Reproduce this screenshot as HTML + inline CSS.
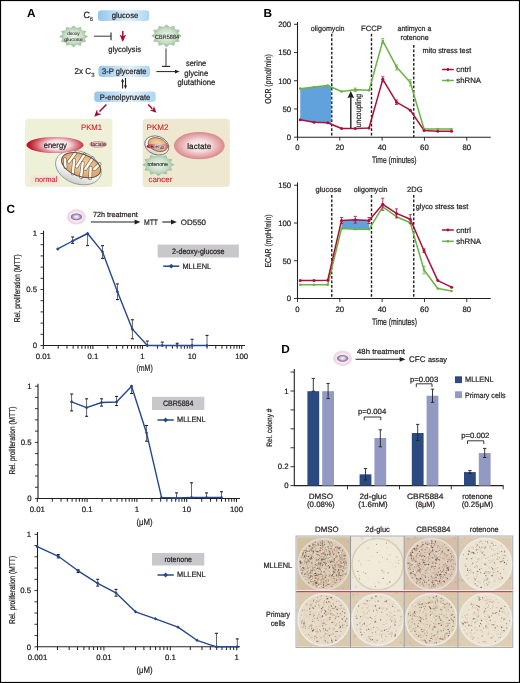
<!DOCTYPE html>
<html><head><meta charset="utf-8"><title>Figure</title>
<style>html,body{margin:0;padding:0;background:#fff;}svg{display:block;will-change:transform;text-rendering:geometricPrecision;font-family:"Liberation Sans", sans-serif;}</style>
</head><body>
<svg width="520" height="683" viewBox="0 0 520 683" font-family='"Liberation Sans", sans-serif' fill="#231f20" stroke-linecap="butt"><defs>
<linearGradient id="gbox" x1="0" y1="0" x2="1" y2="0">
<stop offset="0" stop-color="#92c6eb"/><stop offset="0.6" stop-color="#e2f1fb"/><stop offset="1" stop-color="#add6f1"/></linearGradient>
<radialGradient id="gstar" cx="0.5" cy="0.5" r="0.5">
<stop offset="0" stop-color="#eef5ec"/><stop offset="0.6" stop-color="#c9dec7"/><stop offset="1" stop-color="#92b994"/></radialGradient>
<radialGradient id="gred" cx="0.55" cy="0.5" r="0.5" gradientTransform="translate(0.55 0.5) scale(1 1.5) translate(-0.55 -0.5)">
<stop offset="0" stop-color="#ffffff"/><stop offset="0.4" stop-color="#f5dde0"/><stop offset="0.78" stop-color="#d35a68"/><stop offset="1" stop-color="#b8182a"/></radialGradient>
<radialGradient id="glac" cx="0.5" cy="0.5" r="0.5">
<stop offset="0" stop-color="#fdf8f6"/><stop offset="0.45" stop-color="#f4d9d9"/><stop offset="0.8" stop-color="#e4a5a8"/><stop offset="1" stop-color="#d8878c"/></radialGradient>
<radialGradient id="gcellout" cx="0.5" cy="0.5" r="0.5">
<stop offset="0" stop-color="#fcf3f8"/><stop offset="0.6" stop-color="#f9eaf3"/><stop offset="0.86" stop-color="#f0d2e5"/><stop offset="1" stop-color="#f7e3ef"/></radialGradient>
<radialGradient id="gcellin" cx="0.5" cy="0.5" r="0.5">
<stop offset="0" stop-color="#ffffff"/><stop offset="0.45" stop-color="#d2c8dc"/><stop offset="1" stop-color="#76598f"/></radialGradient>
<radialGradient id="gmito" cx="0.5" cy="0.45" r="0.55">
<stop offset="0" stop-color="#f7dcb6"/><stop offset="1" stop-color="#dca066"/></radialGradient>
<filter id="pblur" x="0" y="0" width="1" height="1"><feGaussianBlur stdDeviation="0.3"/></filter>
<linearGradient id="gmout" x1="0" y1="0" x2="0" y2="1">
<stop offset="0" stop-color="#ffffff"/><stop offset="0.65" stop-color="#f5f5f5"/><stop offset="1" stop-color="#cdcdcd"/></linearGradient>
</defs>
<rect x="0" y="0" width="520" height="683" fill="#fff"/>
<text x="27" y="16.8" font-size="11.8" fill="#000" font-weight="bold">A</text>
<text x="83.6" y="18.2" font-size="9" stroke="#231f20" stroke-width="0.22">C</text>
<text x="89.8" y="20.5" font-size="6" stroke="#231f20" stroke-width="0.1">6</text>
<rect x="98" y="10.2" width="51.2" height="10.8" rx="3.2" fill="url(#gbox)"/>
<text x="125" y="18.3" font-size="8" text-anchor="middle" textLength="26.6" lengthAdjust="spacingAndGlyphs" stroke="#231f20" stroke-width="0.22">glucose</text>
<polygon points="88,36.4 84.73,38.64 86.07,41.8 81.75,42.51 80.8,45.75 76.58,44.75 73.6,47.2 70.62,44.75 66.4,45.75 65.45,42.51 61.13,41.8 62.47,38.64 59.2,36.4 62.47,34.16 61.13,31 65.45,30.29 66.4,27.05 70.62,28.05 73.6,25.6 76.58,28.05 80.8,27.05 81.75,30.29 86.07,31 84.73,34.16" fill="url(#gstar)"/>
<text x="73.4" y="35" font-size="4.8" text-anchor="middle" textLength="12.5" lengthAdjust="spacingAndGlyphs" stroke="#231f20" stroke-width="0.05">deoxy</text>
<text x="73.4" y="41" font-size="4.8" text-anchor="middle" textLength="18.5" lengthAdjust="spacingAndGlyphs" stroke="#231f20" stroke-width="0.05">glucose</text>
<line x1="94" y1="36.2" x2="111" y2="36.2" stroke="#231f20" stroke-width="0.9"/>
<line x1="111" y1="32.4" x2="111" y2="40.2" stroke="#231f20" stroke-width="1.1"/>
<line x1="122.8" y1="30.9" x2="122.8" y2="37" stroke="#a8062f" stroke-width="1.5"/>
<polygon points="122.8,41.9 119.5,34.5 122.8,36.57 126.1,34.5" fill="#a8062f"/>
<text x="108.2" y="52.2" font-size="8" textLength="32.8" lengthAdjust="spacingAndGlyphs" stroke="#231f20" stroke-width="0.22">glycolysis</text>
<polygon points="181.7,35.8 178.25,38.16 179.66,41.5 175.1,42.25 174.1,45.67 169.65,44.61 166.5,47.2 163.35,44.61 158.9,45.67 157.9,42.25 153.34,41.5 154.75,38.16 151.3,35.8 154.75,33.44 153.34,30.1 157.9,29.35 158.9,25.93 163.35,26.99 166.5,24.4 169.65,26.99 174.1,25.93 175.1,29.35 179.66,30.1 178.25,33.44" fill="url(#gstar)"/>
<text x="167.1" y="38.5" font-size="6" text-anchor="middle" textLength="24" lengthAdjust="spacingAndGlyphs" stroke="#231f20" stroke-width="0.1">CBR5884</text>
<line x1="166" y1="48.5" x2="166" y2="66.4" stroke="#231f20" stroke-width="0.9"/>
<line x1="162" y1="66.4" x2="170.2" y2="66.4" stroke="#231f20" stroke-width="1.1"/>
<text x="74.6" y="73.8" font-size="8.6" textLength="16.4" lengthAdjust="spacingAndGlyphs" stroke="#231f20" stroke-width="0.22">2x C</text>
<text x="91.3" y="76.8" font-size="6" stroke="#231f20" stroke-width="0.1">3</text>
<rect x="98.5" y="65.8" width="51.5" height="11.2" rx="3.2" fill="url(#gbox)"/>
<text x="124.3" y="74.4" font-size="8" text-anchor="middle" textLength="44.5" lengthAdjust="spacingAndGlyphs" stroke="#231f20" stroke-width="0.22">3-P glycerate</text>
<line x1="156.4" y1="71.6" x2="176" y2="71.6" stroke="#231f20" stroke-width="1"/>
<polygon points="179.6,71.6 175,73.5 175,69.7" fill="#231f20"/>
<text x="196.1" y="66.4" font-size="8.2" text-anchor="middle" textLength="20.4" lengthAdjust="spacingAndGlyphs" stroke="#231f20" stroke-width="0.22">serine</text>
<text x="196.2" y="75.9" font-size="8.2" text-anchor="middle" textLength="24" lengthAdjust="spacingAndGlyphs" stroke="#231f20" stroke-width="0.22">glycine</text>
<text x="196.4" y="85.3" font-size="8.2" text-anchor="middle" textLength="37.8" lengthAdjust="spacingAndGlyphs" stroke="#231f20" stroke-width="0.22">glutathione</text>
<line x1="122.6" y1="88.6" x2="122.6" y2="80.5" stroke="#231f20" stroke-width="1.1"/>
<polygon points="122.6,78.4 124.15,81.8 121.05,81.8" fill="#231f20"/>
<line x1="125.5" y1="78" x2="125.5" y2="86.5" stroke="#231f20" stroke-width="1.1"/>
<polygon points="125.5,89 123.95,85.6 127.05,85.6" fill="#231f20"/>
<rect x="94.3" y="91.6" width="61.4" height="10.4" rx="3.2" fill="url(#gbox)"/>
<text x="125" y="99.6" font-size="8" text-anchor="middle" textLength="50.5" lengthAdjust="spacingAndGlyphs" stroke="#231f20" stroke-width="0.22">P-enolpyruvate</text>
<line x1="106.4" y1="104.5" x2="99.5" y2="111.6" stroke="#a8062f" stroke-width="1.5"/>
<polygon points="94.2,116.8 96.96,109.38 97.87,113.13 101.62,114.04" fill="#a8062f"/>
<line x1="148.2" y1="104.5" x2="152.3" y2="108.7" stroke="#a8062f" stroke-width="1.5"/>
<polygon points="156.4,112.8 149.54,110.33 153.04,109.44 153.93,105.94" fill="#a8062f"/>
<rect x="25" y="118.8" width="87.4" height="68.2" rx="3.5" fill="#eef0d8"/>
<rect x="142.7" y="118.8" width="87.1" height="68.2" rx="3.5" fill="#efe8d1"/>
<text x="81" y="129.6" font-size="8" textLength="21" lengthAdjust="spacingAndGlyphs" fill="#cc2233" stroke="#cc2233" stroke-width="0.1">PKM1</text>
<text x="146.6" y="129.6" font-size="8" textLength="22" lengthAdjust="spacingAndGlyphs" fill="#cc2233" stroke="#cc2233" stroke-width="0.1">PKM2</text>
<rect x="30" y="175.3" width="29.2" height="9.2" fill="#f3e6d8"/>
<text x="35" y="181.8" font-size="7.8" textLength="22" lengthAdjust="spacingAndGlyphs" fill="#cc2233" stroke="#cc2233" stroke-width="0.1">normal</text>
<text x="148.5" y="181.8" font-size="7.8" textLength="23.8" lengthAdjust="spacingAndGlyphs" fill="#cc2233" stroke="#cc2233" stroke-width="0.1">cancer</text>
<ellipse cx="78.4" cy="167.6" rx="23.6" ry="16.2" fill="url(#gmout)" stroke="#8e8e8e" stroke-width="0.8" transform="rotate(20 78.4 167.6)"/>
<g transform="rotate(20 81.1 165.2)">
<ellipse cx="81.1" cy="165.2" rx="20.4" ry="11.2" fill="url(#gmito)"/>
<path d="M67.1,172.42 L63.9,165.2" stroke="#6e5e48" stroke-width="3.7" stroke-linecap="round"/>
<path d="M67.1,172.42 L63.9,165.2" stroke="#fbf8ea" stroke-width="2.5" stroke-linecap="round"/>
<path d="M71.6,155.8 L68.4,166.14" stroke="#6e5e48" stroke-width="3.7" stroke-linecap="round"/>
<path d="M71.6,155.8 L68.4,166.14" stroke="#fbf8ea" stroke-width="2.5" stroke-linecap="round"/>
<path d="M76.1,175.8 L72.9,162.66" stroke="#6e5e48" stroke-width="3.7" stroke-linecap="round"/>
<path d="M76.1,175.8 L72.9,162.66" stroke="#fbf8ea" stroke-width="2.5" stroke-linecap="round"/>
<path d="M80.6,154.06 L77.4,167.87" stroke="#6e5e48" stroke-width="3.7" stroke-linecap="round"/>
<path d="M80.6,154.06 L77.4,167.87" stroke="#fbf8ea" stroke-width="2.5" stroke-linecap="round"/>
<path d="M85.1,176.32 L81.9,162.53" stroke="#6e5e48" stroke-width="3.7" stroke-linecap="round"/>
<path d="M85.1,176.32 L81.9,162.53" stroke="#fbf8ea" stroke-width="2.5" stroke-linecap="round"/>
<path d="M89.6,154.66 L86.4,167.31" stroke="#6e5e48" stroke-width="3.7" stroke-linecap="round"/>
<path d="M89.6,154.66 L86.4,167.31" stroke="#fbf8ea" stroke-width="2.5" stroke-linecap="round"/>
<path d="M94.1,174.49 L90.9,164.27" stroke="#6e5e48" stroke-width="3.7" stroke-linecap="round"/>
<path d="M94.1,174.49 L90.9,164.27" stroke="#fbf8ea" stroke-width="2.5" stroke-linecap="round"/>
<path d="M98.1,157.85 L94.9,164.47" stroke="#6e5e48" stroke-width="3.7" stroke-linecap="round"/>
<path d="M98.1,157.85 L94.9,164.47" stroke="#fbf8ea" stroke-width="2.5" stroke-linecap="round"/>
<ellipse cx="81.1" cy="165.2" rx="20.4" ry="11.2" fill="none" stroke="#5e5240" stroke-width="1"/>
</g>
<ellipse cx="55" cy="145" rx="28.6" ry="8" fill="url(#gred)"/>
<text x="55.3" y="148" font-size="8.2" text-anchor="middle" textLength="23.3" lengthAdjust="spacingAndGlyphs" stroke="#231f20" stroke-width="0.22">energy</text>
<ellipse cx="98.2" cy="144.3" rx="8.9" ry="3.3" fill="url(#glac)"/>
<text x="98.4" y="146.1" font-size="5.4" text-anchor="middle" textLength="14.6" lengthAdjust="spacingAndGlyphs" stroke="#231f20" stroke-width="0.05">lactate</text>
<ellipse cx="199.3" cy="145.6" rx="25.4" ry="13.6" fill="url(#glac)"/>
<text x="199.3" y="148.6" font-size="8" text-anchor="middle" textLength="24" lengthAdjust="spacingAndGlyphs" stroke="#231f20" stroke-width="0.22">lactate</text>
<g transform="rotate(20 156.8 145.5)">
<ellipse cx="156.8" cy="145.5" rx="12.4" ry="9.2" fill="url(#gmout)" stroke="#666" stroke-width="0.8"/>
<ellipse cx="157.5" cy="144.3" rx="10" ry="6.5" fill="url(#gmito)" stroke="#6e5a40" stroke-width="0.7"/>
</g>
<ellipse cx="157.6" cy="146.4" rx="11.2" ry="2.7" fill="url(#gred)"/>
<text x="157.4" y="147.8" font-size="4.6" text-anchor="middle" textLength="13.5" lengthAdjust="spacingAndGlyphs" stroke="#231f20" stroke-width="0.05">energy</text>
<polygon points="174.4,164.8 170.76,167.1 172.26,170.35 167.45,171.08 166.4,174.41 161.71,173.38 158.4,175.9 155.09,173.38 150.4,174.41 149.35,171.08 144.54,170.35 146.04,167.1 142.4,164.8 146.04,162.5 144.54,159.25 149.35,158.52 150.4,155.19 155.09,156.22 158.4,153.7 161.71,156.22 166.4,155.19 167.45,158.52 172.26,159.25 170.76,162.5" fill="url(#gstar)"/>
<text x="157.6" y="166.4" font-size="5.6" text-anchor="middle" textLength="20.4" lengthAdjust="spacingAndGlyphs" stroke="#231f20" stroke-width="0.1">rotenone</text>
<text x="263.6" y="16.9" font-size="11.8" fill="#000" font-weight="bold">B</text>
<line x1="297.5" y1="22" x2="297.5" y2="137.7" stroke="#231f20" stroke-width="1.1"/>
<line x1="297" y1="137.2" x2="490.8" y2="137.2" stroke="#231f20" stroke-width="1.1"/>
<line x1="294" y1="137.2" x2="297.5" y2="137.2" stroke="#231f20" stroke-width="0.9"/>
<text x="291.2" y="140" font-size="7.8" text-anchor="end" stroke="#231f20" stroke-width="0.22">0</text>
<line x1="294" y1="108.97" x2="297.5" y2="108.97" stroke="#231f20" stroke-width="0.9"/>
<text x="291.2" y="111.77" font-size="7.8" text-anchor="end" stroke="#231f20" stroke-width="0.22">50</text>
<line x1="294" y1="80.75" x2="297.5" y2="80.75" stroke="#231f20" stroke-width="0.9"/>
<text x="291.2" y="83.55" font-size="7.8" text-anchor="end" stroke="#231f20" stroke-width="0.22">100</text>
<line x1="294" y1="52.52" x2="297.5" y2="52.52" stroke="#231f20" stroke-width="0.9"/>
<text x="291.2" y="55.32" font-size="7.8" text-anchor="end" stroke="#231f20" stroke-width="0.22">150</text>
<line x1="294" y1="24.3" x2="297.5" y2="24.3" stroke="#231f20" stroke-width="0.9"/>
<text x="291.2" y="27.1" font-size="7.8" text-anchor="end" stroke="#231f20" stroke-width="0.22">200</text>
<line x1="297.5" y1="137.2" x2="297.5" y2="140.7" stroke="#231f20" stroke-width="0.9"/>
<text x="297.5" y="150.4" font-size="7.8" text-anchor="middle" stroke="#231f20" stroke-width="0.22">0</text>
<line x1="339.82" y1="137.2" x2="339.82" y2="140.7" stroke="#231f20" stroke-width="0.9"/>
<text x="339.82" y="150.4" font-size="7.8" text-anchor="middle" stroke="#231f20" stroke-width="0.22">20</text>
<line x1="382.14" y1="137.2" x2="382.14" y2="140.7" stroke="#231f20" stroke-width="0.9"/>
<text x="382.14" y="150.4" font-size="7.8" text-anchor="middle" stroke="#231f20" stroke-width="0.22">40</text>
<line x1="424.46" y1="137.2" x2="424.46" y2="140.7" stroke="#231f20" stroke-width="0.9"/>
<text x="424.46" y="150.4" font-size="7.8" text-anchor="middle" stroke="#231f20" stroke-width="0.22">60</text>
<line x1="466.78" y1="137.2" x2="466.78" y2="140.7" stroke="#231f20" stroke-width="0.9"/>
<text x="466.78" y="150.4" font-size="7.8" text-anchor="middle" stroke="#231f20" stroke-width="0.22">80</text>
<text x="394.3" y="163.3" font-size="9.3" text-anchor="middle" textLength="44.6" lengthAdjust="spacingAndGlyphs" stroke="#231f20" stroke-width="0.22">Time (minutes)</text>
<text x="271.2" y="79" font-size="8.6" text-anchor="middle" textLength="49.5" lengthAdjust="spacingAndGlyphs" stroke="#231f20" stroke-width="0.22" transform="rotate(-90 271.2 79)">OCR (pmol/min)</text>
<line x1="331.75" y1="33.8" x2="331.75" y2="137.2" stroke="#231f20" stroke-width="1.4" stroke-dasharray="2.8,1.7"/>
<line x1="371.5" y1="33.8" x2="371.5" y2="137.2" stroke="#231f20" stroke-width="1.4" stroke-dasharray="2.8,1.7"/>
<line x1="413.75" y1="45" x2="413.75" y2="137.2" stroke="#231f20" stroke-width="1.4" stroke-dasharray="2.8,1.7"/>
<text x="310.8" y="31" font-size="7.6" textLength="33.8" lengthAdjust="spacingAndGlyphs" stroke="#231f20" stroke-width="0.22">oligomycin</text>
<text x="361" y="31" font-size="7.6" textLength="21" lengthAdjust="spacingAndGlyphs" stroke="#231f20" stroke-width="0.22">FCCP</text>
<text x="397.5" y="31" font-size="7.6" textLength="33.8" lengthAdjust="spacingAndGlyphs" stroke="#231f20" stroke-width="0.22">antimycn a</text>
<text x="400.5" y="40.2" font-size="7.6" textLength="28.3" lengthAdjust="spacingAndGlyphs" stroke="#231f20" stroke-width="0.22">rotenone</text>
<text x="422.5" y="53" font-size="7.6" textLength="48.8" lengthAdjust="spacingAndGlyphs" stroke="#231f20" stroke-width="0.22">mito stress test</text>
<polygon points="300.25,88.65 314,86.96 327.76,85.55 331.2,87.03 331.2,124.13 327.76,122.69 314,122.24 300.25,119.7" fill="#62a2dc"/>
<polyline points="300.25,88.65 314,86.96 327.76,85.55 341.51,91.48 355.27,89.78 369.02,90.35 382.77,40.95 396.53,66.92 410.28,82.44 424.04,129.01 437.79,129.01 451.54,129.01" fill="none" stroke="#6ab344" stroke-width="1.5" stroke-linejoin="round"/>
<polyline points="300.25,119.7 314,122.24 327.76,122.69 341.51,128.45 355.27,128.45 369.02,128 382.77,79.34 396.53,102.2 410.28,110.22 424.04,130.43 437.79,131.22 451.54,131.22" fill="none" stroke="#ab1038" stroke-width="1.5" stroke-linejoin="round"/>
<circle cx="300.25" cy="88.65" r="1.3" fill="#6ab344"/>
<circle cx="314" cy="86.96" r="1.3" fill="#6ab344"/>
<circle cx="327.76" cy="85.55" r="1.3" fill="#6ab344"/>
<circle cx="341.51" cy="91.48" r="1.3" fill="#6ab344"/>
<circle cx="355.27" cy="89.78" r="1.3" fill="#6ab344"/>
<circle cx="369.02" cy="90.35" r="1.3" fill="#6ab344"/>
<circle cx="382.77" cy="40.95" r="1.3" fill="#6ab344"/>
<circle cx="396.53" cy="66.92" r="1.3" fill="#6ab344"/>
<circle cx="410.28" cy="82.44" r="1.3" fill="#6ab344"/>
<circle cx="424.04" cy="129.01" r="1.3" fill="#6ab344"/>
<circle cx="437.79" cy="129.01" r="1.3" fill="#6ab344"/>
<circle cx="451.54" cy="129.01" r="1.3" fill="#6ab344"/>
<circle cx="300.25" cy="119.7" r="1.5" fill="#ab1038"/>
<circle cx="314" cy="122.24" r="1.5" fill="#ab1038"/>
<circle cx="327.76" cy="122.69" r="1.5" fill="#ab1038"/>
<circle cx="341.51" cy="128.45" r="1.5" fill="#ab1038"/>
<circle cx="355.27" cy="128.45" r="1.5" fill="#ab1038"/>
<circle cx="369.02" cy="128" r="1.5" fill="#ab1038"/>
<circle cx="382.77" cy="79.34" r="1.5" fill="#ab1038"/>
<circle cx="396.53" cy="102.2" r="1.5" fill="#ab1038"/>
<circle cx="410.28" cy="110.22" r="1.5" fill="#ab1038"/>
<circle cx="424.04" cy="130.43" r="1.5" fill="#ab1038"/>
<circle cx="437.79" cy="131.22" r="1.5" fill="#ab1038"/>
<circle cx="451.54" cy="131.22" r="1.5" fill="#ab1038"/>
<line x1="382.77" y1="76.8" x2="382.77" y2="81.88" stroke="#ab1038" stroke-width="0.8"/>
<line x1="381.17" y1="76.8" x2="384.37" y2="76.8" stroke="#ab1038" stroke-width="0.8"/>
<line x1="381.17" y1="81.88" x2="384.37" y2="81.88" stroke="#ab1038" stroke-width="0.8"/>
<line x1="396.53" y1="99.94" x2="396.53" y2="104.46" stroke="#ab1038" stroke-width="0.8"/>
<line x1="394.93" y1="99.94" x2="398.13" y2="99.94" stroke="#ab1038" stroke-width="0.8"/>
<line x1="394.93" y1="104.46" x2="398.13" y2="104.46" stroke="#ab1038" stroke-width="0.8"/>
<line x1="396.53" y1="64.94" x2="396.53" y2="70.02" stroke="#6ab344" stroke-width="0.8"/>
<line x1="394.93" y1="64.94" x2="398.13" y2="64.94" stroke="#6ab344" stroke-width="0.8"/>
<line x1="394.93" y1="70.02" x2="398.13" y2="70.02" stroke="#6ab344" stroke-width="0.8"/>
<line x1="382.77" y1="38.41" x2="382.77" y2="43.49" stroke="#6ab344" stroke-width="0.8"/>
<line x1="381.17" y1="38.41" x2="384.37" y2="38.41" stroke="#6ab344" stroke-width="0.8"/>
<line x1="381.17" y1="43.49" x2="384.37" y2="43.49" stroke="#6ab344" stroke-width="0.8"/>
<line x1="410.28" y1="79.62" x2="410.28" y2="85.83" stroke="#6ab344" stroke-width="0.8"/>
<line x1="408.68" y1="79.62" x2="411.88" y2="79.62" stroke="#6ab344" stroke-width="0.8"/>
<line x1="408.68" y1="85.83" x2="411.88" y2="85.83" stroke="#6ab344" stroke-width="0.8"/>
<line x1="355.27" y1="88.09" x2="355.27" y2="91.48" stroke="#6ab344" stroke-width="0.8"/>
<line x1="353.67" y1="88.09" x2="356.87" y2="88.09" stroke="#6ab344" stroke-width="0.8"/>
<line x1="353.67" y1="91.48" x2="356.87" y2="91.48" stroke="#6ab344" stroke-width="0.8"/>
<line x1="350.8" y1="128.2" x2="350.8" y2="96" stroke="#231f20" stroke-width="1.4"/>
<polygon points="350.8,91 354.1,98 350.8,97.16 347.5,98" fill="#231f20"/>
<text x="360.6" y="127.2" font-size="8" textLength="33.2" lengthAdjust="spacingAndGlyphs" stroke="#231f20" stroke-width="0.22" transform="rotate(-90 360.6 127.2)">uncoupling</text>
<line x1="442" y1="69.5" x2="453.8" y2="69.5" stroke="#ab1038" stroke-width="1.5"/>
<circle cx="447.9" cy="69.5" r="1.4" fill="#ab1038"/>
<text x="456.3" y="72.3" font-size="7.8" stroke="#231f20" stroke-width="0.22">cntrl</text>
<line x1="442" y1="80.5" x2="453.8" y2="80.5" stroke="#6ab344" stroke-width="1.5"/>
<circle cx="447.9" cy="80.5" r="1.4" fill="#6ab344"/>
<text x="456.3" y="83.3" font-size="7.8" stroke="#231f20" stroke-width="0.22">shRNA</text>
<line x1="297.5" y1="182.5" x2="297.5" y2="299" stroke="#231f20" stroke-width="1.1"/>
<line x1="297" y1="298.5" x2="490.8" y2="298.5" stroke="#231f20" stroke-width="1.1"/>
<line x1="294" y1="298.5" x2="297.5" y2="298.5" stroke="#231f20" stroke-width="0.9"/>
<text x="291.2" y="301.3" font-size="7.8" text-anchor="end" stroke="#231f20" stroke-width="0.22">0</text>
<line x1="294" y1="260.75" x2="297.5" y2="260.75" stroke="#231f20" stroke-width="0.9"/>
<text x="291.2" y="263.55" font-size="7.8" text-anchor="end" stroke="#231f20" stroke-width="0.22">50</text>
<line x1="294" y1="223" x2="297.5" y2="223" stroke="#231f20" stroke-width="0.9"/>
<text x="291.2" y="225.8" font-size="7.8" text-anchor="end" stroke="#231f20" stroke-width="0.22">100</text>
<line x1="294" y1="185.25" x2="297.5" y2="185.25" stroke="#231f20" stroke-width="0.9"/>
<text x="291.2" y="188.05" font-size="7.8" text-anchor="end" stroke="#231f20" stroke-width="0.22">150</text>
<line x1="297.5" y1="298.5" x2="297.5" y2="302" stroke="#231f20" stroke-width="0.9"/>
<text x="297.5" y="311.7" font-size="7.8" text-anchor="middle" stroke="#231f20" stroke-width="0.22">0</text>
<line x1="339.82" y1="298.5" x2="339.82" y2="302" stroke="#231f20" stroke-width="0.9"/>
<text x="339.82" y="311.7" font-size="7.8" text-anchor="middle" stroke="#231f20" stroke-width="0.22">20</text>
<line x1="382.14" y1="298.5" x2="382.14" y2="302" stroke="#231f20" stroke-width="0.9"/>
<text x="382.14" y="311.7" font-size="7.8" text-anchor="middle" stroke="#231f20" stroke-width="0.22">40</text>
<line x1="424.46" y1="298.5" x2="424.46" y2="302" stroke="#231f20" stroke-width="0.9"/>
<text x="424.46" y="311.7" font-size="7.8" text-anchor="middle" stroke="#231f20" stroke-width="0.22">60</text>
<line x1="466.78" y1="298.5" x2="466.78" y2="302" stroke="#231f20" stroke-width="0.9"/>
<text x="466.78" y="311.7" font-size="7.8" text-anchor="middle" stroke="#231f20" stroke-width="0.22">80</text>
<text x="394.5" y="325.2" font-size="9.5" text-anchor="middle" textLength="45" lengthAdjust="spacingAndGlyphs" stroke="#231f20" stroke-width="0.22">Time (minutes)</text>
<text x="271.2" y="241" font-size="8.6" text-anchor="middle" textLength="53" lengthAdjust="spacingAndGlyphs" stroke="#231f20" stroke-width="0.22" transform="rotate(-90 271.2 241)">ECAR (mpH/min)</text>
<line x1="331.75" y1="195" x2="331.75" y2="298.5" stroke="#231f20" stroke-width="1.4" stroke-dasharray="2.8,1.7"/>
<line x1="371.5" y1="195" x2="371.5" y2="298.5" stroke="#231f20" stroke-width="1.4" stroke-dasharray="2.8,1.7"/>
<line x1="413.75" y1="195" x2="413.75" y2="298.5" stroke="#231f20" stroke-width="1.4" stroke-dasharray="2.8,1.7"/>
<text x="315.5" y="192" font-size="7.6" textLength="25.8" lengthAdjust="spacingAndGlyphs" stroke="#231f20" stroke-width="0.22">glucose</text>
<text x="353.8" y="192" font-size="7.6" textLength="33.8" lengthAdjust="spacingAndGlyphs" stroke="#231f20" stroke-width="0.22">oligomycin</text>
<text x="407" y="192" font-size="7.6" textLength="15.5" lengthAdjust="spacingAndGlyphs" stroke="#231f20" stroke-width="0.22">2DG</text>
<text x="415.8" y="208.8" font-size="7.6" textLength="52.5" lengthAdjust="spacingAndGlyphs" stroke="#231f20" stroke-width="0.22">glyco stress test</text>
<polygon points="341.51,220.51 355.27,219.75 369.02,220.51 369.02,229.27 355.27,229.27 341.51,228.51" fill="#62a2dc"/>
<polyline points="300.25,284.68 314,284.68 327.76,284.68 341.51,228.51 355.27,229.27 369.02,229.27 382.77,206.77 396.53,216.73 410.28,222.77 424.04,270.04 437.79,288.46 451.54,290.95" fill="none" stroke="#6ab344" stroke-width="1.5" stroke-linejoin="round"/>
<polyline points="300.25,280.61 314,280.61 327.76,280.15 341.51,220.51 355.27,219.75 369.02,220.51 382.77,204.28 396.53,213.41 410.28,219.22 424.04,250.71 437.79,280.61 451.54,287.18" fill="none" stroke="#ab1038" stroke-width="1.5" stroke-linejoin="round"/>
<circle cx="300.25" cy="284.68" r="1.3" fill="#6ab344"/>
<circle cx="314" cy="284.68" r="1.3" fill="#6ab344"/>
<circle cx="327.76" cy="284.68" r="1.3" fill="#6ab344"/>
<circle cx="341.51" cy="228.51" r="1.3" fill="#6ab344"/>
<circle cx="355.27" cy="229.27" r="1.3" fill="#6ab344"/>
<circle cx="369.02" cy="229.27" r="1.3" fill="#6ab344"/>
<circle cx="382.77" cy="206.77" r="1.3" fill="#6ab344"/>
<circle cx="396.53" cy="216.73" r="1.3" fill="#6ab344"/>
<circle cx="410.28" cy="222.77" r="1.3" fill="#6ab344"/>
<circle cx="424.04" cy="270.04" r="1.3" fill="#6ab344"/>
<circle cx="437.79" cy="288.46" r="1.3" fill="#6ab344"/>
<circle cx="451.54" cy="290.95" r="1.3" fill="#6ab344"/>
<circle cx="300.25" cy="280.61" r="1.5" fill="#ab1038"/>
<circle cx="314" cy="280.61" r="1.5" fill="#ab1038"/>
<circle cx="327.76" cy="280.15" r="1.5" fill="#ab1038"/>
<circle cx="341.51" cy="220.51" r="1.5" fill="#ab1038"/>
<circle cx="355.27" cy="219.75" r="1.5" fill="#ab1038"/>
<circle cx="369.02" cy="220.51" r="1.5" fill="#ab1038"/>
<circle cx="382.77" cy="204.28" r="1.5" fill="#ab1038"/>
<circle cx="396.53" cy="213.41" r="1.5" fill="#ab1038"/>
<circle cx="410.28" cy="219.22" r="1.5" fill="#ab1038"/>
<circle cx="424.04" cy="250.71" r="1.5" fill="#ab1038"/>
<circle cx="437.79" cy="280.61" r="1.5" fill="#ab1038"/>
<circle cx="451.54" cy="287.18" r="1.5" fill="#ab1038"/>
<line x1="341.51" y1="217.49" x2="341.51" y2="223.53" stroke="#ab1038" stroke-width="0.8"/>
<line x1="339.91" y1="217.49" x2="343.11" y2="217.49" stroke="#ab1038" stroke-width="0.8"/>
<line x1="339.91" y1="223.53" x2="343.11" y2="223.53" stroke="#ab1038" stroke-width="0.8"/>
<line x1="355.27" y1="216.36" x2="355.27" y2="223.15" stroke="#ab1038" stroke-width="0.8"/>
<line x1="353.67" y1="216.36" x2="356.87" y2="216.36" stroke="#ab1038" stroke-width="0.8"/>
<line x1="353.67" y1="223.15" x2="356.87" y2="223.15" stroke="#ab1038" stroke-width="0.8"/>
<line x1="369.02" y1="217.49" x2="369.02" y2="223.53" stroke="#ab1038" stroke-width="0.8"/>
<line x1="367.42" y1="217.49" x2="370.62" y2="217.49" stroke="#ab1038" stroke-width="0.8"/>
<line x1="367.42" y1="223.53" x2="370.62" y2="223.53" stroke="#ab1038" stroke-width="0.8"/>
<line x1="382.77" y1="198.24" x2="382.77" y2="210.32" stroke="#ab1038" stroke-width="0.8"/>
<line x1="381.17" y1="198.24" x2="384.37" y2="198.24" stroke="#ab1038" stroke-width="0.8"/>
<line x1="381.17" y1="210.32" x2="384.37" y2="210.32" stroke="#ab1038" stroke-width="0.8"/>
<line x1="396.53" y1="208.88" x2="396.53" y2="217.94" stroke="#ab1038" stroke-width="0.8"/>
<line x1="394.93" y1="208.88" x2="398.13" y2="208.88" stroke="#ab1038" stroke-width="0.8"/>
<line x1="394.93" y1="217.94" x2="398.13" y2="217.94" stroke="#ab1038" stroke-width="0.8"/>
<line x1="410.28" y1="214.69" x2="410.28" y2="223.75" stroke="#ab1038" stroke-width="0.8"/>
<line x1="408.68" y1="214.69" x2="411.88" y2="214.69" stroke="#ab1038" stroke-width="0.8"/>
<line x1="408.68" y1="223.75" x2="411.88" y2="223.75" stroke="#ab1038" stroke-width="0.8"/>
<line x1="424.04" y1="248.82" x2="424.04" y2="252.6" stroke="#ab1038" stroke-width="0.8"/>
<line x1="422.44" y1="248.82" x2="425.64" y2="248.82" stroke="#ab1038" stroke-width="0.8"/>
<line x1="422.44" y1="252.6" x2="425.64" y2="252.6" stroke="#ab1038" stroke-width="0.8"/>
<line x1="424.04" y1="266.26" x2="424.04" y2="273.81" stroke="#6ab344" stroke-width="0.8"/>
<line x1="422.44" y1="266.26" x2="425.64" y2="266.26" stroke="#6ab344" stroke-width="0.8"/>
<line x1="422.44" y1="273.81" x2="425.64" y2="273.81" stroke="#6ab344" stroke-width="0.8"/>
<line x1="442" y1="230" x2="453.8" y2="230" stroke="#ab1038" stroke-width="1.5"/>
<circle cx="447.9" cy="230" r="1.4" fill="#ab1038"/>
<text x="456.3" y="232.8" font-size="7.8" stroke="#231f20" stroke-width="0.22">cntrl</text>
<line x1="442" y1="241.3" x2="453.8" y2="241.3" stroke="#6ab344" stroke-width="1.5"/>
<circle cx="447.9" cy="241.3" r="1.4" fill="#6ab344"/>
<text x="456.3" y="244.1" font-size="7.8" stroke="#231f20" stroke-width="0.22">shRNA</text>
<text x="6.4" y="212.8" font-size="11.8" fill="#000" font-weight="bold">C</text>
<ellipse cx="76.4" cy="216.9" rx="9.6" ry="7.8" fill="url(#gcellout)"/>
<ellipse cx="76.4" cy="216.9" rx="5.6" ry="3.4" fill="url(#gcellin)"/>
<text x="93" y="216.6" font-size="7.4" textLength="44.7" lengthAdjust="spacingAndGlyphs" stroke="#231f20" stroke-width="0.22">72h treatment</text>
<line x1="90.8" y1="222" x2="135" y2="222" stroke="#231f20" stroke-width="1.1"/>
<polygon points="140.4,222 134.6,224.4 134.6,219.6" fill="#231f20"/>
<text x="144" y="225" font-size="7.9" textLength="14" lengthAdjust="spacingAndGlyphs" stroke="#231f20" stroke-width="0.22">MTT</text>
<line x1="162.3" y1="222" x2="172.5" y2="222" stroke="#231f20" stroke-width="1.1"/>
<polygon points="176.8,222 171,224.4 171,219.6" fill="#231f20"/>
<text x="180.8" y="225" font-size="7.8" textLength="25.2" lengthAdjust="spacingAndGlyphs" stroke="#231f20" stroke-width="0.22">OD550</text>
<line x1="43.5" y1="230.8" x2="43.5" y2="346" stroke="#231f20" stroke-width="1.1"/>
<line x1="40.5" y1="345.5" x2="43.5" y2="345.5" stroke="#231f20" stroke-width="0.9"/>
<line x1="40.5" y1="334.3" x2="43.5" y2="334.3" stroke="#231f20" stroke-width="0.9"/>
<line x1="40.5" y1="323.1" x2="43.5" y2="323.1" stroke="#231f20" stroke-width="0.9"/>
<line x1="40.5" y1="311.9" x2="43.5" y2="311.9" stroke="#231f20" stroke-width="0.9"/>
<line x1="40.5" y1="300.7" x2="43.5" y2="300.7" stroke="#231f20" stroke-width="0.9"/>
<line x1="40.5" y1="289.5" x2="43.5" y2="289.5" stroke="#231f20" stroke-width="0.9"/>
<line x1="40.5" y1="278.3" x2="43.5" y2="278.3" stroke="#231f20" stroke-width="0.9"/>
<line x1="40.5" y1="267.1" x2="43.5" y2="267.1" stroke="#231f20" stroke-width="0.9"/>
<line x1="40.5" y1="255.9" x2="43.5" y2="255.9" stroke="#231f20" stroke-width="0.9"/>
<line x1="40.5" y1="244.7" x2="43.5" y2="244.7" stroke="#231f20" stroke-width="0.9"/>
<line x1="40.5" y1="233.5" x2="43.5" y2="233.5" stroke="#231f20" stroke-width="0.9"/>
<text x="37" y="348.3" font-size="7.8" text-anchor="end" stroke="#231f20" stroke-width="0.22">0</text>
<text x="37" y="292.3" font-size="7.8" text-anchor="end" stroke="#231f20" stroke-width="0.22">0.5</text>
<text x="37" y="236.3" font-size="7.8" text-anchor="end" stroke="#231f20" stroke-width="0.22">1</text>
<line x1="43" y1="345.5" x2="245" y2="345.5" stroke="#231f20" stroke-width="1.1"/>
<line x1="43.3" y1="345.5" x2="43.3" y2="349.1" stroke="#231f20" stroke-width="1"/>
<line x1="58.23" y1="345.5" x2="58.23" y2="348.7" stroke="#231f20" stroke-width="1"/>
<line x1="66.97" y1="345.5" x2="66.97" y2="348.7" stroke="#231f20" stroke-width="1"/>
<line x1="73.16" y1="345.5" x2="73.16" y2="348.7" stroke="#231f20" stroke-width="1"/>
<line x1="77.97" y1="345.5" x2="77.97" y2="348.7" stroke="#231f20" stroke-width="1"/>
<line x1="81.9" y1="345.5" x2="81.9" y2="348.7" stroke="#231f20" stroke-width="1"/>
<line x1="85.22" y1="345.5" x2="85.22" y2="348.7" stroke="#231f20" stroke-width="1"/>
<line x1="88.09" y1="345.5" x2="88.09" y2="348.7" stroke="#231f20" stroke-width="1"/>
<line x1="90.63" y1="345.5" x2="90.63" y2="348.7" stroke="#231f20" stroke-width="1"/>
<line x1="92.9" y1="345.5" x2="92.9" y2="349.1" stroke="#231f20" stroke-width="1"/>
<line x1="107.83" y1="345.5" x2="107.83" y2="348.7" stroke="#231f20" stroke-width="1"/>
<line x1="116.57" y1="345.5" x2="116.57" y2="348.7" stroke="#231f20" stroke-width="1"/>
<line x1="122.76" y1="345.5" x2="122.76" y2="348.7" stroke="#231f20" stroke-width="1"/>
<line x1="127.57" y1="345.5" x2="127.57" y2="348.7" stroke="#231f20" stroke-width="1"/>
<line x1="131.5" y1="345.5" x2="131.5" y2="348.7" stroke="#231f20" stroke-width="1"/>
<line x1="134.82" y1="345.5" x2="134.82" y2="348.7" stroke="#231f20" stroke-width="1"/>
<line x1="137.69" y1="345.5" x2="137.69" y2="348.7" stroke="#231f20" stroke-width="1"/>
<line x1="140.23" y1="345.5" x2="140.23" y2="348.7" stroke="#231f20" stroke-width="1"/>
<line x1="142.5" y1="345.5" x2="142.5" y2="349.1" stroke="#231f20" stroke-width="1"/>
<line x1="157.43" y1="345.5" x2="157.43" y2="348.7" stroke="#231f20" stroke-width="1"/>
<line x1="166.17" y1="345.5" x2="166.17" y2="348.7" stroke="#231f20" stroke-width="1"/>
<line x1="172.36" y1="345.5" x2="172.36" y2="348.7" stroke="#231f20" stroke-width="1"/>
<line x1="177.17" y1="345.5" x2="177.17" y2="348.7" stroke="#231f20" stroke-width="1"/>
<line x1="181.1" y1="345.5" x2="181.1" y2="348.7" stroke="#231f20" stroke-width="1"/>
<line x1="184.42" y1="345.5" x2="184.42" y2="348.7" stroke="#231f20" stroke-width="1"/>
<line x1="187.29" y1="345.5" x2="187.29" y2="348.7" stroke="#231f20" stroke-width="1"/>
<line x1="189.83" y1="345.5" x2="189.83" y2="348.7" stroke="#231f20" stroke-width="1"/>
<line x1="192.1" y1="345.5" x2="192.1" y2="349.1" stroke="#231f20" stroke-width="1"/>
<line x1="207.03" y1="345.5" x2="207.03" y2="348.7" stroke="#231f20" stroke-width="1"/>
<line x1="215.77" y1="345.5" x2="215.77" y2="348.7" stroke="#231f20" stroke-width="1"/>
<line x1="221.96" y1="345.5" x2="221.96" y2="348.7" stroke="#231f20" stroke-width="1"/>
<line x1="226.77" y1="345.5" x2="226.77" y2="348.7" stroke="#231f20" stroke-width="1"/>
<line x1="230.7" y1="345.5" x2="230.7" y2="348.7" stroke="#231f20" stroke-width="1"/>
<line x1="234.02" y1="345.5" x2="234.02" y2="348.7" stroke="#231f20" stroke-width="1"/>
<line x1="236.89" y1="345.5" x2="236.89" y2="348.7" stroke="#231f20" stroke-width="1"/>
<line x1="239.43" y1="345.5" x2="239.43" y2="348.7" stroke="#231f20" stroke-width="1"/>
<line x1="241.7" y1="345.5" x2="241.7" y2="349.1" stroke="#231f20" stroke-width="1"/>
<text x="43.3" y="358.7" font-size="7.8" text-anchor="middle" stroke="#231f20" stroke-width="0.22">0.01</text>
<text x="92.9" y="358.7" font-size="7.8" text-anchor="middle" stroke="#231f20" stroke-width="0.22">0.1</text>
<text x="142.5" y="358.7" font-size="7.8" text-anchor="middle" stroke="#231f20" stroke-width="0.22">1</text>
<text x="192.1" y="358.7" font-size="7.8" text-anchor="middle" stroke="#231f20" stroke-width="0.22">10</text>
<text x="241.7" y="358.7" font-size="7.8" text-anchor="middle" stroke="#231f20" stroke-width="0.22">100</text>
<text x="144.6" y="371.1" font-size="9" text-anchor="middle" textLength="16.2" lengthAdjust="spacingAndGlyphs" stroke="#231f20" stroke-width="0.22">(mM)</text>
<line x1="72.65" y1="236.97" x2="72.65" y2="243.36" stroke="#555" stroke-width="0.9"/>
<line x1="71.15" y1="236.97" x2="74.15" y2="236.97" stroke="#222" stroke-width="1.1"/>
<line x1="71.15" y1="243.36" x2="74.15" y2="243.36" stroke="#222" stroke-width="1.1"/>
<line x1="87.58" y1="233.5" x2="87.58" y2="245.6" stroke="#555" stroke-width="0.9"/>
<line x1="86.08" y1="233.5" x2="89.08" y2="233.5" stroke="#222" stroke-width="1.1"/>
<line x1="86.08" y1="245.6" x2="89.08" y2="245.6" stroke="#222" stroke-width="1.1"/>
<line x1="102.51" y1="245.71" x2="102.51" y2="258.36" stroke="#555" stroke-width="0.9"/>
<line x1="101.01" y1="245.71" x2="104.01" y2="245.71" stroke="#222" stroke-width="1.1"/>
<line x1="101.01" y1="258.36" x2="104.01" y2="258.36" stroke="#222" stroke-width="1.1"/>
<line x1="117.44" y1="283.9" x2="117.44" y2="299.58" stroke="#555" stroke-width="0.9"/>
<line x1="115.94" y1="283.9" x2="118.94" y2="283.9" stroke="#222" stroke-width="1.1"/>
<line x1="115.94" y1="299.58" x2="118.94" y2="299.58" stroke="#222" stroke-width="1.1"/>
<line x1="132.38" y1="319.74" x2="132.38" y2="338.78" stroke="#555" stroke-width="0.9"/>
<line x1="130.88" y1="319.74" x2="133.88" y2="319.74" stroke="#222" stroke-width="1.1"/>
<line x1="130.88" y1="338.78" x2="133.88" y2="338.78" stroke="#222" stroke-width="1.1"/>
<line x1="147.31" y1="341.02" x2="147.31" y2="345.5" stroke="#555" stroke-width="0.9"/>
<line x1="145.81" y1="341.02" x2="148.81" y2="341.02" stroke="#222" stroke-width="1.1"/>
<line x1="145.81" y1="345.5" x2="148.81" y2="345.5" stroke="#222" stroke-width="1.1"/>
<line x1="162.24" y1="342.14" x2="162.24" y2="345.5" stroke="#555" stroke-width="0.9"/>
<line x1="160.74" y1="342.14" x2="163.74" y2="342.14" stroke="#222" stroke-width="1.1"/>
<line x1="160.74" y1="345.5" x2="163.74" y2="345.5" stroke="#222" stroke-width="1.1"/>
<line x1="177.17" y1="343.26" x2="177.17" y2="345.5" stroke="#555" stroke-width="0.9"/>
<line x1="175.67" y1="343.26" x2="178.67" y2="343.26" stroke="#222" stroke-width="1.1"/>
<line x1="175.67" y1="345.5" x2="178.67" y2="345.5" stroke="#222" stroke-width="1.1"/>
<line x1="192.1" y1="339.34" x2="192.1" y2="345.5" stroke="#555" stroke-width="0.9"/>
<line x1="190.6" y1="339.34" x2="193.6" y2="339.34" stroke="#222" stroke-width="1.1"/>
<line x1="190.6" y1="345.5" x2="193.6" y2="345.5" stroke="#222" stroke-width="1.1"/>
<line x1="207.03" y1="335.42" x2="207.03" y2="345.5" stroke="#555" stroke-width="0.9"/>
<line x1="205.53" y1="335.42" x2="208.53" y2="335.42" stroke="#222" stroke-width="1.1"/>
<line x1="205.53" y1="345.5" x2="208.53" y2="345.5" stroke="#222" stroke-width="1.1"/>
<polyline points="57.72,248.96 72.65,241 87.58,233.5 102.51,251.87 117.44,291.74 132.38,329.15 147.31,345.5 162.24,345.5 177.17,345.5 192.1,345.5 207.03,345.5" fill="none" stroke="#24488a" stroke-width="1.4" stroke-linejoin="round"/>
<rect x="56.52" y="247.76" width="2.4" height="2.4" fill="#24488a" transform="rotate(45 57.72 248.96)"/>
<rect x="71.45" y="239.8" width="2.4" height="2.4" fill="#24488a" transform="rotate(45 72.65 241)"/>
<rect x="86.38" y="232.3" width="2.4" height="2.4" fill="#24488a" transform="rotate(45 87.58 233.5)"/>
<rect x="101.31" y="250.67" width="2.4" height="2.4" fill="#24488a" transform="rotate(45 102.51 251.87)"/>
<rect x="116.24" y="290.54" width="2.4" height="2.4" fill="#24488a" transform="rotate(45 117.44 291.74)"/>
<rect x="131.18" y="327.95" width="2.4" height="2.4" fill="#24488a" transform="rotate(45 132.38 329.15)"/>
<rect x="146.11" y="344.3" width="2.4" height="2.4" fill="#24488a" transform="rotate(45 147.31 345.5)"/>
<rect x="161.04" y="344.3" width="2.4" height="2.4" fill="#24488a" transform="rotate(45 162.24 345.5)"/>
<rect x="175.97" y="344.3" width="2.4" height="2.4" fill="#24488a" transform="rotate(45 177.17 345.5)"/>
<rect x="190.9" y="344.3" width="2.4" height="2.4" fill="#24488a" transform="rotate(45 192.1 345.5)"/>
<rect x="205.83" y="344.3" width="2.4" height="2.4" fill="#24488a" transform="rotate(45 207.03 345.5)"/>
<rect x="157.7" y="244.6" width="81.2" height="12.9" fill="#c8c8cc"/>
<text x="198.3" y="253.85" font-size="7.8" text-anchor="middle" textLength="52.5" lengthAdjust="spacingAndGlyphs" stroke="#231f20" stroke-width="0.22">2-deoxy-glucose</text>
<line x1="163.2" y1="266.2" x2="179.2" y2="266.2" stroke="#24488a" stroke-width="1.5"/>
<rect x="169.5" y="264.5" width="3.4" height="3.4" fill="#24488a" transform="rotate(45 171.2 266.2)"/>
<text x="182.5" y="268.6" font-size="7.8" textLength="28.6" lengthAdjust="spacingAndGlyphs" stroke="#231f20" stroke-width="0.22">MLLENL</text>
<text x="20.2" y="288.3" font-size="8.4" text-anchor="middle" textLength="68" lengthAdjust="spacingAndGlyphs" stroke="#231f20" stroke-width="0.22" transform="rotate(-90 20.2 288.3)">Rel. proliferation (MTT)</text>
<line x1="38" y1="383.8" x2="38" y2="499" stroke="#231f20" stroke-width="1.1"/>
<line x1="35" y1="498.5" x2="38" y2="498.5" stroke="#231f20" stroke-width="0.9"/>
<line x1="35" y1="487.27" x2="38" y2="487.27" stroke="#231f20" stroke-width="0.9"/>
<line x1="35" y1="476.04" x2="38" y2="476.04" stroke="#231f20" stroke-width="0.9"/>
<line x1="35" y1="464.81" x2="38" y2="464.81" stroke="#231f20" stroke-width="0.9"/>
<line x1="35" y1="453.58" x2="38" y2="453.58" stroke="#231f20" stroke-width="0.9"/>
<line x1="35" y1="442.35" x2="38" y2="442.35" stroke="#231f20" stroke-width="0.9"/>
<line x1="35" y1="431.12" x2="38" y2="431.12" stroke="#231f20" stroke-width="0.9"/>
<line x1="35" y1="419.89" x2="38" y2="419.89" stroke="#231f20" stroke-width="0.9"/>
<line x1="35" y1="408.66" x2="38" y2="408.66" stroke="#231f20" stroke-width="0.9"/>
<line x1="35" y1="397.43" x2="38" y2="397.43" stroke="#231f20" stroke-width="0.9"/>
<line x1="35" y1="386.2" x2="38" y2="386.2" stroke="#231f20" stroke-width="0.9"/>
<text x="31.5" y="501.3" font-size="7.8" text-anchor="end" stroke="#231f20" stroke-width="0.22">0</text>
<text x="31.5" y="445.15" font-size="7.8" text-anchor="end" stroke="#231f20" stroke-width="0.22">0.5</text>
<text x="31.5" y="389" font-size="7.8" text-anchor="end" stroke="#231f20" stroke-width="0.22">1</text>
<line x1="37.5" y1="498.5" x2="240" y2="498.5" stroke="#231f20" stroke-width="1.1"/>
<line x1="37.3" y1="498.5" x2="37.3" y2="502.1" stroke="#231f20" stroke-width="1"/>
<line x1="52.29" y1="498.5" x2="52.29" y2="501.7" stroke="#231f20" stroke-width="1"/>
<line x1="61.06" y1="498.5" x2="61.06" y2="501.7" stroke="#231f20" stroke-width="1"/>
<line x1="67.28" y1="498.5" x2="67.28" y2="501.7" stroke="#231f20" stroke-width="1"/>
<line x1="72.11" y1="498.5" x2="72.11" y2="501.7" stroke="#231f20" stroke-width="1"/>
<line x1="76.05" y1="498.5" x2="76.05" y2="501.7" stroke="#231f20" stroke-width="1"/>
<line x1="79.39" y1="498.5" x2="79.39" y2="501.7" stroke="#231f20" stroke-width="1"/>
<line x1="82.27" y1="498.5" x2="82.27" y2="501.7" stroke="#231f20" stroke-width="1"/>
<line x1="84.82" y1="498.5" x2="84.82" y2="501.7" stroke="#231f20" stroke-width="1"/>
<line x1="87.1" y1="498.5" x2="87.1" y2="502.1" stroke="#231f20" stroke-width="1"/>
<line x1="102.09" y1="498.5" x2="102.09" y2="501.7" stroke="#231f20" stroke-width="1"/>
<line x1="110.86" y1="498.5" x2="110.86" y2="501.7" stroke="#231f20" stroke-width="1"/>
<line x1="117.08" y1="498.5" x2="117.08" y2="501.7" stroke="#231f20" stroke-width="1"/>
<line x1="121.91" y1="498.5" x2="121.91" y2="501.7" stroke="#231f20" stroke-width="1"/>
<line x1="125.85" y1="498.5" x2="125.85" y2="501.7" stroke="#231f20" stroke-width="1"/>
<line x1="129.19" y1="498.5" x2="129.19" y2="501.7" stroke="#231f20" stroke-width="1"/>
<line x1="132.07" y1="498.5" x2="132.07" y2="501.7" stroke="#231f20" stroke-width="1"/>
<line x1="134.62" y1="498.5" x2="134.62" y2="501.7" stroke="#231f20" stroke-width="1"/>
<line x1="136.9" y1="498.5" x2="136.9" y2="502.1" stroke="#231f20" stroke-width="1"/>
<line x1="151.89" y1="498.5" x2="151.89" y2="501.7" stroke="#231f20" stroke-width="1"/>
<line x1="160.66" y1="498.5" x2="160.66" y2="501.7" stroke="#231f20" stroke-width="1"/>
<line x1="166.88" y1="498.5" x2="166.88" y2="501.7" stroke="#231f20" stroke-width="1"/>
<line x1="171.71" y1="498.5" x2="171.71" y2="501.7" stroke="#231f20" stroke-width="1"/>
<line x1="175.65" y1="498.5" x2="175.65" y2="501.7" stroke="#231f20" stroke-width="1"/>
<line x1="178.99" y1="498.5" x2="178.99" y2="501.7" stroke="#231f20" stroke-width="1"/>
<line x1="181.87" y1="498.5" x2="181.87" y2="501.7" stroke="#231f20" stroke-width="1"/>
<line x1="184.42" y1="498.5" x2="184.42" y2="501.7" stroke="#231f20" stroke-width="1"/>
<line x1="186.7" y1="498.5" x2="186.7" y2="502.1" stroke="#231f20" stroke-width="1"/>
<line x1="201.69" y1="498.5" x2="201.69" y2="501.7" stroke="#231f20" stroke-width="1"/>
<line x1="210.46" y1="498.5" x2="210.46" y2="501.7" stroke="#231f20" stroke-width="1"/>
<line x1="216.68" y1="498.5" x2="216.68" y2="501.7" stroke="#231f20" stroke-width="1"/>
<line x1="221.51" y1="498.5" x2="221.51" y2="501.7" stroke="#231f20" stroke-width="1"/>
<line x1="225.45" y1="498.5" x2="225.45" y2="501.7" stroke="#231f20" stroke-width="1"/>
<line x1="228.79" y1="498.5" x2="228.79" y2="501.7" stroke="#231f20" stroke-width="1"/>
<line x1="231.67" y1="498.5" x2="231.67" y2="501.7" stroke="#231f20" stroke-width="1"/>
<line x1="234.22" y1="498.5" x2="234.22" y2="501.7" stroke="#231f20" stroke-width="1"/>
<line x1="236.5" y1="498.5" x2="236.5" y2="502.1" stroke="#231f20" stroke-width="1"/>
<text x="37.3" y="511.7" font-size="7.8" text-anchor="middle" stroke="#231f20" stroke-width="0.22">0.01</text>
<text x="87.1" y="511.7" font-size="7.8" text-anchor="middle" stroke="#231f20" stroke-width="0.22">0.1</text>
<text x="136.9" y="511.7" font-size="7.8" text-anchor="middle" stroke="#231f20" stroke-width="0.22">1</text>
<text x="186.7" y="511.7" font-size="7.8" text-anchor="middle" stroke="#231f20" stroke-width="0.22">10</text>
<text x="236.5" y="511.7" font-size="7.8" text-anchor="middle" stroke="#231f20" stroke-width="0.22">100</text>
<text x="144.6" y="524.6" font-size="9" text-anchor="middle" textLength="16.2" lengthAdjust="spacingAndGlyphs" stroke="#231f20" stroke-width="0.22">(μM)</text>
<line x1="71.6" y1="394.06" x2="71.6" y2="410.91" stroke="#555" stroke-width="0.9"/>
<line x1="70.1" y1="394.06" x2="73.1" y2="394.06" stroke="#222" stroke-width="1.1"/>
<line x1="70.1" y1="410.91" x2="73.1" y2="410.91" stroke="#222" stroke-width="1.1"/>
<line x1="86.59" y1="398.78" x2="86.59" y2="416.3" stroke="#555" stroke-width="0.9"/>
<line x1="85.09" y1="398.78" x2="88.09" y2="398.78" stroke="#222" stroke-width="1.1"/>
<line x1="85.09" y1="416.3" x2="88.09" y2="416.3" stroke="#222" stroke-width="1.1"/>
<line x1="101.58" y1="398.78" x2="101.58" y2="406.08" stroke="#555" stroke-width="0.9"/>
<line x1="100.08" y1="398.78" x2="103.08" y2="398.78" stroke="#222" stroke-width="1.1"/>
<line x1="100.08" y1="406.08" x2="103.08" y2="406.08" stroke="#222" stroke-width="1.1"/>
<line x1="116.57" y1="396.42" x2="116.57" y2="405.52" stroke="#555" stroke-width="0.9"/>
<line x1="115.07" y1="396.42" x2="118.07" y2="396.42" stroke="#222" stroke-width="1.1"/>
<line x1="115.07" y1="405.52" x2="118.07" y2="405.52" stroke="#222" stroke-width="1.1"/>
<line x1="131.56" y1="386.2" x2="131.56" y2="393.5" stroke="#555" stroke-width="0.9"/>
<line x1="130.06" y1="386.2" x2="133.06" y2="386.2" stroke="#222" stroke-width="1.1"/>
<line x1="130.06" y1="393.5" x2="133.06" y2="393.5" stroke="#222" stroke-width="1.1"/>
<line x1="146.55" y1="425.5" x2="146.55" y2="441.23" stroke="#555" stroke-width="0.9"/>
<line x1="145.05" y1="425.5" x2="148.05" y2="425.5" stroke="#222" stroke-width="1.1"/>
<line x1="145.05" y1="441.23" x2="148.05" y2="441.23" stroke="#222" stroke-width="1.1"/>
<line x1="176.53" y1="492.88" x2="176.53" y2="498.5" stroke="#555" stroke-width="0.9"/>
<line x1="175.03" y1="492.88" x2="178.03" y2="492.88" stroke="#222" stroke-width="1.1"/>
<line x1="175.03" y1="498.5" x2="178.03" y2="498.5" stroke="#222" stroke-width="1.1"/>
<line x1="191.53" y1="482.78" x2="191.53" y2="498.5" stroke="#555" stroke-width="0.9"/>
<line x1="190.03" y1="482.78" x2="193.03" y2="482.78" stroke="#222" stroke-width="1.1"/>
<line x1="190.03" y1="498.5" x2="193.03" y2="498.5" stroke="#222" stroke-width="1.1"/>
<line x1="206.52" y1="492.88" x2="206.52" y2="498.5" stroke="#555" stroke-width="0.9"/>
<line x1="205.02" y1="492.88" x2="208.02" y2="492.88" stroke="#222" stroke-width="1.1"/>
<line x1="205.02" y1="498.5" x2="208.02" y2="498.5" stroke="#222" stroke-width="1.1"/>
<line x1="221.51" y1="491.76" x2="221.51" y2="498.5" stroke="#555" stroke-width="0.9"/>
<line x1="220.01" y1="491.76" x2="223.01" y2="491.76" stroke="#222" stroke-width="1.1"/>
<line x1="220.01" y1="498.5" x2="223.01" y2="498.5" stroke="#222" stroke-width="1.1"/>
<polyline points="71.6,401.81 86.59,407.65 101.58,402.48 116.57,402.03 131.56,386.2 146.55,432.92 161.54,497.38 176.53,497.94 191.53,497.38 206.52,497.38 221.51,497.38" fill="none" stroke="#24488a" stroke-width="1.4" stroke-linejoin="round"/>
<rect x="70.4" y="400.61" width="2.4" height="2.4" fill="#24488a" transform="rotate(45 71.6 401.81)"/>
<rect x="85.39" y="406.45" width="2.4" height="2.4" fill="#24488a" transform="rotate(45 86.59 407.65)"/>
<rect x="100.38" y="401.28" width="2.4" height="2.4" fill="#24488a" transform="rotate(45 101.58 402.48)"/>
<rect x="115.37" y="400.83" width="2.4" height="2.4" fill="#24488a" transform="rotate(45 116.57 402.03)"/>
<rect x="130.36" y="385" width="2.4" height="2.4" fill="#24488a" transform="rotate(45 131.56 386.2)"/>
<rect x="145.35" y="431.72" width="2.4" height="2.4" fill="#24488a" transform="rotate(45 146.55 432.92)"/>
<rect x="160.34" y="496.18" width="2.4" height="2.4" fill="#24488a" transform="rotate(45 161.54 497.38)"/>
<rect x="175.33" y="496.74" width="2.4" height="2.4" fill="#24488a" transform="rotate(45 176.53 497.94)"/>
<rect x="190.33" y="496.18" width="2.4" height="2.4" fill="#24488a" transform="rotate(45 191.53 497.38)"/>
<rect x="205.32" y="496.18" width="2.4" height="2.4" fill="#24488a" transform="rotate(45 206.52 497.38)"/>
<rect x="220.31" y="496.18" width="2.4" height="2.4" fill="#24488a" transform="rotate(45 221.51 497.38)"/>
<rect x="152" y="396.8" width="52.3" height="13.2" fill="#c8c8cc"/>
<text x="178.15" y="406.2" font-size="7.8" text-anchor="middle" textLength="30.5" lengthAdjust="spacingAndGlyphs" stroke="#231f20" stroke-width="0.22">CBR5884</text>
<line x1="157.5" y1="420" x2="173.8" y2="420" stroke="#24488a" stroke-width="1.5"/>
<rect x="163.95" y="418.3" width="3.4" height="3.4" fill="#24488a" transform="rotate(45 165.65 420)"/>
<text x="177.1" y="422.4" font-size="7.8" textLength="28.6" lengthAdjust="spacingAndGlyphs" stroke="#231f20" stroke-width="0.22">MLLENL</text>
<text x="14.6" y="440.6" font-size="8.4" text-anchor="middle" textLength="68" lengthAdjust="spacingAndGlyphs" stroke="#231f20" stroke-width="0.22" transform="rotate(-90 14.6 440.6)">Rel. proliferation (MTT)</text>
<line x1="37.5" y1="532" x2="37.5" y2="647.3" stroke="#231f20" stroke-width="1.1"/>
<line x1="34.5" y1="646.8" x2="37.5" y2="646.8" stroke="#231f20" stroke-width="0.9"/>
<line x1="34.5" y1="635.55" x2="37.5" y2="635.55" stroke="#231f20" stroke-width="0.9"/>
<line x1="34.5" y1="624.3" x2="37.5" y2="624.3" stroke="#231f20" stroke-width="0.9"/>
<line x1="34.5" y1="613.05" x2="37.5" y2="613.05" stroke="#231f20" stroke-width="0.9"/>
<line x1="34.5" y1="601.8" x2="37.5" y2="601.8" stroke="#231f20" stroke-width="0.9"/>
<line x1="34.5" y1="590.55" x2="37.5" y2="590.55" stroke="#231f20" stroke-width="0.9"/>
<line x1="34.5" y1="579.3" x2="37.5" y2="579.3" stroke="#231f20" stroke-width="0.9"/>
<line x1="34.5" y1="568.05" x2="37.5" y2="568.05" stroke="#231f20" stroke-width="0.9"/>
<line x1="34.5" y1="556.8" x2="37.5" y2="556.8" stroke="#231f20" stroke-width="0.9"/>
<line x1="34.5" y1="545.55" x2="37.5" y2="545.55" stroke="#231f20" stroke-width="0.9"/>
<line x1="34.5" y1="534.3" x2="37.5" y2="534.3" stroke="#231f20" stroke-width="0.9"/>
<text x="31" y="649.6" font-size="7.8" text-anchor="end" stroke="#231f20" stroke-width="0.22">0</text>
<text x="31" y="593.35" font-size="7.8" text-anchor="end" stroke="#231f20" stroke-width="0.22">0.5</text>
<text x="31" y="537.1" font-size="7.8" text-anchor="end" stroke="#231f20" stroke-width="0.22">1</text>
<line x1="37" y1="646.8" x2="240" y2="646.8" stroke="#231f20" stroke-width="1.1"/>
<line x1="37.5" y1="646.8" x2="37.5" y2="650.4" stroke="#231f20" stroke-width="1"/>
<line x1="57.49" y1="646.8" x2="57.49" y2="650" stroke="#231f20" stroke-width="1"/>
<line x1="69.18" y1="646.8" x2="69.18" y2="650" stroke="#231f20" stroke-width="1"/>
<line x1="77.48" y1="646.8" x2="77.48" y2="650" stroke="#231f20" stroke-width="1"/>
<line x1="83.91" y1="646.8" x2="83.91" y2="650" stroke="#231f20" stroke-width="1"/>
<line x1="89.17" y1="646.8" x2="89.17" y2="650" stroke="#231f20" stroke-width="1"/>
<line x1="93.61" y1="646.8" x2="93.61" y2="650" stroke="#231f20" stroke-width="1"/>
<line x1="97.47" y1="646.8" x2="97.47" y2="650" stroke="#231f20" stroke-width="1"/>
<line x1="100.86" y1="646.8" x2="100.86" y2="650" stroke="#231f20" stroke-width="1"/>
<line x1="103.9" y1="646.8" x2="103.9" y2="650.4" stroke="#231f20" stroke-width="1"/>
<line x1="123.89" y1="646.8" x2="123.89" y2="650" stroke="#231f20" stroke-width="1"/>
<line x1="135.58" y1="646.8" x2="135.58" y2="650" stroke="#231f20" stroke-width="1"/>
<line x1="143.88" y1="646.8" x2="143.88" y2="650" stroke="#231f20" stroke-width="1"/>
<line x1="150.31" y1="646.8" x2="150.31" y2="650" stroke="#231f20" stroke-width="1"/>
<line x1="155.57" y1="646.8" x2="155.57" y2="650" stroke="#231f20" stroke-width="1"/>
<line x1="160.01" y1="646.8" x2="160.01" y2="650" stroke="#231f20" stroke-width="1"/>
<line x1="163.87" y1="646.8" x2="163.87" y2="650" stroke="#231f20" stroke-width="1"/>
<line x1="167.26" y1="646.8" x2="167.26" y2="650" stroke="#231f20" stroke-width="1"/>
<line x1="170.3" y1="646.8" x2="170.3" y2="650.4" stroke="#231f20" stroke-width="1"/>
<line x1="190.29" y1="646.8" x2="190.29" y2="650" stroke="#231f20" stroke-width="1"/>
<line x1="201.98" y1="646.8" x2="201.98" y2="650" stroke="#231f20" stroke-width="1"/>
<line x1="210.28" y1="646.8" x2="210.28" y2="650" stroke="#231f20" stroke-width="1"/>
<line x1="216.71" y1="646.8" x2="216.71" y2="650" stroke="#231f20" stroke-width="1"/>
<line x1="221.97" y1="646.8" x2="221.97" y2="650" stroke="#231f20" stroke-width="1"/>
<line x1="226.41" y1="646.8" x2="226.41" y2="650" stroke="#231f20" stroke-width="1"/>
<line x1="230.27" y1="646.8" x2="230.27" y2="650" stroke="#231f20" stroke-width="1"/>
<line x1="233.66" y1="646.8" x2="233.66" y2="650" stroke="#231f20" stroke-width="1"/>
<line x1="236.7" y1="646.8" x2="236.7" y2="650.4" stroke="#231f20" stroke-width="1"/>
<text x="37.5" y="660" font-size="7.8" text-anchor="middle" stroke="#231f20" stroke-width="0.22">0.001</text>
<text x="103.9" y="660" font-size="7.8" text-anchor="middle" stroke="#231f20" stroke-width="0.22">0.01</text>
<text x="170.3" y="660" font-size="7.8" text-anchor="middle" stroke="#231f20" stroke-width="0.22">0.1</text>
<text x="236.7" y="660" font-size="7.8" text-anchor="middle" stroke="#231f20" stroke-width="0.22">1</text>
<text x="144.6" y="672.7" font-size="9" text-anchor="middle" textLength="16.2" lengthAdjust="spacingAndGlyphs" stroke="#231f20" stroke-width="0.22">(μM)</text>
<line x1="58.3" y1="554.55" x2="58.3" y2="557.92" stroke="#555" stroke-width="0.9"/>
<line x1="56.8" y1="554.55" x2="59.8" y2="554.55" stroke="#222" stroke-width="1.1"/>
<line x1="56.8" y1="557.92" x2="59.8" y2="557.92" stroke="#222" stroke-width="1.1"/>
<line x1="78.1" y1="569.74" x2="78.1" y2="572.55" stroke="#555" stroke-width="0.9"/>
<line x1="76.6" y1="569.74" x2="79.6" y2="569.74" stroke="#222" stroke-width="1.1"/>
<line x1="76.6" y1="572.55" x2="79.6" y2="572.55" stroke="#222" stroke-width="1.1"/>
<line x1="97.7" y1="579.3" x2="97.7" y2="586.05" stroke="#555" stroke-width="0.9"/>
<line x1="96.2" y1="579.3" x2="99.2" y2="579.3" stroke="#222" stroke-width="1.1"/>
<line x1="96.2" y1="586.05" x2="99.2" y2="586.05" stroke="#222" stroke-width="1.1"/>
<line x1="116" y1="589.42" x2="116" y2="596.17" stroke="#555" stroke-width="0.9"/>
<line x1="114.5" y1="589.42" x2="117.5" y2="589.42" stroke="#222" stroke-width="1.1"/>
<line x1="114.5" y1="596.17" x2="117.5" y2="596.17" stroke="#222" stroke-width="1.1"/>
<line x1="216.5" y1="633.3" x2="216.5" y2="646.8" stroke="#555" stroke-width="0.9"/>
<line x1="215" y1="633.3" x2="218" y2="633.3" stroke="#222" stroke-width="1.1"/>
<line x1="215" y1="646.8" x2="218" y2="646.8" stroke="#222" stroke-width="1.1"/>
<line x1="237.3" y1="638.92" x2="237.3" y2="646.8" stroke="#555" stroke-width="0.9"/>
<line x1="235.8" y1="638.92" x2="238.8" y2="638.92" stroke="#222" stroke-width="1.1"/>
<line x1="235.8" y1="646.8" x2="238.8" y2="646.8" stroke="#222" stroke-width="1.1"/>
<polyline points="37.3,546.7 58.3,556.3 78.1,570.8 97.7,583.3 116,592.9 135.5,611.8 155.5,618.8 178,627.1 197,640.3 216.5,646.8 237.3,646.8" fill="none" stroke="#24488a" stroke-width="1.4" stroke-linejoin="round"/>
<rect x="36.1" y="545.5" width="2.4" height="2.4" fill="#24488a" transform="rotate(45 37.3 546.7)"/>
<rect x="57.1" y="555.1" width="2.4" height="2.4" fill="#24488a" transform="rotate(45 58.3 556.3)"/>
<rect x="76.9" y="569.6" width="2.4" height="2.4" fill="#24488a" transform="rotate(45 78.1 570.8)"/>
<rect x="96.5" y="582.1" width="2.4" height="2.4" fill="#24488a" transform="rotate(45 97.7 583.3)"/>
<rect x="114.8" y="591.7" width="2.4" height="2.4" fill="#24488a" transform="rotate(45 116 592.9)"/>
<rect x="134.3" y="610.6" width="2.4" height="2.4" fill="#24488a" transform="rotate(45 135.5 611.8)"/>
<rect x="154.3" y="617.6" width="2.4" height="2.4" fill="#24488a" transform="rotate(45 155.5 618.8)"/>
<rect x="176.8" y="625.9" width="2.4" height="2.4" fill="#24488a" transform="rotate(45 178 627.1)"/>
<rect x="195.8" y="639.1" width="2.4" height="2.4" fill="#24488a" transform="rotate(45 197 640.3)"/>
<rect x="215.3" y="645.6" width="2.4" height="2.4" fill="#24488a" transform="rotate(45 216.5 646.8)"/>
<rect x="236.1" y="645.6" width="2.4" height="2.4" fill="#24488a" transform="rotate(45 237.3 646.8)"/>
<rect x="152" y="553" width="52.3" height="12.5" fill="#c8c8cc"/>
<text x="178.15" y="562.05" font-size="7.8" text-anchor="middle" textLength="27.5" lengthAdjust="spacingAndGlyphs" stroke="#231f20" stroke-width="0.22">rotenone</text>
<line x1="157.5" y1="575" x2="173.8" y2="575" stroke="#24488a" stroke-width="1.5"/>
<rect x="163.95" y="573.3" width="3.4" height="3.4" fill="#24488a" transform="rotate(45 165.65 575)"/>
<text x="177.1" y="577.4" font-size="7.8" textLength="28.6" lengthAdjust="spacingAndGlyphs" stroke="#231f20" stroke-width="0.22">MLLENL</text>
<text x="14.6" y="589.9" font-size="8.4" text-anchor="middle" textLength="68" lengthAdjust="spacingAndGlyphs" stroke="#231f20" stroke-width="0.22" transform="rotate(-90 14.6 589.9)">Rel. proliferation (MTT)</text>
<text x="281.3" y="352.6" font-size="11.8" fill="#000" font-weight="bold">D</text>
<ellipse cx="342.6" cy="358.3" rx="9.6" ry="7.8" fill="url(#gcellout)"/>
<ellipse cx="342.6" cy="358.3" rx="5.6" ry="3.4" fill="url(#gcellin)"/>
<text x="357" y="353.8" font-size="7.4" textLength="48" lengthAdjust="spacingAndGlyphs" stroke="#231f20" stroke-width="0.22">48h treatment</text>
<line x1="355.6" y1="359.3" x2="401" y2="359.3" stroke="#231f20" stroke-width="1.1"/>
<polygon points="405.5,359.3 399.7,361.7 399.7,356.9" fill="#231f20"/>
<text x="409" y="361.5" font-size="8.4" textLength="16.4" lengthAdjust="spacingAndGlyphs" stroke="#231f20" stroke-width="0.22">CFC</text>
<text x="427.9" y="361.5" font-size="7.4" textLength="18.9" lengthAdjust="spacingAndGlyphs" stroke="#231f20" stroke-width="0.22">assay</text>
<line x1="294.3" y1="369" x2="294.3" y2="486.1" stroke="#231f20" stroke-width="1.1"/>
<line x1="290.5" y1="485.6" x2="294.3" y2="485.6" stroke="#231f20" stroke-width="0.9"/>
<line x1="290.5" y1="466.68" x2="294.3" y2="466.68" stroke="#231f20" stroke-width="0.9"/>
<line x1="290.5" y1="447.76" x2="294.3" y2="447.76" stroke="#231f20" stroke-width="0.9"/>
<line x1="290.5" y1="428.84" x2="294.3" y2="428.84" stroke="#231f20" stroke-width="0.9"/>
<line x1="290.5" y1="409.92" x2="294.3" y2="409.92" stroke="#231f20" stroke-width="0.9"/>
<line x1="290.5" y1="391" x2="294.3" y2="391" stroke="#231f20" stroke-width="0.9"/>
<line x1="290.5" y1="372.08" x2="294.3" y2="372.08" stroke="#231f20" stroke-width="0.9"/>
<text x="288.5" y="488.4" font-size="7.8" text-anchor="end" stroke="#231f20" stroke-width="0.22">0</text>
<text x="288.5" y="469.48" font-size="7.8" text-anchor="end" stroke="#231f20" stroke-width="0.22">0.2</text>
<text x="288.5" y="393.8" font-size="7.8" text-anchor="end" stroke="#231f20" stroke-width="0.22">1</text>
<line x1="293.8" y1="485.6" x2="503.5" y2="485.6" stroke="#231f20" stroke-width="1.1"/>
<line x1="347.5" y1="485.6" x2="347.5" y2="489.4" stroke="#231f20" stroke-width="0.9"/>
<line x1="399.5" y1="485.6" x2="399.5" y2="489.4" stroke="#231f20" stroke-width="0.9"/>
<line x1="451.3" y1="485.6" x2="451.3" y2="489.4" stroke="#231f20" stroke-width="0.9"/>
<line x1="503.2" y1="485.6" x2="503.2" y2="489.4" stroke="#231f20" stroke-width="0.9"/>
<text x="271.6" y="427.6" font-size="7.8" text-anchor="middle" textLength="38.2" lengthAdjust="spacingAndGlyphs" stroke="#231f20" stroke-width="0.22" transform="rotate(-90 271.6 427.6)">Rel. colony #</text>
<rect x="307.4" y="391.19" width="11.8" height="94.41" fill="#2b4a7f"/>
<rect x="322.2" y="391.19" width="11.8" height="94.41" fill="#9299c3"/>
<line x1="313.3" y1="378.42" x2="313.3" y2="391.19" stroke="#222" stroke-width="0.9"/>
<line x1="311.6" y1="378.42" x2="315" y2="378.42" stroke="#222" stroke-width="0.9"/>
<line x1="311.6" y1="391.19" x2="315" y2="391.19" stroke="#222" stroke-width="0.9"/>
<line x1="328.1" y1="383.43" x2="328.1" y2="398.57" stroke="#222" stroke-width="0.9"/>
<line x1="326.4" y1="383.43" x2="329.8" y2="383.43" stroke="#222" stroke-width="0.9"/>
<line x1="326.4" y1="398.57" x2="329.8" y2="398.57" stroke="#222" stroke-width="0.9"/>
<text x="320.8" y="498.9" font-size="7.8" text-anchor="middle" textLength="24.3" lengthAdjust="spacingAndGlyphs" stroke="#231f20" stroke-width="0.22">DMSO</text>
<text x="320.8" y="507.1" font-size="7.8" text-anchor="middle" textLength="27.8" lengthAdjust="spacingAndGlyphs" stroke="#231f20" stroke-width="0.22">(0.08%)</text>
<rect x="359.6" y="474.34" width="11.8" height="11.26" fill="#2b4a7f"/>
<rect x="374.4" y="438.02" width="11.8" height="47.58" fill="#9299c3"/>
<line x1="365.5" y1="468.57" x2="365.5" y2="479.92" stroke="#222" stroke-width="0.9"/>
<line x1="363.8" y1="468.57" x2="367.2" y2="468.57" stroke="#222" stroke-width="0.9"/>
<line x1="363.8" y1="479.92" x2="367.2" y2="479.92" stroke="#222" stroke-width="0.9"/>
<line x1="380.3" y1="429.79" x2="380.3" y2="446.81" stroke="#222" stroke-width="0.9"/>
<line x1="378.6" y1="429.79" x2="382" y2="429.79" stroke="#222" stroke-width="0.9"/>
<line x1="378.6" y1="446.81" x2="382" y2="446.81" stroke="#222" stroke-width="0.9"/>
<text x="373" y="498.9" font-size="7.8" text-anchor="middle" textLength="27" lengthAdjust="spacingAndGlyphs" stroke="#231f20" stroke-width="0.22">2d-gluc</text>
<text x="373" y="507.1" font-size="7.8" text-anchor="middle" textLength="29.5" lengthAdjust="spacingAndGlyphs" stroke="#231f20" stroke-width="0.22">(1.6mM)</text>
<rect x="411.8" y="433" width="11.8" height="52.6" fill="#2b4a7f"/>
<rect x="426.6" y="395.73" width="11.8" height="89.87" fill="#9299c3"/>
<line x1="417.7" y1="424.39" x2="417.7" y2="440.57" stroke="#222" stroke-width="0.9"/>
<line x1="416" y1="424.39" x2="419.4" y2="424.39" stroke="#222" stroke-width="0.9"/>
<line x1="416" y1="440.57" x2="419.4" y2="440.57" stroke="#222" stroke-width="0.9"/>
<line x1="432.5" y1="389.11" x2="432.5" y2="402.35" stroke="#222" stroke-width="0.9"/>
<line x1="430.8" y1="389.11" x2="434.2" y2="389.11" stroke="#222" stroke-width="0.9"/>
<line x1="430.8" y1="402.35" x2="434.2" y2="402.35" stroke="#222" stroke-width="0.9"/>
<text x="425.2" y="498.9" font-size="7.8" text-anchor="middle" textLength="36.5" lengthAdjust="spacingAndGlyphs" stroke="#231f20" stroke-width="0.22">CBR5884</text>
<text x="425.2" y="507.1" font-size="7.8" text-anchor="middle" textLength="19.5" lengthAdjust="spacingAndGlyphs" stroke="#231f20" stroke-width="0.22">(8μM)</text>
<rect x="464" y="472.07" width="11.8" height="13.53" fill="#2b4a7f"/>
<rect x="478.8" y="453.06" width="11.8" height="32.54" fill="#9299c3"/>
<line x1="469.9" y1="470.56" x2="469.9" y2="473.3" stroke="#222" stroke-width="0.9"/>
<line x1="468.2" y1="470.56" x2="471.6" y2="470.56" stroke="#222" stroke-width="0.9"/>
<line x1="468.2" y1="473.3" x2="471.6" y2="473.3" stroke="#222" stroke-width="0.9"/>
<line x1="484.7" y1="448.42" x2="484.7" y2="457.5" stroke="#222" stroke-width="0.9"/>
<line x1="483" y1="448.42" x2="486.4" y2="448.42" stroke="#222" stroke-width="0.9"/>
<line x1="483" y1="457.5" x2="486.4" y2="457.5" stroke="#222" stroke-width="0.9"/>
<text x="477.4" y="498.9" font-size="7.8" text-anchor="middle" textLength="30.2" lengthAdjust="spacingAndGlyphs" stroke="#231f20" stroke-width="0.22">rotenone</text>
<text x="477.4" y="507.1" font-size="7.8" text-anchor="middle" textLength="31.5" lengthAdjust="spacingAndGlyphs" stroke="#231f20" stroke-width="0.22">(0.25μM)</text>
<polyline points="364.2,420.2 364.2,417 380.8,417 380.8,420.2" fill="none" stroke="#222" stroke-width="0.9" stroke-linejoin="round"/>
<text x="358" y="414.3" font-size="7.6" textLength="28.2" lengthAdjust="spacingAndGlyphs" stroke="#231f20" stroke-width="0.22">p=0.004</text>
<polyline points="416.3,387 416.3,383.8 432,383.8 432,387" fill="none" stroke="#222" stroke-width="0.9" stroke-linejoin="round"/>
<text x="410" y="381.6" font-size="7.6" textLength="28.2" lengthAdjust="spacingAndGlyphs" stroke="#231f20" stroke-width="0.22">p=0.003</text>
<polyline points="467.5,444 467.5,440.8 483.8,440.8 483.8,444" fill="none" stroke="#222" stroke-width="0.9" stroke-linejoin="round"/>
<text x="461.2" y="438.2" font-size="7.6" textLength="28.2" lengthAdjust="spacingAndGlyphs" stroke="#231f20" stroke-width="0.22">p=0.002</text>
<rect x="455" y="376.3" width="7" height="6.8" fill="#2b4a7f"/>
<text x="465" y="382.4" font-size="7.8" textLength="28.7" lengthAdjust="spacingAndGlyphs" stroke="#231f20" stroke-width="0.22">MLLENL</text>
<rect x="455" y="391.3" width="7" height="6.8" fill="#9299c3"/>
<text x="465" y="397.6" font-size="7.8" textLength="40.5" lengthAdjust="spacingAndGlyphs" stroke="#231f20" stroke-width="0.22">Primary cells</text>
<text x="326.8" y="532.2" font-size="7.8" text-anchor="middle" textLength="23.5" lengthAdjust="spacingAndGlyphs" stroke="#231f20" stroke-width="0.22">DMSO</text>
<text x="377.6" y="532.2" font-size="7.8" text-anchor="middle" textLength="24.5" lengthAdjust="spacingAndGlyphs" stroke="#231f20" stroke-width="0.22">2d-gluc</text>
<text x="433.3" y="532.2" font-size="7.8" text-anchor="middle" textLength="34.3" lengthAdjust="spacingAndGlyphs" stroke="#231f20" stroke-width="0.22">CBR5884</text>
<text x="484.2" y="532.2" font-size="7.8" text-anchor="middle" textLength="29" lengthAdjust="spacingAndGlyphs" stroke="#231f20" stroke-width="0.22">rotenone</text>
<text x="277.8" y="567.8" font-size="7.8" text-anchor="middle" textLength="28.7" lengthAdjust="spacingAndGlyphs" stroke="#231f20" stroke-width="0.22">MLLENL</text>
<text x="278" y="616.8" font-size="7.8" text-anchor="middle" textLength="24" lengthAdjust="spacingAndGlyphs" stroke="#231f20" stroke-width="0.22">Primary</text>
<text x="278" y="625.6" font-size="7.8" text-anchor="middle" textLength="14.5" lengthAdjust="spacingAndGlyphs" stroke="#231f20" stroke-width="0.22">cells</text>
<rect x="296" y="536" width="216.8" height="111.5" fill="#f2f0ea" stroke="#9a9a9a" stroke-width="0.8"/>
<g filter="url(#pblur)">
<rect x="297.1" y="537.2" width="52.9" height="53.7" fill="#d3c0a3"/>
<circle cx="314.23" cy="545.3" r="0.67" fill="#fff" fill-opacity="0.06"/><circle cx="325.45" cy="556.84" r="1.51" fill="#fff" fill-opacity="0.06"/><circle cx="308.46" cy="541.82" r="0.67" fill="#000" fill-opacity="0.06"/><circle cx="301.9" cy="560" r="1.55" fill="#fff" fill-opacity="0.06"/><circle cx="330.46" cy="568.51" r="1.18" fill="#fff" fill-opacity="0.06"/><circle cx="318.08" cy="589.62" r="1.16" fill="#fff" fill-opacity="0.06"/><circle cx="304.14" cy="559.71" r="1.17" fill="#fff" fill-opacity="0.06"/><circle cx="326.74" cy="573.82" r="1.18" fill="#fff" fill-opacity="0.06"/><circle cx="330.9" cy="557.2" r="1.16" fill="#fff" fill-opacity="0.06"/><circle cx="329.85" cy="563.86" r="1.38" fill="#000" fill-opacity="0.06"/><circle cx="321.73" cy="586.79" r="0.9" fill="#000" fill-opacity="0.06"/><circle cx="339.12" cy="574.74" r="0.68" fill="#fff" fill-opacity="0.06"/><circle cx="312.98" cy="563.79" r="1.33" fill="#000" fill-opacity="0.06"/><circle cx="312.33" cy="589.84" r="1.11" fill="#fff" fill-opacity="0.06"/><circle cx="305.83" cy="555.57" r="1.02" fill="#000" fill-opacity="0.06"/><circle cx="347.99" cy="541.37" r="0.94" fill="#000" fill-opacity="0.06"/><circle cx="315.62" cy="563.87" r="0.67" fill="#000" fill-opacity="0.06"/><circle cx="302.05" cy="551.7" r="0.66" fill="#fff" fill-opacity="0.06"/><circle cx="334.21" cy="571.95" r="0.88" fill="#000" fill-opacity="0.06"/><circle cx="317.51" cy="573.11" r="1.54" fill="#fff" fill-opacity="0.06"/><circle cx="315.9" cy="570.01" r="0.66" fill="#000" fill-opacity="0.06"/><circle cx="337.74" cy="544.15" r="1" fill="#fff" fill-opacity="0.06"/><circle cx="345.6" cy="563.86" r="1.05" fill="#fff" fill-opacity="0.06"/><circle cx="326.17" cy="584.64" r="1.46" fill="#000" fill-opacity="0.06"/><circle cx="311.83" cy="559.5" r="1.28" fill="#000" fill-opacity="0.06"/><circle cx="317.23" cy="549.59" r="0.78" fill="#fff" fill-opacity="0.06"/><circle cx="309.37" cy="549.73" r="1.43" fill="#000" fill-opacity="0.06"/><circle cx="306.75" cy="552.34" r="1.02" fill="#fff" fill-opacity="0.06"/><circle cx="316.63" cy="567.61" r="1.29" fill="#fff" fill-opacity="0.06"/><circle cx="324.37" cy="570.36" r="1.06" fill="#fff" fill-opacity="0.06"/><circle cx="343.17" cy="588.32" r="1" fill="#000" fill-opacity="0.06"/><circle cx="317.95" cy="563.06" r="0.66" fill="#000" fill-opacity="0.06"/><circle cx="300.66" cy="548.41" r="0.71" fill="#fff" fill-opacity="0.06"/><circle cx="328.88" cy="542.7" r="1.14" fill="#fff" fill-opacity="0.06"/><circle cx="347.3" cy="570.16" r="1.47" fill="#fff" fill-opacity="0.06"/><circle cx="329.58" cy="545.18" r="1.56" fill="#000" fill-opacity="0.06"/><circle cx="328.96" cy="562.66" r="1.45" fill="#fff" fill-opacity="0.06"/><circle cx="349.64" cy="562.22" r="0.91" fill="#000" fill-opacity="0.06"/><circle cx="304.72" cy="577.46" r="1.08" fill="#000" fill-opacity="0.06"/><circle cx="333.71" cy="564.93" r="1.55" fill="#fff" fill-opacity="0.06"/><circle cx="325.04" cy="545.07" r="1.36" fill="#fff" fill-opacity="0.06"/><circle cx="312.87" cy="571.72" r="1.3" fill="#fff" fill-opacity="0.06"/><circle cx="310.91" cy="556.89" r="0.96" fill="#fff" fill-opacity="0.06"/><circle cx="308.89" cy="566.28" r="1.24" fill="#000" fill-opacity="0.06"/><circle cx="329.54" cy="579.54" r="1.41" fill="#fff" fill-opacity="0.06"/><circle cx="340.39" cy="576.93" r="0.8" fill="#fff" fill-opacity="0.06"/><circle cx="323.17" cy="576.45" r="1.39" fill="#fff" fill-opacity="0.06"/><circle cx="322.08" cy="547.6" r="1.05" fill="#000" fill-opacity="0.06"/><circle cx="346.67" cy="590.26" r="0.68" fill="#000" fill-opacity="0.06"/><circle cx="302.5" cy="562.44" r="0.8" fill="#000" fill-opacity="0.06"/><circle cx="330.11" cy="585.55" r="1.08" fill="#fff" fill-opacity="0.06"/><circle cx="331.64" cy="580.14" r="1.43" fill="#fff" fill-opacity="0.06"/><circle cx="303.44" cy="558.06" r="1.08" fill="#fff" fill-opacity="0.06"/><circle cx="306.54" cy="579.58" r="0.69" fill="#000" fill-opacity="0.06"/><circle cx="347.15" cy="575.96" r="1" fill="#000" fill-opacity="0.06"/><circle cx="347.19" cy="576.12" r="1.59" fill="#fff" fill-opacity="0.06"/><circle cx="298.56" cy="568.93" r="1.41" fill="#000" fill-opacity="0.06"/><circle cx="304.83" cy="581.58" r="1.26" fill="#000" fill-opacity="0.06"/><circle cx="315.64" cy="566.66" r="0.62" fill="#fff" fill-opacity="0.06"/><circle cx="339.39" cy="576.21" r="1.13" fill="#fff" fill-opacity="0.06"/>
<circle cx="323.85" cy="564.25" r="25.85" fill="#dcceb6" stroke="#e2dccf" stroke-width="1.5"/>
<circle cx="302.77" cy="573.56" r="1.16" fill="#ffffff" fill-opacity="0.18"/><circle cx="323.72" cy="575.21" r="0.9" fill="#b09070" fill-opacity="0.18"/><circle cx="314.27" cy="582.76" r="1.17" fill="#b09070" fill-opacity="0.18"/><circle cx="323.48" cy="558.38" r="1.03" fill="#b09070" fill-opacity="0.18"/><circle cx="302.44" cy="561.99" r="0.93" fill="#ffffff" fill-opacity="0.18"/><circle cx="340.99" cy="566.27" r="1.12" fill="#b09070" fill-opacity="0.18"/><circle cx="326.88" cy="545.89" r="0.64" fill="#ffffff" fill-opacity="0.18"/><circle cx="321.3" cy="548.04" r="0.76" fill="#ffffff" fill-opacity="0.18"/><circle cx="307.71" cy="558.39" r="1.21" fill="#ffffff" fill-opacity="0.18"/><circle cx="325.9" cy="569.55" r="1.12" fill="#ffffff" fill-opacity="0.18"/><circle cx="308.12" cy="557.82" r="0.85" fill="#ffffff" fill-opacity="0.18"/><circle cx="305.2" cy="563.6" r="1.05" fill="#ffffff" fill-opacity="0.18"/><circle cx="308.16" cy="560.92" r="0.91" fill="#b09070" fill-opacity="0.18"/><circle cx="312.11" cy="562.53" r="1.24" fill="#b09070" fill-opacity="0.18"/><circle cx="330.46" cy="585.79" r="0.61" fill="#b09070" fill-opacity="0.18"/><circle cx="316.08" cy="567.21" r="1.04" fill="#ffffff" fill-opacity="0.18"/><circle cx="327.48" cy="579.43" r="1.13" fill="#b09070" fill-opacity="0.18"/><circle cx="336.61" cy="582.89" r="0.61" fill="#b09070" fill-opacity="0.18"/><circle cx="345.79" cy="559.71" r="1.1" fill="#ffffff" fill-opacity="0.18"/><circle cx="329.34" cy="559.41" r="1.29" fill="#ffffff" fill-opacity="0.18"/><circle cx="335.34" cy="582.73" r="1.3" fill="#b09070" fill-opacity="0.18"/><circle cx="310.51" cy="571.44" r="0.75" fill="#b09070" fill-opacity="0.18"/><circle cx="343.97" cy="566.72" r="0.85" fill="#b09070" fill-opacity="0.18"/><circle cx="322.28" cy="567.05" r="0.91" fill="#b09070" fill-opacity="0.18"/><circle cx="329.87" cy="563.68" r="1.28" fill="#ffffff" fill-opacity="0.18"/><circle cx="323.1" cy="571.93" r="1.22" fill="#ffffff" fill-opacity="0.18"/><circle cx="324.22" cy="554.09" r="1.18" fill="#b09070" fill-opacity="0.18"/><circle cx="342.34" cy="557.72" r="0.62" fill="#b09070" fill-opacity="0.18"/><circle cx="303.2" cy="554.44" r="0.57" fill="#b09070" fill-opacity="0.18"/><circle cx="321.68" cy="558.96" r="1.22" fill="#b09070" fill-opacity="0.18"/><circle cx="336.15" cy="565.56" r="1.14" fill="#ffffff" fill-opacity="0.18"/><circle cx="328.12" cy="558.83" r="0.71" fill="#ffffff" fill-opacity="0.18"/><circle cx="332.15" cy="564.85" r="1.24" fill="#b09070" fill-opacity="0.18"/><circle cx="332.34" cy="573.21" r="1.25" fill="#ffffff" fill-opacity="0.18"/><circle cx="322.1" cy="587.66" r="0.66" fill="#ffffff" fill-opacity="0.18"/><circle cx="319.34" cy="576.78" r="0.73" fill="#ffffff" fill-opacity="0.18"/><circle cx="331.23" cy="579.41" r="1.14" fill="#b09070" fill-opacity="0.18"/><circle cx="347" cy="569.72" r="1.09" fill="#ffffff" fill-opacity="0.18"/><circle cx="330.42" cy="580.69" r="0.7" fill="#b09070" fill-opacity="0.18"/><circle cx="315.16" cy="550.88" r="1.03" fill="#b09070" fill-opacity="0.18"/><circle cx="337.34" cy="552.91" r="1.05" fill="#b09070" fill-opacity="0.18"/><circle cx="310.85" cy="583.99" r="0.82" fill="#ffffff" fill-opacity="0.18"/><circle cx="337.1" cy="568.96" r="0.51" fill="#ffffff" fill-opacity="0.18"/><circle cx="337.59" cy="551.33" r="0.63" fill="#b09070" fill-opacity="0.18"/><circle cx="327.61" cy="558.43" r="0.98" fill="#b09070" fill-opacity="0.18"/><circle cx="342.9" cy="569.82" r="0.63" fill="#ffffff" fill-opacity="0.18"/><circle cx="322.53" cy="580.12" r="1.28" fill="#b09070" fill-opacity="0.18"/><circle cx="324.47" cy="581.88" r="0.67" fill="#b09070" fill-opacity="0.18"/><circle cx="318.64" cy="573.02" r="0.88" fill="#ffffff" fill-opacity="0.18"/><circle cx="328.98" cy="580.37" r="0.57" fill="#ffffff" fill-opacity="0.18"/><circle cx="337.18" cy="581.19" r="0.82" fill="#ffffff" fill-opacity="0.18"/><circle cx="314.89" cy="554.75" r="0.97" fill="#ffffff" fill-opacity="0.18"/><circle cx="323.91" cy="546.9" r="1.11" fill="#b09070" fill-opacity="0.18"/><circle cx="303.62" cy="564.99" r="1.08" fill="#b09070" fill-opacity="0.18"/><circle cx="342.26" cy="569.45" r="1.09" fill="#b09070" fill-opacity="0.18"/><circle cx="337.62" cy="580.75" r="1.16" fill="#ffffff" fill-opacity="0.18"/><circle cx="338.1" cy="552.88" r="0.57" fill="#ffffff" fill-opacity="0.18"/><circle cx="320.67" cy="560.55" r="0.8" fill="#ffffff" fill-opacity="0.18"/><circle cx="339.06" cy="569.28" r="1" fill="#ffffff" fill-opacity="0.18"/><circle cx="304.22" cy="565.57" r="0.87" fill="#ffffff" fill-opacity="0.18"/><circle cx="329.61" cy="561.65" r="1.03" fill="#ffffff" fill-opacity="0.18"/><circle cx="323.34" cy="558.14" r="1.15" fill="#b09070" fill-opacity="0.18"/><circle cx="325.94" cy="586.09" r="0.68" fill="#ffffff" fill-opacity="0.18"/><circle cx="305.22" cy="568.99" r="0.56" fill="#b09070" fill-opacity="0.18"/><circle cx="318.56" cy="586.38" r="0.99" fill="#ffffff" fill-opacity="0.18"/><circle cx="340.75" cy="573.19" r="0.77" fill="#ffffff" fill-opacity="0.18"/><circle cx="317.09" cy="546.23" r="0.51" fill="#ffffff" fill-opacity="0.18"/><circle cx="323.16" cy="570.08" r="1.05" fill="#ffffff" fill-opacity="0.18"/><circle cx="318.87" cy="583.21" r="0.87" fill="#b09070" fill-opacity="0.18"/><circle cx="335.83" cy="575.29" r="0.75" fill="#ffffff" fill-opacity="0.18"/><circle cx="316.96" cy="565.43" r="0.87" fill="#b09070" fill-opacity="0.18"/><circle cx="345.01" cy="559.95" r="1.3" fill="#b09070" fill-opacity="0.18"/><circle cx="336.69" cy="556.82" r="0.56" fill="#ffffff" fill-opacity="0.18"/><circle cx="323.74" cy="557.08" r="1.26" fill="#b09070" fill-opacity="0.18"/><circle cx="327.56" cy="556.4" r="1.21" fill="#b09070" fill-opacity="0.18"/><circle cx="326.18" cy="584.12" r="0.82" fill="#b09070" fill-opacity="0.18"/><circle cx="332.9" cy="561.31" r="0.82" fill="#b09070" fill-opacity="0.18"/><circle cx="306.27" cy="574.47" r="0.75" fill="#b09070" fill-opacity="0.18"/><circle cx="345.71" cy="564.49" r="1.17" fill="#b09070" fill-opacity="0.18"/><circle cx="331.25" cy="560.56" r="1.22" fill="#ffffff" fill-opacity="0.18"/><circle cx="314.93" cy="573.49" r="0.81" fill="#b09070" fill-opacity="0.18"/><circle cx="343.58" cy="574.52" r="1.1" fill="#b09070" fill-opacity="0.18"/><circle cx="319.63" cy="585.89" r="1.17" fill="#ffffff" fill-opacity="0.18"/><circle cx="335.57" cy="559.23" r="1.28" fill="#ffffff" fill-opacity="0.18"/><circle cx="317.54" cy="578.68" r="1.13" fill="#b09070" fill-opacity="0.18"/><circle cx="339.19" cy="567.08" r="1.23" fill="#b09070" fill-opacity="0.18"/><circle cx="301.82" cy="557.21" r="0.54" fill="#ffffff" fill-opacity="0.18"/><circle cx="304.4" cy="570.45" r="1.02" fill="#ffffff" fill-opacity="0.18"/><circle cx="336.01" cy="568.11" r="0.64" fill="#ffffff" fill-opacity="0.18"/><circle cx="320.81" cy="579.31" r="1.09" fill="#b09070" fill-opacity="0.18"/><circle cx="322.35" cy="587.77" r="0.74" fill="#ffffff" fill-opacity="0.18"/><circle cx="309.82" cy="575.22" r="1.01" fill="#ffffff" fill-opacity="0.18"/><circle cx="317.31" cy="564.23" r="0.94" fill="#b09070" fill-opacity="0.18"/><circle cx="315.87" cy="578.18" r="0.84" fill="#b09070" fill-opacity="0.18"/><circle cx="324.51" cy="581.89" r="0.77" fill="#ffffff" fill-opacity="0.18"/><circle cx="324.34" cy="571.43" r="1.15" fill="#b09070" fill-opacity="0.18"/><circle cx="334.49" cy="565.6" r="0.81" fill="#b09070" fill-opacity="0.18"/><circle cx="328.97" cy="584.2" r="0.77" fill="#b09070" fill-opacity="0.18"/><circle cx="322.83" cy="570.1" r="0.6" fill="#b09070" fill-opacity="0.18"/><circle cx="312.24" cy="551.94" r="0.57" fill="#ffffff" fill-opacity="0.18"/><circle cx="306.95" cy="579.23" r="0.85" fill="#b09070" fill-opacity="0.18"/><circle cx="329.09" cy="552" r="0.6" fill="#ffffff" fill-opacity="0.18"/><circle cx="325.19" cy="548.76" r="1.27" fill="#b09070" fill-opacity="0.18"/><circle cx="338.81" cy="571.65" r="1.28" fill="#b09070" fill-opacity="0.18"/><circle cx="333.06" cy="571.77" r="0.62" fill="#ffffff" fill-opacity="0.18"/><circle cx="342.07" cy="579.11" r="0.57" fill="#b09070" fill-opacity="0.18"/><circle cx="344.87" cy="564.43" r="0.69" fill="#ffffff" fill-opacity="0.18"/><circle cx="309.89" cy="546.13" r="1.27" fill="#b09070" fill-opacity="0.18"/><circle cx="305.27" cy="560.92" r="1.06" fill="#b09070" fill-opacity="0.18"/><circle cx="331.07" cy="567.67" r="0.81" fill="#ffffff" fill-opacity="0.18"/><circle cx="314.77" cy="557.56" r="0.93" fill="#ffffff" fill-opacity="0.18"/><circle cx="319.59" cy="587.67" r="1.02" fill="#b09070" fill-opacity="0.18"/><circle cx="301.7" cy="567.72" r="0.94" fill="#ffffff" fill-opacity="0.18"/><circle cx="320.38" cy="566.4" r="0.54" fill="#b09070" fill-opacity="0.18"/><circle cx="331.73" cy="557.29" r="0.56" fill="#b09070" fill-opacity="0.18"/><circle cx="313.73" cy="569.46" r="0.68" fill="#b09070" fill-opacity="0.18"/><circle cx="321.54" cy="568" r="0.79" fill="#b09070" fill-opacity="0.18"/><circle cx="338.85" cy="564.89" r="1.09" fill="#b09070" fill-opacity="0.18"/><circle cx="328.56" cy="580.53" r="0.75" fill="#ffffff" fill-opacity="0.18"/><circle cx="326.45" cy="585.69" r="0.71" fill="#ffffff" fill-opacity="0.18"/><circle cx="341.27" cy="578.48" r="0.99" fill="#b09070" fill-opacity="0.18"/><circle cx="301.37" cy="566.37" r="1.26" fill="#ffffff" fill-opacity="0.18"/><circle cx="316.69" cy="569.91" r="0.52" fill="#ffffff" fill-opacity="0.18"/><circle cx="307.98" cy="573.59" r="0.65" fill="#ffffff" fill-opacity="0.18"/><circle cx="320.07" cy="548.71" r="1.09" fill="#b09070" fill-opacity="0.18"/><circle cx="345.5" cy="554.32" r="0.65" fill="#b09070" fill-opacity="0.18"/><circle cx="304.82" cy="561.26" r="0.53" fill="#b09070" fill-opacity="0.18"/><circle cx="309.79" cy="577.68" r="1.29" fill="#b09070" fill-opacity="0.18"/><circle cx="336.14" cy="574.28" r="0.72" fill="#ffffff" fill-opacity="0.18"/><circle cx="337.44" cy="560.35" r="0.95" fill="#ffffff" fill-opacity="0.18"/><circle cx="308.69" cy="578.46" r="1.16" fill="#b09070" fill-opacity="0.18"/><circle cx="338.79" cy="569.03" r="0.66" fill="#b09070" fill-opacity="0.18"/><circle cx="307.29" cy="570.06" r="0.79" fill="#b09070" fill-opacity="0.18"/><circle cx="346.03" cy="568.52" r="0.7" fill="#b09070" fill-opacity="0.18"/><circle cx="308.27" cy="574.87" r="0.53" fill="#b09070" fill-opacity="0.18"/><circle cx="329.08" cy="561.38" r="0.66" fill="#b09070" fill-opacity="0.18"/><circle cx="319.14" cy="560.57" r="0.72" fill="#b09070" fill-opacity="0.18"/><circle cx="306.54" cy="548.6" r="1.1" fill="#b09070" fill-opacity="0.18"/><circle cx="341.45" cy="555.17" r="0.5" fill="#b09070" fill-opacity="0.18"/><circle cx="341.79" cy="553.86" r="0.52" fill="#ffffff" fill-opacity="0.18"/><circle cx="312.46" cy="566.04" r="1.26" fill="#b09070" fill-opacity="0.18"/><circle cx="323.75" cy="579.08" r="1.15" fill="#b09070" fill-opacity="0.18"/><circle cx="315.16" cy="564.44" r="1.14" fill="#ffffff" fill-opacity="0.18"/><circle cx="332.9" cy="545.86" r="0.99" fill="#ffffff" fill-opacity="0.18"/><circle cx="318.07" cy="576.62" r="1.13" fill="#b09070" fill-opacity="0.18"/><circle cx="305.49" cy="562.88" r="1.1" fill="#b09070" fill-opacity="0.18"/><circle cx="334.74" cy="568.94" r="0.89" fill="#ffffff" fill-opacity="0.18"/><circle cx="333.22" cy="579.15" r="1.21" fill="#b09070" fill-opacity="0.18"/><circle cx="321.64" cy="587.85" r="0.67" fill="#ffffff" fill-opacity="0.18"/><circle cx="339.29" cy="563.13" r="0.64" fill="#b09070" fill-opacity="0.18"/><circle cx="315.42" cy="566.36" r="1.1" fill="#ffffff" fill-opacity="0.18"/><circle cx="312.61" cy="545.4" r="1.12" fill="#ffffff" fill-opacity="0.18"/><circle cx="321.48" cy="576.96" r="0.8" fill="#b09070" fill-opacity="0.18"/><circle cx="330.28" cy="583.7" r="0.65" fill="#ffffff" fill-opacity="0.18"/><circle cx="321.58" cy="575.6" r="0.76" fill="#ffffff" fill-opacity="0.18"/><circle cx="338.84" cy="563.54" r="1.02" fill="#ffffff" fill-opacity="0.18"/><circle cx="316.48" cy="565.95" r="0.58" fill="#ffffff" fill-opacity="0.18"/><circle cx="330.76" cy="549.34" r="1.23" fill="#b09070" fill-opacity="0.18"/><circle cx="322.55" cy="568.86" r="0.54" fill="#ffffff" fill-opacity="0.18"/><circle cx="332.54" cy="547.94" r="1.24" fill="#ffffff" fill-opacity="0.18"/><circle cx="333.55" cy="553.4" r="0.98" fill="#b09070" fill-opacity="0.18"/><circle cx="313.13" cy="546.19" r="0.58" fill="#ffffff" fill-opacity="0.18"/><circle cx="310.42" cy="551.65" r="0.53" fill="#ffffff" fill-opacity="0.18"/><circle cx="337.23" cy="568.06" r="0.53" fill="#b09070" fill-opacity="0.18"/><circle cx="341.35" cy="553.75" r="1.16" fill="#ffffff" fill-opacity="0.18"/><circle cx="313.28" cy="575.25" r="0.56" fill="#b09070" fill-opacity="0.18"/><circle cx="319.62" cy="564.37" r="0.55" fill="#b09070" fill-opacity="0.18"/><circle cx="317.84" cy="568.89" r="1.01" fill="#ffffff" fill-opacity="0.18"/><circle cx="327.57" cy="570.42" r="0.83" fill="#b09070" fill-opacity="0.18"/><circle cx="319.36" cy="576.12" r="0.75" fill="#ffffff" fill-opacity="0.18"/><circle cx="312.65" cy="578.28" r="0.51" fill="#b09070" fill-opacity="0.18"/><circle cx="330.58" cy="544.48" r="0.81" fill="#ffffff" fill-opacity="0.18"/><circle cx="338.03" cy="558.84" r="1.22" fill="#b09070" fill-opacity="0.18"/><circle cx="330.49" cy="550.22" r="0.96" fill="#b09070" fill-opacity="0.18"/><circle cx="325.93" cy="550" r="0.51" fill="#ffffff" fill-opacity="0.18"/><circle cx="312.62" cy="550.56" r="0.57" fill="#b09070" fill-opacity="0.18"/><circle cx="310.9" cy="577.9" r="0.62" fill="#ffffff" fill-opacity="0.18"/><circle cx="311.27" cy="562.57" r="0.59" fill="#ffffff" fill-opacity="0.18"/><circle cx="329.49" cy="548.53" r="0.74" fill="#ffffff" fill-opacity="0.18"/><circle cx="344.86" cy="570.14" r="0.75" fill="#b09070" fill-opacity="0.18"/><circle cx="311.68" cy="550.2" r="1.22" fill="#ffffff" fill-opacity="0.18"/><circle cx="332.33" cy="547.49" r="1.01" fill="#ffffff" fill-opacity="0.18"/><circle cx="307.86" cy="549.03" r="1.16" fill="#ffffff" fill-opacity="0.18"/><circle cx="325.88" cy="574.25" r="1.25" fill="#b09070" fill-opacity="0.18"/><circle cx="317.87" cy="571.55" r="0.7" fill="#ffffff" fill-opacity="0.18"/><circle cx="340.07" cy="552.04" r="1.21" fill="#ffffff" fill-opacity="0.18"/><circle cx="313.58" cy="544.92" r="0.59" fill="#b09070" fill-opacity="0.18"/><circle cx="306.29" cy="558.54" r="1.02" fill="#b09070" fill-opacity="0.18"/><circle cx="323.91" cy="577.49" r="1.03" fill="#b09070" fill-opacity="0.18"/><circle cx="309.09" cy="570.27" r="0.5" fill="#ffffff" fill-opacity="0.18"/><circle cx="300.73" cy="569.38" r="1.11" fill="#b09070" fill-opacity="0.18"/><circle cx="303.51" cy="569.71" r="1.15" fill="#ffffff" fill-opacity="0.18"/><circle cx="337.62" cy="570.43" r="0.84" fill="#b09070" fill-opacity="0.18"/><circle cx="317.1" cy="566.83" r="0.53" fill="#ffffff" fill-opacity="0.18"/><circle cx="331.45" cy="560.2" r="1.12" fill="#b09070" fill-opacity="0.18"/><circle cx="339.93" cy="569.95" r="1.02" fill="#b09070" fill-opacity="0.18"/><circle cx="344.69" cy="567.67" r="1.3" fill="#ffffff" fill-opacity="0.18"/><circle cx="331.95" cy="545.52" r="0.61" fill="#ffffff" fill-opacity="0.18"/><circle cx="318.56" cy="586.06" r="1.05" fill="#ffffff" fill-opacity="0.18"/><circle cx="327.5" cy="584.17" r="0.99" fill="#b09070" fill-opacity="0.18"/><circle cx="318.49" cy="574.96" r="1.22" fill="#b09070" fill-opacity="0.18"/><circle cx="323.43" cy="580.36" r="0.67" fill="#b09070" fill-opacity="0.18"/><circle cx="311.63" cy="563.79" r="0.8" fill="#b09070" fill-opacity="0.18"/><circle cx="315.11" cy="570.31" r="1.04" fill="#b09070" fill-opacity="0.18"/><circle cx="334.88" cy="583.94" r="0.59" fill="#b09070" fill-opacity="0.18"/><circle cx="312.47" cy="551.12" r="1.27" fill="#b09070" fill-opacity="0.18"/><circle cx="307.94" cy="562.09" r="0.7" fill="#ffffff" fill-opacity="0.18"/><circle cx="334.69" cy="550.57" r="0.71" fill="#b09070" fill-opacity="0.18"/><circle cx="302.86" cy="553.16" r="0.76" fill="#b09070" fill-opacity="0.18"/><circle cx="324.7" cy="571" r="0.74" fill="#ffffff" fill-opacity="0.18"/><circle cx="317.54" cy="580.18" r="1.09" fill="#b09070" fill-opacity="0.18"/><circle cx="327.5" cy="584.54" r="0.99" fill="#b09070" fill-opacity="0.18"/><circle cx="308.22" cy="563" r="0.61" fill="#ffffff" fill-opacity="0.18"/><circle cx="317.35" cy="554.92" r="0.54" fill="#ffffff" fill-opacity="0.18"/><circle cx="317.9" cy="581.2" r="0.93" fill="#b09070" fill-opacity="0.18"/><circle cx="319.01" cy="578.8" r="0.66" fill="#ffffff" fill-opacity="0.18"/><circle cx="305.24" cy="567.21" r="0.51" fill="#ffffff" fill-opacity="0.18"/><circle cx="318.21" cy="543.66" r="0.58" fill="#b09070" fill-opacity="0.18"/><circle cx="337" cy="550.47" r="0.82" fill="#b09070" fill-opacity="0.18"/><circle cx="336.08" cy="565.13" r="0.98" fill="#b09070" fill-opacity="0.18"/><circle cx="309.3" cy="553.42" r="0.7" fill="#b09070" fill-opacity="0.18"/><circle cx="345.66" cy="570.44" r="0.82" fill="#ffffff" fill-opacity="0.18"/><circle cx="334.7" cy="568.42" r="0.51" fill="#ffffff" fill-opacity="0.18"/><circle cx="340.35" cy="557.83" r="0.83" fill="#ffffff" fill-opacity="0.18"/><circle cx="313.13" cy="550.84" r="1.15" fill="#b09070" fill-opacity="0.18"/><circle cx="320.22" cy="573.53" r="1" fill="#b09070" fill-opacity="0.18"/><circle cx="320.03" cy="540.78" r="1.07" fill="#b09070" fill-opacity="0.18"/><circle cx="324.91" cy="562.67" r="0.56" fill="#b09070" fill-opacity="0.18"/><circle cx="332.57" cy="581.48" r="0.71" fill="#ffffff" fill-opacity="0.18"/><circle cx="337.53" cy="577.64" r="1.07" fill="#b09070" fill-opacity="0.18"/><circle cx="312.25" cy="560.17" r="1.05" fill="#b09070" fill-opacity="0.18"/><circle cx="346.34" cy="560.24" r="1.01" fill="#b09070" fill-opacity="0.18"/><circle cx="328.67" cy="587.18" r="0.64" fill="#ffffff" fill-opacity="0.18"/><circle cx="336.21" cy="545.23" r="1.26" fill="#ffffff" fill-opacity="0.18"/><circle cx="314.28" cy="582.49" r="0.76" fill="#b09070" fill-opacity="0.18"/><circle cx="333.6" cy="557.85" r="0.88" fill="#b09070" fill-opacity="0.18"/><circle cx="341.21" cy="564.95" r="0.85" fill="#ffffff" fill-opacity="0.18"/><circle cx="305.5" cy="555.57" r="1.13" fill="#b09070" fill-opacity="0.18"/><circle cx="311.02" cy="556.63" r="0.62" fill="#ffffff" fill-opacity="0.18"/><circle cx="326.92" cy="566.68" r="0.78" fill="#ffffff" fill-opacity="0.18"/><circle cx="332.69" cy="565.86" r="0.61" fill="#ffffff" fill-opacity="0.18"/><circle cx="342.3" cy="569.32" r="1.09" fill="#ffffff" fill-opacity="0.18"/><circle cx="318.7" cy="560.96" r="0.66" fill="#b09070" fill-opacity="0.18"/><circle cx="301.07" cy="559.32" r="1.2" fill="#ffffff" fill-opacity="0.18"/><circle cx="318.85" cy="544.13" r="0.59" fill="#b09070" fill-opacity="0.18"/><circle cx="332.1" cy="571.25" r="1.26" fill="#ffffff" fill-opacity="0.18"/><circle cx="324.39" cy="541.49" r="1.16" fill="#ffffff" fill-opacity="0.18"/><circle cx="319.44" cy="582.68" r="0.61" fill="#ffffff" fill-opacity="0.18"/><circle cx="310.98" cy="547.37" r="0.76" fill="#b09070" fill-opacity="0.18"/><circle cx="339.24" cy="566.28" r="1.24" fill="#b09070" fill-opacity="0.18"/><circle cx="324.17" cy="559.01" r="1.12" fill="#b09070" fill-opacity="0.18"/><circle cx="305.55" cy="567.02" r="0.99" fill="#b09070" fill-opacity="0.18"/><circle cx="320.26" cy="566.43" r="0.91" fill="#b09070" fill-opacity="0.18"/><circle cx="316.51" cy="565.7" r="0.93" fill="#ffffff" fill-opacity="0.18"/><circle cx="331.04" cy="555.8" r="0.96" fill="#ffffff" fill-opacity="0.18"/><circle cx="312.09" cy="569.25" r="0.73" fill="#ffffff" fill-opacity="0.18"/><circle cx="343.34" cy="571.12" r="0.89" fill="#b09070" fill-opacity="0.18"/><circle cx="328.69" cy="548.25" r="1.27" fill="#ffffff" fill-opacity="0.18"/><circle cx="341.55" cy="559.37" r="0.96" fill="#b09070" fill-opacity="0.18"/><circle cx="327.64" cy="555.53" r="0.9" fill="#ffffff" fill-opacity="0.18"/><circle cx="318.68" cy="558.27" r="0.89" fill="#ffffff" fill-opacity="0.18"/><circle cx="301.84" cy="555.34" r="1" fill="#ffffff" fill-opacity="0.18"/><circle cx="312.28" cy="572.52" r="1.21" fill="#b09070" fill-opacity="0.18"/><circle cx="305.68" cy="573.93" r="0.8" fill="#ffffff" fill-opacity="0.18"/><circle cx="312.04" cy="569.99" r="0.8" fill="#ffffff" fill-opacity="0.18"/><circle cx="326.16" cy="586.55" r="0.6" fill="#b09070" fill-opacity="0.18"/><circle cx="317" cy="547.19" r="0.78" fill="#ffffff" fill-opacity="0.18"/><circle cx="331.49" cy="575.54" r="1.03" fill="#b09070" fill-opacity="0.18"/><circle cx="333.8" cy="582.22" r="1.05" fill="#b09070" fill-opacity="0.18"/><circle cx="325.29" cy="576.26" r="0.87" fill="#b09070" fill-opacity="0.18"/><circle cx="325.55" cy="586.62" r="0.71" fill="#ffffff" fill-opacity="0.18"/><circle cx="333.43" cy="545.88" r="1.08" fill="#ffffff" fill-opacity="0.18"/><circle cx="319.9" cy="541.04" r="0.63" fill="#b09070" fill-opacity="0.18"/><circle cx="328.94" cy="576.93" r="0.63" fill="#ffffff" fill-opacity="0.18"/><circle cx="330.35" cy="582.47" r="1.29" fill="#ffffff" fill-opacity="0.18"/><circle cx="321.62" cy="543.1" r="0.72" fill="#b09070" fill-opacity="0.18"/><circle cx="330.54" cy="560.08" r="0.67" fill="#b09070" fill-opacity="0.18"/><circle cx="338.38" cy="567.39" r="1.18" fill="#b09070" fill-opacity="0.18"/><circle cx="326.56" cy="579.77" r="0.87" fill="#b09070" fill-opacity="0.18"/><circle cx="316.71" cy="558.8" r="0.5" fill="#b09070" fill-opacity="0.18"/><circle cx="330.92" cy="554.88" r="1.18" fill="#b09070" fill-opacity="0.18"/><circle cx="312.64" cy="548.3" r="1.04" fill="#ffffff" fill-opacity="0.18"/><circle cx="305.54" cy="569.71" r="0.71" fill="#b09070" fill-opacity="0.18"/><circle cx="339.6" cy="551.99" r="1.13" fill="#ffffff" fill-opacity="0.18"/><circle cx="310.03" cy="549.6" r="1.18" fill="#b09070" fill-opacity="0.18"/><circle cx="340.29" cy="566.29" r="0.91" fill="#b09070" fill-opacity="0.18"/><circle cx="337.39" cy="550.37" r="1.12" fill="#b09070" fill-opacity="0.18"/><circle cx="309.01" cy="565.2" r="0.53" fill="#ffffff" fill-opacity="0.18"/><circle cx="333.19" cy="579.14" r="0.92" fill="#ffffff" fill-opacity="0.18"/><circle cx="317.08" cy="560.83" r="1.07" fill="#ffffff" fill-opacity="0.18"/><circle cx="312.91" cy="551.15" r="0.92" fill="#b09070" fill-opacity="0.18"/><circle cx="338.32" cy="559.34" r="1.29" fill="#ffffff" fill-opacity="0.18"/><circle cx="313.66" cy="563.37" r="1.08" fill="#ffffff" fill-opacity="0.18"/><circle cx="311.72" cy="550.03" r="0.72" fill="#b09070" fill-opacity="0.18"/><circle cx="338.88" cy="565.51" r="1.23" fill="#b09070" fill-opacity="0.18"/><circle cx="315.25" cy="547.41" r="0.59" fill="#b09070" fill-opacity="0.18"/><circle cx="313.2" cy="571.94" r="1.3" fill="#ffffff" fill-opacity="0.18"/><circle cx="301.13" cy="569.76" r="0.6" fill="#ffffff" fill-opacity="0.18"/><circle cx="331.53" cy="544.69" r="0.88" fill="#ffffff" fill-opacity="0.18"/><circle cx="326.54" cy="581.93" r="0.78" fill="#ffffff" fill-opacity="0.18"/><circle cx="331.83" cy="546.94" r="0.87" fill="#b09070" fill-opacity="0.18"/><circle cx="311.5" cy="560.39" r="1.12" fill="#ffffff" fill-opacity="0.18"/><circle cx="327.27" cy="548.27" r="0.71" fill="#ffffff" fill-opacity="0.18"/><circle cx="323.52" cy="578.87" r="1.04" fill="#b09070" fill-opacity="0.18"/><circle cx="329.5" cy="548.69" r="0.79" fill="#b09070" fill-opacity="0.18"/><circle cx="315.6" cy="581.69" r="0.84" fill="#b09070" fill-opacity="0.18"/><circle cx="313.57" cy="548.22" r="0.62" fill="#b09070" fill-opacity="0.18"/><circle cx="313.99" cy="572.93" r="1.16" fill="#ffffff" fill-opacity="0.18"/><circle cx="328.67" cy="542.07" r="0.92" fill="#ffffff" fill-opacity="0.18"/><circle cx="311.68" cy="557.31" r="0.67" fill="#ffffff" fill-opacity="0.18"/><circle cx="322.14" cy="570.42" r="0.96" fill="#ffffff" fill-opacity="0.18"/><circle cx="332.52" cy="584.52" r="0.78" fill="#b09070" fill-opacity="0.18"/><circle cx="331.53" cy="558.97" r="0.99" fill="#ffffff" fill-opacity="0.18"/><circle cx="343.43" cy="561.42" r="1.03" fill="#ffffff" fill-opacity="0.18"/><circle cx="329.19" cy="542.34" r="0.66" fill="#b09070" fill-opacity="0.18"/><circle cx="304.37" cy="560.43" r="1.04" fill="#b09070" fill-opacity="0.18"/><circle cx="329.85" cy="569.77" r="0.69" fill="#b09070" fill-opacity="0.18"/><circle cx="314.96" cy="564.64" r="0.89" fill="#ffffff" fill-opacity="0.18"/><circle cx="316.89" cy="542.65" r="0.9" fill="#ffffff" fill-opacity="0.18"/><circle cx="335.26" cy="550.96" r="0.63" fill="#ffffff" fill-opacity="0.18"/><circle cx="319.35" cy="551.52" r="1.03" fill="#b09070" fill-opacity="0.18"/><circle cx="308.39" cy="579.72" r="1.3" fill="#b09070" fill-opacity="0.18"/><circle cx="332.14" cy="582.02" r="1.01" fill="#b09070" fill-opacity="0.18"/><circle cx="320.74" cy="561.69" r="1.15" fill="#b09070" fill-opacity="0.18"/><circle cx="316.57" cy="564.98" r="0.53" fill="#ffffff" fill-opacity="0.18"/><circle cx="309.58" cy="549.93" r="0.58" fill="#b09070" fill-opacity="0.18"/><circle cx="313.34" cy="580.51" r="0.73" fill="#ffffff" fill-opacity="0.18"/><circle cx="323.71" cy="578.2" r="1.16" fill="#ffffff" fill-opacity="0.18"/><circle cx="329.91" cy="552.85" r="0.77" fill="#b09070" fill-opacity="0.18"/><circle cx="340.37" cy="547.31" r="1.28" fill="#b09070" fill-opacity="0.18"/><circle cx="328.88" cy="545.62" r="0.65" fill="#b09070" fill-opacity="0.18"/><circle cx="337.86" cy="578.72" r="1.13" fill="#ffffff" fill-opacity="0.18"/><circle cx="323.03" cy="559.55" r="0.94" fill="#b09070" fill-opacity="0.18"/><circle cx="322.19" cy="569.3" r="0.54" fill="#ffffff" fill-opacity="0.18"/><circle cx="302.49" cy="567.63" r="1.13" fill="#ffffff" fill-opacity="0.18"/><circle cx="306.48" cy="549.56" r="1" fill="#ffffff" fill-opacity="0.18"/><circle cx="307.48" cy="552.93" r="0.67" fill="#ffffff" fill-opacity="0.18"/><circle cx="305.05" cy="569.35" r="0.58" fill="#ffffff" fill-opacity="0.18"/><circle cx="333.73" cy="566.59" r="1.23" fill="#ffffff" fill-opacity="0.18"/><circle cx="310.73" cy="578.42" r="1.13" fill="#ffffff" fill-opacity="0.18"/><circle cx="322.95" cy="582.11" r="0.65" fill="#b09070" fill-opacity="0.18"/><circle cx="328.23" cy="564.81" r="0.9" fill="#ffffff" fill-opacity="0.18"/><circle cx="331.65" cy="548.88" r="0.96" fill="#b09070" fill-opacity="0.18"/><circle cx="302.27" cy="571.79" r="1.04" fill="#ffffff" fill-opacity="0.18"/><circle cx="342.21" cy="563.46" r="0.88" fill="#ffffff" fill-opacity="0.18"/><circle cx="336.12" cy="573.41" r="0.67" fill="#b09070" fill-opacity="0.18"/><circle cx="333.1" cy="565.16" r="0.51" fill="#ffffff" fill-opacity="0.18"/><circle cx="343.29" cy="562.61" r="0.67" fill="#ffffff" fill-opacity="0.18"/><circle cx="315.67" cy="565.69" r="1.08" fill="#b09070" fill-opacity="0.18"/><circle cx="322.64" cy="552.57" r="1.24" fill="#ffffff" fill-opacity="0.18"/><circle cx="323.6" cy="549.83" r="1.08" fill="#ffffff" fill-opacity="0.18"/><circle cx="319.07" cy="559.24" r="0.87" fill="#b09070" fill-opacity="0.18"/><circle cx="323.26" cy="587.27" r="1.07" fill="#ffffff" fill-opacity="0.18"/><circle cx="326.39" cy="564.49" r="0.81" fill="#ffffff" fill-opacity="0.18"/><circle cx="313.07" cy="556.41" r="0.99" fill="#b09070" fill-opacity="0.18"/><circle cx="336.57" cy="560.01" r="0.88" fill="#b09070" fill-opacity="0.18"/><circle cx="333.36" cy="562.21" r="0.79" fill="#ffffff" fill-opacity="0.18"/><circle cx="310.71" cy="550.31" r="0.88" fill="#b09070" fill-opacity="0.18"/><circle cx="303.73" cy="570.4" r="1.13" fill="#b09070" fill-opacity="0.18"/><circle cx="319.12" cy="581.57" r="1" fill="#ffffff" fill-opacity="0.18"/><circle cx="330.02" cy="546.02" r="1.2" fill="#b09070" fill-opacity="0.18"/><circle cx="344.07" cy="566.23" r="0.98" fill="#ffffff" fill-opacity="0.18"/><circle cx="311.91" cy="570" r="0.8" fill="#ffffff" fill-opacity="0.18"/><circle cx="308.01" cy="552.47" r="1.15" fill="#ffffff" fill-opacity="0.18"/><circle cx="336.54" cy="564.38" r="0.71" fill="#b09070" fill-opacity="0.18"/><circle cx="332.16" cy="559.72" r="0.73" fill="#ffffff" fill-opacity="0.18"/><circle cx="330.76" cy="558.57" r="0.72" fill="#ffffff" fill-opacity="0.18"/><circle cx="331.57" cy="543.64" r="0.78" fill="#b09070" fill-opacity="0.18"/><circle cx="317.29" cy="561.95" r="0.66" fill="#b09070" fill-opacity="0.18"/><circle cx="342.64" cy="555.66" r="0.75" fill="#ffffff" fill-opacity="0.18"/><circle cx="319.32" cy="567.74" r="1.24" fill="#ffffff" fill-opacity="0.18"/><circle cx="342.08" cy="565.32" r="0.87" fill="#b09070" fill-opacity="0.18"/><circle cx="326.31" cy="557.63" r="0.69" fill="#ffffff" fill-opacity="0.18"/><circle cx="338.33" cy="553.3" r="0.88" fill="#b09070" fill-opacity="0.18"/><circle cx="330.68" cy="581.24" r="0.57" fill="#ffffff" fill-opacity="0.18"/><circle cx="318.55" cy="584.99" r="0.82" fill="#b09070" fill-opacity="0.18"/><circle cx="334.02" cy="578.06" r="1.24" fill="#ffffff" fill-opacity="0.18"/><circle cx="335.04" cy="551.78" r="1.01" fill="#b09070" fill-opacity="0.18"/><circle cx="335.62" cy="581.84" r="0.78" fill="#ffffff" fill-opacity="0.18"/><circle cx="340.9" cy="566.47" r="0.66" fill="#ffffff" fill-opacity="0.18"/><circle cx="303.45" cy="555.35" r="0.71" fill="#ffffff" fill-opacity="0.18"/><circle cx="305.04" cy="573.7" r="1.11" fill="#b09070" fill-opacity="0.18"/><circle cx="344.87" cy="559.34" r="1.17" fill="#b09070" fill-opacity="0.18"/><circle cx="337.73" cy="563.78" r="0.57" fill="#b09070" fill-opacity="0.18"/><circle cx="318.81" cy="562.35" r="0.89" fill="#b09070" fill-opacity="0.18"/><circle cx="341.16" cy="550.79" r="1.24" fill="#b09070" fill-opacity="0.18"/><circle cx="340.78" cy="574.99" r="0.95" fill="#b09070" fill-opacity="0.18"/><circle cx="342.23" cy="559.09" r="0.65" fill="#b09070" fill-opacity="0.18"/><circle cx="308.71" cy="580.19" r="1.29" fill="#ffffff" fill-opacity="0.18"/><circle cx="334.75" cy="566.95" r="1.25" fill="#b09070" fill-opacity="0.18"/><circle cx="318.36" cy="562.36" r="1.17" fill="#ffffff" fill-opacity="0.18"/><circle cx="325.02" cy="559.21" r="0.54" fill="#b09070" fill-opacity="0.18"/><circle cx="324.13" cy="555.18" r="1.04" fill="#ffffff" fill-opacity="0.18"/><circle cx="312.91" cy="557.16" r="0.88" fill="#ffffff" fill-opacity="0.18"/><circle cx="312.64" cy="573.52" r="0.89" fill="#b09070" fill-opacity="0.18"/><circle cx="324.56" cy="574.02" r="1.23" fill="#ffffff" fill-opacity="0.18"/><circle cx="301.78" cy="568.76" r="1.14" fill="#ffffff" fill-opacity="0.18"/><circle cx="328.55" cy="556.05" r="1.25" fill="#ffffff" fill-opacity="0.18"/><circle cx="340.84" cy="549.96" r="1.12" fill="#ffffff" fill-opacity="0.18"/><circle cx="344.71" cy="553.78" r="1.17" fill="#b09070" fill-opacity="0.18"/><circle cx="305.79" cy="569.83" r="0.76" fill="#b09070" fill-opacity="0.18"/><circle cx="332.47" cy="571.91" r="0.61" fill="#b09070" fill-opacity="0.18"/><circle cx="334.37" cy="568.17" r="0.94" fill="#b09070" fill-opacity="0.18"/><circle cx="330.09" cy="557.66" r="0.83" fill="#b09070" fill-opacity="0.18"/><circle cx="335.55" cy="566.13" r="0.77" fill="#b09070" fill-opacity="0.18"/><circle cx="314.1" cy="564.8" r="0.86" fill="#b09070" fill-opacity="0.18"/><circle cx="333.3" cy="577.85" r="1" fill="#ffffff" fill-opacity="0.18"/><circle cx="342.72" cy="554.67" r="1.17" fill="#b09070" fill-opacity="0.18"/><circle cx="324.1" cy="556.02" r="0.85" fill="#b09070" fill-opacity="0.18"/><circle cx="324.72" cy="576.42" r="0.58" fill="#ffffff" fill-opacity="0.18"/><circle cx="334.05" cy="556.46" r="1.17" fill="#ffffff" fill-opacity="0.18"/><circle cx="338.39" cy="582.83" r="0.85" fill="#ffffff" fill-opacity="0.18"/><circle cx="306.89" cy="563.1" r="0.5" fill="#b09070" fill-opacity="0.18"/><circle cx="302.4" cy="560.63" r="0.79" fill="#ffffff" fill-opacity="0.18"/><circle cx="319.81" cy="566.85" r="0.96" fill="#b09070" fill-opacity="0.18"/><circle cx="327.62" cy="572.27" r="1.07" fill="#ffffff" fill-opacity="0.18"/><circle cx="333.14" cy="569.3" r="1.21" fill="#ffffff" fill-opacity="0.18"/><circle cx="325.29" cy="543.91" r="0.66" fill="#ffffff" fill-opacity="0.18"/><circle cx="318.95" cy="546.24" r="0.97" fill="#ffffff" fill-opacity="0.18"/><circle cx="333.68" cy="568.55" r="1.17" fill="#b09070" fill-opacity="0.18"/><circle cx="301.17" cy="561.61" r="0.77" fill="#b09070" fill-opacity="0.18"/><circle cx="338.27" cy="547.79" r="0.57" fill="#b09070" fill-opacity="0.18"/><circle cx="325.09" cy="549.04" r="1.2" fill="#ffffff" fill-opacity="0.18"/><circle cx="328.66" cy="575.58" r="0.53" fill="#b09070" fill-opacity="0.18"/><circle cx="306.04" cy="555.19" r="0.78" fill="#ffffff" fill-opacity="0.18"/><circle cx="346.43" cy="559.76" r="0.6" fill="#ffffff" fill-opacity="0.18"/><circle cx="332.04" cy="545.83" r="1.12" fill="#b09070" fill-opacity="0.18"/><circle cx="304.13" cy="554" r="0.73" fill="#ffffff" fill-opacity="0.18"/><circle cx="322.92" cy="556.48" r="0.91" fill="#b09070" fill-opacity="0.18"/><circle cx="306.95" cy="560.21" r="0.69" fill="#ffffff" fill-opacity="0.18"/><circle cx="318.65" cy="559.42" r="0.58" fill="#ffffff" fill-opacity="0.18"/><circle cx="328.74" cy="553.36" r="0.52" fill="#ffffff" fill-opacity="0.18"/><circle cx="322.23" cy="541.35" r="0.51" fill="#b09070" fill-opacity="0.18"/><circle cx="307.48" cy="555.71" r="1.06" fill="#ffffff" fill-opacity="0.18"/><circle cx="329.07" cy="558.66" r="0.54" fill="#ffffff" fill-opacity="0.18"/><circle cx="315.49" cy="564.59" r="0.59" fill="#b09070" fill-opacity="0.18"/><circle cx="330.07" cy="558.73" r="1.19" fill="#ffffff" fill-opacity="0.18"/><circle cx="315.64" cy="560.21" r="0.63" fill="#b09070" fill-opacity="0.18"/><circle cx="343.88" cy="555.97" r="1.06" fill="#b09070" fill-opacity="0.18"/><circle cx="309.13" cy="553.16" r="0.82" fill="#ffffff" fill-opacity="0.18"/><circle cx="327.74" cy="541.44" r="0.82" fill="#b09070" fill-opacity="0.18"/><circle cx="319.16" cy="542.92" r="1.15" fill="#b09070" fill-opacity="0.18"/><circle cx="344.58" cy="571.5" r="1.27" fill="#ffffff" fill-opacity="0.18"/><circle cx="323.95" cy="587.3" r="1.03" fill="#b09070" fill-opacity="0.18"/><circle cx="325.84" cy="565.87" r="0.56" fill="#ffffff" fill-opacity="0.18"/><circle cx="308.16" cy="563.78" r="0.68" fill="#ffffff" fill-opacity="0.18"/><circle cx="311.51" cy="573.57" r="1.01" fill="#b09070" fill-opacity="0.18"/><circle cx="339.89" cy="550" r="0.53" fill="#ffffff" fill-opacity="0.18"/><circle cx="321.96" cy="583.26" r="1" fill="#b09070" fill-opacity="0.18"/><circle cx="344.73" cy="569.02" r="0.7" fill="#ffffff" fill-opacity="0.18"/><circle cx="308.12" cy="571.21" r="0.73" fill="#ffffff" fill-opacity="0.18"/><circle cx="315.94" cy="553.71" r="0.55" fill="#ffffff" fill-opacity="0.18"/>
<g fill="#4e3028"><circle cx="344.56" cy="553.04" r="0.48" fill-opacity="0.35"/><circle cx="334.32" cy="578.36" r="0.32" fill-opacity="0.5"/><circle cx="303.5" cy="553.5" r="0.48" fill-opacity="0.5"/><circle cx="319.06" cy="584.38" r="0.56" fill-opacity="0.5"/><circle cx="321.19" cy="553.8" r="0.56" fill-opacity="0.65"/><circle cx="317.74" cy="579.54" r="0.4" fill-opacity="0.65" fill="#94504a"/><circle cx="311.07" cy="575.78" r="0.66" fill-opacity="0.8" fill="#94504a"/><circle cx="333.08" cy="553.35" r="0.4" fill-opacity="0.65"/><circle cx="320.19" cy="580.71" r="0.4" fill-opacity="0.65" fill="#94504a"/><circle cx="320.48" cy="563.13" r="0.66" fill-opacity="0.65"/><circle cx="319.29" cy="568.13" r="0.56" fill-opacity="0.65"/><circle cx="325.09" cy="572.1" r="0.4" fill-opacity="0.8" fill="#94504a"/><circle cx="317.4" cy="551.51" r="0.66" fill-opacity="0.65"/><circle cx="322.63" cy="546.99" r="0.56" fill-opacity="0.65"/><circle cx="341.26" cy="553.91" r="0.4" fill-opacity="0.8"/><circle cx="324.01" cy="562.68" r="0.66" fill-opacity="0.35"/><circle cx="302.62" cy="553.94" r="0.56" fill-opacity="0.65"/><circle cx="310.22" cy="577.12" r="0.56" fill-opacity="0.8" fill="#94504a"/><circle cx="315.24" cy="575.65" r="0.66" fill-opacity="0.8"/><circle cx="323.8" cy="562.27" r="0.56" fill-opacity="0.8"/><circle cx="320.41" cy="573.98" r="0.4" fill-opacity="0.8"/><circle cx="339.46" cy="573.88" r="0.48" fill-opacity="0.65"/><circle cx="324.72" cy="582.98" r="0.48" fill-opacity="0.5"/><circle cx="345.69" cy="558.04" r="0.32" fill-opacity="0.35" fill="#94504a"/><circle cx="316.84" cy="585.91" r="0.66" fill-opacity="0.65"/><circle cx="299.96" cy="561.62" r="0.66" fill-opacity="0.8"/><circle cx="311.94" cy="556.19" r="0.48" fill-opacity="0.8"/><circle cx="304.32" cy="561.13" r="0.32" fill-opacity="0.8"/><circle cx="309.74" cy="558.53" r="0.66" fill-opacity="0.5"/><circle cx="300.31" cy="566.22" r="0.56" fill-opacity="0.65"/><circle cx="341.24" cy="575.63" r="0.48" fill-opacity="0.65"/><circle cx="321.4" cy="570.37" r="0.4" fill-opacity="0.35"/><circle cx="316.62" cy="575.13" r="0.66" fill-opacity="0.8"/><circle cx="330.88" cy="548.32" r="0.4" fill-opacity="0.5"/><circle cx="318.44" cy="561.91" r="0.32" fill-opacity="0.65"/><circle cx="320.61" cy="545.42" r="0.56" fill-opacity="0.35"/><circle cx="319" cy="551.84" r="0.32" fill-opacity="0.65"/><circle cx="331.36" cy="564.98" r="0.32" fill-opacity="0.5" fill="#94504a"/><circle cx="304.6" cy="555.63" r="0.66" fill-opacity="0.5"/><circle cx="334.99" cy="574.91" r="0.4" fill-opacity="0.35" fill="#94504a"/><circle cx="330.13" cy="562.11" r="0.56" fill-opacity="0.8"/><circle cx="343.83" cy="572.47" r="0.32" fill-opacity="0.65" fill="#94504a"/><circle cx="321.98" cy="575.84" r="0.32" fill-opacity="0.65"/><circle cx="344.95" cy="557.06" r="0.32" fill-opacity="0.65" fill="#94504a"/><circle cx="342.7" cy="566.58" r="0.4" fill-opacity="0.8"/><circle cx="301.96" cy="572.97" r="0.66" fill-opacity="0.5" fill="#94504a"/><circle cx="328.42" cy="562.13" r="0.4" fill-opacity="0.65" fill="#94504a"/><circle cx="302.33" cy="570.44" r="0.56" fill-opacity="0.65"/><circle cx="339.94" cy="558.99" r="0.4" fill-opacity="0.8"/><circle cx="308.11" cy="573.76" r="0.56" fill-opacity="0.8" fill="#94504a"/><circle cx="342.96" cy="575.95" r="0.4" fill-opacity="0.65"/><circle cx="325.4" cy="562.83" r="0.56" fill-opacity="0.65" fill="#94504a"/><circle cx="310.63" cy="575.82" r="0.56" fill-opacity="0.35"/><circle cx="337.2" cy="556.13" r="0.66" fill-opacity="0.5"/><circle cx="314.66" cy="577.87" r="0.56" fill-opacity="0.35" fill="#94504a"/><circle cx="325.14" cy="560.65" r="0.4" fill-opacity="0.5" fill="#94504a"/><circle cx="330.21" cy="553.5" r="0.4" fill-opacity="0.8"/><circle cx="325.17" cy="585.65" r="0.48" fill-opacity="0.65" fill="#94504a"/><circle cx="313.32" cy="553.13" r="0.66" fill-opacity="0.5" fill="#94504a"/><circle cx="328.53" cy="580.17" r="0.56" fill-opacity="0.5"/><circle cx="304.06" cy="550.63" r="0.56" fill-opacity="0.65"/><circle cx="308.59" cy="563.27" r="0.4" fill-opacity="0.35"/><circle cx="328.19" cy="558.42" r="0.56" fill-opacity="0.35"/><circle cx="317.1" cy="581.06" r="0.56" fill-opacity="0.35"/><circle cx="326.3" cy="585.3" r="0.4" fill-opacity="0.35" fill="#94504a"/><circle cx="331.66" cy="542.63" r="0.48" fill-opacity="0.5" fill="#94504a"/><circle cx="325.83" cy="577.52" r="0.4" fill-opacity="0.8" fill="#94504a"/><circle cx="336.69" cy="555.98" r="0.4" fill-opacity="0.65" fill="#94504a"/><circle cx="328.3" cy="550.38" r="0.48" fill-opacity="0.8" fill="#94504a"/><circle cx="304.23" cy="568.95" r="0.56" fill-opacity="0.65"/><circle cx="321.91" cy="571.51" r="0.48" fill-opacity="0.5"/><circle cx="328.54" cy="565.45" r="0.4" fill-opacity="0.8" fill="#94504a"/><circle cx="314.16" cy="573.27" r="0.32" fill-opacity="0.65"/><circle cx="302.41" cy="555.04" r="0.4" fill-opacity="0.8"/><circle cx="312.71" cy="569.08" r="0.66" fill-opacity="0.65"/><circle cx="324.54" cy="556.24" r="0.48" fill-opacity="0.35"/><circle cx="317.73" cy="546.9" r="0.4" fill-opacity="0.35" fill="#94504a"/><circle cx="326.15" cy="550.87" r="0.48" fill-opacity="0.35"/><circle cx="344.59" cy="564" r="0.66" fill-opacity="0.5" fill="#94504a"/><circle cx="330.66" cy="561.87" r="0.56" fill-opacity="0.8"/><circle cx="322.42" cy="544.3" r="0.56" fill-opacity="0.35"/><circle cx="318.78" cy="554.58" r="0.4" fill-opacity="0.8"/><circle cx="322.38" cy="559.44" r="0.66" fill-opacity="0.65" fill="#94504a"/><circle cx="325.72" cy="554.7" r="0.4" fill-opacity="0.65" fill="#94504a"/><circle cx="320.18" cy="568.82" r="0.56" fill-opacity="0.35" fill="#94504a"/><circle cx="332.61" cy="574.39" r="0.56" fill-opacity="0.8" fill="#94504a"/><circle cx="312.08" cy="563.11" r="0.56" fill-opacity="0.5"/><circle cx="319.5" cy="577.83" r="0.4" fill-opacity="0.5" fill="#94504a"/><circle cx="303.12" cy="557.77" r="0.4" fill-opacity="0.5"/><circle cx="325.51" cy="548" r="0.4" fill-opacity="0.35"/><circle cx="321.18" cy="564.47" r="0.32" fill-opacity="0.35"/><circle cx="334.03" cy="572.74" r="0.48" fill-opacity="0.8"/><circle cx="314.76" cy="567.52" r="0.66" fill-opacity="0.65" fill="#94504a"/><circle cx="341.08" cy="569.32" r="0.56" fill-opacity="0.8" fill="#94504a"/><circle cx="344.06" cy="561.72" r="0.66" fill-opacity="0.65" fill="#94504a"/><circle cx="308.45" cy="571" r="0.4" fill-opacity="0.65" fill="#94504a"/><circle cx="309.66" cy="546.07" r="0.66" fill-opacity="0.65"/><circle cx="323.74" cy="557.53" r="0.32" fill-opacity="0.8"/><circle cx="328.99" cy="576.29" r="0.66" fill-opacity="0.5" fill="#94504a"/><circle cx="316.3" cy="583.19" r="0.66" fill-opacity="0.65"/><circle cx="311.87" cy="579.45" r="0.4" fill-opacity="0.65" fill="#94504a"/><circle cx="335.94" cy="544.61" r="0.48" fill-opacity="0.5" fill="#94504a"/><circle cx="326.41" cy="556.8" r="0.56" fill-opacity="0.35"/><circle cx="306.94" cy="564.3" r="0.4" fill-opacity="0.65"/><circle cx="335.81" cy="579.06" r="0.4" fill-opacity="0.5" fill="#94504a"/><circle cx="308.23" cy="575.39" r="0.32" fill-opacity="0.8"/><circle cx="316.03" cy="572.32" r="0.32" fill-opacity="0.8" fill="#94504a"/><circle cx="329.92" cy="566.45" r="0.56" fill-opacity="0.65" fill="#94504a"/><circle cx="326.02" cy="563.63" r="0.4" fill-opacity="0.5"/><circle cx="324.37" cy="562.78" r="0.48" fill-opacity="0.5"/><circle cx="306.23" cy="562.39" r="0.56" fill-opacity="0.5"/><circle cx="306.64" cy="548.12" r="0.32" fill-opacity="0.65"/><circle cx="312.03" cy="558.59" r="0.48" fill-opacity="0.8"/><circle cx="329.74" cy="557.59" r="0.66" fill-opacity="0.35"/><circle cx="323.12" cy="552.93" r="0.32" fill-opacity="0.5"/><circle cx="311.03" cy="557.12" r="0.56" fill-opacity="0.65"/><circle cx="309.48" cy="575.21" r="0.32" fill-opacity="0.5" fill="#94504a"/><circle cx="302.19" cy="557.5" r="0.32" fill-opacity="0.5"/><circle cx="333.87" cy="571.05" r="0.66" fill-opacity="0.65"/><circle cx="312.79" cy="567.23" r="0.66" fill-opacity="0.35"/><circle cx="302.91" cy="554.9" r="0.56" fill-opacity="0.35"/><circle cx="315.04" cy="564.08" r="0.66" fill-opacity="0.35"/><circle cx="300.39" cy="562.01" r="0.56" fill-opacity="0.8"/><circle cx="332.33" cy="586.34" r="0.56" fill-opacity="0.35" fill="#94504a"/><circle cx="343.67" cy="571.75" r="0.4" fill-opacity="0.35"/><circle cx="321.39" cy="562.6" r="0.4" fill-opacity="0.8" fill="#94504a"/><circle cx="305.77" cy="573.32" r="0.32" fill-opacity="0.5"/><circle cx="339.7" cy="547.53" r="0.4" fill-opacity="0.65"/><circle cx="325.05" cy="550.25" r="0.32" fill-opacity="0.65" fill="#94504a"/><circle cx="322.67" cy="549.61" r="0.48" fill-opacity="0.8" fill="#94504a"/><circle cx="338.99" cy="575.2" r="0.66" fill-opacity="0.65"/><circle cx="331.06" cy="560.6" r="0.4" fill-opacity="0.65"/><circle cx="343.71" cy="566.92" r="0.66" fill-opacity="0.8" fill="#94504a"/><circle cx="326.53" cy="566.48" r="0.48" fill-opacity="0.5" fill="#94504a"/><circle cx="340.13" cy="547.71" r="0.56" fill-opacity="0.5"/><circle cx="335.88" cy="564.04" r="0.48" fill-opacity="0.8" fill="#94504a"/><circle cx="332.05" cy="575.68" r="0.66" fill-opacity="0.8"/><circle cx="344.84" cy="569" r="0.4" fill-opacity="0.8"/><circle cx="315.55" cy="542.1" r="0.56" fill-opacity="0.8" fill="#94504a"/><circle cx="300.45" cy="561.74" r="0.48" fill-opacity="0.65"/><circle cx="332.98" cy="574.08" r="0.66" fill-opacity="0.35" fill="#94504a"/><circle cx="320.75" cy="542.7" r="0.48" fill-opacity="0.8"/><circle cx="338.14" cy="564.79" r="0.66" fill-opacity="0.8" fill="#94504a"/><circle cx="320.52" cy="565.12" r="0.66" fill-opacity="0.35"/><circle cx="336.55" cy="580.35" r="0.56" fill-opacity="0.65" fill="#94504a"/><circle cx="308.96" cy="583" r="0.66" fill-opacity="0.5"/><circle cx="319.73" cy="562.6" r="0.32" fill-opacity="0.5"/><circle cx="311.16" cy="549.93" r="0.48" fill-opacity="0.65"/><circle cx="327.24" cy="553.02" r="0.4" fill-opacity="0.35" fill="#94504a"/><circle cx="322.47" cy="543.28" r="0.66" fill-opacity="0.5"/><circle cx="309.03" cy="574.19" r="0.32" fill-opacity="0.65"/><circle cx="328.44" cy="542.11" r="0.66" fill-opacity="0.65"/><circle cx="345.48" cy="563.79" r="0.4" fill-opacity="0.5" fill="#94504a"/><circle cx="313.1" cy="544.29" r="0.56" fill-opacity="0.8"/><circle cx="342.94" cy="555.19" r="0.66" fill-opacity="0.35" fill="#94504a"/><circle cx="323.58" cy="584.65" r="0.66" fill-opacity="0.65" fill="#94504a"/><circle cx="333.19" cy="559.47" r="0.66" fill-opacity="0.5" fill="#94504a"/><circle cx="309.84" cy="567.12" r="0.56" fill-opacity="0.35"/><circle cx="330" cy="576.37" r="0.48" fill-opacity="0.35"/><circle cx="325.41" cy="583.22" r="0.32" fill-opacity="0.5" fill="#94504a"/><circle cx="336.43" cy="554.21" r="0.48" fill-opacity="0.35" fill="#94504a"/><circle cx="343.9" cy="559.52" r="0.66" fill-opacity="0.35" fill="#94504a"/><circle cx="339.2" cy="549" r="0.48" fill-opacity="0.5" fill="#94504a"/><circle cx="316.03" cy="554.49" r="0.32" fill-opacity="0.65"/><circle cx="318.71" cy="574.07" r="0.32" fill-opacity="0.8"/><circle cx="313.47" cy="581.13" r="0.32" fill-opacity="0.8"/><circle cx="318.46" cy="559.63" r="0.56" fill-opacity="0.8" fill="#94504a"/><circle cx="340.16" cy="565.65" r="0.48" fill-opacity="0.65" fill="#94504a"/><circle cx="320.8" cy="545.65" r="0.48" fill-opacity="0.5" fill="#94504a"/><circle cx="329.79" cy="571.67" r="0.32" fill-opacity="0.65"/><circle cx="308.66" cy="560.49" r="0.66" fill-opacity="0.5"/><circle cx="314.78" cy="580.55" r="0.66" fill-opacity="0.65"/><circle cx="340.14" cy="567.53" r="0.48" fill-opacity="0.8"/><circle cx="309.64" cy="561.57" r="0.48" fill-opacity="0.5" fill="#94504a"/><circle cx="338.4" cy="574.79" r="0.48" fill-opacity="0.5"/><circle cx="324.33" cy="552.77" r="0.32" fill-opacity="0.35"/><circle cx="315.75" cy="561.99" r="0.4" fill-opacity="0.5" fill="#94504a"/><circle cx="322.39" cy="545.58" r="0.4" fill-opacity="0.5"/><circle cx="320.28" cy="550.46" r="0.56" fill-opacity="0.8" fill="#94504a"/><circle cx="342.52" cy="550.87" r="0.56" fill-opacity="0.8" fill="#94504a"/><circle cx="344.93" cy="567.79" r="0.32" fill-opacity="0.35"/><circle cx="313.31" cy="543.82" r="0.48" fill-opacity="0.35" fill="#94504a"/><circle cx="336.15" cy="556.12" r="0.56" fill-opacity="0.5" fill="#94504a"/><circle cx="322.97" cy="560.9" r="0.4" fill-opacity="0.5"/><circle cx="311.59" cy="570.44" r="0.48" fill-opacity="0.65"/><circle cx="340.72" cy="562.26" r="0.4" fill-opacity="0.8"/><circle cx="321.42" cy="586.54" r="0.4" fill-opacity="0.65" fill="#94504a"/><circle cx="310.06" cy="565.51" r="0.4" fill-opacity="0.5" fill="#94504a"/><circle cx="341.95" cy="559.22" r="0.4" fill-opacity="0.35"/><circle cx="332.05" cy="556.89" r="0.48" fill-opacity="0.35"/><circle cx="333.07" cy="584.6" r="0.4" fill-opacity="0.65"/><circle cx="336.32" cy="581.86" r="0.32" fill-opacity="0.5"/><circle cx="323.03" cy="554.95" r="0.32" fill-opacity="0.5"/><circle cx="310.84" cy="572.03" r="0.56" fill-opacity="0.65"/><circle cx="324.27" cy="568.59" r="0.32" fill-opacity="0.35" fill="#94504a"/><circle cx="307.31" cy="555.84" r="0.32" fill-opacity="0.35" fill="#94504a"/><circle cx="344.74" cy="573.22" r="0.32" fill-opacity="0.35"/><circle cx="300.46" cy="560.48" r="0.32" fill-opacity="0.5" fill="#94504a"/><circle cx="312.01" cy="551.12" r="0.66" fill-opacity="0.35"/><circle cx="345.1" cy="558.4" r="0.32" fill-opacity="0.65"/><circle cx="345.72" cy="560.37" r="0.4" fill-opacity="0.35" fill="#94504a"/><circle cx="322.92" cy="574.33" r="0.32" fill-opacity="0.35" fill="#94504a"/><circle cx="325.14" cy="559.15" r="0.48" fill-opacity="0.65" fill="#94504a"/><circle cx="312.44" cy="547.88" r="0.66" fill-opacity="0.65"/><circle cx="343.71" cy="562.04" r="0.48" fill-opacity="0.8"/><circle cx="310.74" cy="576.11" r="0.4" fill-opacity="0.8"/><circle cx="331.33" cy="542.94" r="0.32" fill-opacity="0.5"/><circle cx="323.17" cy="587.39" r="0.66" fill-opacity="0.8"/><circle cx="312.54" cy="545.55" r="0.32" fill-opacity="0.35"/><circle cx="322.01" cy="559.22" r="0.48" fill-opacity="0.8"/><circle cx="337.15" cy="561.85" r="0.32" fill-opacity="0.8"/><circle cx="301.68" cy="562.84" r="0.66" fill-opacity="0.8" fill="#94504a"/><circle cx="323.05" cy="545.19" r="0.56" fill-opacity="0.65"/><circle cx="308.97" cy="561.77" r="0.66" fill-opacity="0.65" fill="#94504a"/><circle cx="312.83" cy="545.82" r="0.66" fill-opacity="0.65" fill="#94504a"/><circle cx="337.66" cy="547.05" r="0.48" fill-opacity="0.8"/><circle cx="345.86" cy="573.92" r="0.66" fill-opacity="0.65"/><circle cx="330.62" cy="548.15" r="0.4" fill-opacity="0.5" fill="#94504a"/><circle cx="332.43" cy="581.83" r="0.32" fill-opacity="0.65"/><circle cx="332.91" cy="544.27" r="0.32" fill-opacity="0.8" fill="#94504a"/><circle cx="333.48" cy="571.51" r="0.48" fill-opacity="0.65"/><circle cx="318.2" cy="568.6" r="0.56" fill-opacity="0.35"/><circle cx="328.82" cy="548.38" r="0.66" fill-opacity="0.5" fill="#94504a"/><circle cx="315.18" cy="564.86" r="0.4" fill-opacity="0.65"/><circle cx="323.46" cy="585.78" r="0.66" fill-opacity="0.5" fill="#94504a"/><circle cx="313.53" cy="557.64" r="0.48" fill-opacity="0.65"/><circle cx="322.67" cy="576.35" r="0.56" fill-opacity="0.35"/><circle cx="338.18" cy="573.2" r="0.4" fill-opacity="0.8"/><circle cx="326.36" cy="551.53" r="0.32" fill-opacity="0.8"/><circle cx="323.95" cy="559.34" r="0.56" fill-opacity="0.8"/><circle cx="310.86" cy="581.58" r="0.56" fill-opacity="0.5"/><circle cx="334.21" cy="562.37" r="0.66" fill-opacity="0.65" fill="#94504a"/><circle cx="330.77" cy="555.91" r="0.32" fill-opacity="0.8"/><circle cx="306.41" cy="564.62" r="0.32" fill-opacity="0.35"/><circle cx="307.95" cy="568.1" r="0.56" fill-opacity="0.8"/><circle cx="333.11" cy="568.27" r="0.56" fill-opacity="0.8" fill="#94504a"/><circle cx="344.68" cy="565.5" r="0.4" fill-opacity="0.5"/><circle cx="321.78" cy="559.87" r="0.66" fill-opacity="0.65"/><circle cx="339.4" cy="578.51" r="0.4" fill-opacity="0.35"/><circle cx="320.86" cy="564.31" r="0.4" fill-opacity="0.8" fill="#94504a"/><circle cx="319.04" cy="544.99" r="0.56" fill-opacity="0.35"/><circle cx="335.39" cy="546.95" r="0.4" fill-opacity="0.8"/><circle cx="337.56" cy="582.04" r="0.48" fill-opacity="0.5"/><circle cx="325.71" cy="564.12" r="0.48" fill-opacity="0.65" fill="#94504a"/><circle cx="316.18" cy="551.48" r="0.48" fill-opacity="0.8"/><circle cx="338.64" cy="569.17" r="0.48" fill-opacity="0.5"/><circle cx="337.23" cy="547.37" r="0.48" fill-opacity="0.65" fill="#94504a"/><circle cx="318.51" cy="562.99" r="0.48" fill-opacity="0.8"/><circle cx="336.64" cy="579.97" r="0.48" fill-opacity="0.5"/><circle cx="313.44" cy="546.92" r="0.48" fill-opacity="0.35"/><circle cx="309.73" cy="558.15" r="0.48" fill-opacity="0.35" fill="#94504a"/><circle cx="318.31" cy="584.98" r="0.4" fill-opacity="0.8"/><circle cx="329.72" cy="583.91" r="0.4" fill-opacity="0.35" fill="#94504a"/><circle cx="339.66" cy="579.95" r="0.4" fill-opacity="0.35"/><circle cx="340.74" cy="565.76" r="0.66" fill-opacity="0.5"/><circle cx="314.88" cy="546.66" r="0.48" fill-opacity="0.5"/><circle cx="325.5" cy="554.8" r="0.4" fill-opacity="0.35"/><circle cx="332.91" cy="570.12" r="0.32" fill-opacity="0.8" fill="#94504a"/><circle cx="317.88" cy="543.12" r="0.56" fill-opacity="0.8" fill="#94504a"/><circle cx="321.93" cy="558.85" r="0.32" fill-opacity="0.5"/><circle cx="325.27" cy="577.21" r="0.66" fill-opacity="0.65"/><circle cx="316.39" cy="583.24" r="0.48" fill-opacity="0.65"/><circle cx="334.35" cy="560.51" r="0.4" fill-opacity="0.8"/><circle cx="331.52" cy="575.68" r="0.48" fill-opacity="0.5"/><circle cx="330.26" cy="583.23" r="0.4" fill-opacity="0.5"/><circle cx="338.77" cy="577.3" r="0.48" fill-opacity="0.35"/><circle cx="317.71" cy="555.08" r="0.66" fill-opacity="0.35" fill="#94504a"/><circle cx="323.88" cy="550.06" r="0.56" fill-opacity="0.35" fill="#94504a"/><circle cx="319.69" cy="576.28" r="0.66" fill-opacity="0.35" fill="#94504a"/><circle cx="325.69" cy="547.86" r="0.4" fill-opacity="0.65" fill="#94504a"/><circle cx="342.07" cy="560.46" r="0.48" fill-opacity="0.5"/><circle cx="342.38" cy="570.28" r="0.48" fill-opacity="0.65"/><circle cx="323.28" cy="552.3" r="0.4" fill-opacity="0.35"/><circle cx="335.75" cy="569.8" r="0.66" fill-opacity="0.8" fill="#94504a"/><circle cx="328.07" cy="546.9" r="0.66" fill-opacity="0.8"/><circle cx="319.45" cy="563.88" r="0.32" fill-opacity="0.8"/><circle cx="316.14" cy="560.14" r="0.48" fill-opacity="0.35"/><circle cx="333.94" cy="581.04" r="0.4" fill-opacity="0.35" fill="#94504a"/><circle cx="339.3" cy="548.49" r="0.56" fill-opacity="0.65" fill="#94504a"/><circle cx="329.2" cy="559.17" r="0.32" fill-opacity="0.5"/><circle cx="336.87" cy="576.11" r="0.56" fill-opacity="0.5" fill="#94504a"/><circle cx="306.27" cy="563.5" r="0.48" fill-opacity="0.5" fill="#94504a"/><circle cx="341.72" cy="562.9" r="0.4" fill-opacity="0.5"/><circle cx="326.62" cy="563.22" r="0.56" fill-opacity="0.5"/><circle cx="323.85" cy="552.73" r="0.4" fill-opacity="0.65"/><circle cx="312.72" cy="553.23" r="0.32" fill-opacity="0.65"/><circle cx="319.55" cy="557.09" r="0.4" fill-opacity="0.5" fill="#94504a"/><circle cx="302.75" cy="562.53" r="0.32" fill-opacity="0.5" fill="#94504a"/><circle cx="335.25" cy="572.32" r="0.4" fill-opacity="0.5"/><circle cx="329.07" cy="551.19" r="0.56" fill-opacity="0.5" fill="#94504a"/><circle cx="304.01" cy="576.5" r="0.56" fill-opacity="0.35" fill="#94504a"/><circle cx="322.64" cy="552.41" r="0.4" fill-opacity="0.5"/><circle cx="329.9" cy="584.47" r="0.4" fill-opacity="0.65"/><circle cx="330.07" cy="564.36" r="0.56" fill-opacity="0.35"/><circle cx="341.64" cy="552.66" r="0.66" fill-opacity="0.35" fill="#94504a"/><circle cx="334.61" cy="548.57" r="0.56" fill-opacity="0.35"/><circle cx="303.28" cy="552.47" r="0.56" fill-opacity="0.8" fill="#94504a"/><circle cx="344.05" cy="555.83" r="0.32" fill-opacity="0.8"/><circle cx="305.69" cy="552.66" r="0.56" fill-opacity="0.8"/><circle cx="338.51" cy="548.8" r="0.48" fill-opacity="0.35" fill="#94504a"/><circle cx="330.72" cy="544.1" r="0.4" fill-opacity="0.5" fill="#94504a"/><circle cx="325.21" cy="580.47" r="0.56" fill-opacity="0.35"/><circle cx="329.62" cy="543.75" r="0.48" fill-opacity="0.8"/><circle cx="319.77" cy="558.44" r="0.48" fill-opacity="0.8"/><circle cx="322.24" cy="564.36" r="0.32" fill-opacity="0.35"/><circle cx="309.8" cy="573.06" r="0.48" fill-opacity="0.8" fill="#94504a"/><circle cx="339.24" cy="573.11" r="0.56" fill-opacity="0.8"/><circle cx="334.91" cy="571.08" r="0.48" fill-opacity="0.5"/><circle cx="315.37" cy="550.7" r="0.4" fill-opacity="0.35" fill="#94504a"/><circle cx="310.33" cy="577.66" r="0.4" fill-opacity="0.8" fill="#94504a"/><circle cx="308.58" cy="582.16" r="0.4" fill-opacity="0.65"/><circle cx="338.61" cy="552.63" r="0.56" fill-opacity="0.65"/><circle cx="300.36" cy="563.25" r="0.66" fill-opacity="0.5"/><circle cx="305.53" cy="579.23" r="0.32" fill-opacity="0.35"/><circle cx="324.05" cy="571.99" r="0.66" fill-opacity="0.65"/><circle cx="343.53" cy="562.33" r="0.66" fill-opacity="0.8" fill="#94504a"/><circle cx="323.41" cy="585.12" r="0.56" fill-opacity="0.35"/><circle cx="322.43" cy="578.02" r="0.48" fill-opacity="0.65" fill="#94504a"/><circle cx="315.96" cy="545.6" r="0.66" fill-opacity="0.35"/><circle cx="312.73" cy="577.07" r="0.32" fill-opacity="0.35"/><circle cx="340.46" cy="579.67" r="0.56" fill-opacity="0.8" fill="#94504a"/><circle cx="333.77" cy="578.32" r="0.66" fill-opacity="0.8" fill="#94504a"/><circle cx="332.79" cy="574.65" r="0.48" fill-opacity="0.5" fill="#94504a"/><circle cx="300.84" cy="563.09" r="0.56" fill-opacity="0.5"/><circle cx="320.14" cy="583.15" r="0.4" fill-opacity="0.65"/><circle cx="320.16" cy="563.1" r="0.56" fill-opacity="0.35"/><circle cx="309.39" cy="577.75" r="0.48" fill-opacity="0.65" fill="#94504a"/><circle cx="301.9" cy="564.83" r="0.32" fill-opacity="0.65"/><circle cx="327.66" cy="554.17" r="0.32" fill-opacity="0.5" fill="#94504a"/><circle cx="316.6" cy="548.49" r="0.32" fill-opacity="0.65"/><circle cx="310.32" cy="580.58" r="0.4" fill-opacity="0.65" fill="#94504a"/><circle cx="331.44" cy="586.35" r="0.48" fill-opacity="0.8"/><circle cx="311.02" cy="579.4" r="0.48" fill-opacity="0.8"/><circle cx="336.42" cy="574.98" r="0.66" fill-opacity="0.8"/><circle cx="332.1" cy="577.22" r="0.48" fill-opacity="0.35" fill="#94504a"/><circle cx="303.29" cy="568.14" r="0.66" fill-opacity="0.8"/><circle cx="315.64" cy="573.83" r="0.56" fill-opacity="0.65"/><circle cx="315.9" cy="566.85" r="0.32" fill-opacity="0.35"/><circle cx="316.97" cy="583.13" r="0.66" fill-opacity="0.65" fill="#94504a"/><circle cx="334.59" cy="569.29" r="0.66" fill-opacity="0.35"/><circle cx="306.95" cy="574.57" r="0.32" fill-opacity="0.65" fill="#94504a"/><circle cx="322.14" cy="554.29" r="0.32" fill-opacity="0.8"/><circle cx="322.74" cy="540.95" r="0.48" fill-opacity="0.8"/><circle cx="311.19" cy="581.74" r="0.4" fill-opacity="0.5"/><circle cx="315.43" cy="549.07" r="0.48" fill-opacity="0.5" fill="#94504a"/><circle cx="341.52" cy="555.18" r="0.32" fill-opacity="0.35"/><circle cx="306.5" cy="555.02" r="0.56" fill-opacity="0.5"/><circle cx="330.91" cy="553.83" r="0.4" fill-opacity="0.5" fill="#94504a"/><circle cx="325.42" cy="586.36" r="0.32" fill-opacity="0.65"/><circle cx="332.79" cy="545.55" r="0.56" fill-opacity="0.65" fill="#94504a"/><circle cx="318.07" cy="544.91" r="0.66" fill-opacity="0.65"/><circle cx="307.15" cy="551.32" r="0.66" fill-opacity="0.65"/><circle cx="315.53" cy="585.55" r="0.48" fill-opacity="0.35"/><circle cx="341.93" cy="573.06" r="0.48" fill-opacity="0.5" fill="#94504a"/><circle cx="336.12" cy="578.85" r="0.48" fill-opacity="0.35"/><circle cx="308.61" cy="553.8" r="0.32" fill-opacity="0.35"/><circle cx="307.49" cy="565.93" r="0.48" fill-opacity="0.65"/><circle cx="326.01" cy="581.64" r="0.66" fill-opacity="0.5" fill="#94504a"/><circle cx="302.88" cy="553.14" r="0.32" fill-opacity="0.5"/><circle cx="319.8" cy="564.13" r="0.56" fill-opacity="0.65" fill="#94504a"/><circle cx="320.81" cy="545.4" r="0.66" fill-opacity="0.35"/><circle cx="309.25" cy="555.14" r="0.4" fill-opacity="0.35"/><circle cx="312.56" cy="584.95" r="0.48" fill-opacity="0.35"/><circle cx="307.28" cy="571.88" r="0.66" fill-opacity="0.8" fill="#94504a"/><circle cx="338.25" cy="576.45" r="0.4" fill-opacity="0.65"/><circle cx="329.17" cy="560.25" r="0.32" fill-opacity="0.8"/><circle cx="322.92" cy="542.89" r="0.48" fill-opacity="0.5"/><circle cx="343.7" cy="560.85" r="0.32" fill-opacity="0.35" fill="#94504a"/><circle cx="334.72" cy="565.14" r="0.66" fill-opacity="0.65"/><circle cx="306.38" cy="556.64" r="0.48" fill-opacity="0.65" fill="#94504a"/><circle cx="326.14" cy="568.76" r="0.48" fill-opacity="0.8"/><circle cx="303.13" cy="570.26" r="0.32" fill-opacity="0.65" fill="#94504a"/><circle cx="325.47" cy="554.96" r="0.56" fill-opacity="0.8"/><circle cx="330.22" cy="542.19" r="0.56" fill-opacity="0.5"/><circle cx="323.71" cy="581.73" r="0.56" fill-opacity="0.5"/><circle cx="341.85" cy="556.8" r="0.4" fill-opacity="0.65"/><circle cx="301.89" cy="573.47" r="0.56" fill-opacity="0.5"/><circle cx="338.56" cy="580.69" r="0.32" fill-opacity="0.35" fill="#94504a"/><circle cx="310.52" cy="576.94" r="0.32" fill-opacity="0.35"/><circle cx="327.68" cy="561.04" r="0.66" fill-opacity="0.35"/><circle cx="310.83" cy="559.13" r="0.56" fill-opacity="0.8"/><circle cx="346.69" cy="565.3" r="0.4" fill-opacity="0.65"/><circle cx="317.33" cy="560.04" r="0.4" fill-opacity="0.5"/><circle cx="339.82" cy="555.53" r="0.56" fill-opacity="0.35"/><circle cx="337.02" cy="548.67" r="0.4" fill-opacity="0.8"/><circle cx="346.13" cy="562.84" r="0.56" fill-opacity="0.8"/><circle cx="315.58" cy="564.36" r="0.56" fill-opacity="0.35"/><circle cx="340.36" cy="550.46" r="0.32" fill-opacity="0.8"/><circle cx="327.2" cy="584.74" r="0.32" fill-opacity="0.5" fill="#94504a"/><circle cx="331.58" cy="541.78" r="0.32" fill-opacity="0.8" fill="#94504a"/><circle cx="334.54" cy="559.27" r="0.4" fill-opacity="0.35"/><circle cx="340.65" cy="554.91" r="0.48" fill-opacity="0.35" fill="#94504a"/><circle cx="324" cy="561.01" r="0.32" fill-opacity="0.35" fill="#94504a"/><circle cx="335.1" cy="582.69" r="0.66" fill-opacity="0.65" fill="#94504a"/><circle cx="340.26" cy="550.62" r="0.32" fill-opacity="0.35"/><circle cx="331.62" cy="548.09" r="0.66" fill-opacity="0.35"/><circle cx="309.18" cy="551.31" r="0.56" fill-opacity="0.8"/><circle cx="328.49" cy="581.64" r="0.4" fill-opacity="0.8" fill="#94504a"/><circle cx="322.01" cy="544.1" r="0.56" fill-opacity="0.35"/><circle cx="316.84" cy="563.38" r="0.32" fill-opacity="0.35"/><circle cx="336.69" cy="546.18" r="0.32" fill-opacity="0.35"/><circle cx="324.88" cy="551.06" r="0.4" fill-opacity="0.8"/><circle cx="326.65" cy="540.62" r="0.32" fill-opacity="0.35" fill="#94504a"/><circle cx="320.98" cy="556.67" r="0.66" fill-opacity="0.5"/><circle cx="310.29" cy="573.17" r="0.66" fill-opacity="0.5"/><circle cx="329.79" cy="544.54" r="0.32" fill-opacity="0.35"/><circle cx="322.08" cy="560.43" r="0.56" fill-opacity="0.35" fill="#94504a"/><circle cx="302.05" cy="572.61" r="0.4" fill-opacity="0.65"/><circle cx="345.62" cy="568.17" r="0.56" fill-opacity="0.35" fill="#94504a"/><circle cx="333.02" cy="561.06" r="0.56" fill-opacity="0.65" fill="#94504a"/><circle cx="313.61" cy="570.54" r="0.32" fill-opacity="0.65" fill="#94504a"/><circle cx="343.75" cy="553.46" r="0.48" fill-opacity="0.35"/><circle cx="340.15" cy="550.74" r="0.32" fill-opacity="0.5" fill="#94504a"/><circle cx="315.34" cy="584.38" r="0.48" fill-opacity="0.65" fill="#94504a"/><circle cx="315.74" cy="566.44" r="0.4" fill-opacity="0.35"/><circle cx="340.17" cy="557.54" r="0.56" fill-opacity="0.35"/><circle cx="324.21" cy="553.03" r="0.32" fill-opacity="0.65"/><circle cx="331.68" cy="561.58" r="0.66" fill-opacity="0.8"/><circle cx="333.14" cy="561.11" r="0.48" fill-opacity="0.8" fill="#94504a"/><circle cx="335.86" cy="566.36" r="0.4" fill-opacity="0.65"/><circle cx="322.69" cy="544.81" r="0.4" fill-opacity="0.35"/><circle cx="317.19" cy="583.16" r="0.32" fill-opacity="0.35"/><circle cx="329.67" cy="567.19" r="0.66" fill-opacity="0.35"/><circle cx="304.52" cy="563" r="0.48" fill-opacity="0.8" fill="#94504a"/><circle cx="321.36" cy="571.44" r="0.56" fill-opacity="0.5"/><circle cx="340.84" cy="575.77" r="0.56" fill-opacity="0.65" fill="#94504a"/><circle cx="315.53" cy="571.31" r="0.4" fill-opacity="0.35"/><circle cx="313.55" cy="545.32" r="0.48" fill-opacity="0.35"/><circle cx="329.33" cy="567.71" r="0.66" fill-opacity="0.65"/><circle cx="330.18" cy="572.27" r="0.32" fill-opacity="0.35"/><circle cx="306.26" cy="556.02" r="0.4" fill-opacity="0.35" fill="#94504a"/><circle cx="325.61" cy="561.91" r="0.4" fill-opacity="0.65"/><circle cx="337.04" cy="579.87" r="0.48" fill-opacity="0.65"/><circle cx="337.15" cy="575.46" r="0.4" fill-opacity="0.5" fill="#94504a"/><circle cx="325.23" cy="549.47" r="0.4" fill-opacity="0.5"/><circle cx="336.53" cy="547.51" r="0.4" fill-opacity="0.8" fill="#94504a"/><circle cx="325.54" cy="565.47" r="0.56" fill-opacity="0.65" fill="#94504a"/><circle cx="320.03" cy="565.81" r="0.32" fill-opacity="0.35"/><circle cx="340.72" cy="575.52" r="0.32" fill-opacity="0.8"/><circle cx="325.06" cy="574.2" r="0.56" fill-opacity="0.35" fill="#94504a"/><circle cx="319.82" cy="569.05" r="0.56" fill-opacity="0.5"/><circle cx="339.99" cy="572.03" r="0.4" fill-opacity="0.8"/><circle cx="336.22" cy="551.11" r="0.56" fill-opacity="0.35" fill="#94504a"/><circle cx="338.69" cy="569.69" r="0.66" fill-opacity="0.5"/><circle cx="334.72" cy="572.3" r="0.56" fill-opacity="0.65"/><circle cx="328.96" cy="541.42" r="0.4" fill-opacity="0.35"/><circle cx="339.45" cy="575.28" r="0.48" fill-opacity="0.65" fill="#94504a"/><circle cx="303.93" cy="567.41" r="0.48" fill-opacity="0.5"/><circle cx="331.04" cy="546.61" r="0.32" fill-opacity="0.8"/><circle cx="321.28" cy="560.78" r="0.56" fill-opacity="0.5"/><circle cx="326.88" cy="555.61" r="0.48" fill-opacity="0.35"/><circle cx="335.79" cy="555.88" r="0.4" fill-opacity="0.5" fill="#94504a"/><circle cx="321.18" cy="548.19" r="0.56" fill-opacity="0.5"/><circle cx="336.54" cy="562.28" r="0.4" fill-opacity="0.65"/><circle cx="340.9" cy="557.43" r="0.56" fill-opacity="0.35"/><circle cx="326.41" cy="563.39" r="0.4" fill-opacity="0.35"/><circle cx="340.15" cy="558.76" r="0.56" fill-opacity="0.5"/><circle cx="329.48" cy="554.58" r="0.4" fill-opacity="0.65"/><circle cx="326.26" cy="580.32" r="0.48" fill-opacity="0.35"/><circle cx="316.96" cy="551.96" r="0.32" fill-opacity="0.65"/><circle cx="329.95" cy="554.22" r="0.4" fill-opacity="0.65"/><circle cx="308.02" cy="559.34" r="0.56" fill-opacity="0.5" fill="#94504a"/><circle cx="321.15" cy="582.08" r="0.56" fill-opacity="0.5"/><circle cx="339.71" cy="582.3" r="0.48" fill-opacity="0.35" fill="#94504a"/><circle cx="337.54" cy="571.8" r="0.56" fill-opacity="0.8" fill="#94504a"/><circle cx="326.92" cy="582.15" r="0.4" fill-opacity="0.65"/><circle cx="340.65" cy="575.64" r="0.56" fill-opacity="0.35"/><circle cx="344.51" cy="574.06" r="0.4" fill-opacity="0.5"/><circle cx="334.03" cy="550.02" r="0.66" fill-opacity="0.35"/><circle cx="307.16" cy="561.02" r="0.48" fill-opacity="0.5"/><circle cx="323.46" cy="582.75" r="0.56" fill-opacity="0.5"/><circle cx="309.26" cy="545.8" r="0.56" fill-opacity="0.65"/><circle cx="329.19" cy="553.28" r="0.32" fill-opacity="0.8" fill="#94504a"/><circle cx="335.93" cy="557.62" r="0.56" fill-opacity="0.8" fill="#94504a"/><circle cx="344.03" cy="558.52" r="0.4" fill-opacity="0.8"/><circle cx="326.14" cy="585.44" r="0.56" fill-opacity="0.35"/><circle cx="314.64" cy="570.17" r="0.4" fill-opacity="0.5"/><circle cx="309.09" cy="578.1" r="0.56" fill-opacity="0.65" fill="#94504a"/><circle cx="326.33" cy="575.32" r="0.48" fill-opacity="0.35" fill="#94504a"/><circle cx="316.48" cy="569.18" r="0.56" fill-opacity="0.35"/><circle cx="315.86" cy="578.35" r="0.66" fill-opacity="0.65" fill="#94504a"/><circle cx="315.59" cy="583.5" r="0.56" fill-opacity="0.35"/><circle cx="307.14" cy="577.38" r="0.32" fill-opacity="0.65"/><circle cx="311.07" cy="549.83" r="0.66" fill-opacity="0.5"/><circle cx="310.67" cy="546.41" r="0.4" fill-opacity="0.35"/><circle cx="339.54" cy="548.59" r="0.66" fill-opacity="0.35" fill="#94504a"/><circle cx="320.97" cy="563.61" r="0.66" fill-opacity="0.65" fill="#94504a"/><circle cx="335.03" cy="545.9" r="0.32" fill-opacity="0.5" fill="#94504a"/><circle cx="322.75" cy="575.73" r="0.4" fill-opacity="0.35" fill="#94504a"/><circle cx="329.72" cy="567.9" r="0.4" fill-opacity="0.5"/><circle cx="320.06" cy="569.54" r="0.48" fill-opacity="0.8"/><circle cx="312.64" cy="583.75" r="0.32" fill-opacity="0.65" fill="#94504a"/><circle cx="318.68" cy="559.14" r="0.48" fill-opacity="0.5"/><circle cx="312.66" cy="581.47" r="0.56" fill-opacity="0.5" fill="#94504a"/><circle cx="302.32" cy="555.67" r="0.32" fill-opacity="0.5"/><circle cx="319.47" cy="579.26" r="0.32" fill-opacity="0.5" fill="#94504a"/><circle cx="317.49" cy="565.36" r="0.32" fill-opacity="0.5" fill="#94504a"/><circle cx="330.59" cy="545.17" r="0.4" fill-opacity="0.35"/><circle cx="308.67" cy="570.77" r="0.32" fill-opacity="0.5"/><circle cx="329.83" cy="554.82" r="0.56" fill-opacity="0.5"/><circle cx="306.98" cy="561.92" r="0.48" fill-opacity="0.35" fill="#94504a"/><circle cx="327.56" cy="584.38" r="0.48" fill-opacity="0.5"/><circle cx="308.83" cy="551.05" r="0.4" fill-opacity="0.5"/><circle cx="343.13" cy="549.97" r="0.4" fill-opacity="0.5" fill="#94504a"/><circle cx="315.18" cy="578.13" r="0.48" fill-opacity="0.8" fill="#94504a"/><circle cx="343.04" cy="571.25" r="0.66" fill-opacity="0.65" fill="#94504a"/><circle cx="318.54" cy="563.79" r="0.4" fill-opacity="0.5"/><circle cx="301.97" cy="569.61" r="0.4" fill-opacity="0.65" fill="#94504a"/><circle cx="306.88" cy="561.97" r="0.48" fill-opacity="0.8"/><circle cx="340.48" cy="577.36" r="0.32" fill-opacity="0.8"/><circle cx="325.9" cy="558.39" r="0.66" fill-opacity="0.5"/><circle cx="344.39" cy="555.83" r="0.56" fill-opacity="0.65"/><circle cx="320.49" cy="543.28" r="0.48" fill-opacity="0.35" fill="#94504a"/><circle cx="313.25" cy="551.95" r="0.48" fill-opacity="0.5" fill="#94504a"/><circle cx="343.94" cy="551.44" r="0.4" fill-opacity="0.35"/><circle cx="318" cy="582.25" r="0.32" fill-opacity="0.65"/><circle cx="318.32" cy="568.6" r="0.32" fill-opacity="0.35" fill="#94504a"/><circle cx="312.84" cy="544.13" r="0.66" fill-opacity="0.35"/><circle cx="329.49" cy="551.96" r="0.66" fill-opacity="0.8" fill="#94504a"/><circle cx="324.79" cy="554.27" r="0.56" fill-opacity="0.65"/><circle cx="301.93" cy="570.16" r="0.66" fill-opacity="0.35" fill="#94504a"/><circle cx="345.55" cy="555.62" r="0.56" fill-opacity="0.8" fill="#94504a"/><circle cx="327.71" cy="554.65" r="0.56" fill-opacity="0.8"/><circle cx="337.99" cy="579.24" r="0.4" fill-opacity="0.8" fill="#94504a"/><circle cx="312.36" cy="582.65" r="0.4" fill-opacity="0.35" fill="#94504a"/><circle cx="340.3" cy="563.27" r="0.4" fill-opacity="0.65" fill="#94504a"/><circle cx="335.78" cy="547.53" r="0.4" fill-opacity="0.8" fill="#94504a"/><circle cx="323.88" cy="564.51" r="0.48" fill-opacity="0.35"/><circle cx="335.61" cy="567.22" r="0.32" fill-opacity="0.65" fill="#94504a"/><circle cx="333.8" cy="555.04" r="0.48" fill-opacity="0.65"/><circle cx="313.54" cy="574.14" r="0.32" fill-opacity="0.5" fill="#94504a"/><circle cx="324.63" cy="544.49" r="0.66" fill-opacity="0.5"/><circle cx="342.12" cy="570.47" r="0.4" fill-opacity="0.5"/><circle cx="317.11" cy="554.2" r="0.56" fill-opacity="0.8"/><circle cx="315.32" cy="562.11" r="0.48" fill-opacity="0.35" fill="#94504a"/><circle cx="336.6" cy="546.2" r="0.4" fill-opacity="0.35"/><circle cx="345.74" cy="561.37" r="0.48" fill-opacity="0.8"/><circle cx="338.4" cy="548.73" r="0.4" fill-opacity="0.65"/><circle cx="328.33" cy="568.37" r="0.32" fill-opacity="0.35" fill="#94504a"/><circle cx="329.67" cy="566.89" r="0.32" fill-opacity="0.5"/><circle cx="316.64" cy="582.09" r="0.56" fill-opacity="0.8" fill="#94504a"/><circle cx="338.94" cy="552.5" r="0.56" fill-opacity="0.65"/><circle cx="316.08" cy="583.33" r="0.48" fill-opacity="0.35"/><circle cx="342.92" cy="549.65" r="0.32" fill-opacity="0.8"/><circle cx="326.36" cy="563.53" r="0.4" fill-opacity="0.5" fill="#94504a"/><circle cx="339.77" cy="556.47" r="0.32" fill-opacity="0.35"/><circle cx="341.8" cy="566.93" r="0.4" fill-opacity="0.8"/><circle cx="321.22" cy="574.22" r="0.66" fill-opacity="0.65" fill="#94504a"/><circle cx="306.82" cy="551.25" r="0.32" fill-opacity="0.5"/><circle cx="322.03" cy="540.98" r="0.4" fill-opacity="0.8"/><circle cx="318.07" cy="567.58" r="0.48" fill-opacity="0.65"/><circle cx="340.86" cy="561.28" r="0.56" fill-opacity="0.35"/><circle cx="332.62" cy="561.8" r="0.66" fill-opacity="0.5" fill="#94504a"/><circle cx="302.09" cy="556.97" r="0.32" fill-opacity="0.65" fill="#94504a"/><circle cx="318.19" cy="564.08" r="0.66" fill-opacity="0.5"/><circle cx="302.25" cy="555.7" r="0.4" fill-opacity="0.5"/><circle cx="304.71" cy="574.18" r="0.66" fill-opacity="0.65"/><circle cx="326.28" cy="575.62" r="0.56" fill-opacity="0.35" fill="#94504a"/><circle cx="322.88" cy="565.78" r="0.4" fill-opacity="0.5"/><circle cx="328.91" cy="553.83" r="0.4" fill-opacity="0.5"/><circle cx="314.56" cy="558.72" r="0.32" fill-opacity="0.8"/><circle cx="320.99" cy="584.32" r="0.56" fill-opacity="0.35"/><circle cx="324.53" cy="563.52" r="0.32" fill-opacity="0.8" fill="#94504a"/><circle cx="313.35" cy="551.77" r="0.66" fill-opacity="0.65"/><circle cx="344.28" cy="563.8" r="0.4" fill-opacity="0.5"/><circle cx="310.64" cy="569.87" r="0.48" fill-opacity="0.5"/><circle cx="333.88" cy="576.78" r="0.66" fill-opacity="0.65" fill="#94504a"/><circle cx="312.48" cy="570.72" r="0.56" fill-opacity="0.8"/><circle cx="311.28" cy="562.78" r="0.56" fill-opacity="0.5"/><circle cx="316.92" cy="573.56" r="0.56" fill-opacity="0.35"/><circle cx="311.09" cy="570.73" r="0.48" fill-opacity="0.8"/><circle cx="332.17" cy="550.11" r="0.66" fill-opacity="0.35" fill="#94504a"/><circle cx="302.78" cy="567.34" r="0.66" fill-opacity="0.8"/><circle cx="334.35" cy="580.01" r="0.32" fill-opacity="0.5"/><circle cx="307.92" cy="576.01" r="0.48" fill-opacity="0.5" fill="#94504a"/><circle cx="301.59" cy="557.11" r="0.56" fill-opacity="0.5" fill="#94504a"/><circle cx="331.17" cy="559.24" r="0.32" fill-opacity="0.65"/><circle cx="321.38" cy="580.03" r="0.66" fill-opacity="0.35" fill="#94504a"/><circle cx="339.69" cy="556.72" r="0.56" fill-opacity="0.35" fill="#94504a"/><circle cx="312.27" cy="554.77" r="0.48" fill-opacity="0.35"/><circle cx="314.1" cy="575.62" r="0.66" fill-opacity="0.35" fill="#94504a"/><circle cx="329.87" cy="551.76" r="0.4" fill-opacity="0.8" fill="#94504a"/><circle cx="333.69" cy="568.11" r="0.4" fill-opacity="0.5" fill="#94504a"/><circle cx="313.47" cy="568.62" r="0.32" fill-opacity="0.35"/><circle cx="339.6" cy="555.84" r="0.32" fill-opacity="0.5"/><circle cx="323.72" cy="553.69" r="0.56" fill-opacity="0.8" fill="#94504a"/><circle cx="324.35" cy="541.79" r="0.66" fill-opacity="0.5"/><circle cx="328.26" cy="565.87" r="0.32" fill-opacity="0.35" fill="#94504a"/><circle cx="310" cy="549.49" r="0.32" fill-opacity="0.8" fill="#94504a"/><circle cx="315.94" cy="557.77" r="0.4" fill-opacity="0.65" fill="#94504a"/><circle cx="313.71" cy="584.07" r="0.56" fill-opacity="0.65"/><circle cx="340.37" cy="566.81" r="0.4" fill-opacity="0.5" fill="#94504a"/><circle cx="318.29" cy="571.81" r="0.32" fill-opacity="0.8"/><circle cx="343.25" cy="568.4" r="0.56" fill-opacity="0.35"/><circle cx="305.67" cy="550.86" r="0.48" fill-opacity="0.8"/><circle cx="332.67" cy="567" r="0.66" fill-opacity="0.5"/><circle cx="334.9" cy="580.87" r="0.32" fill-opacity="0.35"/><circle cx="319.86" cy="550.34" r="0.4" fill-opacity="0.8"/><circle cx="338.74" cy="560.42" r="0.66" fill-opacity="0.5" fill="#94504a"/><circle cx="322.1" cy="578.9" r="0.4" fill-opacity="0.35"/><circle cx="315.55" cy="582.39" r="0.66" fill-opacity="0.65"/><circle cx="311.36" cy="558.02" r="0.66" fill-opacity="0.8"/><circle cx="346.08" cy="562.68" r="0.56" fill-opacity="0.35" fill="#94504a"/><circle cx="305.06" cy="554.92" r="0.48" fill-opacity="0.8"/><circle cx="322.5" cy="563.41" r="0.4" fill-opacity="0.35"/><circle cx="306.16" cy="550.32" r="0.56" fill-opacity="0.8"/><circle cx="342.72" cy="574.84" r="0.56" fill-opacity="0.65" fill="#94504a"/><circle cx="320.87" cy="547.61" r="0.4" fill-opacity="0.35"/><circle cx="315.14" cy="573.46" r="0.66" fill-opacity="0.8"/><circle cx="311.83" cy="548.25" r="0.48" fill-opacity="0.8"/><circle cx="318.34" cy="551.86" r="0.56" fill-opacity="0.35" fill="#94504a"/><circle cx="332.11" cy="543.87" r="0.48" fill-opacity="0.35"/><circle cx="322.02" cy="541.96" r="0.4" fill-opacity="0.65"/><circle cx="323.93" cy="579.01" r="0.66" fill-opacity="0.35"/><circle cx="327.2" cy="566.14" r="0.32" fill-opacity="0.5"/><circle cx="320.63" cy="548.1" r="0.48" fill-opacity="0.65"/><circle cx="341.93" cy="559.22" r="0.32" fill-opacity="0.5"/><circle cx="330.15" cy="574.78" r="0.4" fill-opacity="0.8"/><circle cx="323.17" cy="575.61" r="0.32" fill-opacity="0.5" fill="#94504a"/><circle cx="316.15" cy="586.99" r="0.32" fill-opacity="0.8"/><circle cx="303" cy="571.97" r="0.32" fill-opacity="0.8"/><circle cx="314.9" cy="544.6" r="0.56" fill-opacity="0.5"/><circle cx="307.47" cy="561.12" r="0.4" fill-opacity="0.65" fill="#94504a"/><circle cx="305.1" cy="557.62" r="0.56" fill-opacity="0.5"/><circle cx="301.46" cy="568.58" r="0.48" fill-opacity="0.65" fill="#94504a"/><circle cx="340.59" cy="561.5" r="0.48" fill-opacity="0.5" fill="#94504a"/><circle cx="318.45" cy="569.34" r="0.32" fill-opacity="0.5"/><circle cx="317.67" cy="575.44" r="0.66" fill-opacity="0.5" fill="#94504a"/><circle cx="325" cy="568.16" r="0.32" fill-opacity="0.65"/><circle cx="326.41" cy="549.86" r="0.48" fill-opacity="0.8"/><circle cx="305.4" cy="559.11" r="0.4" fill-opacity="0.65" fill="#94504a"/><circle cx="321.04" cy="574.36" r="0.4" fill-opacity="0.35"/><circle cx="333.79" cy="569" r="0.66" fill-opacity="0.35"/><circle cx="332.86" cy="571.74" r="0.48" fill-opacity="0.35"/><circle cx="319.31" cy="544.97" r="0.32" fill-opacity="0.65" fill="#94504a"/><circle cx="339.26" cy="561.22" r="0.48" fill-opacity="0.35"/><circle cx="320.32" cy="550.47" r="0.66" fill-opacity="0.5" fill="#94504a"/><circle cx="328.51" cy="574.03" r="0.4" fill-opacity="0.35" fill="#94504a"/><circle cx="316.64" cy="559.96" r="0.66" fill-opacity="0.65"/><circle cx="338.74" cy="563.56" r="0.32" fill-opacity="0.35"/><circle cx="305.98" cy="573.43" r="0.48" fill-opacity="0.5"/><circle cx="346.08" cy="567.35" r="0.32" fill-opacity="0.35"/><circle cx="313.02" cy="548.65" r="0.4" fill-opacity="0.65"/><circle cx="312.55" cy="578.08" r="0.48" fill-opacity="0.65"/><circle cx="329.47" cy="572.15" r="0.32" fill-opacity="0.35" fill="#94504a"/><circle cx="308.63" cy="556.56" r="0.66" fill-opacity="0.8"/><circle cx="341.5" cy="565.93" r="0.32" fill-opacity="0.5"/><circle cx="324.35" cy="552.56" r="0.4" fill-opacity="0.65" fill="#94504a"/><circle cx="316.61" cy="565.28" r="0.56" fill-opacity="0.8" fill="#94504a"/><circle cx="327.49" cy="584.97" r="0.32" fill-opacity="0.8"/><circle cx="335.28" cy="567" r="0.4" fill-opacity="0.5" fill="#94504a"/><circle cx="320.47" cy="570.26" r="0.32" fill-opacity="0.65"/><circle cx="318.22" cy="578.86" r="0.66" fill-opacity="0.8" fill="#94504a"/><circle cx="320.63" cy="573.14" r="0.48" fill-opacity="0.35"/><circle cx="331.78" cy="577.85" r="0.32" fill-opacity="0.8" fill="#94504a"/><circle cx="310.62" cy="546.5" r="0.4" fill-opacity="0.35" fill="#94504a"/><circle cx="328.42" cy="565.67" r="0.66" fill-opacity="0.5"/><circle cx="319.08" cy="555.62" r="0.56" fill-opacity="0.65"/><circle cx="329.8" cy="560.07" r="0.32" fill-opacity="0.5"/><circle cx="317.45" cy="568.43" r="0.66" fill-opacity="0.65"/><circle cx="322.43" cy="578.1" r="0.48" fill-opacity="0.5" fill="#94504a"/><circle cx="332.54" cy="551.39" r="0.32" fill-opacity="0.5" fill="#94504a"/><circle cx="325.9" cy="569.61" r="0.48" fill-opacity="0.35"/><circle cx="323.48" cy="584.09" r="0.32" fill-opacity="0.8"/><circle cx="338.68" cy="570.5" r="0.66" fill-opacity="0.8" fill="#94504a"/><circle cx="318.1" cy="566.64" r="0.32" fill-opacity="0.5"/><circle cx="346.66" cy="570.91" r="0.32" fill-opacity="0.35"/><circle cx="325.99" cy="575.84" r="0.48" fill-opacity="0.65" fill="#94504a"/><circle cx="305.6" cy="576.38" r="0.48" fill-opacity="0.5"/><circle cx="339.76" cy="564.61" r="0.32" fill-opacity="0.8"/><circle cx="334.6" cy="580.15" r="0.48" fill-opacity="0.35" fill="#94504a"/><circle cx="316.83" cy="551.18" r="0.32" fill-opacity="0.5" fill="#94504a"/><circle cx="333.94" cy="554.12" r="0.66" fill-opacity="0.65"/><circle cx="304.45" cy="556.7" r="0.66" fill-opacity="0.8"/><circle cx="342.12" cy="558.04" r="0.66" fill-opacity="0.5" fill="#94504a"/><circle cx="322.31" cy="553.49" r="0.4" fill-opacity="0.65"/><circle cx="341.8" cy="563.1" r="0.66" fill-opacity="0.65"/><circle cx="332.39" cy="565.46" r="0.56" fill-opacity="0.5" fill="#94504a"/><circle cx="333.4" cy="573.1" r="0.56" fill-opacity="0.65"/><circle cx="334.56" cy="558.84" r="0.66" fill-opacity="0.8"/><circle cx="330.12" cy="552.84" r="0.32" fill-opacity="0.65"/><circle cx="328.6" cy="584.26" r="0.56" fill-opacity="0.65"/><circle cx="337.75" cy="572.61" r="0.48" fill-opacity="0.5"/><circle cx="302.13" cy="574.11" r="0.48" fill-opacity="0.65"/><circle cx="335.5" cy="568.94" r="0.48" fill-opacity="0.8" fill="#94504a"/><circle cx="300.55" cy="560.59" r="0.48" fill-opacity="0.5" fill="#94504a"/><circle cx="320.72" cy="548.02" r="0.4" fill-opacity="0.8" fill="#94504a"/><circle cx="332.34" cy="557.78" r="0.32" fill-opacity="0.5"/><circle cx="338.78" cy="547.88" r="0.56" fill-opacity="0.65"/><circle cx="337.15" cy="562.07" r="0.4" fill-opacity="0.5"/><circle cx="321.15" cy="558.98" r="0.4" fill-opacity="0.65" fill="#94504a"/><circle cx="333.29" cy="567.57" r="0.56" fill-opacity="0.5" fill="#94504a"/><circle cx="302.59" cy="563.01" r="0.32" fill-opacity="0.65"/><circle cx="311.32" cy="555.71" r="0.48" fill-opacity="0.35"/><circle cx="325.93" cy="554.09" r="0.48" fill-opacity="0.35"/><circle cx="317.91" cy="551.71" r="0.66" fill-opacity="0.5" fill="#94504a"/><circle cx="307.42" cy="556.17" r="0.4" fill-opacity="0.65" fill="#94504a"/><circle cx="335.64" cy="547.8" r="0.4" fill-opacity="0.5"/><circle cx="339.44" cy="549.98" r="0.32" fill-opacity="0.35"/><circle cx="334.04" cy="550.3" r="0.32" fill-opacity="0.8" fill="#94504a"/><circle cx="319.68" cy="574.53" r="0.56" fill-opacity="0.65" fill="#94504a"/><circle cx="318.19" cy="574.25" r="0.56" fill-opacity="0.5"/><circle cx="316.02" cy="577.78" r="0.4" fill-opacity="0.8"/><circle cx="307.37" cy="558.88" r="0.48" fill-opacity="0.65"/><circle cx="303.94" cy="568.33" r="0.32" fill-opacity="0.35"/><circle cx="310.57" cy="554.72" r="0.4" fill-opacity="0.8"/><circle cx="328.44" cy="550.01" r="0.32" fill-opacity="0.65"/><circle cx="343.13" cy="556.45" r="0.32" fill-opacity="0.65"/><circle cx="334.94" cy="564.4" r="0.32" fill-opacity="0.35" fill="#94504a"/><circle cx="322.44" cy="565.14" r="0.56" fill-opacity="0.65"/><circle cx="314.24" cy="574.68" r="0.4" fill-opacity="0.35"/><circle cx="312.14" cy="576.44" r="0.66" fill-opacity="0.5" fill="#94504a"/><circle cx="332.49" cy="552.02" r="0.66" fill-opacity="0.65" fill="#94504a"/><circle cx="330.56" cy="562.31" r="0.48" fill-opacity="0.35"/><circle cx="308.84" cy="545.7" r="0.4" fill-opacity="0.65"/><circle cx="328.14" cy="571.14" r="0.32" fill-opacity="0.65" fill="#94504a"/><circle cx="325.31" cy="564.24" r="0.4" fill-opacity="0.8"/><circle cx="329.58" cy="575.05" r="0.56" fill-opacity="0.5"/><circle cx="322.33" cy="549.6" r="0.32" fill-opacity="0.8" fill="#94504a"/><circle cx="314.13" cy="542.78" r="0.32" fill-opacity="0.8"/></g>
<rect x="351.1" y="537.2" width="52.6" height="53.7" fill="#ece7da"/>
<circle cx="393.23" cy="566.28" r="1.25" fill="#fff" fill-opacity="0.06"/><circle cx="387.6" cy="551.09" r="1.3" fill="#fff" fill-opacity="0.06"/><circle cx="391.62" cy="572.57" r="0.89" fill="#000" fill-opacity="0.06"/><circle cx="379.2" cy="575.68" r="0.73" fill="#fff" fill-opacity="0.06"/><circle cx="367.34" cy="573.64" r="1.27" fill="#fff" fill-opacity="0.06"/><circle cx="390.18" cy="554.37" r="1.35" fill="#fff" fill-opacity="0.06"/><circle cx="370.25" cy="561.28" r="1.42" fill="#fff" fill-opacity="0.06"/><circle cx="385.44" cy="542.92" r="1.19" fill="#fff" fill-opacity="0.06"/><circle cx="387.34" cy="564.7" r="0.87" fill="#fff" fill-opacity="0.06"/><circle cx="395.59" cy="546.72" r="0.62" fill="#fff" fill-opacity="0.06"/><circle cx="397.93" cy="560.83" r="1.13" fill="#000" fill-opacity="0.06"/><circle cx="396.46" cy="548.1" r="1.2" fill="#000" fill-opacity="0.06"/><circle cx="358.03" cy="557.22" r="0.62" fill="#fff" fill-opacity="0.06"/><circle cx="388.95" cy="539.92" r="1.27" fill="#000" fill-opacity="0.06"/><circle cx="366.92" cy="576.64" r="1.47" fill="#fff" fill-opacity="0.06"/><circle cx="403.16" cy="560.84" r="1.15" fill="#000" fill-opacity="0.06"/><circle cx="351.39" cy="540.36" r="0.83" fill="#000" fill-opacity="0.06"/><circle cx="355.91" cy="586.88" r="1.21" fill="#000" fill-opacity="0.06"/><circle cx="396.44" cy="544.91" r="0.98" fill="#000" fill-opacity="0.06"/><circle cx="393.52" cy="581.75" r="0.88" fill="#fff" fill-opacity="0.06"/><circle cx="390.28" cy="581.84" r="0.73" fill="#fff" fill-opacity="0.06"/><circle cx="367.18" cy="539.65" r="0.82" fill="#fff" fill-opacity="0.06"/><circle cx="401.28" cy="556.97" r="1.1" fill="#000" fill-opacity="0.06"/><circle cx="352.5" cy="577.67" r="1" fill="#000" fill-opacity="0.06"/><circle cx="359.51" cy="563.85" r="0.76" fill="#000" fill-opacity="0.06"/><circle cx="391.31" cy="560.03" r="1.07" fill="#fff" fill-opacity="0.06"/><circle cx="377.76" cy="579.46" r="1.25" fill="#fff" fill-opacity="0.06"/><circle cx="364.18" cy="567.87" r="0.86" fill="#fff" fill-opacity="0.06"/><circle cx="369.44" cy="543.71" r="0.98" fill="#000" fill-opacity="0.06"/><circle cx="381.54" cy="548.89" r="1.41" fill="#000" fill-opacity="0.06"/><circle cx="396.98" cy="553.45" r="1.15" fill="#fff" fill-opacity="0.06"/><circle cx="382.74" cy="570.82" r="1.3" fill="#fff" fill-opacity="0.06"/><circle cx="360.04" cy="573.3" r="1.39" fill="#fff" fill-opacity="0.06"/><circle cx="386.77" cy="580.98" r="1.43" fill="#000" fill-opacity="0.06"/><circle cx="388.63" cy="560.66" r="0.76" fill="#fff" fill-opacity="0.06"/><circle cx="360.16" cy="585.36" r="0.82" fill="#000" fill-opacity="0.06"/><circle cx="396.68" cy="558.04" r="0.7" fill="#fff" fill-opacity="0.06"/><circle cx="389.07" cy="582.35" r="1.08" fill="#fff" fill-opacity="0.06"/><circle cx="379.38" cy="560.81" r="1.44" fill="#000" fill-opacity="0.06"/><circle cx="351.98" cy="587.14" r="1.04" fill="#fff" fill-opacity="0.06"/><circle cx="397.89" cy="571.89" r="1.14" fill="#fff" fill-opacity="0.06"/><circle cx="362.55" cy="579.14" r="1.23" fill="#000" fill-opacity="0.06"/><circle cx="382.37" cy="587.65" r="1.25" fill="#fff" fill-opacity="0.06"/><circle cx="370.65" cy="562.97" r="1.58" fill="#fff" fill-opacity="0.06"/><circle cx="359.39" cy="553.69" r="1.15" fill="#000" fill-opacity="0.06"/><circle cx="389.66" cy="542.63" r="0.8" fill="#fff" fill-opacity="0.06"/><circle cx="361.93" cy="550.93" r="0.86" fill="#fff" fill-opacity="0.06"/><circle cx="360.69" cy="537.21" r="0.82" fill="#000" fill-opacity="0.06"/><circle cx="363.86" cy="584.37" r="0.71" fill="#000" fill-opacity="0.06"/><circle cx="362.85" cy="537.64" r="1.35" fill="#000" fill-opacity="0.06"/><circle cx="374.89" cy="563.53" r="1.6" fill="#fff" fill-opacity="0.06"/><circle cx="362.09" cy="539.17" r="1.01" fill="#000" fill-opacity="0.06"/><circle cx="400.07" cy="558.27" r="1.02" fill="#000" fill-opacity="0.06"/><circle cx="383.64" cy="580.59" r="1.28" fill="#000" fill-opacity="0.06"/><circle cx="381.86" cy="565.71" r="0.87" fill="#000" fill-opacity="0.06"/><circle cx="394.65" cy="585.83" r="0.81" fill="#000" fill-opacity="0.06"/><circle cx="353.68" cy="548.78" r="1.6" fill="#fff" fill-opacity="0.06"/><circle cx="377.85" cy="543.56" r="1.5" fill="#000" fill-opacity="0.06"/><circle cx="373.77" cy="537.68" r="1.23" fill="#000" fill-opacity="0.06"/><circle cx="384.35" cy="582.47" r="1.42" fill="#000" fill-opacity="0.06"/>
<circle cx="377.7" cy="564.25" r="25.7" fill="#f0ead9" stroke="#d8cfb6" stroke-width="1.5"/>
<circle cx="357.41" cy="573.18" r="0.61" fill="#ffffff" fill-opacity="0.18"/><circle cx="392.56" cy="564.49" r="0.52" fill="#b09070" fill-opacity="0.18"/><circle cx="370.55" cy="578.28" r="0.77" fill="#ffffff" fill-opacity="0.18"/><circle cx="373.63" cy="556.81" r="0.53" fill="#b09070" fill-opacity="0.18"/><circle cx="381.33" cy="551.89" r="0.59" fill="#ffffff" fill-opacity="0.18"/><circle cx="396.14" cy="572.66" r="0.52" fill="#b09070" fill-opacity="0.18"/><circle cx="364.02" cy="579.06" r="0.99" fill="#ffffff" fill-opacity="0.18"/><circle cx="376.51" cy="545.38" r="0.59" fill="#ffffff" fill-opacity="0.18"/><circle cx="361.61" cy="565.56" r="0.81" fill="#b09070" fill-opacity="0.18"/><circle cx="379.85" cy="579.74" r="0.76" fill="#ffffff" fill-opacity="0.18"/><circle cx="387.15" cy="547.7" r="0.92" fill="#b09070" fill-opacity="0.18"/><circle cx="386.61" cy="548.99" r="1.02" fill="#ffffff" fill-opacity="0.18"/><circle cx="388.5" cy="558.69" r="0.85" fill="#ffffff" fill-opacity="0.18"/><circle cx="374.31" cy="584.67" r="0.98" fill="#ffffff" fill-opacity="0.18"/><circle cx="383.53" cy="572.14" r="1.22" fill="#b09070" fill-opacity="0.18"/><circle cx="366.97" cy="559.94" r="0.57" fill="#b09070" fill-opacity="0.18"/><circle cx="368.09" cy="548.36" r="1.23" fill="#b09070" fill-opacity="0.18"/><circle cx="378.97" cy="548.58" r="1.24" fill="#ffffff" fill-opacity="0.18"/><circle cx="375.21" cy="571.67" r="1.15" fill="#ffffff" fill-opacity="0.18"/><circle cx="381.99" cy="550.61" r="0.51" fill="#ffffff" fill-opacity="0.18"/><circle cx="379.29" cy="573.33" r="1.15" fill="#ffffff" fill-opacity="0.18"/><circle cx="363.73" cy="553.51" r="0.61" fill="#ffffff" fill-opacity="0.18"/><circle cx="359.09" cy="574.96" r="0.97" fill="#b09070" fill-opacity="0.18"/><circle cx="390.62" cy="561.3" r="0.93" fill="#ffffff" fill-opacity="0.18"/><circle cx="371.16" cy="582.3" r="1.19" fill="#ffffff" fill-opacity="0.18"/><circle cx="384.61" cy="567.19" r="0.97" fill="#ffffff" fill-opacity="0.18"/><circle cx="374.2" cy="584.07" r="0.73" fill="#b09070" fill-opacity="0.18"/><circle cx="395.5" cy="566.66" r="0.97" fill="#b09070" fill-opacity="0.18"/><circle cx="375.69" cy="577.05" r="0.58" fill="#ffffff" fill-opacity="0.18"/><circle cx="368.54" cy="578.61" r="0.59" fill="#b09070" fill-opacity="0.18"/><circle cx="360.8" cy="563.84" r="0.8" fill="#b09070" fill-opacity="0.18"/><circle cx="389.58" cy="554.74" r="0.98" fill="#b09070" fill-opacity="0.18"/><circle cx="378.73" cy="582.55" r="1.25" fill="#b09070" fill-opacity="0.18"/><circle cx="382.43" cy="553.2" r="0.61" fill="#ffffff" fill-opacity="0.18"/><circle cx="389.87" cy="576.88" r="0.56" fill="#ffffff" fill-opacity="0.18"/>
<g fill="#4e3028"><circle cx="387.73" cy="584.06" r="0.48" fill-opacity="0.5"/><circle cx="371.87" cy="556.16" r="0.48" fill-opacity="0.35" fill="#94504a"/><circle cx="358.86" cy="560.82" r="0.56" fill-opacity="0.35"/><circle cx="359.48" cy="578.93" r="0.56" fill-opacity="0.5"/><circle cx="376.5" cy="544.34" r="0.48" fill-opacity="0.8"/><circle cx="365.72" cy="573.46" r="0.56" fill-opacity="0.5"/><circle cx="398.75" cy="563.27" r="0.56" fill-opacity="0.35"/><circle cx="377.16" cy="552.54" r="0.66" fill-opacity="0.5"/><circle cx="375.22" cy="586.52" r="0.56" fill-opacity="0.8" fill="#94504a"/><circle cx="396.14" cy="562.38" r="0.4" fill-opacity="0.5" fill="#94504a"/><circle cx="369.12" cy="560.34" r="0.4" fill-opacity="0.8" fill="#94504a"/><circle cx="382.01" cy="570.57" r="0.66" fill-opacity="0.5"/><circle cx="398.87" cy="560.26" r="0.48" fill-opacity="0.65" fill="#94504a"/><circle cx="387.17" cy="558.96" r="0.56" fill-opacity="0.5"/><circle cx="379.43" cy="562.2" r="0.56" fill-opacity="0.35" fill="#94504a"/><circle cx="358.63" cy="577.53" r="0.4" fill-opacity="0.35"/><circle cx="363.49" cy="572.12" r="0.66" fill-opacity="0.35" fill="#94504a"/><circle cx="390.27" cy="561.86" r="0.48" fill-opacity="0.35"/><circle cx="382.58" cy="557.37" r="0.32" fill-opacity="0.8"/><circle cx="389.88" cy="582.02" r="0.66" fill-opacity="0.8" fill="#94504a"/><circle cx="383.15" cy="578.33" r="0.66" fill-opacity="0.65"/><circle cx="386.48" cy="543.05" r="0.66" fill-opacity="0.65" fill="#94504a"/><circle cx="360.8" cy="563.52" r="0.32" fill-opacity="0.65" fill="#94504a"/><circle cx="397.01" cy="557.04" r="0.48" fill-opacity="0.65"/><circle cx="357.85" cy="571.33" r="0.56" fill-opacity="0.8"/><circle cx="388.09" cy="572.82" r="0.66" fill-opacity="0.5"/></g>
<rect x="404.8" y="537.2" width="52.7" height="53.7" fill="#d7bea9"/>
<circle cx="417.88" cy="573.91" r="0.81" fill="#fff" fill-opacity="0.06"/><circle cx="415.82" cy="573.04" r="1.55" fill="#fff" fill-opacity="0.06"/><circle cx="457.33" cy="561.13" r="1.23" fill="#fff" fill-opacity="0.06"/><circle cx="413.94" cy="589.39" r="1.05" fill="#fff" fill-opacity="0.06"/><circle cx="408.34" cy="538.86" r="1.34" fill="#000" fill-opacity="0.06"/><circle cx="431.37" cy="541.83" r="1.45" fill="#fff" fill-opacity="0.06"/><circle cx="445.89" cy="568.68" r="0.94" fill="#fff" fill-opacity="0.06"/><circle cx="438.02" cy="559.53" r="1.25" fill="#fff" fill-opacity="0.06"/><circle cx="431.43" cy="554.55" r="0.8" fill="#000" fill-opacity="0.06"/><circle cx="422.49" cy="537.85" r="1.44" fill="#fff" fill-opacity="0.06"/><circle cx="449.77" cy="583.31" r="1.3" fill="#000" fill-opacity="0.06"/><circle cx="455.71" cy="582.14" r="1.18" fill="#000" fill-opacity="0.06"/><circle cx="405.46" cy="557.8" r="1.01" fill="#000" fill-opacity="0.06"/><circle cx="455.33" cy="564.03" r="0.7" fill="#000" fill-opacity="0.06"/><circle cx="409.96" cy="572.57" r="1.33" fill="#000" fill-opacity="0.06"/><circle cx="446.98" cy="569.32" r="1.33" fill="#fff" fill-opacity="0.06"/><circle cx="429.55" cy="578.38" r="0.65" fill="#000" fill-opacity="0.06"/><circle cx="451.1" cy="572.91" r="1.27" fill="#000" fill-opacity="0.06"/><circle cx="404.95" cy="562.68" r="0.95" fill="#fff" fill-opacity="0.06"/><circle cx="429.49" cy="542.76" r="0.93" fill="#fff" fill-opacity="0.06"/><circle cx="433.42" cy="587.05" r="1.51" fill="#000" fill-opacity="0.06"/><circle cx="434.63" cy="590.48" r="1.03" fill="#fff" fill-opacity="0.06"/><circle cx="451.32" cy="571.27" r="1.22" fill="#fff" fill-opacity="0.06"/><circle cx="429.99" cy="571.26" r="1.3" fill="#fff" fill-opacity="0.06"/><circle cx="454.7" cy="537.95" r="1.31" fill="#000" fill-opacity="0.06"/><circle cx="441.75" cy="578.29" r="0.63" fill="#fff" fill-opacity="0.06"/><circle cx="438.96" cy="580.18" r="1.33" fill="#fff" fill-opacity="0.06"/><circle cx="448.92" cy="577.24" r="1.21" fill="#000" fill-opacity="0.06"/><circle cx="412.27" cy="580.45" r="0.85" fill="#fff" fill-opacity="0.06"/><circle cx="431.99" cy="557.91" r="0.75" fill="#000" fill-opacity="0.06"/><circle cx="428.43" cy="582.53" r="1.54" fill="#000" fill-opacity="0.06"/><circle cx="405.78" cy="551.74" r="0.65" fill="#000" fill-opacity="0.06"/><circle cx="411.24" cy="582.22" r="1" fill="#fff" fill-opacity="0.06"/><circle cx="433.67" cy="587.03" r="0.93" fill="#fff" fill-opacity="0.06"/><circle cx="408.55" cy="557.59" r="1.14" fill="#000" fill-opacity="0.06"/><circle cx="406.93" cy="584.36" r="1.11" fill="#000" fill-opacity="0.06"/><circle cx="412.34" cy="581.26" r="0.82" fill="#fff" fill-opacity="0.06"/><circle cx="454.32" cy="580.72" r="1.5" fill="#fff" fill-opacity="0.06"/><circle cx="407.66" cy="586.21" r="0.7" fill="#000" fill-opacity="0.06"/><circle cx="445.19" cy="578.72" r="1.58" fill="#000" fill-opacity="0.06"/><circle cx="411.62" cy="547.14" r="1.28" fill="#000" fill-opacity="0.06"/><circle cx="449.53" cy="567.64" r="1.41" fill="#000" fill-opacity="0.06"/><circle cx="436.68" cy="547.05" r="1.49" fill="#000" fill-opacity="0.06"/><circle cx="417.57" cy="574.64" r="0.8" fill="#fff" fill-opacity="0.06"/><circle cx="420.94" cy="537.54" r="0.7" fill="#000" fill-opacity="0.06"/><circle cx="419.65" cy="578.64" r="1.41" fill="#000" fill-opacity="0.06"/><circle cx="433.28" cy="560.97" r="0.95" fill="#fff" fill-opacity="0.06"/><circle cx="451.17" cy="545.89" r="1.53" fill="#fff" fill-opacity="0.06"/><circle cx="405.15" cy="586.01" r="0.68" fill="#000" fill-opacity="0.06"/><circle cx="417.81" cy="572.84" r="1.23" fill="#000" fill-opacity="0.06"/><circle cx="410.95" cy="558.51" r="0.84" fill="#fff" fill-opacity="0.06"/><circle cx="446.36" cy="575.55" r="1.13" fill="#000" fill-opacity="0.06"/><circle cx="441.66" cy="544.03" r="0.67" fill="#000" fill-opacity="0.06"/><circle cx="426.86" cy="552.88" r="0.81" fill="#fff" fill-opacity="0.06"/><circle cx="421.95" cy="552.37" r="0.9" fill="#000" fill-opacity="0.06"/><circle cx="437.61" cy="542.01" r="1.05" fill="#fff" fill-opacity="0.06"/><circle cx="434.67" cy="583.52" r="1.09" fill="#000" fill-opacity="0.06"/><circle cx="425.62" cy="549.64" r="1.11" fill="#fff" fill-opacity="0.06"/><circle cx="414.86" cy="537.53" r="1.44" fill="#000" fill-opacity="0.06"/><circle cx="455.62" cy="555.62" r="1.16" fill="#fff" fill-opacity="0.06"/>
<circle cx="431.45" cy="564.25" r="25.75" fill="#ddcbb9" stroke="#e6e0d6" stroke-width="1.5"/>
<circle cx="448.88" cy="574.45" r="1.03" fill="#b09070" fill-opacity="0.18"/><circle cx="418.33" cy="563.01" r="0.76" fill="#b09070" fill-opacity="0.18"/><circle cx="426.37" cy="585.29" r="0.99" fill="#b09070" fill-opacity="0.18"/><circle cx="440.13" cy="580.84" r="1.01" fill="#b09070" fill-opacity="0.18"/><circle cx="412.47" cy="575.74" r="0.72" fill="#ffffff" fill-opacity="0.18"/><circle cx="414.06" cy="564.58" r="0.84" fill="#ffffff" fill-opacity="0.18"/><circle cx="434.82" cy="564.16" r="1.06" fill="#ffffff" fill-opacity="0.18"/><circle cx="447.83" cy="575.05" r="0.75" fill="#ffffff" fill-opacity="0.18"/><circle cx="424.05" cy="571.97" r="1.01" fill="#b09070" fill-opacity="0.18"/><circle cx="442.66" cy="573.22" r="0.75" fill="#ffffff" fill-opacity="0.18"/><circle cx="431.41" cy="556.2" r="1.03" fill="#b09070" fill-opacity="0.18"/><circle cx="419.4" cy="550.96" r="1.25" fill="#ffffff" fill-opacity="0.18"/><circle cx="413.85" cy="559.4" r="0.76" fill="#b09070" fill-opacity="0.18"/><circle cx="446.2" cy="564.2" r="0.53" fill="#b09070" fill-opacity="0.18"/><circle cx="414.7" cy="563.08" r="1.15" fill="#ffffff" fill-opacity="0.18"/><circle cx="429.78" cy="569.63" r="1.21" fill="#ffffff" fill-opacity="0.18"/><circle cx="433.63" cy="552.91" r="1.22" fill="#b09070" fill-opacity="0.18"/><circle cx="444.91" cy="571.3" r="0.64" fill="#ffffff" fill-opacity="0.18"/><circle cx="440.49" cy="570.18" r="1.24" fill="#ffffff" fill-opacity="0.18"/><circle cx="424.56" cy="584.62" r="0.61" fill="#ffffff" fill-opacity="0.18"/><circle cx="419.28" cy="570.16" r="0.54" fill="#ffffff" fill-opacity="0.18"/><circle cx="447.64" cy="567.78" r="1" fill="#b09070" fill-opacity="0.18"/><circle cx="419.62" cy="568.45" r="0.71" fill="#ffffff" fill-opacity="0.18"/><circle cx="440.21" cy="577.93" r="1.26" fill="#b09070" fill-opacity="0.18"/><circle cx="432.73" cy="541.74" r="0.98" fill="#ffffff" fill-opacity="0.18"/><circle cx="416.44" cy="576.24" r="0.65" fill="#ffffff" fill-opacity="0.18"/><circle cx="420.44" cy="543.56" r="1.01" fill="#ffffff" fill-opacity="0.18"/><circle cx="427.65" cy="570.73" r="1" fill="#ffffff" fill-opacity="0.18"/><circle cx="444.84" cy="565.05" r="1.13" fill="#b09070" fill-opacity="0.18"/><circle cx="425.05" cy="583.34" r="0.96" fill="#ffffff" fill-opacity="0.18"/><circle cx="434.33" cy="575.02" r="0.95" fill="#b09070" fill-opacity="0.18"/><circle cx="421.3" cy="577.15" r="0.57" fill="#b09070" fill-opacity="0.18"/><circle cx="411.78" cy="554.18" r="0.97" fill="#ffffff" fill-opacity="0.18"/><circle cx="417.95" cy="549.81" r="0.9" fill="#b09070" fill-opacity="0.18"/><circle cx="422.14" cy="551.65" r="0.89" fill="#ffffff" fill-opacity="0.18"/><circle cx="432.05" cy="559.75" r="0.76" fill="#ffffff" fill-opacity="0.18"/><circle cx="424.38" cy="544.54" r="1.03" fill="#b09070" fill-opacity="0.18"/><circle cx="417.86" cy="548.55" r="1.14" fill="#b09070" fill-opacity="0.18"/><circle cx="442.1" cy="548.8" r="0.93" fill="#b09070" fill-opacity="0.18"/><circle cx="429.01" cy="546.05" r="1.29" fill="#ffffff" fill-opacity="0.18"/><circle cx="446.29" cy="566.36" r="0.78" fill="#b09070" fill-opacity="0.18"/><circle cx="413.53" cy="554.75" r="0.83" fill="#ffffff" fill-opacity="0.18"/><circle cx="422.56" cy="573.31" r="1.27" fill="#ffffff" fill-opacity="0.18"/><circle cx="432.28" cy="551.19" r="0.72" fill="#b09070" fill-opacity="0.18"/><circle cx="452.13" cy="555.82" r="1.11" fill="#b09070" fill-opacity="0.18"/><circle cx="448.63" cy="554.9" r="0.7" fill="#b09070" fill-opacity="0.18"/><circle cx="453.73" cy="558" r="0.68" fill="#ffffff" fill-opacity="0.18"/><circle cx="433.54" cy="553.07" r="0.71" fill="#b09070" fill-opacity="0.18"/><circle cx="429.67" cy="550.47" r="0.73" fill="#b09070" fill-opacity="0.18"/><circle cx="447.75" cy="559.39" r="0.67" fill="#ffffff" fill-opacity="0.18"/><circle cx="426" cy="570.26" r="0.91" fill="#ffffff" fill-opacity="0.18"/><circle cx="444.73" cy="572.3" r="0.9" fill="#b09070" fill-opacity="0.18"/><circle cx="417.16" cy="562.69" r="0.77" fill="#ffffff" fill-opacity="0.18"/><circle cx="437.28" cy="542.26" r="0.88" fill="#ffffff" fill-opacity="0.18"/><circle cx="440.52" cy="574.43" r="0.99" fill="#b09070" fill-opacity="0.18"/><circle cx="438.11" cy="560.89" r="0.53" fill="#ffffff" fill-opacity="0.18"/><circle cx="432.92" cy="584.07" r="0.78" fill="#b09070" fill-opacity="0.18"/><circle cx="422.94" cy="549.8" r="1.03" fill="#ffffff" fill-opacity="0.18"/><circle cx="420.11" cy="562.98" r="0.65" fill="#b09070" fill-opacity="0.18"/><circle cx="450.81" cy="569.37" r="0.78" fill="#b09070" fill-opacity="0.18"/><circle cx="414.96" cy="562.89" r="1.26" fill="#ffffff" fill-opacity="0.18"/><circle cx="412.68" cy="562.25" r="1.19" fill="#ffffff" fill-opacity="0.18"/><circle cx="433.17" cy="572.52" r="0.88" fill="#b09070" fill-opacity="0.18"/><circle cx="419.42" cy="583.77" r="0.67" fill="#b09070" fill-opacity="0.18"/><circle cx="452.17" cy="566.86" r="1.21" fill="#b09070" fill-opacity="0.18"/><circle cx="421.26" cy="561.23" r="1.05" fill="#ffffff" fill-opacity="0.18"/><circle cx="447.2" cy="560.85" r="0.98" fill="#ffffff" fill-opacity="0.18"/><circle cx="438.7" cy="562.31" r="0.65" fill="#ffffff" fill-opacity="0.18"/><circle cx="420.33" cy="550.41" r="1.05" fill="#b09070" fill-opacity="0.18"/><circle cx="431.52" cy="549.03" r="0.74" fill="#ffffff" fill-opacity="0.18"/><circle cx="437.87" cy="546.6" r="0.88" fill="#b09070" fill-opacity="0.18"/><circle cx="424.69" cy="584.56" r="0.65" fill="#ffffff" fill-opacity="0.18"/><circle cx="434.29" cy="573.85" r="1.04" fill="#b09070" fill-opacity="0.18"/><circle cx="446.73" cy="561.76" r="1.27" fill="#ffffff" fill-opacity="0.18"/><circle cx="429.51" cy="557.71" r="0.98" fill="#ffffff" fill-opacity="0.18"/><circle cx="434.1" cy="562.88" r="1.25" fill="#b09070" fill-opacity="0.18"/><circle cx="431.07" cy="583.55" r="0.83" fill="#ffffff" fill-opacity="0.18"/><circle cx="413.87" cy="561.1" r="0.61" fill="#b09070" fill-opacity="0.18"/><circle cx="429.93" cy="540.61" r="0.69" fill="#ffffff" fill-opacity="0.18"/><circle cx="428.84" cy="561.26" r="0.6" fill="#b09070" fill-opacity="0.18"/><circle cx="445.86" cy="559.21" r="0.85" fill="#ffffff" fill-opacity="0.18"/><circle cx="411.63" cy="563.5" r="0.9" fill="#ffffff" fill-opacity="0.18"/><circle cx="441.95" cy="549.44" r="0.82" fill="#ffffff" fill-opacity="0.18"/><circle cx="432.61" cy="555.57" r="0.62" fill="#ffffff" fill-opacity="0.18"/><circle cx="436.91" cy="548.15" r="0.9" fill="#ffffff" fill-opacity="0.18"/><circle cx="427.44" cy="586.81" r="0.69" fill="#ffffff" fill-opacity="0.18"/><circle cx="421.78" cy="551.37" r="1.21" fill="#ffffff" fill-opacity="0.18"/><circle cx="414.52" cy="562.91" r="0.61" fill="#ffffff" fill-opacity="0.18"/><circle cx="432.29" cy="571.42" r="0.6" fill="#ffffff" fill-opacity="0.18"/><circle cx="446.45" cy="567.57" r="0.89" fill="#b09070" fill-opacity="0.18"/><circle cx="424.24" cy="543.19" r="1.11" fill="#ffffff" fill-opacity="0.18"/><circle cx="429.74" cy="551.32" r="0.61" fill="#ffffff" fill-opacity="0.18"/><circle cx="412.35" cy="568.68" r="0.63" fill="#b09070" fill-opacity="0.18"/><circle cx="437.72" cy="551.81" r="1.28" fill="#b09070" fill-opacity="0.18"/><circle cx="433.47" cy="572.16" r="0.59" fill="#ffffff" fill-opacity="0.18"/><circle cx="421.08" cy="581.97" r="1.24" fill="#ffffff" fill-opacity="0.18"/><circle cx="420.8" cy="548.37" r="0.9" fill="#ffffff" fill-opacity="0.18"/><circle cx="412.9" cy="555.15" r="0.76" fill="#ffffff" fill-opacity="0.18"/><circle cx="448.63" cy="571.94" r="0.95" fill="#ffffff" fill-opacity="0.18"/><circle cx="420.38" cy="573.28" r="0.71" fill="#b09070" fill-opacity="0.18"/><circle cx="421.42" cy="556.05" r="0.51" fill="#b09070" fill-opacity="0.18"/><circle cx="415.49" cy="576.59" r="0.64" fill="#b09070" fill-opacity="0.18"/><circle cx="439.45" cy="566.14" r="0.62" fill="#ffffff" fill-opacity="0.18"/><circle cx="430.1" cy="559.04" r="1.04" fill="#b09070" fill-opacity="0.18"/><circle cx="450.47" cy="551.94" r="1.17" fill="#ffffff" fill-opacity="0.18"/><circle cx="431.1" cy="575.91" r="0.86" fill="#b09070" fill-opacity="0.18"/><circle cx="434.62" cy="571.72" r="0.59" fill="#b09070" fill-opacity="0.18"/><circle cx="449.67" cy="562.55" r="1.23" fill="#b09070" fill-opacity="0.18"/><circle cx="410.65" cy="574.91" r="0.55" fill="#ffffff" fill-opacity="0.18"/><circle cx="420.65" cy="545.82" r="1.13" fill="#b09070" fill-opacity="0.18"/><circle cx="433.58" cy="541.36" r="0.58" fill="#ffffff" fill-opacity="0.18"/><circle cx="415.43" cy="572.93" r="0.9" fill="#ffffff" fill-opacity="0.18"/><circle cx="451.58" cy="564.19" r="0.85" fill="#ffffff" fill-opacity="0.18"/><circle cx="440.13" cy="557.37" r="0.85" fill="#ffffff" fill-opacity="0.18"/><circle cx="440.35" cy="583.73" r="1.27" fill="#b09070" fill-opacity="0.18"/><circle cx="450.02" cy="572.32" r="0.59" fill="#ffffff" fill-opacity="0.18"/><circle cx="420.58" cy="553.61" r="1.17" fill="#b09070" fill-opacity="0.18"/><circle cx="424.5" cy="578.54" r="0.64" fill="#ffffff" fill-opacity="0.18"/><circle cx="421.78" cy="555.35" r="0.7" fill="#b09070" fill-opacity="0.18"/><circle cx="428.53" cy="582.19" r="0.73" fill="#ffffff" fill-opacity="0.18"/><circle cx="436.07" cy="583.59" r="0.97" fill="#ffffff" fill-opacity="0.18"/><circle cx="442.74" cy="553.16" r="0.64" fill="#b09070" fill-opacity="0.18"/><circle cx="424.18" cy="584.47" r="1.28" fill="#b09070" fill-opacity="0.18"/><circle cx="425.27" cy="571.25" r="0.84" fill="#ffffff" fill-opacity="0.18"/><circle cx="431.36" cy="587.05" r="1.05" fill="#b09070" fill-opacity="0.18"/><circle cx="429.47" cy="578.78" r="0.6" fill="#ffffff" fill-opacity="0.18"/><circle cx="454.15" cy="564.04" r="0.91" fill="#b09070" fill-opacity="0.18"/><circle cx="443.38" cy="578.2" r="1.29" fill="#b09070" fill-opacity="0.18"/><circle cx="429.47" cy="584.99" r="0.65" fill="#b09070" fill-opacity="0.18"/><circle cx="451.01" cy="576.91" r="1.16" fill="#ffffff" fill-opacity="0.18"/><circle cx="423.28" cy="579.85" r="1.29" fill="#ffffff" fill-opacity="0.18"/><circle cx="436.45" cy="543.27" r="1.06" fill="#ffffff" fill-opacity="0.18"/><circle cx="418.77" cy="545.86" r="0.96" fill="#ffffff" fill-opacity="0.18"/><circle cx="428.17" cy="562.8" r="1.16" fill="#ffffff" fill-opacity="0.18"/><circle cx="415.02" cy="572.02" r="0.89" fill="#ffffff" fill-opacity="0.18"/><circle cx="437.55" cy="547.82" r="0.54" fill="#b09070" fill-opacity="0.18"/><circle cx="430.55" cy="587.77" r="0.82" fill="#ffffff" fill-opacity="0.18"/><circle cx="435.69" cy="543.71" r="1.07" fill="#b09070" fill-opacity="0.18"/><circle cx="451.04" cy="558.15" r="0.73" fill="#b09070" fill-opacity="0.18"/><circle cx="442.05" cy="570.68" r="0.57" fill="#ffffff" fill-opacity="0.18"/><circle cx="418.35" cy="557.64" r="0.77" fill="#b09070" fill-opacity="0.18"/><circle cx="422.76" cy="555.52" r="0.64" fill="#b09070" fill-opacity="0.18"/><circle cx="448.48" cy="578.49" r="0.52" fill="#ffffff" fill-opacity="0.18"/><circle cx="417.1" cy="562.98" r="0.94" fill="#ffffff" fill-opacity="0.18"/><circle cx="447.37" cy="551.74" r="0.63" fill="#b09070" fill-opacity="0.18"/><circle cx="443.87" cy="571.72" r="1.17" fill="#b09070" fill-opacity="0.18"/><circle cx="434.99" cy="565.65" r="0.6" fill="#ffffff" fill-opacity="0.18"/><circle cx="439.09" cy="553.88" r="0.91" fill="#ffffff" fill-opacity="0.18"/><circle cx="438.8" cy="558.33" r="0.93" fill="#ffffff" fill-opacity="0.18"/><circle cx="437.26" cy="575.77" r="0.63" fill="#b09070" fill-opacity="0.18"/><circle cx="441.98" cy="575.03" r="0.61" fill="#b09070" fill-opacity="0.18"/><circle cx="432.29" cy="577.74" r="1.14" fill="#b09070" fill-opacity="0.18"/><circle cx="428.07" cy="570.42" r="1.19" fill="#b09070" fill-opacity="0.18"/><circle cx="433.63" cy="541.56" r="0.95" fill="#ffffff" fill-opacity="0.18"/><circle cx="442.16" cy="579.38" r="0.76" fill="#b09070" fill-opacity="0.18"/><circle cx="416.72" cy="560.64" r="0.64" fill="#ffffff" fill-opacity="0.18"/><circle cx="411.2" cy="575.14" r="0.75" fill="#b09070" fill-opacity="0.18"/><circle cx="432.11" cy="555.22" r="0.8" fill="#ffffff" fill-opacity="0.18"/><circle cx="439.37" cy="575.69" r="0.87" fill="#b09070" fill-opacity="0.18"/><circle cx="420.01" cy="582.34" r="1.07" fill="#b09070" fill-opacity="0.18"/><circle cx="428.47" cy="571.19" r="0.78" fill="#ffffff" fill-opacity="0.18"/><circle cx="415.18" cy="575.5" r="1.11" fill="#b09070" fill-opacity="0.18"/><circle cx="419.96" cy="577.71" r="0.61" fill="#b09070" fill-opacity="0.18"/><circle cx="435.71" cy="559.61" r="1.06" fill="#ffffff" fill-opacity="0.18"/><circle cx="414" cy="572.38" r="1.15" fill="#ffffff" fill-opacity="0.18"/><circle cx="415.16" cy="558.5" r="0.83" fill="#ffffff" fill-opacity="0.18"/><circle cx="446.42" cy="573.75" r="0.58" fill="#ffffff" fill-opacity="0.18"/><circle cx="427.31" cy="556.43" r="1.24" fill="#ffffff" fill-opacity="0.18"/><circle cx="436.84" cy="564.61" r="1.1" fill="#ffffff" fill-opacity="0.18"/><circle cx="415.03" cy="580.18" r="0.63" fill="#ffffff" fill-opacity="0.18"/><circle cx="445.45" cy="554.18" r="1.27" fill="#b09070" fill-opacity="0.18"/><circle cx="452.8" cy="564.88" r="1.04" fill="#ffffff" fill-opacity="0.18"/><circle cx="429.96" cy="551.24" r="1.24" fill="#b09070" fill-opacity="0.18"/><circle cx="427.37" cy="565.98" r="1.05" fill="#ffffff" fill-opacity="0.18"/><circle cx="416.73" cy="558.13" r="1.27" fill="#b09070" fill-opacity="0.18"/><circle cx="433.06" cy="563.04" r="0.94" fill="#b09070" fill-opacity="0.18"/><circle cx="449.04" cy="565.24" r="1.07" fill="#b09070" fill-opacity="0.18"/><circle cx="416.41" cy="579.69" r="1.02" fill="#ffffff" fill-opacity="0.18"/><circle cx="435.07" cy="567.78" r="0.57" fill="#ffffff" fill-opacity="0.18"/><circle cx="433.08" cy="579.19" r="1.02" fill="#b09070" fill-opacity="0.18"/><circle cx="416.09" cy="560.4" r="0.96" fill="#b09070" fill-opacity="0.18"/><circle cx="414.68" cy="560.01" r="1.28" fill="#b09070" fill-opacity="0.18"/><circle cx="428.06" cy="541.27" r="0.56" fill="#b09070" fill-opacity="0.18"/><circle cx="426.73" cy="571.14" r="0.93" fill="#ffffff" fill-opacity="0.18"/><circle cx="420" cy="544.56" r="1.27" fill="#ffffff" fill-opacity="0.18"/><circle cx="433.42" cy="575.26" r="0.82" fill="#ffffff" fill-opacity="0.18"/><circle cx="444.1" cy="565.46" r="0.74" fill="#b09070" fill-opacity="0.18"/><circle cx="413.37" cy="556.95" r="1.11" fill="#b09070" fill-opacity="0.18"/><circle cx="419.22" cy="551.05" r="0.88" fill="#ffffff" fill-opacity="0.18"/><circle cx="427.83" cy="580.01" r="0.58" fill="#ffffff" fill-opacity="0.18"/><circle cx="421.26" cy="585" r="1.18" fill="#ffffff" fill-opacity="0.18"/><circle cx="410.05" cy="565.82" r="0.68" fill="#ffffff" fill-opacity="0.18"/><circle cx="420.4" cy="554.97" r="0.76" fill="#ffffff" fill-opacity="0.18"/><circle cx="447.05" cy="555.03" r="0.98" fill="#b09070" fill-opacity="0.18"/><circle cx="435.88" cy="557.63" r="0.76" fill="#b09070" fill-opacity="0.18"/><circle cx="439.55" cy="545.83" r="0.64" fill="#ffffff" fill-opacity="0.18"/><circle cx="411.7" cy="551.81" r="0.87" fill="#ffffff" fill-opacity="0.18"/><circle cx="422.26" cy="585.93" r="1.25" fill="#ffffff" fill-opacity="0.18"/><circle cx="426.1" cy="569.72" r="0.93" fill="#b09070" fill-opacity="0.18"/><circle cx="430.94" cy="587.48" r="0.56" fill="#ffffff" fill-opacity="0.18"/><circle cx="425.7" cy="547.89" r="0.56" fill="#b09070" fill-opacity="0.18"/><circle cx="427.04" cy="547.1" r="1.2" fill="#b09070" fill-opacity="0.18"/><circle cx="436.64" cy="553.39" r="0.78" fill="#ffffff" fill-opacity="0.18"/><circle cx="430.41" cy="567.82" r="0.79" fill="#ffffff" fill-opacity="0.18"/><circle cx="432.97" cy="582.3" r="0.58" fill="#b09070" fill-opacity="0.18"/><circle cx="451.97" cy="574.14" r="0.78" fill="#b09070" fill-opacity="0.18"/><circle cx="439.39" cy="568.49" r="0.86" fill="#b09070" fill-opacity="0.18"/><circle cx="436.45" cy="574.65" r="1.25" fill="#b09070" fill-opacity="0.18"/><circle cx="437.32" cy="551.7" r="1.04" fill="#b09070" fill-opacity="0.18"/><circle cx="413.12" cy="576.06" r="0.57" fill="#ffffff" fill-opacity="0.18"/><circle cx="408.78" cy="558.04" r="0.62" fill="#ffffff" fill-opacity="0.18"/><circle cx="410.28" cy="572.73" r="0.83" fill="#ffffff" fill-opacity="0.18"/><circle cx="425.23" cy="585.2" r="0.5" fill="#ffffff" fill-opacity="0.18"/><circle cx="429.8" cy="557.22" r="0.6" fill="#ffffff" fill-opacity="0.18"/><circle cx="418.24" cy="555.58" r="1.07" fill="#ffffff" fill-opacity="0.18"/><circle cx="454.67" cy="568.27" r="0.76" fill="#b09070" fill-opacity="0.18"/><circle cx="430.96" cy="570.06" r="0.97" fill="#ffffff" fill-opacity="0.18"/><circle cx="437.39" cy="587.01" r="1.01" fill="#ffffff" fill-opacity="0.18"/><circle cx="432.86" cy="575.54" r="0.85" fill="#ffffff" fill-opacity="0.18"/><circle cx="420.83" cy="585.31" r="1.3" fill="#b09070" fill-opacity="0.18"/><circle cx="437.89" cy="542.21" r="1.06" fill="#b09070" fill-opacity="0.18"/><circle cx="435.33" cy="551.3" r="0.93" fill="#ffffff" fill-opacity="0.18"/><circle cx="447.52" cy="575.43" r="0.58" fill="#b09070" fill-opacity="0.18"/><circle cx="421.55" cy="546.28" r="1.18" fill="#b09070" fill-opacity="0.18"/><circle cx="428.37" cy="558.1" r="0.88" fill="#b09070" fill-opacity="0.18"/><circle cx="425.03" cy="549.24" r="0.9" fill="#b09070" fill-opacity="0.18"/><circle cx="426.06" cy="586.51" r="1.22" fill="#ffffff" fill-opacity="0.18"/><circle cx="409.25" cy="555.98" r="0.8" fill="#b09070" fill-opacity="0.18"/><circle cx="438.71" cy="547.41" r="0.7" fill="#ffffff" fill-opacity="0.18"/><circle cx="451.18" cy="564.15" r="0.9" fill="#b09070" fill-opacity="0.18"/><circle cx="415.24" cy="560.21" r="0.66" fill="#ffffff" fill-opacity="0.18"/><circle cx="445.34" cy="562.86" r="0.56" fill="#ffffff" fill-opacity="0.18"/><circle cx="434.91" cy="571.63" r="1" fill="#b09070" fill-opacity="0.18"/><circle cx="420.37" cy="544.21" r="0.82" fill="#ffffff" fill-opacity="0.18"/><circle cx="413.53" cy="561.84" r="0.52" fill="#ffffff" fill-opacity="0.18"/><circle cx="419.86" cy="551.5" r="1.1" fill="#ffffff" fill-opacity="0.18"/><circle cx="425.1" cy="576.65" r="0.79" fill="#ffffff" fill-opacity="0.18"/><circle cx="413.39" cy="559.39" r="0.66" fill="#b09070" fill-opacity="0.18"/><circle cx="452.51" cy="556.14" r="1.1" fill="#b09070" fill-opacity="0.18"/><circle cx="451.86" cy="572.02" r="0.51" fill="#b09070" fill-opacity="0.18"/><circle cx="450.48" cy="558.2" r="1.12" fill="#ffffff" fill-opacity="0.18"/><circle cx="416.78" cy="562.01" r="1.1" fill="#b09070" fill-opacity="0.18"/><circle cx="438.93" cy="552.21" r="1.23" fill="#ffffff" fill-opacity="0.18"/><circle cx="425.18" cy="544.87" r="0.97" fill="#ffffff" fill-opacity="0.18"/><circle cx="436.19" cy="556.09" r="0.75" fill="#b09070" fill-opacity="0.18"/><circle cx="442.24" cy="558.39" r="0.52" fill="#b09070" fill-opacity="0.18"/><circle cx="423.38" cy="575.52" r="1.12" fill="#ffffff" fill-opacity="0.18"/><circle cx="425.47" cy="566.54" r="0.92" fill="#ffffff" fill-opacity="0.18"/><circle cx="436.78" cy="542.92" r="1.15" fill="#b09070" fill-opacity="0.18"/><circle cx="436.92" cy="543.87" r="0.72" fill="#ffffff" fill-opacity="0.18"/><circle cx="442.1" cy="553.94" r="0.82" fill="#ffffff" fill-opacity="0.18"/><circle cx="427.09" cy="553.95" r="1.05" fill="#ffffff" fill-opacity="0.18"/><circle cx="425.56" cy="548.18" r="1.29" fill="#ffffff" fill-opacity="0.18"/><circle cx="450.2" cy="555.01" r="0.57" fill="#ffffff" fill-opacity="0.18"/><circle cx="434.51" cy="584.6" r="1.3" fill="#b09070" fill-opacity="0.18"/><circle cx="440.93" cy="552.81" r="0.85" fill="#b09070" fill-opacity="0.18"/><circle cx="439.95" cy="564.11" r="0.66" fill="#b09070" fill-opacity="0.18"/><circle cx="444.53" cy="564.83" r="0.77" fill="#ffffff" fill-opacity="0.18"/><circle cx="430.91" cy="548.99" r="0.75" fill="#ffffff" fill-opacity="0.18"/><circle cx="429.69" cy="542.45" r="0.83" fill="#ffffff" fill-opacity="0.18"/><circle cx="447.29" cy="572.55" r="0.58" fill="#ffffff" fill-opacity="0.18"/><circle cx="414.04" cy="565.75" r="1.09" fill="#ffffff" fill-opacity="0.18"/><circle cx="436.55" cy="582.18" r="1.16" fill="#ffffff" fill-opacity="0.18"/><circle cx="434.09" cy="582.75" r="0.82" fill="#b09070" fill-opacity="0.18"/><circle cx="438.78" cy="574.15" r="1.01" fill="#b09070" fill-opacity="0.18"/><circle cx="442.24" cy="584.49" r="1.27" fill="#b09070" fill-opacity="0.18"/><circle cx="441.48" cy="551.51" r="0.93" fill="#ffffff" fill-opacity="0.18"/><circle cx="445.35" cy="555.38" r="1.02" fill="#b09070" fill-opacity="0.18"/><circle cx="411.82" cy="558.92" r="0.56" fill="#ffffff" fill-opacity="0.18"/><circle cx="429.15" cy="540.7" r="1.18" fill="#ffffff" fill-opacity="0.18"/><circle cx="436.54" cy="572.31" r="0.79" fill="#b09070" fill-opacity="0.18"/><circle cx="410.07" cy="566.45" r="1.05" fill="#b09070" fill-opacity="0.18"/><circle cx="446" cy="580.72" r="0.79" fill="#b09070" fill-opacity="0.18"/><circle cx="444.87" cy="565.87" r="1.09" fill="#b09070" fill-opacity="0.18"/><circle cx="448.12" cy="564.55" r="0.56" fill="#ffffff" fill-opacity="0.18"/><circle cx="422.44" cy="550.65" r="1.21" fill="#b09070" fill-opacity="0.18"/><circle cx="423.15" cy="564.19" r="0.5" fill="#ffffff" fill-opacity="0.18"/><circle cx="421.6" cy="561.64" r="1" fill="#ffffff" fill-opacity="0.18"/><circle cx="417.98" cy="577.23" r="1.03" fill="#ffffff" fill-opacity="0.18"/><circle cx="422.06" cy="559.54" r="0.56" fill="#b09070" fill-opacity="0.18"/><circle cx="441.28" cy="582.62" r="0.59" fill="#b09070" fill-opacity="0.18"/><circle cx="448.95" cy="560.85" r="0.72" fill="#b09070" fill-opacity="0.18"/><circle cx="422.72" cy="570.17" r="1.04" fill="#ffffff" fill-opacity="0.18"/><circle cx="423" cy="572.02" r="0.84" fill="#ffffff" fill-opacity="0.18"/><circle cx="440.46" cy="579.01" r="0.62" fill="#b09070" fill-opacity="0.18"/><circle cx="443.57" cy="579.3" r="0.89" fill="#ffffff" fill-opacity="0.18"/><circle cx="437.66" cy="586.58" r="0.62" fill="#ffffff" fill-opacity="0.18"/><circle cx="427.57" cy="569.58" r="1.02" fill="#b09070" fill-opacity="0.18"/><circle cx="432.81" cy="571.15" r="0.52" fill="#ffffff" fill-opacity="0.18"/><circle cx="424.79" cy="561.32" r="0.58" fill="#ffffff" fill-opacity="0.18"/><circle cx="444.71" cy="558.53" r="0.92" fill="#b09070" fill-opacity="0.18"/><circle cx="444.52" cy="559.67" r="0.95" fill="#b09070" fill-opacity="0.18"/><circle cx="449.23" cy="563.97" r="1.12" fill="#ffffff" fill-opacity="0.18"/><circle cx="427.85" cy="547.2" r="1.28" fill="#ffffff" fill-opacity="0.18"/><circle cx="435.79" cy="584.5" r="0.85" fill="#b09070" fill-opacity="0.18"/><circle cx="433.69" cy="553.05" r="1.09" fill="#ffffff" fill-opacity="0.18"/>
<g fill="#4e3028"><circle cx="432.9" cy="557.99" r="0.56" fill-opacity="0.65"/><circle cx="455.28" cy="564.09" r="0.48" fill-opacity="0.8"/><circle cx="426.48" cy="564.33" r="0.66" fill-opacity="0.35"/><circle cx="436.34" cy="555.88" r="0.48" fill-opacity="0.35"/><circle cx="436.28" cy="559.82" r="0.56" fill-opacity="0.8"/><circle cx="428.65" cy="580.57" r="0.48" fill-opacity="0.8"/><circle cx="420.05" cy="552.71" r="0.32" fill-opacity="0.65" fill="#94504a"/><circle cx="425.45" cy="577.12" r="0.56" fill-opacity="0.8"/><circle cx="444.3" cy="581.73" r="0.4" fill-opacity="0.65" fill="#94504a"/><circle cx="440.84" cy="574.33" r="0.66" fill-opacity="0.8"/><circle cx="448.14" cy="568.63" r="0.66" fill-opacity="0.5" fill="#94504a"/><circle cx="435.83" cy="563.05" r="0.66" fill-opacity="0.35"/><circle cx="419.94" cy="570.91" r="0.56" fill-opacity="0.65"/><circle cx="436.51" cy="580.5" r="0.66" fill-opacity="0.5" fill="#94504a"/><circle cx="419.03" cy="565.27" r="0.66" fill-opacity="0.35"/><circle cx="442.36" cy="552" r="0.56" fill-opacity="0.65"/><circle cx="437.76" cy="559.02" r="0.48" fill-opacity="0.8"/><circle cx="444.21" cy="553.87" r="0.56" fill-opacity="0.65" fill="#94504a"/><circle cx="422.16" cy="564.46" r="0.32" fill-opacity="0.5"/><circle cx="420.7" cy="564.43" r="0.66" fill-opacity="0.5" fill="#94504a"/><circle cx="443.8" cy="564.72" r="0.56" fill-opacity="0.65"/><circle cx="433.44" cy="584.57" r="0.66" fill-opacity="0.65"/><circle cx="412.07" cy="551.15" r="0.32" fill-opacity="0.65"/><circle cx="432.05" cy="573.95" r="0.4" fill-opacity="0.8" fill="#94504a"/><circle cx="432.04" cy="566.51" r="0.66" fill-opacity="0.65" fill="#94504a"/><circle cx="451.73" cy="556.07" r="0.48" fill-opacity="0.8" fill="#94504a"/><circle cx="417.25" cy="568.87" r="0.48" fill-opacity="0.35" fill="#94504a"/><circle cx="448.13" cy="560.79" r="0.56" fill-opacity="0.5" fill="#94504a"/><circle cx="415.37" cy="562.47" r="0.4" fill-opacity="0.5" fill="#94504a"/><circle cx="412.26" cy="577.64" r="0.66" fill-opacity="0.8" fill="#94504a"/><circle cx="413.05" cy="573.84" r="0.4" fill-opacity="0.5"/><circle cx="432.16" cy="571.96" r="0.48" fill-opacity="0.35"/><circle cx="451.99" cy="559.64" r="0.66" fill-opacity="0.65" fill="#94504a"/><circle cx="439.96" cy="546.15" r="0.4" fill-opacity="0.35"/><circle cx="442.12" cy="546.52" r="0.32" fill-opacity="0.65"/><circle cx="437.98" cy="569.39" r="0.32" fill-opacity="0.5" fill="#94504a"/><circle cx="450.18" cy="560.49" r="0.48" fill-opacity="0.65" fill="#94504a"/><circle cx="433.08" cy="543" r="0.56" fill-opacity="0.5"/><circle cx="433.2" cy="572.3" r="0.4" fill-opacity="0.35"/><circle cx="443.31" cy="549.5" r="0.32" fill-opacity="0.35" fill="#94504a"/><circle cx="422.48" cy="559.76" r="0.4" fill-opacity="0.35" fill="#94504a"/><circle cx="432.41" cy="578.11" r="0.66" fill-opacity="0.35" fill="#94504a"/><circle cx="422.13" cy="569.27" r="0.66" fill-opacity="0.35" fill="#94504a"/><circle cx="424.99" cy="554.98" r="0.32" fill-opacity="0.35" fill="#94504a"/><circle cx="416.63" cy="578.4" r="0.56" fill-opacity="0.65"/><circle cx="435.1" cy="561.95" r="0.32" fill-opacity="0.8"/><circle cx="418.12" cy="570.06" r="0.66" fill-opacity="0.8"/><circle cx="439.47" cy="581.63" r="0.66" fill-opacity="0.65"/><circle cx="433.02" cy="566.42" r="0.66" fill-opacity="0.65" fill="#94504a"/><circle cx="439.41" cy="547.51" r="0.56" fill-opacity="0.35" fill="#94504a"/><circle cx="419.36" cy="563.49" r="0.66" fill-opacity="0.5"/><circle cx="432.85" cy="585.8" r="0.48" fill-opacity="0.65" fill="#94504a"/><circle cx="425.82" cy="552.38" r="0.48" fill-opacity="0.5" fill="#94504a"/><circle cx="418.27" cy="551.49" r="0.32" fill-opacity="0.65" fill="#94504a"/><circle cx="424.94" cy="549.73" r="0.4" fill-opacity="0.8"/><circle cx="422.49" cy="544.99" r="0.66" fill-opacity="0.35" fill="#94504a"/><circle cx="442.28" cy="550.88" r="0.48" fill-opacity="0.8"/><circle cx="446.99" cy="555.5" r="0.56" fill-opacity="0.35"/><circle cx="419.07" cy="567.08" r="0.56" fill-opacity="0.8" fill="#94504a"/><circle cx="436.04" cy="577.73" r="0.66" fill-opacity="0.35"/><circle cx="446.27" cy="556.95" r="0.4" fill-opacity="0.35"/><circle cx="420.72" cy="574.2" r="0.32" fill-opacity="0.35" fill="#94504a"/><circle cx="439.68" cy="550.42" r="0.66" fill-opacity="0.5" fill="#94504a"/><circle cx="438.43" cy="559.49" r="0.66" fill-opacity="0.5" fill="#94504a"/><circle cx="453.4" cy="564.16" r="0.32" fill-opacity="0.65"/><circle cx="419.74" cy="582.35" r="0.4" fill-opacity="0.5"/><circle cx="451.53" cy="565.19" r="0.32" fill-opacity="0.8"/><circle cx="424.55" cy="560.68" r="0.4" fill-opacity="0.65"/><circle cx="425.91" cy="542.23" r="0.4" fill-opacity="0.5"/><circle cx="435.92" cy="559.42" r="0.66" fill-opacity="0.8"/><circle cx="446.11" cy="572.46" r="0.4" fill-opacity="0.5"/><circle cx="424.28" cy="552.59" r="0.4" fill-opacity="0.8"/><circle cx="423.39" cy="585.74" r="0.66" fill-opacity="0.5" fill="#94504a"/><circle cx="422.93" cy="574.12" r="0.56" fill-opacity="0.35"/><circle cx="446.88" cy="570.29" r="0.48" fill-opacity="0.35" fill="#94504a"/><circle cx="442.85" cy="552.04" r="0.48" fill-opacity="0.35"/><circle cx="410.42" cy="574.4" r="0.4" fill-opacity="0.5" fill="#94504a"/><circle cx="422.91" cy="550.21" r="0.48" fill-opacity="0.35"/><circle cx="427.19" cy="547.67" r="0.56" fill-opacity="0.5"/><circle cx="449.07" cy="566.73" r="0.48" fill-opacity="0.8" fill="#94504a"/><circle cx="451.46" cy="551.18" r="0.48" fill-opacity="0.5"/><circle cx="420.53" cy="568.68" r="0.32" fill-opacity="0.5"/><circle cx="429.2" cy="584.75" r="0.66" fill-opacity="0.5" fill="#94504a"/><circle cx="421.55" cy="575.98" r="0.32" fill-opacity="0.65"/><circle cx="444.33" cy="552.13" r="0.32" fill-opacity="0.35"/><circle cx="412.08" cy="559.96" r="0.56" fill-opacity="0.65"/><circle cx="451.35" cy="572.27" r="0.32" fill-opacity="0.65" fill="#94504a"/><circle cx="445.07" cy="574.72" r="0.48" fill-opacity="0.65" fill="#94504a"/><circle cx="447.8" cy="559.72" r="0.4" fill-opacity="0.65"/><circle cx="446.18" cy="547.72" r="0.66" fill-opacity="0.5" fill="#94504a"/><circle cx="417.27" cy="545.69" r="0.56" fill-opacity="0.8" fill="#94504a"/><circle cx="434.84" cy="550.09" r="0.48" fill-opacity="0.65" fill="#94504a"/><circle cx="411.54" cy="556.83" r="0.66" fill-opacity="0.35"/><circle cx="429.51" cy="554.04" r="0.66" fill-opacity="0.8"/><circle cx="428.93" cy="562.93" r="0.4" fill-opacity="0.35" fill="#94504a"/><circle cx="414.4" cy="562.27" r="0.4" fill-opacity="0.65"/><circle cx="451.59" cy="557.33" r="0.4" fill-opacity="0.8"/><circle cx="416.64" cy="548.66" r="0.66" fill-opacity="0.5"/><circle cx="425.2" cy="564.98" r="0.4" fill-opacity="0.65"/><circle cx="448.07" cy="569.95" r="0.56" fill-opacity="0.65"/><circle cx="439.69" cy="580.49" r="0.56" fill-opacity="0.65"/><circle cx="419.52" cy="551.47" r="0.56" fill-opacity="0.8"/><circle cx="421.33" cy="549.59" r="0.56" fill-opacity="0.5" fill="#94504a"/><circle cx="446.43" cy="573.16" r="0.56" fill-opacity="0.8" fill="#94504a"/><circle cx="444.14" cy="555.7" r="0.32" fill-opacity="0.5"/><circle cx="444.63" cy="574.95" r="0.56" fill-opacity="0.8"/><circle cx="435.81" cy="551.27" r="0.48" fill-opacity="0.35"/><circle cx="438.48" cy="571.98" r="0.66" fill-opacity="0.65" fill="#94504a"/><circle cx="423.37" cy="575.82" r="0.48" fill-opacity="0.5"/><circle cx="419.48" cy="569.62" r="0.48" fill-opacity="0.35" fill="#94504a"/><circle cx="414.8" cy="574.58" r="0.48" fill-opacity="0.65" fill="#94504a"/><circle cx="420.32" cy="578.78" r="0.66" fill-opacity="0.8"/><circle cx="418.51" cy="565.74" r="0.48" fill-opacity="0.5"/><circle cx="431.99" cy="541.71" r="0.4" fill-opacity="0.5"/><circle cx="410.15" cy="569.26" r="0.66" fill-opacity="0.65" fill="#94504a"/><circle cx="424.98" cy="564.53" r="0.66" fill-opacity="0.8"/><circle cx="409.64" cy="567.62" r="0.48" fill-opacity="0.35"/><circle cx="432.52" cy="557.21" r="0.48" fill-opacity="0.65"/><circle cx="431.2" cy="581.4" r="0.4" fill-opacity="0.5" fill="#94504a"/><circle cx="433.18" cy="586.7" r="0.48" fill-opacity="0.8"/><circle cx="453.12" cy="567.62" r="0.4" fill-opacity="0.5"/><circle cx="414.73" cy="549.36" r="0.66" fill-opacity="0.65"/><circle cx="440.96" cy="576.63" r="0.66" fill-opacity="0.8" fill="#94504a"/><circle cx="437.19" cy="558.17" r="0.66" fill-opacity="0.65"/><circle cx="450.13" cy="569.26" r="0.32" fill-opacity="0.5"/><circle cx="432.63" cy="554.87" r="0.32" fill-opacity="0.35" fill="#94504a"/><circle cx="432.69" cy="541.14" r="0.4" fill-opacity="0.8" fill="#94504a"/><circle cx="435.74" cy="551.73" r="0.4" fill-opacity="0.5"/><circle cx="435.18" cy="566.37" r="0.66" fill-opacity="0.8"/><circle cx="424.13" cy="579.79" r="0.56" fill-opacity="0.35"/><circle cx="447.85" cy="568.83" r="0.66" fill-opacity="0.65" fill="#94504a"/><circle cx="434.76" cy="541.27" r="0.56" fill-opacity="0.35"/><circle cx="441.93" cy="566.47" r="0.4" fill-opacity="0.35"/><circle cx="435.19" cy="585.79" r="0.66" fill-opacity="0.35"/><circle cx="412.18" cy="561.55" r="0.32" fill-opacity="0.8"/><circle cx="441.96" cy="551.21" r="0.32" fill-opacity="0.5"/><circle cx="434.87" cy="580.41" r="0.56" fill-opacity="0.35"/><circle cx="447.18" cy="568.56" r="0.56" fill-opacity="0.5"/><circle cx="445.87" cy="572.51" r="0.56" fill-opacity="0.65"/><circle cx="428.04" cy="567.92" r="0.66" fill-opacity="0.5" fill="#94504a"/><circle cx="453.83" cy="559.81" r="0.4" fill-opacity="0.65"/><circle cx="428.48" cy="564.52" r="0.66" fill-opacity="0.8"/><circle cx="419.67" cy="569.59" r="0.66" fill-opacity="0.5" fill="#94504a"/><circle cx="428.75" cy="564.86" r="0.32" fill-opacity="0.5" fill="#94504a"/><circle cx="434.97" cy="586.47" r="0.4" fill-opacity="0.65"/><circle cx="414.78" cy="574.77" r="0.66" fill-opacity="0.35"/><circle cx="408.15" cy="563.14" r="0.66" fill-opacity="0.8"/><circle cx="425.79" cy="549.96" r="0.32" fill-opacity="0.8"/><circle cx="411.31" cy="558.67" r="0.48" fill-opacity="0.65" fill="#94504a"/><circle cx="424.39" cy="562.47" r="0.66" fill-opacity="0.5"/><circle cx="436.31" cy="579.88" r="0.4" fill-opacity="0.8" fill="#94504a"/><circle cx="417.63" cy="563.01" r="0.4" fill-opacity="0.8"/><circle cx="409.65" cy="564.56" r="0.32" fill-opacity="0.8"/><circle cx="410.86" cy="573.14" r="0.56" fill-opacity="0.65"/><circle cx="434.21" cy="543.7" r="0.4" fill-opacity="0.65" fill="#94504a"/><circle cx="448.56" cy="559.73" r="0.4" fill-opacity="0.35" fill="#94504a"/><circle cx="444.22" cy="557.83" r="0.32" fill-opacity="0.5" fill="#94504a"/><circle cx="419" cy="563.38" r="0.4" fill-opacity="0.65" fill="#94504a"/><circle cx="409.13" cy="555.62" r="0.66" fill-opacity="0.35" fill="#94504a"/><circle cx="421.11" cy="550.42" r="0.32" fill-opacity="0.8" fill="#94504a"/><circle cx="416.02" cy="550.5" r="0.66" fill-opacity="0.5"/><circle cx="431.17" cy="557.26" r="0.4" fill-opacity="0.35"/><circle cx="436.07" cy="563.63" r="0.66" fill-opacity="0.35"/><circle cx="422.18" cy="555.69" r="0.56" fill-opacity="0.65"/><circle cx="422.76" cy="549.12" r="0.4" fill-opacity="0.8"/><circle cx="427.74" cy="573.12" r="0.48" fill-opacity="0.35"/><circle cx="439.15" cy="568.08" r="0.32" fill-opacity="0.5" fill="#94504a"/><circle cx="427.42" cy="552.63" r="0.4" fill-opacity="0.65" fill="#94504a"/><circle cx="443.11" cy="576.65" r="0.56" fill-opacity="0.35"/><circle cx="444.49" cy="544.67" r="0.4" fill-opacity="0.8"/><circle cx="410.66" cy="555.25" r="0.66" fill-opacity="0.5" fill="#94504a"/><circle cx="433.98" cy="577.58" r="0.4" fill-opacity="0.65"/><circle cx="432.96" cy="550.69" r="0.66" fill-opacity="0.65" fill="#94504a"/><circle cx="409.43" cy="563.18" r="0.4" fill-opacity="0.8"/><circle cx="429.7" cy="587.6" r="0.4" fill-opacity="0.65"/><circle cx="444.35" cy="581.85" r="0.66" fill-opacity="0.65"/><circle cx="417.86" cy="566.23" r="0.56" fill-opacity="0.35"/><circle cx="439.44" cy="559.22" r="0.48" fill-opacity="0.8" fill="#94504a"/><circle cx="440.55" cy="557.18" r="0.48" fill-opacity="0.35"/><circle cx="419.74" cy="560.12" r="0.32" fill-opacity="0.35"/><circle cx="408.39" cy="568.64" r="0.48" fill-opacity="0.8" fill="#94504a"/><circle cx="447.67" cy="549.88" r="0.48" fill-opacity="0.65"/><circle cx="447.83" cy="549.24" r="0.32" fill-opacity="0.65" fill="#94504a"/><circle cx="423.13" cy="544.48" r="0.56" fill-opacity="0.8"/><circle cx="452.9" cy="563.49" r="0.48" fill-opacity="0.5"/><circle cx="415.57" cy="575.75" r="0.56" fill-opacity="0.5"/><circle cx="440.64" cy="578.39" r="0.48" fill-opacity="0.65"/><circle cx="416.12" cy="556.66" r="0.66" fill-opacity="0.35"/><circle cx="419.43" cy="569.28" r="0.48" fill-opacity="0.8" fill="#94504a"/><circle cx="419.17" cy="567.85" r="0.4" fill-opacity="0.35" fill="#94504a"/><circle cx="415.75" cy="574.03" r="0.4" fill-opacity="0.65"/><circle cx="415.94" cy="561.3" r="0.66" fill-opacity="0.65"/><circle cx="439.4" cy="564.49" r="0.48" fill-opacity="0.8" fill="#94504a"/><circle cx="431.49" cy="585.99" r="0.4" fill-opacity="0.65"/><circle cx="428.07" cy="541.75" r="0.32" fill-opacity="0.35"/><circle cx="420.8" cy="581.06" r="0.4" fill-opacity="0.65"/><circle cx="438.45" cy="578.48" r="0.32" fill-opacity="0.5"/><circle cx="425.1" cy="561.88" r="0.32" fill-opacity="0.8"/><circle cx="431.43" cy="551.89" r="0.48" fill-opacity="0.65"/><circle cx="448.65" cy="570.11" r="0.66" fill-opacity="0.8"/><circle cx="426.52" cy="582.17" r="0.48" fill-opacity="0.8"/><circle cx="449.72" cy="549.29" r="0.32" fill-opacity="0.5"/><circle cx="411.92" cy="552.02" r="0.32" fill-opacity="0.65"/><circle cx="434.98" cy="543.31" r="0.32" fill-opacity="0.35"/><circle cx="421.78" cy="556.46" r="0.56" fill-opacity="0.65"/><circle cx="416.52" cy="555" r="0.56" fill-opacity="0.65" fill="#94504a"/><circle cx="416.59" cy="547.07" r="0.66" fill-opacity="0.35"/><circle cx="426.02" cy="570.79" r="0.66" fill-opacity="0.65"/><circle cx="443.51" cy="569.61" r="0.4" fill-opacity="0.5"/><circle cx="431.38" cy="567.21" r="0.56" fill-opacity="0.5"/><circle cx="446.58" cy="556.32" r="0.4" fill-opacity="0.35"/><circle cx="448.65" cy="549.97" r="0.66" fill-opacity="0.35"/><circle cx="432.85" cy="581" r="0.66" fill-opacity="0.65" fill="#94504a"/><circle cx="416.52" cy="566.93" r="0.32" fill-opacity="0.65" fill="#94504a"/><circle cx="432.05" cy="541.34" r="0.32" fill-opacity="0.35"/><circle cx="431.54" cy="542.91" r="0.48" fill-opacity="0.8" fill="#94504a"/><circle cx="435.36" cy="580.31" r="0.66" fill-opacity="0.5" fill="#94504a"/><circle cx="435.58" cy="542.09" r="0.66" fill-opacity="0.5"/><circle cx="432.02" cy="547.46" r="0.66" fill-opacity="0.65" fill="#94504a"/><circle cx="435.34" cy="581.01" r="0.32" fill-opacity="0.8"/><circle cx="427.18" cy="542.32" r="0.4" fill-opacity="0.35"/><circle cx="424.99" cy="548.43" r="0.32" fill-opacity="0.35"/><circle cx="445.88" cy="577.73" r="0.48" fill-opacity="0.8" fill="#94504a"/><circle cx="417.22" cy="565.04" r="0.48" fill-opacity="0.8"/><circle cx="417.29" cy="579.1" r="0.66" fill-opacity="0.65" fill="#94504a"/><circle cx="449.81" cy="559.38" r="0.56" fill-opacity="0.35"/><circle cx="439.8" cy="574.92" r="0.66" fill-opacity="0.8"/><circle cx="432.43" cy="549.87" r="0.56" fill-opacity="0.8"/><circle cx="440.88" cy="582.98" r="0.48" fill-opacity="0.5" fill="#94504a"/><circle cx="425.69" cy="573.3" r="0.4" fill-opacity="0.8"/><circle cx="420.41" cy="547.31" r="0.4" fill-opacity="0.5" fill="#94504a"/><circle cx="431.11" cy="566.26" r="0.4" fill-opacity="0.65"/><circle cx="421.54" cy="570.97" r="0.32" fill-opacity="0.35"/><circle cx="430.32" cy="569.57" r="0.56" fill-opacity="0.5"/><circle cx="433.93" cy="545.18" r="0.4" fill-opacity="0.5" fill="#94504a"/><circle cx="442.86" cy="567.12" r="0.66" fill-opacity="0.35" fill="#94504a"/><circle cx="452.93" cy="569.49" r="0.32" fill-opacity="0.65" fill="#94504a"/><circle cx="428.31" cy="558.91" r="0.32" fill-opacity="0.8"/><circle cx="438.88" cy="553.39" r="0.32" fill-opacity="0.65"/><circle cx="444.86" cy="567.88" r="0.32" fill-opacity="0.5"/><circle cx="438.07" cy="584.11" r="0.48" fill-opacity="0.5"/><circle cx="446.57" cy="577.46" r="0.4" fill-opacity="0.35"/><circle cx="442.56" cy="581.43" r="0.66" fill-opacity="0.35" fill="#94504a"/><circle cx="428.29" cy="560.43" r="0.56" fill-opacity="0.35" fill="#94504a"/><circle cx="411.82" cy="555.73" r="0.66" fill-opacity="0.5"/><circle cx="417.86" cy="545.64" r="0.66" fill-opacity="0.8"/><circle cx="447.86" cy="567.69" r="0.66" fill-opacity="0.8"/><circle cx="420.54" cy="572.81" r="0.4" fill-opacity="0.65"/><circle cx="426.63" cy="554.23" r="0.4" fill-opacity="0.5" fill="#94504a"/><circle cx="440.53" cy="570.71" r="0.56" fill-opacity="0.8" fill="#94504a"/><circle cx="413.29" cy="549.37" r="0.32" fill-opacity="0.65"/><circle cx="433.16" cy="568.06" r="0.48" fill-opacity="0.5"/><circle cx="431.78" cy="546.18" r="0.4" fill-opacity="0.5"/><circle cx="438.3" cy="581.45" r="0.32" fill-opacity="0.65"/><circle cx="421.24" cy="546.58" r="0.48" fill-opacity="0.8"/><circle cx="420.73" cy="571.97" r="0.32" fill-opacity="0.65"/><circle cx="429.5" cy="562.3" r="0.66" fill-opacity="0.35" fill="#94504a"/><circle cx="449.11" cy="574.38" r="0.32" fill-opacity="0.35"/><circle cx="411.46" cy="558.45" r="0.66" fill-opacity="0.5"/><circle cx="438.5" cy="557.05" r="0.4" fill-opacity="0.65"/><circle cx="448.58" cy="559.06" r="0.56" fill-opacity="0.35" fill="#94504a"/><circle cx="435.87" cy="568.18" r="0.4" fill-opacity="0.35"/><circle cx="423.34" cy="580.48" r="0.4" fill-opacity="0.35"/><circle cx="435.09" cy="574.08" r="0.32" fill-opacity="0.35"/><circle cx="437.35" cy="544.89" r="0.32" fill-opacity="0.5" fill="#94504a"/><circle cx="414.02" cy="558.38" r="0.32" fill-opacity="0.8" fill="#94504a"/><circle cx="420.41" cy="577.95" r="0.48" fill-opacity="0.35"/><circle cx="420.27" cy="568.95" r="0.66" fill-opacity="0.8" fill="#94504a"/><circle cx="438.36" cy="550.9" r="0.4" fill-opacity="0.35"/><circle cx="431.83" cy="547.22" r="0.56" fill-opacity="0.35"/><circle cx="437.74" cy="583.45" r="0.66" fill-opacity="0.5" fill="#94504a"/><circle cx="436.22" cy="573.62" r="0.48" fill-opacity="0.35" fill="#94504a"/><circle cx="450.25" cy="576.46" r="0.48" fill-opacity="0.35"/><circle cx="441.34" cy="551.64" r="0.32" fill-opacity="0.5"/><circle cx="434.65" cy="545.24" r="0.4" fill-opacity="0.35" fill="#94504a"/><circle cx="417.86" cy="553.51" r="0.56" fill-opacity="0.5"/><circle cx="434.42" cy="578.08" r="0.4" fill-opacity="0.65"/><circle cx="413.17" cy="571.45" r="0.56" fill-opacity="0.8"/><circle cx="420.96" cy="559.31" r="0.4" fill-opacity="0.8"/><circle cx="410.78" cy="555.6" r="0.56" fill-opacity="0.8" fill="#94504a"/><circle cx="424.65" cy="580.9" r="0.32" fill-opacity="0.8"/><circle cx="419.22" cy="570.96" r="0.66" fill-opacity="0.5"/><circle cx="416.56" cy="582.91" r="0.66" fill-opacity="0.5"/><circle cx="437.27" cy="581.26" r="0.56" fill-opacity="0.65"/><circle cx="415.04" cy="548.14" r="0.32" fill-opacity="0.5" fill="#94504a"/><circle cx="446.44" cy="570.46" r="0.4" fill-opacity="0.8"/><circle cx="417.13" cy="581.12" r="0.66" fill-opacity="0.65" fill="#94504a"/><circle cx="424.17" cy="555.78" r="0.32" fill-opacity="0.35"/><circle cx="446.96" cy="565.34" r="0.48" fill-opacity="0.8"/><circle cx="445.31" cy="563.73" r="0.48" fill-opacity="0.5"/><circle cx="410.13" cy="565.33" r="0.56" fill-opacity="0.35"/><circle cx="422.18" cy="544.63" r="0.32" fill-opacity="0.8"/><circle cx="431.27" cy="545.73" r="0.66" fill-opacity="0.8" fill="#94504a"/><circle cx="418.99" cy="579.88" r="0.66" fill-opacity="0.5"/><circle cx="410.15" cy="573.31" r="0.48" fill-opacity="0.8"/><circle cx="434.02" cy="554.52" r="0.48" fill-opacity="0.65"/><circle cx="445.12" cy="562.93" r="0.32" fill-opacity="0.65"/><circle cx="436.05" cy="577.14" r="0.66" fill-opacity="0.5"/><circle cx="426.09" cy="564.82" r="0.4" fill-opacity="0.5" fill="#94504a"/><circle cx="430.35" cy="552.49" r="0.66" fill-opacity="0.5" fill="#94504a"/><circle cx="429.92" cy="555.62" r="0.56" fill-opacity="0.35"/><circle cx="437.82" cy="587.06" r="0.48" fill-opacity="0.5" fill="#94504a"/><circle cx="446.86" cy="558.76" r="0.4" fill-opacity="0.35" fill="#94504a"/><circle cx="450.04" cy="558.1" r="0.32" fill-opacity="0.8" fill="#94504a"/><circle cx="439.74" cy="581.15" r="0.32" fill-opacity="0.35"/><circle cx="410.87" cy="553" r="0.66" fill-opacity="0.8"/><circle cx="420.19" cy="582.52" r="0.32" fill-opacity="0.65"/><circle cx="436.81" cy="561.45" r="0.32" fill-opacity="0.5"/><circle cx="434.64" cy="582.46" r="0.32" fill-opacity="0.65"/><circle cx="423.57" cy="561.18" r="0.48" fill-opacity="0.8" fill="#94504a"/><circle cx="414.94" cy="549.08" r="0.66" fill-opacity="0.8" fill="#94504a"/><circle cx="434" cy="584.28" r="0.48" fill-opacity="0.35"/><circle cx="428.3" cy="551.56" r="0.4" fill-opacity="0.5" fill="#94504a"/><circle cx="434.71" cy="544.7" r="0.48" fill-opacity="0.8"/><circle cx="422.69" cy="582.57" r="0.4" fill-opacity="0.8"/><circle cx="429.05" cy="579.85" r="0.56" fill-opacity="0.5"/><circle cx="443.53" cy="569.04" r="0.66" fill-opacity="0.35"/><circle cx="453.5" cy="566.66" r="0.4" fill-opacity="0.35" fill="#94504a"/><circle cx="437.5" cy="575.15" r="0.66" fill-opacity="0.8" fill="#94504a"/><circle cx="435.88" cy="563.18" r="0.32" fill-opacity="0.8"/><circle cx="414.87" cy="560.17" r="0.4" fill-opacity="0.8" fill="#94504a"/><circle cx="422.26" cy="583.93" r="0.56" fill-opacity="0.8" fill="#94504a"/><circle cx="423.9" cy="555.87" r="0.48" fill-opacity="0.35"/><circle cx="420.44" cy="555.58" r="0.48" fill-opacity="0.8" fill="#94504a"/><circle cx="451.24" cy="566.13" r="0.4" fill-opacity="0.8"/><circle cx="431.74" cy="543.23" r="0.56" fill-opacity="0.8"/><circle cx="422.37" cy="577.96" r="0.4" fill-opacity="0.35"/><circle cx="446.6" cy="566.87" r="0.56" fill-opacity="0.35" fill="#94504a"/><circle cx="439.29" cy="556.74" r="0.48" fill-opacity="0.35" fill="#94504a"/><circle cx="450.02" cy="557.2" r="0.4" fill-opacity="0.5" fill="#94504a"/><circle cx="439.15" cy="559.91" r="0.48" fill-opacity="0.65"/><circle cx="416.58" cy="549.79" r="0.32" fill-opacity="0.8"/><circle cx="432.4" cy="547.62" r="0.56" fill-opacity="0.65"/><circle cx="427.99" cy="564.44" r="0.66" fill-opacity="0.35"/><circle cx="423.17" cy="559.17" r="0.56" fill-opacity="0.65" fill="#94504a"/><circle cx="435.16" cy="580.11" r="0.48" fill-opacity="0.35" fill="#94504a"/><circle cx="420.55" cy="553.98" r="0.56" fill-opacity="0.65" fill="#94504a"/><circle cx="427.13" cy="561.54" r="0.4" fill-opacity="0.8" fill="#94504a"/><circle cx="436.86" cy="574.24" r="0.56" fill-opacity="0.65"/><circle cx="448.85" cy="563.74" r="0.32" fill-opacity="0.35" fill="#94504a"/><circle cx="440.34" cy="574.19" r="0.56" fill-opacity="0.5"/><circle cx="451.44" cy="560.04" r="0.32" fill-opacity="0.8"/><circle cx="408.63" cy="568.32" r="0.4" fill-opacity="0.35"/><circle cx="435.96" cy="572" r="0.32" fill-opacity="0.35"/><circle cx="441.6" cy="572.39" r="0.48" fill-opacity="0.65" fill="#94504a"/><circle cx="442.22" cy="571.44" r="0.66" fill-opacity="0.65"/><circle cx="436.66" cy="551.54" r="0.56" fill-opacity="0.65"/><circle cx="429.19" cy="553.81" r="0.66" fill-opacity="0.8"/><circle cx="444.05" cy="581.7" r="0.56" fill-opacity="0.5"/><circle cx="418.07" cy="571.38" r="0.48" fill-opacity="0.65"/><circle cx="450.48" cy="553.66" r="0.66" fill-opacity="0.8" fill="#94504a"/><circle cx="426.29" cy="577.28" r="0.32" fill-opacity="0.5"/><circle cx="443.54" cy="558.75" r="0.32" fill-opacity="0.65"/><circle cx="432.06" cy="562.1" r="0.48" fill-opacity="0.8"/><circle cx="422.85" cy="560.36" r="0.56" fill-opacity="0.5"/><circle cx="414.81" cy="566.83" r="0.56" fill-opacity="0.8" fill="#94504a"/><circle cx="416.47" cy="579.12" r="0.56" fill-opacity="0.35"/><circle cx="435.47" cy="541.38" r="0.56" fill-opacity="0.65"/><circle cx="411" cy="554.54" r="0.66" fill-opacity="0.65"/><circle cx="436.16" cy="560.42" r="0.66" fill-opacity="0.5"/><circle cx="427.49" cy="544.28" r="0.56" fill-opacity="0.8"/><circle cx="421.3" cy="561.32" r="0.4" fill-opacity="0.5"/><circle cx="447.53" cy="561.68" r="0.56" fill-opacity="0.8"/><circle cx="432.74" cy="580.91" r="0.4" fill-opacity="0.5"/><circle cx="419.35" cy="555.76" r="0.66" fill-opacity="0.65" fill="#94504a"/><circle cx="417.99" cy="578.66" r="0.56" fill-opacity="0.35" fill="#94504a"/><circle cx="432.76" cy="563.24" r="0.66" fill-opacity="0.35"/><circle cx="448.31" cy="550.38" r="0.56" fill-opacity="0.8"/><circle cx="429.27" cy="549.44" r="0.4" fill-opacity="0.65"/><circle cx="442.79" cy="558.17" r="0.4" fill-opacity="0.8" fill="#94504a"/><circle cx="439.47" cy="582.08" r="0.32" fill-opacity="0.65"/><circle cx="434.64" cy="556.05" r="0.56" fill-opacity="0.5"/><circle cx="423.16" cy="562.66" r="0.66" fill-opacity="0.8"/><circle cx="450.67" cy="561.55" r="0.48" fill-opacity="0.65" fill="#94504a"/><circle cx="423.43" cy="579.95" r="0.48" fill-opacity="0.65"/><circle cx="424.98" cy="556.05" r="0.4" fill-opacity="0.35"/><circle cx="429.29" cy="558" r="0.56" fill-opacity="0.8" fill="#94504a"/><circle cx="413.9" cy="548.52" r="0.56" fill-opacity="0.65"/><circle cx="412.82" cy="551.35" r="0.32" fill-opacity="0.5"/><circle cx="440.23" cy="548.37" r="0.4" fill-opacity="0.8"/><circle cx="431.34" cy="577.6" r="0.32" fill-opacity="0.35" fill="#94504a"/><circle cx="440.4" cy="554.17" r="0.4" fill-opacity="0.8" fill="#94504a"/><circle cx="422.13" cy="552.98" r="0.48" fill-opacity="0.5" fill="#94504a"/><circle cx="415.85" cy="564.44" r="0.32" fill-opacity="0.5"/><circle cx="424.51" cy="575.89" r="0.48" fill-opacity="0.5"/><circle cx="423.37" cy="569.41" r="0.32" fill-opacity="0.35"/><circle cx="453.36" cy="569.09" r="0.56" fill-opacity="0.65"/><circle cx="412.06" cy="564.66" r="0.56" fill-opacity="0.65"/><circle cx="413.91" cy="560.33" r="0.48" fill-opacity="0.65" fill="#94504a"/><circle cx="449.64" cy="551.28" r="0.32" fill-opacity="0.65"/><circle cx="419.39" cy="547.8" r="0.4" fill-opacity="0.65" fill="#94504a"/><circle cx="432.2" cy="582.73" r="0.66" fill-opacity="0.8"/><circle cx="423.64" cy="555.51" r="0.4" fill-opacity="0.8" fill="#94504a"/><circle cx="425.22" cy="575.87" r="0.48" fill-opacity="0.8"/><circle cx="428.62" cy="544.11" r="0.56" fill-opacity="0.35"/><circle cx="433.07" cy="546.93" r="0.48" fill-opacity="0.8"/><circle cx="424.55" cy="556.46" r="0.56" fill-opacity="0.8"/><circle cx="431.38" cy="576.53" r="0.66" fill-opacity="0.35"/><circle cx="431.51" cy="587.6" r="0.48" fill-opacity="0.35"/><circle cx="451.57" cy="574.2" r="0.66" fill-opacity="0.35"/><circle cx="431.68" cy="540.84" r="0.56" fill-opacity="0.8"/><circle cx="425.58" cy="559.36" r="0.4" fill-opacity="0.35"/><circle cx="425.44" cy="543.44" r="0.48" fill-opacity="0.8"/><circle cx="416.17" cy="555.4" r="0.32" fill-opacity="0.5"/><circle cx="440.13" cy="577.73" r="0.32" fill-opacity="0.35"/><circle cx="447.67" cy="554.54" r="0.32" fill-opacity="0.35" fill="#94504a"/><circle cx="425.09" cy="556.93" r="0.4" fill-opacity="0.35" fill="#94504a"/><circle cx="453.37" cy="560.96" r="0.48" fill-opacity="0.8" fill="#94504a"/><circle cx="442.31" cy="551.12" r="0.48" fill-opacity="0.65" fill="#94504a"/><circle cx="434.77" cy="568.88" r="0.56" fill-opacity="0.5"/><circle cx="447.56" cy="578.51" r="0.66" fill-opacity="0.65"/><circle cx="453.52" cy="557.68" r="0.4" fill-opacity="0.8"/><circle cx="412.25" cy="550.28" r="0.66" fill-opacity="0.35"/><circle cx="411.12" cy="572.83" r="0.66" fill-opacity="0.8"/><circle cx="430.96" cy="579" r="0.32" fill-opacity="0.65" fill="#94504a"/><circle cx="439.56" cy="560.39" r="0.48" fill-opacity="0.5"/><circle cx="422.88" cy="542.21" r="0.56" fill-opacity="0.35"/><circle cx="432.08" cy="551.51" r="0.4" fill-opacity="0.8"/><circle cx="417.47" cy="554.6" r="0.48" fill-opacity="0.35"/><circle cx="439.7" cy="567.15" r="0.48" fill-opacity="0.8" fill="#94504a"/><circle cx="428.71" cy="577.56" r="0.32" fill-opacity="0.8"/><circle cx="423.7" cy="566.87" r="0.32" fill-opacity="0.8"/><circle cx="440.16" cy="570.19" r="0.32" fill-opacity="0.65"/><circle cx="435.95" cy="557.87" r="0.56" fill-opacity="0.5"/><circle cx="412.98" cy="573.19" r="0.4" fill-opacity="0.8"/><circle cx="421.3" cy="578.95" r="0.66" fill-opacity="0.65" fill="#94504a"/><circle cx="424.17" cy="586.7" r="0.32" fill-opacity="0.5"/><circle cx="446.79" cy="579.61" r="0.32" fill-opacity="0.65" fill="#94504a"/><circle cx="424.83" cy="582.25" r="0.66" fill-opacity="0.65"/><circle cx="413.69" cy="569.32" r="0.32" fill-opacity="0.65"/><circle cx="409.39" cy="567.31" r="0.48" fill-opacity="0.5"/><circle cx="448.47" cy="569.06" r="0.4" fill-opacity="0.35"/><circle cx="426.36" cy="557.84" r="0.48" fill-opacity="0.5"/><circle cx="443.18" cy="545.96" r="0.32" fill-opacity="0.8"/><circle cx="428.14" cy="556.81" r="0.66" fill-opacity="0.35"/><circle cx="429.42" cy="543.45" r="0.48" fill-opacity="0.5"/><circle cx="443.83" cy="574.69" r="0.4" fill-opacity="0.65"/><circle cx="451.59" cy="556.04" r="0.32" fill-opacity="0.65"/><circle cx="439.07" cy="568.25" r="0.56" fill-opacity="0.5"/><circle cx="422.58" cy="579.53" r="0.32" fill-opacity="0.5"/><circle cx="443.7" cy="580.62" r="0.66" fill-opacity="0.5" fill="#94504a"/><circle cx="413.38" cy="558.48" r="0.66" fill-opacity="0.5"/><circle cx="441.66" cy="553.16" r="0.4" fill-opacity="0.65"/><circle cx="412.64" cy="552.41" r="0.66" fill-opacity="0.8"/><circle cx="414.56" cy="548.49" r="0.56" fill-opacity="0.65"/><circle cx="416.57" cy="572.09" r="0.56" fill-opacity="0.65" fill="#94504a"/><circle cx="443.41" cy="570.5" r="0.48" fill-opacity="0.65"/><circle cx="410.69" cy="563.48" r="0.48" fill-opacity="0.35"/><circle cx="411.45" cy="565.79" r="0.56" fill-opacity="0.35"/><circle cx="428.08" cy="584.84" r="0.4" fill-opacity="0.65" fill="#94504a"/><circle cx="422.03" cy="574.43" r="0.48" fill-opacity="0.65"/><circle cx="421.56" cy="566.69" r="0.48" fill-opacity="0.5" fill="#94504a"/><circle cx="452.08" cy="552.79" r="0.32" fill-opacity="0.65"/><circle cx="415.45" cy="561.31" r="0.32" fill-opacity="0.8" fill="#94504a"/><circle cx="426.84" cy="543.95" r="0.56" fill-opacity="0.5"/><circle cx="421.94" cy="543.48" r="0.4" fill-opacity="0.35" fill="#94504a"/><circle cx="438.39" cy="545.61" r="0.48" fill-opacity="0.65"/><circle cx="450.46" cy="575.69" r="0.48" fill-opacity="0.65"/><circle cx="437.68" cy="546.99" r="0.56" fill-opacity="0.5"/><circle cx="420.4" cy="562.8" r="0.4" fill-opacity="0.5" fill="#94504a"/></g>
<rect x="458.6" y="537.2" width="53.2" height="53.7" fill="#dac9b0"/>
<circle cx="459.32" cy="580.35" r="1" fill="#000" fill-opacity="0.06"/><circle cx="501.04" cy="566.51" r="1.07" fill="#fff" fill-opacity="0.06"/><circle cx="508.66" cy="578.78" r="0.74" fill="#000" fill-opacity="0.06"/><circle cx="490.31" cy="557.48" r="1.47" fill="#000" fill-opacity="0.06"/><circle cx="502.73" cy="589.01" r="1" fill="#fff" fill-opacity="0.06"/><circle cx="511.16" cy="578.15" r="1.37" fill="#000" fill-opacity="0.06"/><circle cx="510" cy="566.09" r="0.7" fill="#000" fill-opacity="0.06"/><circle cx="506.01" cy="573.2" r="1.01" fill="#fff" fill-opacity="0.06"/><circle cx="478.9" cy="558.99" r="1.04" fill="#000" fill-opacity="0.06"/><circle cx="496.57" cy="584.25" r="1.55" fill="#fff" fill-opacity="0.06"/><circle cx="476.52" cy="553.45" r="1.41" fill="#fff" fill-opacity="0.06"/><circle cx="480.14" cy="549.27" r="0.83" fill="#fff" fill-opacity="0.06"/><circle cx="470.08" cy="589.99" r="0.61" fill="#fff" fill-opacity="0.06"/><circle cx="473.89" cy="584.51" r="1.07" fill="#000" fill-opacity="0.06"/><circle cx="467.79" cy="568.84" r="0.88" fill="#fff" fill-opacity="0.06"/><circle cx="477.49" cy="564.25" r="1.36" fill="#fff" fill-opacity="0.06"/><circle cx="472.6" cy="575.21" r="0.66" fill="#fff" fill-opacity="0.06"/><circle cx="477.17" cy="567.82" r="1.45" fill="#fff" fill-opacity="0.06"/><circle cx="483.55" cy="539.13" r="0.78" fill="#fff" fill-opacity="0.06"/><circle cx="505.15" cy="540.72" r="0.69" fill="#fff" fill-opacity="0.06"/><circle cx="488.07" cy="566.47" r="1.41" fill="#000" fill-opacity="0.06"/><circle cx="469.33" cy="577.25" r="0.92" fill="#fff" fill-opacity="0.06"/><circle cx="462.54" cy="590.58" r="0.99" fill="#000" fill-opacity="0.06"/><circle cx="475.83" cy="574.26" r="1.51" fill="#fff" fill-opacity="0.06"/><circle cx="467.15" cy="555.63" r="1.11" fill="#000" fill-opacity="0.06"/><circle cx="482.71" cy="581.54" r="1.08" fill="#000" fill-opacity="0.06"/><circle cx="462.36" cy="563.63" r="0.87" fill="#000" fill-opacity="0.06"/><circle cx="497.09" cy="575.45" r="1.01" fill="#000" fill-opacity="0.06"/><circle cx="462.08" cy="580.63" r="1.27" fill="#000" fill-opacity="0.06"/><circle cx="481.91" cy="561" r="1.54" fill="#fff" fill-opacity="0.06"/><circle cx="459.87" cy="558.93" r="1.48" fill="#000" fill-opacity="0.06"/><circle cx="501.53" cy="565.87" r="0.91" fill="#fff" fill-opacity="0.06"/><circle cx="488.79" cy="560.78" r="1.47" fill="#fff" fill-opacity="0.06"/><circle cx="466.57" cy="568.36" r="1.12" fill="#000" fill-opacity="0.06"/><circle cx="498.31" cy="582.69" r="0.77" fill="#000" fill-opacity="0.06"/><circle cx="494.09" cy="570.83" r="0.61" fill="#fff" fill-opacity="0.06"/><circle cx="481.12" cy="587.68" r="0.88" fill="#fff" fill-opacity="0.06"/><circle cx="477.99" cy="563.53" r="0.7" fill="#000" fill-opacity="0.06"/><circle cx="489.15" cy="570.72" r="1.14" fill="#000" fill-opacity="0.06"/><circle cx="462.18" cy="557.38" r="1.08" fill="#fff" fill-opacity="0.06"/><circle cx="462.27" cy="556.41" r="1.03" fill="#000" fill-opacity="0.06"/><circle cx="479.39" cy="571.51" r="1.43" fill="#fff" fill-opacity="0.06"/><circle cx="465.39" cy="575.68" r="1.02" fill="#fff" fill-opacity="0.06"/><circle cx="504.14" cy="551.29" r="0.95" fill="#000" fill-opacity="0.06"/><circle cx="488" cy="558.19" r="0.83" fill="#000" fill-opacity="0.06"/><circle cx="491.58" cy="583.89" r="0.93" fill="#000" fill-opacity="0.06"/><circle cx="483.42" cy="556.83" r="1.27" fill="#000" fill-opacity="0.06"/><circle cx="493.58" cy="560.25" r="0.87" fill="#000" fill-opacity="0.06"/><circle cx="507.21" cy="556.88" r="1.17" fill="#fff" fill-opacity="0.06"/><circle cx="476.75" cy="566.79" r="1.42" fill="#fff" fill-opacity="0.06"/><circle cx="488.74" cy="570.41" r="0.69" fill="#fff" fill-opacity="0.06"/><circle cx="492.96" cy="571.95" r="0.9" fill="#fff" fill-opacity="0.06"/><circle cx="499.19" cy="565.51" r="0.97" fill="#000" fill-opacity="0.06"/><circle cx="485.45" cy="586.04" r="1.44" fill="#fff" fill-opacity="0.06"/><circle cx="495.63" cy="557.86" r="1.51" fill="#fff" fill-opacity="0.06"/><circle cx="494.31" cy="560.55" r="0.65" fill="#000" fill-opacity="0.06"/><circle cx="505.9" cy="581.81" r="1.02" fill="#000" fill-opacity="0.06"/><circle cx="465.7" cy="562.62" r="1.03" fill="#000" fill-opacity="0.06"/><circle cx="491.45" cy="553.12" r="1.01" fill="#000" fill-opacity="0.06"/><circle cx="464.72" cy="537.9" r="1.07" fill="#000" fill-opacity="0.06"/>
<circle cx="485.5" cy="564.25" r="26" fill="#ece4d2" stroke="#efebe3" stroke-width="1.5"/>
<circle cx="501.16" cy="567.23" r="1.07" fill="#ffffff" fill-opacity="0.18"/><circle cx="486.3" cy="547.65" r="0.76" fill="#b09070" fill-opacity="0.18"/><circle cx="470.71" cy="556.91" r="1.09" fill="#ffffff" fill-opacity="0.18"/><circle cx="486.47" cy="577.32" r="0.57" fill="#b09070" fill-opacity="0.18"/><circle cx="495.93" cy="572.11" r="0.69" fill="#b09070" fill-opacity="0.18"/><circle cx="475.59" cy="544.72" r="0.72" fill="#b09070" fill-opacity="0.18"/><circle cx="493.59" cy="545.18" r="1.03" fill="#ffffff" fill-opacity="0.18"/><circle cx="480.08" cy="565.51" r="0.59" fill="#b09070" fill-opacity="0.18"/><circle cx="491.64" cy="567.39" r="0.9" fill="#b09070" fill-opacity="0.18"/><circle cx="491.84" cy="579.46" r="1.17" fill="#ffffff" fill-opacity="0.18"/><circle cx="504.86" cy="565.51" r="0.83" fill="#b09070" fill-opacity="0.18"/><circle cx="493.87" cy="550.24" r="1.05" fill="#b09070" fill-opacity="0.18"/><circle cx="477" cy="579.6" r="1.18" fill="#ffffff" fill-opacity="0.18"/><circle cx="492.98" cy="557.3" r="0.92" fill="#ffffff" fill-opacity="0.18"/><circle cx="501.06" cy="577.45" r="1.1" fill="#ffffff" fill-opacity="0.18"/><circle cx="494.46" cy="584.8" r="0.63" fill="#b09070" fill-opacity="0.18"/><circle cx="486.49" cy="571.55" r="0.59" fill="#b09070" fill-opacity="0.18"/><circle cx="488.85" cy="557.14" r="0.77" fill="#b09070" fill-opacity="0.18"/><circle cx="499.36" cy="582.12" r="1.13" fill="#ffffff" fill-opacity="0.18"/><circle cx="491.31" cy="579.04" r="0.66" fill="#ffffff" fill-opacity="0.18"/><circle cx="483.88" cy="543.89" r="0.61" fill="#ffffff" fill-opacity="0.18"/><circle cx="480.98" cy="561.66" r="0.61" fill="#ffffff" fill-opacity="0.18"/><circle cx="474.3" cy="569.59" r="1.15" fill="#ffffff" fill-opacity="0.18"/><circle cx="494.58" cy="547.07" r="0.73" fill="#ffffff" fill-opacity="0.18"/><circle cx="483.79" cy="558.56" r="0.86" fill="#ffffff" fill-opacity="0.18"/><circle cx="469.09" cy="580.38" r="1.13" fill="#ffffff" fill-opacity="0.18"/><circle cx="480.76" cy="540.98" r="1.29" fill="#b09070" fill-opacity="0.18"/><circle cx="494.38" cy="577.39" r="0.64" fill="#b09070" fill-opacity="0.18"/><circle cx="505.46" cy="556.53" r="0.7" fill="#b09070" fill-opacity="0.18"/><circle cx="491.06" cy="587.23" r="0.84" fill="#b09070" fill-opacity="0.18"/><circle cx="478.67" cy="581.97" r="0.91" fill="#b09070" fill-opacity="0.18"/><circle cx="499.64" cy="561.69" r="1.16" fill="#b09070" fill-opacity="0.18"/><circle cx="506.23" cy="553.66" r="0.85" fill="#ffffff" fill-opacity="0.18"/><circle cx="466.11" cy="561.34" r="1.05" fill="#ffffff" fill-opacity="0.18"/><circle cx="475.5" cy="571.36" r="1.24" fill="#ffffff" fill-opacity="0.18"/><circle cx="476.67" cy="576.88" r="1.3" fill="#ffffff" fill-opacity="0.18"/><circle cx="501.34" cy="559.94" r="0.98" fill="#ffffff" fill-opacity="0.18"/><circle cx="492.46" cy="574.5" r="0.91" fill="#b09070" fill-opacity="0.18"/><circle cx="499.72" cy="579.6" r="1.28" fill="#b09070" fill-opacity="0.18"/><circle cx="477.73" cy="563.17" r="1.02" fill="#ffffff" fill-opacity="0.18"/><circle cx="475.93" cy="554.19" r="0.77" fill="#b09070" fill-opacity="0.18"/><circle cx="470.54" cy="578.07" r="0.65" fill="#b09070" fill-opacity="0.18"/><circle cx="472.76" cy="568.66" r="0.87" fill="#ffffff" fill-opacity="0.18"/><circle cx="501.28" cy="560.01" r="1.06" fill="#ffffff" fill-opacity="0.18"/><circle cx="489.86" cy="568.64" r="1.09" fill="#ffffff" fill-opacity="0.18"/><circle cx="471.03" cy="571.19" r="1.19" fill="#b09070" fill-opacity="0.18"/><circle cx="476.99" cy="577" r="0.79" fill="#b09070" fill-opacity="0.18"/><circle cx="477.7" cy="556.24" r="1.1" fill="#ffffff" fill-opacity="0.18"/><circle cx="484.66" cy="547.07" r="1.26" fill="#b09070" fill-opacity="0.18"/><circle cx="474.41" cy="567.44" r="1.08" fill="#ffffff" fill-opacity="0.18"/><circle cx="500.09" cy="550.95" r="0.7" fill="#ffffff" fill-opacity="0.18"/><circle cx="481.44" cy="584.11" r="0.52" fill="#ffffff" fill-opacity="0.18"/><circle cx="475.89" cy="557.35" r="0.75" fill="#b09070" fill-opacity="0.18"/><circle cx="484.5" cy="546.41" r="0.83" fill="#ffffff" fill-opacity="0.18"/><circle cx="490.9" cy="555.76" r="0.82" fill="#b09070" fill-opacity="0.18"/><circle cx="482.49" cy="543.5" r="1.05" fill="#b09070" fill-opacity="0.18"/><circle cx="476.27" cy="568.82" r="1.02" fill="#ffffff" fill-opacity="0.18"/><circle cx="479.65" cy="554.15" r="0.51" fill="#ffffff" fill-opacity="0.18"/><circle cx="495.2" cy="579.24" r="0.67" fill="#b09070" fill-opacity="0.18"/><circle cx="470.06" cy="550.71" r="0.58" fill="#b09070" fill-opacity="0.18"/><circle cx="464.45" cy="556.61" r="1.07" fill="#ffffff" fill-opacity="0.18"/><circle cx="476.07" cy="583.36" r="1.24" fill="#ffffff" fill-opacity="0.18"/><circle cx="472.11" cy="584.08" r="0.93" fill="#ffffff" fill-opacity="0.18"/><circle cx="475.97" cy="567.88" r="0.69" fill="#b09070" fill-opacity="0.18"/><circle cx="505.9" cy="566.65" r="0.83" fill="#ffffff" fill-opacity="0.18"/><circle cx="484.39" cy="584.44" r="0.89" fill="#b09070" fill-opacity="0.18"/><circle cx="492.77" cy="569.67" r="0.79" fill="#b09070" fill-opacity="0.18"/><circle cx="497.45" cy="559.04" r="0.82" fill="#b09070" fill-opacity="0.18"/><circle cx="495.7" cy="569.1" r="1.15" fill="#b09070" fill-opacity="0.18"/><circle cx="488.26" cy="587.04" r="0.68" fill="#ffffff" fill-opacity="0.18"/><circle cx="484.99" cy="549.08" r="0.68" fill="#b09070" fill-opacity="0.18"/><circle cx="481.65" cy="563.35" r="0.83" fill="#b09070" fill-opacity="0.18"/><circle cx="486.94" cy="555.4" r="1.03" fill="#ffffff" fill-opacity="0.18"/><circle cx="475.97" cy="561.5" r="0.55" fill="#b09070" fill-opacity="0.18"/><circle cx="477.59" cy="581.01" r="0.8" fill="#b09070" fill-opacity="0.18"/><circle cx="473.34" cy="577.52" r="0.83" fill="#b09070" fill-opacity="0.18"/><circle cx="478.27" cy="568.35" r="0.52" fill="#ffffff" fill-opacity="0.18"/><circle cx="473.09" cy="582.34" r="0.63" fill="#ffffff" fill-opacity="0.18"/><circle cx="488.6" cy="546.57" r="0.65" fill="#ffffff" fill-opacity="0.18"/><circle cx="466.13" cy="558.17" r="0.84" fill="#b09070" fill-opacity="0.18"/><circle cx="498.68" cy="573.07" r="1.01" fill="#b09070" fill-opacity="0.18"/><circle cx="483.58" cy="575.24" r="1.17" fill="#ffffff" fill-opacity="0.18"/><circle cx="500.11" cy="582.05" r="0.64" fill="#b09070" fill-opacity="0.18"/><circle cx="483.22" cy="585.03" r="0.91" fill="#ffffff" fill-opacity="0.18"/><circle cx="501.76" cy="576.7" r="0.71" fill="#b09070" fill-opacity="0.18"/><circle cx="494.41" cy="581.14" r="1.2" fill="#b09070" fill-opacity="0.18"/><circle cx="496.13" cy="575.61" r="1.05" fill="#b09070" fill-opacity="0.18"/><circle cx="482.04" cy="558.25" r="0.72" fill="#b09070" fill-opacity="0.18"/><circle cx="483.55" cy="552.48" r="0.78" fill="#ffffff" fill-opacity="0.18"/><circle cx="488.86" cy="582.3" r="1.26" fill="#b09070" fill-opacity="0.18"/><circle cx="483.48" cy="559.9" r="0.93" fill="#ffffff" fill-opacity="0.18"/><circle cx="489.18" cy="567.64" r="1.18" fill="#b09070" fill-opacity="0.18"/><circle cx="465.18" cy="564.79" r="1.21" fill="#b09070" fill-opacity="0.18"/><circle cx="488.03" cy="545.7" r="0.59" fill="#ffffff" fill-opacity="0.18"/><circle cx="470.96" cy="553.19" r="1.16" fill="#b09070" fill-opacity="0.18"/><circle cx="469.19" cy="571.37" r="0.98" fill="#ffffff" fill-opacity="0.18"/><circle cx="492.63" cy="560.73" r="1.22" fill="#b09070" fill-opacity="0.18"/><circle cx="501.75" cy="558.4" r="1.05" fill="#b09070" fill-opacity="0.18"/><circle cx="472.15" cy="552.1" r="1.12" fill="#b09070" fill-opacity="0.18"/><circle cx="496.95" cy="566.08" r="1.05" fill="#ffffff" fill-opacity="0.18"/><circle cx="480.71" cy="573.34" r="0.92" fill="#b09070" fill-opacity="0.18"/><circle cx="488.97" cy="585.05" r="0.55" fill="#b09070" fill-opacity="0.18"/><circle cx="477.83" cy="559.08" r="0.98" fill="#b09070" fill-opacity="0.18"/><circle cx="492.44" cy="586.24" r="0.78" fill="#ffffff" fill-opacity="0.18"/><circle cx="472.5" cy="547.39" r="1.25" fill="#b09070" fill-opacity="0.18"/><circle cx="472.9" cy="557.38" r="0.73" fill="#b09070" fill-opacity="0.18"/><circle cx="484.7" cy="587.16" r="0.52" fill="#b09070" fill-opacity="0.18"/><circle cx="499" cy="555.73" r="0.79" fill="#ffffff" fill-opacity="0.18"/><circle cx="478.71" cy="559.6" r="1.09" fill="#b09070" fill-opacity="0.18"/><circle cx="485.17" cy="558.7" r="0.54" fill="#ffffff" fill-opacity="0.18"/><circle cx="500.16" cy="548.22" r="1.07" fill="#ffffff" fill-opacity="0.18"/><circle cx="466.62" cy="567.25" r="0.75" fill="#ffffff" fill-opacity="0.18"/><circle cx="505.25" cy="576.93" r="0.55" fill="#ffffff" fill-opacity="0.18"/><circle cx="503.83" cy="560.96" r="0.78" fill="#b09070" fill-opacity="0.18"/><circle cx="504.79" cy="550.9" r="0.61" fill="#b09070" fill-opacity="0.18"/><circle cx="503.44" cy="558.47" r="0.87" fill="#b09070" fill-opacity="0.18"/><circle cx="473.77" cy="582.08" r="0.77" fill="#b09070" fill-opacity="0.18"/><circle cx="476.89" cy="573.27" r="0.71" fill="#b09070" fill-opacity="0.18"/><circle cx="492.92" cy="542.77" r="0.74" fill="#b09070" fill-opacity="0.18"/><circle cx="486.18" cy="564.87" r="1.27" fill="#b09070" fill-opacity="0.18"/><circle cx="481.06" cy="587.37" r="0.92" fill="#b09070" fill-opacity="0.18"/><circle cx="480.34" cy="583.29" r="0.73" fill="#b09070" fill-opacity="0.18"/>
<g fill="#4e3028"><circle cx="488.74" cy="571.48" r="0.48" fill-opacity="0.5"/><circle cx="499.44" cy="557.84" r="0.48" fill-opacity="0.35"/><circle cx="499.89" cy="551.91" r="0.4" fill-opacity="0.8" fill="#94504a"/><circle cx="473.33" cy="552.99" r="0.66" fill-opacity="0.8" fill="#94504a"/><circle cx="507.33" cy="560.44" r="0.32" fill-opacity="0.8"/><circle cx="470.21" cy="573.45" r="0.32" fill-opacity="0.5"/><circle cx="497.64" cy="558" r="0.4" fill-opacity="0.65" fill="#94504a"/><circle cx="491.92" cy="541.29" r="0.32" fill-opacity="0.5"/><circle cx="475.16" cy="583.86" r="0.66" fill-opacity="0.8"/><circle cx="463.6" cy="554.78" r="0.48" fill-opacity="0.65"/><circle cx="476.45" cy="546.46" r="0.56" fill-opacity="0.35"/><circle cx="487.07" cy="578.51" r="0.32" fill-opacity="0.35"/><circle cx="483.5" cy="574.03" r="0.48" fill-opacity="0.35"/><circle cx="500.92" cy="561.78" r="0.66" fill-opacity="0.8" fill="#94504a"/><circle cx="476.52" cy="550.07" r="0.66" fill-opacity="0.65" fill="#94504a"/><circle cx="499.06" cy="579.2" r="0.32" fill-opacity="0.65" fill="#94504a"/><circle cx="500.79" cy="573.51" r="0.32" fill-opacity="0.5"/><circle cx="473.91" cy="552.84" r="0.56" fill-opacity="0.65"/><circle cx="477.48" cy="561.71" r="0.48" fill-opacity="0.5"/><circle cx="487.89" cy="578.79" r="0.32" fill-opacity="0.8" fill="#94504a"/><circle cx="496.51" cy="559.14" r="0.32" fill-opacity="0.8" fill="#94504a"/><circle cx="480.93" cy="551.4" r="0.4" fill-opacity="0.8" fill="#94504a"/><circle cx="487.02" cy="571.12" r="0.32" fill-opacity="0.65"/><circle cx="490.49" cy="572.01" r="0.4" fill-opacity="0.65" fill="#94504a"/><circle cx="466.94" cy="575.49" r="0.66" fill-opacity="0.35" fill="#94504a"/><circle cx="493.39" cy="545.24" r="0.66" fill-opacity="0.35"/><circle cx="471.08" cy="552.48" r="0.48" fill-opacity="0.65" fill="#94504a"/><circle cx="475.32" cy="579.75" r="0.56" fill-opacity="0.8" fill="#94504a"/><circle cx="485.45" cy="571.55" r="0.66" fill-opacity="0.35"/><circle cx="465.87" cy="566.43" r="0.56" fill-opacity="0.5"/><circle cx="472.14" cy="564.72" r="0.4" fill-opacity="0.65" fill="#94504a"/><circle cx="502.96" cy="555.7" r="0.4" fill-opacity="0.8" fill="#94504a"/><circle cx="465.57" cy="556.13" r="0.32" fill-opacity="0.35"/><circle cx="487.75" cy="542.89" r="0.4" fill-opacity="0.35" fill="#94504a"/><circle cx="477.96" cy="549.44" r="0.56" fill-opacity="0.35"/><circle cx="503.6" cy="569.43" r="0.32" fill-opacity="0.65"/><circle cx="484.52" cy="580.38" r="0.4" fill-opacity="0.8" fill="#94504a"/><circle cx="487.76" cy="578.01" r="0.56" fill-opacity="0.35"/><circle cx="467.96" cy="578.81" r="0.32" fill-opacity="0.35" fill="#94504a"/><circle cx="479.21" cy="542.3" r="0.32" fill-opacity="0.8" fill="#94504a"/><circle cx="470.4" cy="566.04" r="0.32" fill-opacity="0.35"/><circle cx="483.96" cy="581.82" r="0.32" fill-opacity="0.5"/><circle cx="480.93" cy="541.33" r="0.66" fill-opacity="0.35" fill="#94504a"/><circle cx="482.1" cy="553.03" r="0.66" fill-opacity="0.5"/><circle cx="480.62" cy="572.58" r="0.48" fill-opacity="0.65"/><circle cx="499.46" cy="582.03" r="0.32" fill-opacity="0.5"/><circle cx="501.64" cy="578.11" r="0.48" fill-opacity="0.8"/><circle cx="477.26" cy="571.24" r="0.56" fill-opacity="0.8"/><circle cx="489.84" cy="547.68" r="0.32" fill-opacity="0.65"/><circle cx="477.31" cy="574.21" r="0.4" fill-opacity="0.5" fill="#94504a"/><circle cx="493.84" cy="570.87" r="0.48" fill-opacity="0.65"/><circle cx="477.44" cy="544.96" r="0.56" fill-opacity="0.8"/><circle cx="485.94" cy="572.89" r="0.48" fill-opacity="0.5"/><circle cx="486.54" cy="583.87" r="0.4" fill-opacity="0.8"/><circle cx="504.99" cy="555.41" r="0.66" fill-opacity="0.5" fill="#94504a"/><circle cx="502.66" cy="578.67" r="0.32" fill-opacity="0.5"/><circle cx="501.72" cy="551.41" r="0.66" fill-opacity="0.5"/><circle cx="467.09" cy="558.77" r="0.48" fill-opacity="0.5"/><circle cx="497.74" cy="571.51" r="0.56" fill-opacity="0.65"/><circle cx="495.43" cy="545.49" r="0.48" fill-opacity="0.5"/><circle cx="490.01" cy="562.53" r="0.56" fill-opacity="0.35"/><circle cx="485.49" cy="541.19" r="0.48" fill-opacity="0.65" fill="#94504a"/><circle cx="484.56" cy="548.36" r="0.48" fill-opacity="0.65"/><circle cx="491.75" cy="543.39" r="0.66" fill-opacity="0.35"/><circle cx="504.42" cy="562.53" r="0.66" fill-opacity="0.8"/><circle cx="501.07" cy="545.93" r="0.4" fill-opacity="0.65"/><circle cx="500.35" cy="573.33" r="0.48" fill-opacity="0.8"/><circle cx="473.46" cy="547.88" r="0.32" fill-opacity="0.65"/><circle cx="497.76" cy="567.81" r="0.48" fill-opacity="0.8" fill="#94504a"/><circle cx="476.16" cy="562.53" r="0.32" fill-opacity="0.65" fill="#94504a"/><circle cx="494.78" cy="554.39" r="0.56" fill-opacity="0.5" fill="#94504a"/><circle cx="468.36" cy="554.18" r="0.66" fill-opacity="0.8"/><circle cx="469.16" cy="548.01" r="0.48" fill-opacity="0.35"/><circle cx="489.05" cy="573.01" r="0.56" fill-opacity="0.5"/><circle cx="487.43" cy="541.71" r="0.56" fill-opacity="0.8"/><circle cx="467.48" cy="568.34" r="0.48" fill-opacity="0.5" fill="#94504a"/><circle cx="479.6" cy="569.39" r="0.56" fill-opacity="0.65"/><circle cx="473.17" cy="572.83" r="0.56" fill-opacity="0.65"/><circle cx="487.86" cy="579.33" r="0.4" fill-opacity="0.8"/><circle cx="500.74" cy="576.2" r="0.56" fill-opacity="0.35" fill="#94504a"/><circle cx="474.99" cy="579.81" r="0.32" fill-opacity="0.8" fill="#94504a"/><circle cx="467.53" cy="570.28" r="0.66" fill-opacity="0.65"/><circle cx="494.41" cy="562.9" r="0.56" fill-opacity="0.65"/><circle cx="466.53" cy="558.94" r="0.48" fill-opacity="0.8"/><circle cx="470.73" cy="558.1" r="0.32" fill-opacity="0.35"/><circle cx="492.02" cy="575.65" r="0.66" fill-opacity="0.8"/><circle cx="489.15" cy="545.61" r="0.4" fill-opacity="0.5" fill="#94504a"/><circle cx="479.35" cy="547.07" r="0.56" fill-opacity="0.65"/><circle cx="486.12" cy="578.41" r="0.48" fill-opacity="0.35" fill="#94504a"/><circle cx="467.9" cy="568.81" r="0.4" fill-opacity="0.65"/><circle cx="504.46" cy="551.08" r="0.48" fill-opacity="0.65" fill="#94504a"/><circle cx="502.43" cy="577.95" r="0.66" fill-opacity="0.5"/><circle cx="472.32" cy="563.69" r="0.32" fill-opacity="0.65"/><circle cx="501.49" cy="561.42" r="0.66" fill-opacity="0.5" fill="#94504a"/><circle cx="492.62" cy="568.74" r="0.66" fill-opacity="0.65"/><circle cx="476.85" cy="576.12" r="0.4" fill-opacity="0.65"/><circle cx="471.67" cy="558.71" r="0.66" fill-opacity="0.5"/><circle cx="472.83" cy="552.23" r="0.56" fill-opacity="0.65"/><circle cx="484.19" cy="554.86" r="0.32" fill-opacity="0.8"/><circle cx="481.36" cy="556.04" r="0.32" fill-opacity="0.35"/><circle cx="497.36" cy="556.5" r="0.32" fill-opacity="0.5" fill="#94504a"/><circle cx="469.55" cy="570.44" r="0.32" fill-opacity="0.8"/><circle cx="485.84" cy="575.69" r="0.66" fill-opacity="0.8" fill="#94504a"/><circle cx="498.07" cy="559.61" r="0.48" fill-opacity="0.5" fill="#94504a"/><circle cx="497.79" cy="553.61" r="0.56" fill-opacity="0.8" fill="#94504a"/><circle cx="476.16" cy="549.21" r="0.48" fill-opacity="0.8" fill="#94504a"/><circle cx="488.53" cy="560.26" r="0.4" fill-opacity="0.65" fill="#94504a"/><circle cx="491.73" cy="567.63" r="0.48" fill-opacity="0.65"/><circle cx="472.62" cy="563.01" r="0.48" fill-opacity="0.5"/><circle cx="479.82" cy="558.63" r="0.32" fill-opacity="0.5"/><circle cx="473.21" cy="562.91" r="0.32" fill-opacity="0.65"/><circle cx="493.79" cy="572.39" r="0.66" fill-opacity="0.35"/><circle cx="474.83" cy="578.67" r="0.48" fill-opacity="0.8"/><circle cx="485.4" cy="558.54" r="0.48" fill-opacity="0.5"/><circle cx="483.07" cy="552.02" r="0.56" fill-opacity="0.65" fill="#94504a"/><circle cx="497.31" cy="548.67" r="0.32" fill-opacity="0.5" fill="#94504a"/><circle cx="478.11" cy="550.9" r="0.32" fill-opacity="0.5" fill="#94504a"/><circle cx="468.52" cy="550.66" r="0.56" fill-opacity="0.5" fill="#94504a"/><circle cx="485.44" cy="547.03" r="0.66" fill-opacity="0.5" fill="#94504a"/><circle cx="487.88" cy="552.83" r="0.32" fill-opacity="0.35" fill="#94504a"/><circle cx="483.56" cy="582.32" r="0.4" fill-opacity="0.35"/><circle cx="469.25" cy="551.4" r="0.66" fill-opacity="0.65"/><circle cx="481.1" cy="568.46" r="0.4" fill-opacity="0.8"/><circle cx="498.85" cy="556.99" r="0.4" fill-opacity="0.65" fill="#94504a"/><circle cx="490.43" cy="546.6" r="0.48" fill-opacity="0.35"/><circle cx="483.86" cy="555.07" r="0.4" fill-opacity="0.65"/><circle cx="491.15" cy="560.87" r="0.48" fill-opacity="0.35" fill="#94504a"/><circle cx="477.55" cy="552.57" r="0.48" fill-opacity="0.65" fill="#94504a"/><circle cx="485.92" cy="580.18" r="0.4" fill-opacity="0.8" fill="#94504a"/><circle cx="474.07" cy="553.32" r="0.66" fill-opacity="0.5" fill="#94504a"/><circle cx="478.38" cy="571.38" r="0.4" fill-opacity="0.65"/><circle cx="487.71" cy="584.83" r="0.66" fill-opacity="0.65" fill="#94504a"/><circle cx="483.75" cy="553.98" r="0.32" fill-opacity="0.35"/><circle cx="487.9" cy="572.92" r="0.4" fill-opacity="0.8"/><circle cx="495.86" cy="565" r="0.48" fill-opacity="0.35"/><circle cx="487.1" cy="557.6" r="0.4" fill-opacity="0.5" fill="#94504a"/><circle cx="502.95" cy="560.84" r="0.56" fill-opacity="0.65"/><circle cx="484.76" cy="555.44" r="0.66" fill-opacity="0.35" fill="#94504a"/><circle cx="491.83" cy="549.05" r="0.48" fill-opacity="0.65"/><circle cx="487.28" cy="585.85" r="0.32" fill-opacity="0.35"/><circle cx="486.71" cy="579.79" r="0.56" fill-opacity="0.5" fill="#94504a"/><circle cx="492" cy="543.03" r="0.4" fill-opacity="0.8" fill="#94504a"/><circle cx="506.54" cy="564.01" r="0.66" fill-opacity="0.5"/><circle cx="480.15" cy="549.16" r="0.56" fill-opacity="0.35" fill="#94504a"/><circle cx="474.61" cy="567.21" r="0.66" fill-opacity="0.35"/><circle cx="475.83" cy="566.39" r="0.48" fill-opacity="0.35" fill="#94504a"/><circle cx="489.15" cy="582.26" r="0.32" fill-opacity="0.8"/><circle cx="498.29" cy="577.73" r="0.56" fill-opacity="0.35" fill="#94504a"/><circle cx="477.12" cy="585.89" r="0.56" fill-opacity="0.5"/><circle cx="503.78" cy="558.11" r="0.4" fill-opacity="0.5" fill="#94504a"/><circle cx="493.85" cy="559.14" r="0.4" fill-opacity="0.35" fill="#94504a"/><circle cx="476.89" cy="544.12" r="0.32" fill-opacity="0.35"/><circle cx="476.49" cy="565.33" r="0.4" fill-opacity="0.8"/><circle cx="492.89" cy="546.26" r="0.32" fill-opacity="0.35" fill="#94504a"/><circle cx="481.17" cy="587.4" r="0.66" fill-opacity="0.8"/><circle cx="503.84" cy="558.14" r="0.32" fill-opacity="0.8"/><circle cx="484.66" cy="573.32" r="0.66" fill-opacity="0.65"/><circle cx="484.94" cy="564.14" r="0.66" fill-opacity="0.8"/><circle cx="487.93" cy="543.28" r="0.4" fill-opacity="0.5" fill="#94504a"/><circle cx="479.09" cy="542.28" r="0.48" fill-opacity="0.35"/><circle cx="504.17" cy="569.04" r="0.32" fill-opacity="0.35"/><circle cx="468.65" cy="578.82" r="0.4" fill-opacity="0.8" fill="#94504a"/><circle cx="484.07" cy="578.95" r="0.32" fill-opacity="0.5"/><circle cx="470.17" cy="569.16" r="0.32" fill-opacity="0.8"/><circle cx="468.67" cy="572.03" r="0.56" fill-opacity="0.35"/><circle cx="477.66" cy="566.77" r="0.4" fill-opacity="0.65"/><circle cx="504.45" cy="551.92" r="0.66" fill-opacity="0.5"/><circle cx="481.87" cy="547.33" r="0.66" fill-opacity="0.5"/><circle cx="492.39" cy="555.74" r="0.4" fill-opacity="0.65"/><circle cx="476.11" cy="578.61" r="0.4" fill-opacity="0.5"/></g>
<rect x="297.1" y="592.3" width="52.9" height="54.2" fill="#d9c9ae"/>
<circle cx="331.87" cy="642.17" r="0.78" fill="#000" fill-opacity="0.06"/><circle cx="330.95" cy="610" r="1.3" fill="#fff" fill-opacity="0.06"/><circle cx="341.52" cy="626.66" r="1.36" fill="#fff" fill-opacity="0.06"/><circle cx="314.49" cy="606.36" r="0.64" fill="#000" fill-opacity="0.06"/><circle cx="313.16" cy="605.28" r="1.08" fill="#fff" fill-opacity="0.06"/><circle cx="318.24" cy="630.13" r="0.73" fill="#000" fill-opacity="0.06"/><circle cx="327.87" cy="607.19" r="0.67" fill="#000" fill-opacity="0.06"/><circle cx="332.92" cy="606.26" r="1.15" fill="#000" fill-opacity="0.06"/><circle cx="338.01" cy="605.01" r="1.51" fill="#000" fill-opacity="0.06"/><circle cx="336.44" cy="595.57" r="0.98" fill="#000" fill-opacity="0.06"/><circle cx="307.72" cy="640.57" r="0.95" fill="#fff" fill-opacity="0.06"/><circle cx="300.9" cy="627.48" r="1.46" fill="#fff" fill-opacity="0.06"/><circle cx="312.1" cy="644.57" r="1.35" fill="#fff" fill-opacity="0.06"/><circle cx="311.25" cy="645.75" r="0.95" fill="#000" fill-opacity="0.06"/><circle cx="332.06" cy="601.15" r="1.2" fill="#000" fill-opacity="0.06"/><circle cx="304.5" cy="637.21" r="0.85" fill="#fff" fill-opacity="0.06"/><circle cx="309.18" cy="632.43" r="0.92" fill="#fff" fill-opacity="0.06"/><circle cx="311.94" cy="620.77" r="1.32" fill="#fff" fill-opacity="0.06"/><circle cx="335.11" cy="610.78" r="0.63" fill="#000" fill-opacity="0.06"/><circle cx="344.7" cy="636.18" r="0.81" fill="#000" fill-opacity="0.06"/><circle cx="347.58" cy="627.03" r="0.65" fill="#fff" fill-opacity="0.06"/><circle cx="347.28" cy="622.07" r="1.49" fill="#000" fill-opacity="0.06"/><circle cx="328.69" cy="626.8" r="1.31" fill="#fff" fill-opacity="0.06"/><circle cx="318.72" cy="619.07" r="1.25" fill="#fff" fill-opacity="0.06"/><circle cx="303.93" cy="638.48" r="0.66" fill="#000" fill-opacity="0.06"/><circle cx="349.46" cy="622.36" r="0.79" fill="#fff" fill-opacity="0.06"/><circle cx="316.38" cy="635.33" r="1.49" fill="#000" fill-opacity="0.06"/><circle cx="300.9" cy="632.93" r="0.86" fill="#fff" fill-opacity="0.06"/><circle cx="335.35" cy="607.66" r="1.2" fill="#000" fill-opacity="0.06"/><circle cx="302.65" cy="639.22" r="1.51" fill="#fff" fill-opacity="0.06"/><circle cx="327.58" cy="624.55" r="0.83" fill="#fff" fill-opacity="0.06"/><circle cx="323.37" cy="592.57" r="1.17" fill="#000" fill-opacity="0.06"/><circle cx="345.37" cy="628.85" r="0.81" fill="#000" fill-opacity="0.06"/><circle cx="320.48" cy="629.37" r="1.22" fill="#fff" fill-opacity="0.06"/><circle cx="327.8" cy="635.81" r="0.74" fill="#fff" fill-opacity="0.06"/><circle cx="303.32" cy="598.75" r="1.27" fill="#fff" fill-opacity="0.06"/><circle cx="338.29" cy="637.73" r="0.92" fill="#fff" fill-opacity="0.06"/><circle cx="329.01" cy="622.54" r="1.17" fill="#000" fill-opacity="0.06"/><circle cx="349.51" cy="615.66" r="0.87" fill="#000" fill-opacity="0.06"/><circle cx="344.41" cy="637.5" r="1.5" fill="#fff" fill-opacity="0.06"/><circle cx="297.62" cy="617.69" r="0.82" fill="#000" fill-opacity="0.06"/><circle cx="307.9" cy="592.71" r="1.18" fill="#fff" fill-opacity="0.06"/><circle cx="316.02" cy="633.25" r="0.66" fill="#fff" fill-opacity="0.06"/><circle cx="299.13" cy="603.51" r="0.68" fill="#000" fill-opacity="0.06"/><circle cx="308.43" cy="597.2" r="0.75" fill="#fff" fill-opacity="0.06"/><circle cx="303.18" cy="630.9" r="0.78" fill="#fff" fill-opacity="0.06"/><circle cx="329.75" cy="610.1" r="1.09" fill="#fff" fill-opacity="0.06"/><circle cx="323.65" cy="606.6" r="1.29" fill="#fff" fill-opacity="0.06"/><circle cx="306.67" cy="645.49" r="0.64" fill="#000" fill-opacity="0.06"/><circle cx="312.11" cy="619.78" r="0.9" fill="#000" fill-opacity="0.06"/><circle cx="322.69" cy="616.71" r="1.22" fill="#000" fill-opacity="0.06"/><circle cx="326.21" cy="620.19" r="1.06" fill="#000" fill-opacity="0.06"/><circle cx="320.43" cy="643.19" r="1.3" fill="#fff" fill-opacity="0.06"/><circle cx="317.78" cy="608.74" r="1.05" fill="#000" fill-opacity="0.06"/><circle cx="324.68" cy="604.51" r="1.02" fill="#fff" fill-opacity="0.06"/><circle cx="318.57" cy="632.54" r="1.08" fill="#fff" fill-opacity="0.06"/><circle cx="319.53" cy="637.07" r="1.42" fill="#000" fill-opacity="0.06"/><circle cx="313.04" cy="595.59" r="0.8" fill="#000" fill-opacity="0.06"/><circle cx="328.58" cy="604.57" r="0.72" fill="#000" fill-opacity="0.06"/><circle cx="347.69" cy="601.49" r="1.3" fill="#fff" fill-opacity="0.06"/>
<circle cx="323.85" cy="619.6" r="25.85" fill="#e6dbc6" stroke="#ecebe5" stroke-width="1.5"/>
<circle cx="332.38" cy="636.16" r="1.17" fill="#ffffff" fill-opacity="0.18"/><circle cx="306.08" cy="608.19" r="0.86" fill="#ffffff" fill-opacity="0.18"/><circle cx="330.61" cy="613.18" r="0.7" fill="#b09070" fill-opacity="0.18"/><circle cx="319.21" cy="605.25" r="1.19" fill="#b09070" fill-opacity="0.18"/><circle cx="320.74" cy="642.39" r="1" fill="#ffffff" fill-opacity="0.18"/><circle cx="336.4" cy="628.15" r="1.27" fill="#ffffff" fill-opacity="0.18"/><circle cx="305.8" cy="620.62" r="0.79" fill="#ffffff" fill-opacity="0.18"/><circle cx="327.3" cy="632.07" r="1.07" fill="#ffffff" fill-opacity="0.18"/><circle cx="318.14" cy="630.68" r="0.73" fill="#b09070" fill-opacity="0.18"/><circle cx="319.92" cy="602" r="0.87" fill="#ffffff" fill-opacity="0.18"/><circle cx="332.44" cy="614.17" r="1.23" fill="#b09070" fill-opacity="0.18"/><circle cx="302.42" cy="613.04" r="1.01" fill="#ffffff" fill-opacity="0.18"/><circle cx="311.11" cy="604.47" r="0.66" fill="#ffffff" fill-opacity="0.18"/><circle cx="301.53" cy="614.94" r="0.84" fill="#b09070" fill-opacity="0.18"/><circle cx="331.57" cy="613.68" r="0.85" fill="#b09070" fill-opacity="0.18"/><circle cx="323.58" cy="618.45" r="0.72" fill="#ffffff" fill-opacity="0.18"/><circle cx="320.03" cy="630.49" r="1.11" fill="#b09070" fill-opacity="0.18"/><circle cx="336.28" cy="627.81" r="0.5" fill="#ffffff" fill-opacity="0.18"/><circle cx="339.38" cy="608.75" r="1.07" fill="#b09070" fill-opacity="0.18"/><circle cx="322.83" cy="610.91" r="1.07" fill="#ffffff" fill-opacity="0.18"/><circle cx="322.49" cy="596.31" r="0.78" fill="#ffffff" fill-opacity="0.18"/><circle cx="333.52" cy="610.89" r="0.85" fill="#ffffff" fill-opacity="0.18"/><circle cx="338.36" cy="614.62" r="0.61" fill="#ffffff" fill-opacity="0.18"/><circle cx="323.41" cy="631.51" r="0.83" fill="#b09070" fill-opacity="0.18"/><circle cx="309.55" cy="623.25" r="1.16" fill="#ffffff" fill-opacity="0.18"/><circle cx="333.72" cy="628.74" r="0.89" fill="#b09070" fill-opacity="0.18"/><circle cx="310.89" cy="600.97" r="0.9" fill="#b09070" fill-opacity="0.18"/><circle cx="327.08" cy="620.87" r="1.17" fill="#b09070" fill-opacity="0.18"/><circle cx="333.15" cy="629.71" r="0.87" fill="#b09070" fill-opacity="0.18"/><circle cx="315.81" cy="616.77" r="1.22" fill="#ffffff" fill-opacity="0.18"/><circle cx="327.05" cy="613.87" r="1.18" fill="#b09070" fill-opacity="0.18"/><circle cx="339.98" cy="605.77" r="0.85" fill="#b09070" fill-opacity="0.18"/><circle cx="317.56" cy="620.63" r="0.61" fill="#ffffff" fill-opacity="0.18"/><circle cx="307.97" cy="612.62" r="0.86" fill="#ffffff" fill-opacity="0.18"/><circle cx="324.26" cy="620.07" r="1.28" fill="#b09070" fill-opacity="0.18"/><circle cx="340.69" cy="614.62" r="1.13" fill="#b09070" fill-opacity="0.18"/><circle cx="330.22" cy="614.52" r="0.66" fill="#b09070" fill-opacity="0.18"/><circle cx="314.22" cy="631.08" r="0.7" fill="#ffffff" fill-opacity="0.18"/><circle cx="329.19" cy="641.43" r="1.05" fill="#ffffff" fill-opacity="0.18"/><circle cx="341.22" cy="619.29" r="0.94" fill="#ffffff" fill-opacity="0.18"/><circle cx="325.1" cy="638.55" r="0.53" fill="#b09070" fill-opacity="0.18"/><circle cx="332.75" cy="632.72" r="0.71" fill="#b09070" fill-opacity="0.18"/><circle cx="331.35" cy="633.09" r="0.76" fill="#ffffff" fill-opacity="0.18"/><circle cx="327.7" cy="635.58" r="0.54" fill="#b09070" fill-opacity="0.18"/><circle cx="336.52" cy="609" r="1.14" fill="#b09070" fill-opacity="0.18"/><circle cx="309.16" cy="609.95" r="0.78" fill="#ffffff" fill-opacity="0.18"/><circle cx="313.79" cy="618.18" r="0.76" fill="#b09070" fill-opacity="0.18"/><circle cx="318.14" cy="614.52" r="0.57" fill="#ffffff" fill-opacity="0.18"/><circle cx="324.12" cy="603.06" r="0.86" fill="#b09070" fill-opacity="0.18"/><circle cx="334.45" cy="622.5" r="0.79" fill="#b09070" fill-opacity="0.18"/><circle cx="334.98" cy="626.05" r="0.98" fill="#ffffff" fill-opacity="0.18"/><circle cx="325.08" cy="631.48" r="1.18" fill="#ffffff" fill-opacity="0.18"/><circle cx="325.63" cy="631.35" r="0.53" fill="#ffffff" fill-opacity="0.18"/><circle cx="343.27" cy="610.91" r="0.84" fill="#b09070" fill-opacity="0.18"/><circle cx="339.07" cy="601.91" r="0.68" fill="#b09070" fill-opacity="0.18"/><circle cx="329.03" cy="620.31" r="1.27" fill="#ffffff" fill-opacity="0.18"/><circle cx="335.26" cy="617.44" r="1.14" fill="#b09070" fill-opacity="0.18"/><circle cx="324.41" cy="638.05" r="1.16" fill="#b09070" fill-opacity="0.18"/><circle cx="330.07" cy="634.15" r="1.22" fill="#b09070" fill-opacity="0.18"/><circle cx="325.44" cy="633.87" r="0.99" fill="#ffffff" fill-opacity="0.18"/><circle cx="331.23" cy="640.61" r="1.23" fill="#ffffff" fill-opacity="0.18"/><circle cx="328.74" cy="602.26" r="0.85" fill="#b09070" fill-opacity="0.18"/><circle cx="316.77" cy="601.11" r="0.9" fill="#b09070" fill-opacity="0.18"/><circle cx="318.92" cy="601.43" r="1.29" fill="#b09070" fill-opacity="0.18"/><circle cx="317.38" cy="606.67" r="0.81" fill="#ffffff" fill-opacity="0.18"/><circle cx="327.93" cy="633.66" r="1.07" fill="#b09070" fill-opacity="0.18"/><circle cx="325.33" cy="620.8" r="1.15" fill="#ffffff" fill-opacity="0.18"/><circle cx="334.19" cy="613.21" r="0.56" fill="#ffffff" fill-opacity="0.18"/><circle cx="310.12" cy="607.58" r="0.86" fill="#b09070" fill-opacity="0.18"/><circle cx="316.52" cy="640.86" r="0.82" fill="#b09070" fill-opacity="0.18"/><circle cx="340.34" cy="612.8" r="0.72" fill="#b09070" fill-opacity="0.18"/><circle cx="336.59" cy="604.8" r="1.11" fill="#ffffff" fill-opacity="0.18"/><circle cx="331.75" cy="629.8" r="0.81" fill="#ffffff" fill-opacity="0.18"/><circle cx="341.31" cy="609.42" r="1.29" fill="#ffffff" fill-opacity="0.18"/><circle cx="344.07" cy="611.29" r="0.96" fill="#ffffff" fill-opacity="0.18"/><circle cx="331.8" cy="634.51" r="1.04" fill="#b09070" fill-opacity="0.18"/><circle cx="345.78" cy="619.57" r="0.76" fill="#b09070" fill-opacity="0.18"/><circle cx="324.79" cy="606.59" r="0.71" fill="#ffffff" fill-opacity="0.18"/><circle cx="333.08" cy="610.54" r="0.54" fill="#ffffff" fill-opacity="0.18"/><circle cx="324.81" cy="615.32" r="1.25" fill="#ffffff" fill-opacity="0.18"/><circle cx="328.96" cy="601.99" r="0.73" fill="#b09070" fill-opacity="0.18"/><circle cx="340.73" cy="609.44" r="1.1" fill="#b09070" fill-opacity="0.18"/><circle cx="306.48" cy="615.07" r="1.13" fill="#ffffff" fill-opacity="0.18"/><circle cx="323.81" cy="642.93" r="0.67" fill="#ffffff" fill-opacity="0.18"/><circle cx="319.41" cy="626.46" r="0.74" fill="#b09070" fill-opacity="0.18"/><circle cx="335.73" cy="613.72" r="1.11" fill="#ffffff" fill-opacity="0.18"/><circle cx="330.14" cy="606.91" r="0.92" fill="#ffffff" fill-opacity="0.18"/><circle cx="325.01" cy="606.48" r="0.69" fill="#b09070" fill-opacity="0.18"/><circle cx="302.97" cy="626.86" r="0.98" fill="#b09070" fill-opacity="0.18"/><circle cx="321.65" cy="629.08" r="0.86" fill="#ffffff" fill-opacity="0.18"/><circle cx="346.74" cy="615.48" r="1.25" fill="#ffffff" fill-opacity="0.18"/><circle cx="333.86" cy="616.36" r="0.55" fill="#ffffff" fill-opacity="0.18"/><circle cx="333.19" cy="625.06" r="1.07" fill="#ffffff" fill-opacity="0.18"/><circle cx="346.38" cy="627" r="0.64" fill="#ffffff" fill-opacity="0.18"/><circle cx="330.5" cy="618.75" r="0.56" fill="#b09070" fill-opacity="0.18"/><circle cx="318.25" cy="610.94" r="1.07" fill="#ffffff" fill-opacity="0.18"/><circle cx="314.95" cy="634.22" r="0.89" fill="#ffffff" fill-opacity="0.18"/><circle cx="333.91" cy="605.2" r="0.74" fill="#ffffff" fill-opacity="0.18"/><circle cx="302.26" cy="625.24" r="0.63" fill="#ffffff" fill-opacity="0.18"/><circle cx="337.32" cy="616.97" r="1.11" fill="#ffffff" fill-opacity="0.18"/><circle cx="337.56" cy="618.92" r="0.78" fill="#ffffff" fill-opacity="0.18"/><circle cx="317.85" cy="610.74" r="0.92" fill="#ffffff" fill-opacity="0.18"/><circle cx="328.16" cy="613.06" r="0.91" fill="#b09070" fill-opacity="0.18"/><circle cx="347.27" cy="623.41" r="0.66" fill="#b09070" fill-opacity="0.18"/><circle cx="334.6" cy="627.44" r="0.77" fill="#b09070" fill-opacity="0.18"/><circle cx="331.34" cy="612.11" r="0.65" fill="#b09070" fill-opacity="0.18"/><circle cx="334.41" cy="606.43" r="0.91" fill="#ffffff" fill-opacity="0.18"/><circle cx="326.55" cy="612.52" r="0.6" fill="#ffffff" fill-opacity="0.18"/><circle cx="311.49" cy="626.88" r="1.25" fill="#ffffff" fill-opacity="0.18"/><circle cx="310.08" cy="612.2" r="1.19" fill="#b09070" fill-opacity="0.18"/><circle cx="324.2" cy="641.09" r="0.7" fill="#b09070" fill-opacity="0.18"/><circle cx="329.99" cy="600.27" r="0.85" fill="#ffffff" fill-opacity="0.18"/><circle cx="329.56" cy="633.78" r="0.94" fill="#ffffff" fill-opacity="0.18"/><circle cx="313.92" cy="599.61" r="0.93" fill="#b09070" fill-opacity="0.18"/><circle cx="319.29" cy="635.71" r="0.53" fill="#b09070" fill-opacity="0.18"/><circle cx="341.95" cy="618.67" r="0.73" fill="#b09070" fill-opacity="0.18"/><circle cx="326.66" cy="635.45" r="0.9" fill="#ffffff" fill-opacity="0.18"/><circle cx="306.43" cy="615.51" r="1.18" fill="#b09070" fill-opacity="0.18"/><circle cx="329.68" cy="628.89" r="1.02" fill="#b09070" fill-opacity="0.18"/><circle cx="326" cy="615.34" r="0.78" fill="#ffffff" fill-opacity="0.18"/><circle cx="317.62" cy="615.1" r="0.66" fill="#ffffff" fill-opacity="0.18"/><circle cx="334.81" cy="625.51" r="0.79" fill="#b09070" fill-opacity="0.18"/><circle cx="305.55" cy="632.71" r="1.03" fill="#ffffff" fill-opacity="0.18"/><circle cx="328.23" cy="609.19" r="0.89" fill="#b09070" fill-opacity="0.18"/><circle cx="345.72" cy="626.52" r="0.79" fill="#ffffff" fill-opacity="0.18"/><circle cx="328.96" cy="602.8" r="1.2" fill="#ffffff" fill-opacity="0.18"/><circle cx="320.39" cy="615.73" r="1.26" fill="#ffffff" fill-opacity="0.18"/><circle cx="313.84" cy="624.56" r="1.21" fill="#ffffff" fill-opacity="0.18"/><circle cx="328.62" cy="597.65" r="0.72" fill="#b09070" fill-opacity="0.18"/><circle cx="324.16" cy="635.83" r="0.96" fill="#b09070" fill-opacity="0.18"/><circle cx="317.13" cy="636.55" r="0.99" fill="#ffffff" fill-opacity="0.18"/><circle cx="312.99" cy="622.14" r="1.18" fill="#ffffff" fill-opacity="0.18"/><circle cx="334.95" cy="615.47" r="1.14" fill="#b09070" fill-opacity="0.18"/><circle cx="316.14" cy="628.55" r="1.22" fill="#b09070" fill-opacity="0.18"/><circle cx="334.29" cy="611.2" r="0.78" fill="#b09070" fill-opacity="0.18"/><circle cx="327.74" cy="603.38" r="1.25" fill="#b09070" fill-opacity="0.18"/><circle cx="345.17" cy="618.9" r="0.7" fill="#ffffff" fill-opacity="0.18"/><circle cx="320.47" cy="596.72" r="0.87" fill="#b09070" fill-opacity="0.18"/><circle cx="331.99" cy="619.59" r="0.84" fill="#ffffff" fill-opacity="0.18"/><circle cx="329.49" cy="613.3" r="0.96" fill="#b09070" fill-opacity="0.18"/><circle cx="322.28" cy="638.29" r="0.82" fill="#ffffff" fill-opacity="0.18"/><circle cx="335.27" cy="626.78" r="0.9" fill="#ffffff" fill-opacity="0.18"/><circle cx="324.82" cy="604.73" r="0.56" fill="#ffffff" fill-opacity="0.18"/><circle cx="313.24" cy="599.41" r="0.7" fill="#b09070" fill-opacity="0.18"/><circle cx="316.89" cy="631.41" r="0.82" fill="#b09070" fill-opacity="0.18"/><circle cx="339.07" cy="614.16" r="0.67" fill="#b09070" fill-opacity="0.18"/><circle cx="328.46" cy="618.79" r="1.21" fill="#b09070" fill-opacity="0.18"/><circle cx="320.16" cy="617.08" r="1.21" fill="#b09070" fill-opacity="0.18"/><circle cx="307.61" cy="631.49" r="1.25" fill="#ffffff" fill-opacity="0.18"/><circle cx="318.83" cy="610.69" r="0.76" fill="#ffffff" fill-opacity="0.18"/><circle cx="337.52" cy="608.42" r="1.12" fill="#b09070" fill-opacity="0.18"/><circle cx="333.12" cy="611.69" r="0.87" fill="#ffffff" fill-opacity="0.18"/><circle cx="304.36" cy="609.34" r="0.63" fill="#b09070" fill-opacity="0.18"/><circle cx="308.94" cy="627.94" r="1.22" fill="#b09070" fill-opacity="0.18"/><circle cx="314.2" cy="621.7" r="1.08" fill="#b09070" fill-opacity="0.18"/><circle cx="342.01" cy="621.03" r="0.93" fill="#ffffff" fill-opacity="0.18"/><circle cx="319.34" cy="629.09" r="1.25" fill="#ffffff" fill-opacity="0.18"/><circle cx="314.43" cy="633.23" r="1.3" fill="#ffffff" fill-opacity="0.18"/><circle cx="338.86" cy="632.59" r="0.88" fill="#ffffff" fill-opacity="0.18"/><circle cx="312.72" cy="634.66" r="1.02" fill="#ffffff" fill-opacity="0.18"/><circle cx="302.4" cy="627.09" r="0.95" fill="#b09070" fill-opacity="0.18"/><circle cx="317.47" cy="629.07" r="0.82" fill="#b09070" fill-opacity="0.18"/><circle cx="308.67" cy="617.44" r="0.88" fill="#b09070" fill-opacity="0.18"/><circle cx="323.89" cy="618.33" r="1.25" fill="#ffffff" fill-opacity="0.18"/>
<g fill="#4e3028"><circle cx="304.13" cy="623.78" r="0.48" fill-opacity="0.35"/><circle cx="316.97" cy="633.56" r="0.32" fill-opacity="0.5"/><circle cx="335.97" cy="636.86" r="0.4" fill-opacity="0.65" fill="#94504a"/><circle cx="344.18" cy="609.63" r="0.48" fill-opacity="0.65"/><circle cx="312.03" cy="637.02" r="0.4" fill-opacity="0.5"/><circle cx="313.54" cy="601.09" r="0.66" fill-opacity="0.5"/><circle cx="316.44" cy="638.14" r="0.32" fill-opacity="0.8" fill="#94504a"/><circle cx="328.1" cy="642.9" r="0.48" fill-opacity="0.65" fill="#94504a"/><circle cx="315.83" cy="636.02" r="0.66" fill-opacity="0.35" fill="#94504a"/><circle cx="316.13" cy="618.37" r="0.4" fill-opacity="0.65" fill="#94504a"/><circle cx="305.3" cy="626.3" r="0.48" fill-opacity="0.65"/><circle cx="324.23" cy="623.72" r="0.32" fill-opacity="0.8"/><circle cx="333.41" cy="604.82" r="0.66" fill-opacity="0.35" fill="#94504a"/><circle cx="312.55" cy="630.65" r="0.66" fill-opacity="0.8"/><circle cx="309.25" cy="635.13" r="0.48" fill-opacity="0.8" fill="#94504a"/><circle cx="317.44" cy="617.89" r="0.66" fill-opacity="0.5" fill="#94504a"/><circle cx="339.23" cy="627.98" r="0.48" fill-opacity="0.65"/><circle cx="314.59" cy="618.26" r="0.4" fill-opacity="0.35"/><circle cx="333.9" cy="614.98" r="0.4" fill-opacity="0.65"/><circle cx="336.01" cy="612.09" r="0.32" fill-opacity="0.35" fill="#94504a"/><circle cx="313.67" cy="608.32" r="0.56" fill-opacity="0.8" fill="#94504a"/><circle cx="345.44" cy="621.04" r="0.66" fill-opacity="0.8"/><circle cx="325.95" cy="614.98" r="0.66" fill-opacity="0.8" fill="#94504a"/><circle cx="337.08" cy="609.58" r="0.66" fill-opacity="0.8"/><circle cx="317.99" cy="601.32" r="0.48" fill-opacity="0.5"/><circle cx="344.08" cy="621.57" r="0.32" fill-opacity="0.35"/><circle cx="330.3" cy="610.67" r="0.56" fill-opacity="0.5"/><circle cx="346.82" cy="618.72" r="0.66" fill-opacity="0.65" fill="#94504a"/><circle cx="344.61" cy="616.41" r="0.56" fill-opacity="0.65" fill="#94504a"/><circle cx="341.88" cy="607.96" r="0.56" fill-opacity="0.35"/><circle cx="339.65" cy="622.5" r="0.48" fill-opacity="0.5"/><circle cx="321.45" cy="620.56" r="0.32" fill-opacity="0.65" fill="#94504a"/><circle cx="343.35" cy="608.15" r="0.32" fill-opacity="0.5"/><circle cx="339.68" cy="625.14" r="0.48" fill-opacity="0.5"/><circle cx="340.46" cy="626.92" r="0.66" fill-opacity="0.8"/><circle cx="314.29" cy="615.32" r="0.56" fill-opacity="0.35"/><circle cx="323.82" cy="602.25" r="0.56" fill-opacity="0.35"/><circle cx="310.04" cy="614.61" r="0.66" fill-opacity="0.8"/><circle cx="332.09" cy="622.34" r="0.66" fill-opacity="0.8"/><circle cx="336.09" cy="616.15" r="0.4" fill-opacity="0.5" fill="#94504a"/><circle cx="313.59" cy="629.97" r="0.66" fill-opacity="0.8"/><circle cx="310.38" cy="605.43" r="0.32" fill-opacity="0.5"/><circle cx="312.7" cy="603.6" r="0.48" fill-opacity="0.35"/><circle cx="330.35" cy="613.88" r="0.56" fill-opacity="0.35"/><circle cx="304.56" cy="614.28" r="0.32" fill-opacity="0.35"/><circle cx="325.42" cy="633.52" r="0.56" fill-opacity="0.5" fill="#94504a"/><circle cx="326.08" cy="633.95" r="0.48" fill-opacity="0.5"/><circle cx="324.68" cy="609.74" r="0.4" fill-opacity="0.35"/><circle cx="323.26" cy="622.25" r="0.48" fill-opacity="0.5"/><circle cx="309.18" cy="625.89" r="0.32" fill-opacity="0.5"/><circle cx="325.5" cy="641.86" r="0.48" fill-opacity="0.5"/><circle cx="342.42" cy="611.34" r="0.66" fill-opacity="0.5"/><circle cx="325.02" cy="631.88" r="0.32" fill-opacity="0.35" fill="#94504a"/><circle cx="329.84" cy="607.45" r="0.32" fill-opacity="0.5"/><circle cx="333.19" cy="633.96" r="0.4" fill-opacity="0.8"/><circle cx="331" cy="612.76" r="0.48" fill-opacity="0.35" fill="#94504a"/><circle cx="302.36" cy="610.54" r="0.48" fill-opacity="0.65"/><circle cx="336.76" cy="631.39" r="0.56" fill-opacity="0.35" fill="#94504a"/><circle cx="303.98" cy="624.89" r="0.66" fill-opacity="0.5"/><circle cx="312.95" cy="607.73" r="0.56" fill-opacity="0.8"/><circle cx="319.55" cy="629.57" r="0.48" fill-opacity="0.65"/><circle cx="324.76" cy="622.38" r="0.48" fill-opacity="0.35" fill="#94504a"/><circle cx="306.14" cy="604" r="0.4" fill-opacity="0.5" fill="#94504a"/><circle cx="329.46" cy="628.17" r="0.56" fill-opacity="0.35" fill="#94504a"/><circle cx="318.37" cy="615.79" r="0.32" fill-opacity="0.5"/><circle cx="318.88" cy="641.13" r="0.4" fill-opacity="0.65"/><circle cx="344.08" cy="624.51" r="0.48" fill-opacity="0.35"/><circle cx="318.92" cy="614.25" r="0.4" fill-opacity="0.65" fill="#94504a"/><circle cx="337.99" cy="616.6" r="0.48" fill-opacity="0.65"/><circle cx="330.01" cy="617.38" r="0.56" fill-opacity="0.65"/><circle cx="321.73" cy="595.78" r="0.48" fill-opacity="0.8" fill="#94504a"/><circle cx="312.5" cy="619.61" r="0.32" fill-opacity="0.8" fill="#94504a"/><circle cx="318.23" cy="620.23" r="0.48" fill-opacity="0.8"/><circle cx="326.49" cy="602.15" r="0.66" fill-opacity="0.65"/><circle cx="330.76" cy="597.16" r="0.66" fill-opacity="0.35"/><circle cx="324.98" cy="610.39" r="0.66" fill-opacity="0.65" fill="#94504a"/><circle cx="320.91" cy="599.04" r="0.4" fill-opacity="0.35"/><circle cx="332.08" cy="642.03" r="0.66" fill-opacity="0.65"/><circle cx="334.04" cy="629.1" r="0.48" fill-opacity="0.35"/><circle cx="344.87" cy="612.97" r="0.56" fill-opacity="0.8"/><circle cx="302.84" cy="620.2" r="0.48" fill-opacity="0.8" fill="#94504a"/><circle cx="342.5" cy="625.25" r="0.66" fill-opacity="0.5"/><circle cx="335.4" cy="636.5" r="0.4" fill-opacity="0.8" fill="#94504a"/><circle cx="306.96" cy="610.74" r="0.48" fill-opacity="0.35"/><circle cx="317.93" cy="631.82" r="0.56" fill-opacity="0.5" fill="#94504a"/><circle cx="316.37" cy="600.33" r="0.32" fill-opacity="0.8" fill="#94504a"/><circle cx="310.86" cy="637.86" r="0.48" fill-opacity="0.8" fill="#94504a"/><circle cx="331.69" cy="640.14" r="0.66" fill-opacity="0.8" fill="#94504a"/><circle cx="305.44" cy="628.26" r="0.4" fill-opacity="0.8"/><circle cx="346.97" cy="622.42" r="0.32" fill-opacity="0.35"/><circle cx="323.94" cy="636.18" r="0.32" fill-opacity="0.65" fill="#94504a"/><circle cx="335.31" cy="631.67" r="0.4" fill-opacity="0.8"/><circle cx="332.16" cy="615.57" r="0.32" fill-opacity="0.65"/><circle cx="309.41" cy="609.57" r="0.4" fill-opacity="0.8"/><circle cx="330.42" cy="602.68" r="0.48" fill-opacity="0.35"/><circle cx="303.77" cy="623.27" r="0.4" fill-opacity="0.65"/><circle cx="341.81" cy="618.41" r="0.4" fill-opacity="0.35"/><circle cx="328.6" cy="610.97" r="0.32" fill-opacity="0.35" fill="#94504a"/><circle cx="316.01" cy="631.66" r="0.48" fill-opacity="0.8"/><circle cx="337.36" cy="638.58" r="0.4" fill-opacity="0.5"/><circle cx="322.77" cy="607.37" r="0.66" fill-opacity="0.65"/><circle cx="311.55" cy="626.95" r="0.66" fill-opacity="0.5" fill="#94504a"/><circle cx="332.31" cy="599.17" r="0.32" fill-opacity="0.5"/><circle cx="338.66" cy="616.78" r="0.66" fill-opacity="0.35"/><circle cx="312.55" cy="621.44" r="0.48" fill-opacity="0.8"/><circle cx="314.38" cy="638.65" r="0.48" fill-opacity="0.65" fill="#94504a"/><circle cx="335.38" cy="606.86" r="0.66" fill-opacity="0.8"/><circle cx="347.13" cy="625.39" r="0.56" fill-opacity="0.5"/><circle cx="302.02" cy="621.16" r="0.48" fill-opacity="0.8" fill="#94504a"/><circle cx="314.86" cy="636.17" r="0.48" fill-opacity="0.8"/><circle cx="328.17" cy="638.22" r="0.32" fill-opacity="0.35" fill="#94504a"/><circle cx="313.41" cy="616.07" r="0.66" fill-opacity="0.5"/><circle cx="340.34" cy="613.48" r="0.48" fill-opacity="0.8" fill="#94504a"/><circle cx="317.93" cy="616.21" r="0.4" fill-opacity="0.35"/><circle cx="317.12" cy="618.12" r="0.4" fill-opacity="0.65"/><circle cx="304.52" cy="623.58" r="0.4" fill-opacity="0.8"/><circle cx="301.46" cy="621.24" r="0.32" fill-opacity="0.65"/><circle cx="311.68" cy="628.75" r="0.56" fill-opacity="0.65"/><circle cx="322.26" cy="623.84" r="0.48" fill-opacity="0.8" fill="#94504a"/><circle cx="317.66" cy="637.74" r="0.48" fill-opacity="0.35"/><circle cx="310.73" cy="604.99" r="0.48" fill-opacity="0.65"/><circle cx="337.36" cy="613.64" r="0.66" fill-opacity="0.5"/><circle cx="312.89" cy="620.7" r="0.32" fill-opacity="0.35"/><circle cx="320.43" cy="631.01" r="0.48" fill-opacity="0.8"/><circle cx="341.56" cy="621.59" r="0.32" fill-opacity="0.35" fill="#94504a"/><circle cx="328.57" cy="598.67" r="0.32" fill-opacity="0.65" fill="#94504a"/><circle cx="335.91" cy="640.22" r="0.66" fill-opacity="0.8"/><circle cx="340.76" cy="631.45" r="0.66" fill-opacity="0.35"/><circle cx="342.41" cy="619.18" r="0.66" fill-opacity="0.65"/><circle cx="340.48" cy="626.88" r="0.66" fill-opacity="0.35"/><circle cx="324.05" cy="604.44" r="0.48" fill-opacity="0.65" fill="#94504a"/><circle cx="336.5" cy="617.06" r="0.4" fill-opacity="0.5"/><circle cx="332.83" cy="614.12" r="0.4" fill-opacity="0.35" fill="#94504a"/><circle cx="316.46" cy="603.82" r="0.32" fill-opacity="0.35" fill="#94504a"/><circle cx="329.64" cy="620.21" r="0.32" fill-opacity="0.35" fill="#94504a"/><circle cx="332.77" cy="622.33" r="0.56" fill-opacity="0.35" fill="#94504a"/><circle cx="328.06" cy="609.94" r="0.32" fill-opacity="0.35"/><circle cx="318.68" cy="612.1" r="0.4" fill-opacity="0.5"/><circle cx="341.54" cy="619.08" r="0.4" fill-opacity="0.35"/><circle cx="337.12" cy="631.5" r="0.56" fill-opacity="0.8"/><circle cx="317.17" cy="641.44" r="0.66" fill-opacity="0.65"/><circle cx="325.26" cy="640.79" r="0.56" fill-opacity="0.8"/><circle cx="329.87" cy="619.32" r="0.56" fill-opacity="0.8" fill="#94504a"/><circle cx="333.2" cy="620.49" r="0.32" fill-opacity="0.5" fill="#94504a"/><circle cx="322.55" cy="625.83" r="0.66" fill-opacity="0.65" fill="#94504a"/><circle cx="324.58" cy="613.69" r="0.66" fill-opacity="0.5" fill="#94504a"/><circle cx="329.41" cy="635.71" r="0.66" fill-opacity="0.65"/><circle cx="313.66" cy="613.7" r="0.56" fill-opacity="0.35" fill="#94504a"/><circle cx="331.46" cy="606.33" r="0.66" fill-opacity="0.5"/><circle cx="322.71" cy="615.96" r="0.56" fill-opacity="0.8"/><circle cx="328.53" cy="640.88" r="0.32" fill-opacity="0.5" fill="#94504a"/><circle cx="316.05" cy="626.55" r="0.4" fill-opacity="0.5" fill="#94504a"/><circle cx="335.82" cy="625.33" r="0.48" fill-opacity="0.65"/><circle cx="307.01" cy="604.33" r="0.56" fill-opacity="0.35"/><circle cx="325.29" cy="628.46" r="0.32" fill-opacity="0.65" fill="#94504a"/><circle cx="316" cy="602.25" r="0.56" fill-opacity="0.65"/><circle cx="310.68" cy="611.27" r="0.32" fill-opacity="0.8" fill="#94504a"/><circle cx="310.3" cy="625.71" r="0.56" fill-opacity="0.5"/><circle cx="330.59" cy="605.63" r="0.4" fill-opacity="0.5"/><circle cx="322.16" cy="609.94" r="0.48" fill-opacity="0.8"/><circle cx="339.28" cy="635.84" r="0.56" fill-opacity="0.5" fill="#94504a"/><circle cx="340.98" cy="605.36" r="0.56" fill-opacity="0.65"/><circle cx="305.92" cy="635.09" r="0.48" fill-opacity="0.35" fill="#94504a"/><circle cx="331.3" cy="597.78" r="0.66" fill-opacity="0.65"/><circle cx="313.12" cy="600.41" r="0.32" fill-opacity="0.8"/><circle cx="301.66" cy="623.05" r="0.56" fill-opacity="0.65"/><circle cx="325.48" cy="629.98" r="0.66" fill-opacity="0.8" fill="#94504a"/><circle cx="304.24" cy="619.18" r="0.32" fill-opacity="0.65" fill="#94504a"/><circle cx="319.14" cy="607.18" r="0.4" fill-opacity="0.5"/><circle cx="324.41" cy="600.66" r="0.48" fill-opacity="0.8" fill="#94504a"/><circle cx="309.71" cy="608.48" r="0.66" fill-opacity="0.5"/><circle cx="324.97" cy="634.44" r="0.32" fill-opacity="0.65" fill="#94504a"/><circle cx="320.2" cy="599.51" r="0.32" fill-opacity="0.5"/><circle cx="323.74" cy="623.4" r="0.66" fill-opacity="0.35"/><circle cx="317.5" cy="597.71" r="0.56" fill-opacity="0.5"/><circle cx="336.34" cy="623.81" r="0.56" fill-opacity="0.35" fill="#94504a"/><circle cx="331.12" cy="608.64" r="0.4" fill-opacity="0.5"/><circle cx="333.11" cy="603.8" r="0.66" fill-opacity="0.5" fill="#94504a"/><circle cx="339.05" cy="622.95" r="0.32" fill-opacity="0.65" fill="#94504a"/><circle cx="335.3" cy="618.65" r="0.66" fill-opacity="0.5" fill="#94504a"/><circle cx="333.35" cy="624.23" r="0.32" fill-opacity="0.5" fill="#94504a"/><circle cx="338.75" cy="600.92" r="0.4" fill-opacity="0.65" fill="#94504a"/><circle cx="325.95" cy="624.38" r="0.56" fill-opacity="0.5" fill="#94504a"/><circle cx="320.36" cy="615.66" r="0.4" fill-opacity="0.35"/><circle cx="327.43" cy="598.64" r="0.56" fill-opacity="0.8"/><circle cx="321.48" cy="637.36" r="0.4" fill-opacity="0.8"/><circle cx="341.89" cy="614.88" r="0.32" fill-opacity="0.35"/><circle cx="304.64" cy="621.65" r="0.56" fill-opacity="0.35"/><circle cx="323.55" cy="628.78" r="0.66" fill-opacity="0.5"/><circle cx="318.57" cy="604.95" r="0.48" fill-opacity="0.65"/><circle cx="334.31" cy="608.43" r="0.66" fill-opacity="0.35" fill="#94504a"/><circle cx="303.9" cy="627.19" r="0.48" fill-opacity="0.5" fill="#94504a"/><circle cx="322.44" cy="616.02" r="0.56" fill-opacity="0.8"/><circle cx="315.36" cy="606.07" r="0.56" fill-opacity="0.65"/><circle cx="335.8" cy="606.7" r="0.56" fill-opacity="0.35"/><circle cx="321.66" cy="608.56" r="0.66" fill-opacity="0.8"/><circle cx="324.57" cy="613" r="0.66" fill-opacity="0.35"/><circle cx="328.44" cy="609.36" r="0.4" fill-opacity="0.5"/><circle cx="304.12" cy="610" r="0.4" fill-opacity="0.5"/><circle cx="335.41" cy="618.05" r="0.56" fill-opacity="0.35" fill="#94504a"/><circle cx="333.46" cy="609.96" r="0.32" fill-opacity="0.5"/><circle cx="312.23" cy="631.44" r="0.4" fill-opacity="0.8"/><circle cx="336.35" cy="601.3" r="0.56" fill-opacity="0.35"/><circle cx="346.03" cy="626.98" r="0.56" fill-opacity="0.5" fill="#94504a"/><circle cx="326.71" cy="596.53" r="0.56" fill-opacity="0.5"/><circle cx="322.11" cy="616.94" r="0.66" fill-opacity="0.65" fill="#94504a"/><circle cx="330.23" cy="597.82" r="0.32" fill-opacity="0.5"/><circle cx="311.77" cy="605.89" r="0.4" fill-opacity="0.65" fill="#94504a"/><circle cx="319.23" cy="599.94" r="0.4" fill-opacity="0.35"/><circle cx="342.79" cy="626.91" r="0.4" fill-opacity="0.8"/><circle cx="321.25" cy="611.76" r="0.66" fill-opacity="0.35"/><circle cx="314.09" cy="606.19" r="0.32" fill-opacity="0.65" fill="#94504a"/><circle cx="311.94" cy="625.23" r="0.66" fill-opacity="0.35"/><circle cx="320.4" cy="622.07" r="0.4" fill-opacity="0.35" fill="#94504a"/><circle cx="328.87" cy="606.76" r="0.56" fill-opacity="0.5"/><circle cx="318.94" cy="614.16" r="0.32" fill-opacity="0.8" fill="#94504a"/><circle cx="327.62" cy="636.76" r="0.32" fill-opacity="0.35"/><circle cx="344.21" cy="612.72" r="0.4" fill-opacity="0.65"/><circle cx="323.1" cy="605.97" r="0.32" fill-opacity="0.65"/><circle cx="326.54" cy="598.79" r="0.66" fill-opacity="0.65" fill="#94504a"/><circle cx="325.77" cy="611.72" r="0.66" fill-opacity="0.8"/><circle cx="311.09" cy="604.04" r="0.56" fill-opacity="0.5"/><circle cx="343.71" cy="617.92" r="0.32" fill-opacity="0.5" fill="#94504a"/><circle cx="331.68" cy="605.65" r="0.48" fill-opacity="0.65"/><circle cx="328.12" cy="613.79" r="0.32" fill-opacity="0.8" fill="#94504a"/><circle cx="331.86" cy="640.58" r="0.48" fill-opacity="0.8"/><circle cx="316.82" cy="637.64" r="0.48" fill-opacity="0.8" fill="#94504a"/><circle cx="308.49" cy="634.55" r="0.48" fill-opacity="0.5"/><circle cx="320.77" cy="637.94" r="0.48" fill-opacity="0.35"/><circle cx="313.71" cy="641.21" r="0.32" fill-opacity="0.35"/><circle cx="331.28" cy="638.85" r="0.48" fill-opacity="0.5" fill="#94504a"/><circle cx="311.66" cy="624.33" r="0.4" fill-opacity="0.65" fill="#94504a"/><circle cx="336.43" cy="624.78" r="0.32" fill-opacity="0.8" fill="#94504a"/><circle cx="333.01" cy="608.49" r="0.66" fill-opacity="0.5"/><circle cx="310.56" cy="609.45" r="0.32" fill-opacity="0.35" fill="#94504a"/><circle cx="327.3" cy="630.88" r="0.66" fill-opacity="0.65" fill="#94504a"/><circle cx="327.44" cy="642.1" r="0.4" fill-opacity="0.8"/><circle cx="328.91" cy="601.83" r="0.66" fill-opacity="0.8"/><circle cx="303.83" cy="622.86" r="0.66" fill-opacity="0.65" fill="#94504a"/><circle cx="325.42" cy="628.86" r="0.4" fill-opacity="0.35"/></g>
<rect x="351.1" y="592.3" width="52.6" height="54.2" fill="#dccdb3"/>
<circle cx="354.78" cy="628.27" r="1.5" fill="#000" fill-opacity="0.06"/><circle cx="354.85" cy="635.99" r="1.55" fill="#fff" fill-opacity="0.06"/><circle cx="371.14" cy="626.4" r="1.42" fill="#000" fill-opacity="0.06"/><circle cx="368.85" cy="635.4" r="1.39" fill="#000" fill-opacity="0.06"/><circle cx="387.74" cy="615.27" r="0.75" fill="#000" fill-opacity="0.06"/><circle cx="359.28" cy="609.54" r="1.23" fill="#fff" fill-opacity="0.06"/><circle cx="370.08" cy="602.22" r="1.45" fill="#000" fill-opacity="0.06"/><circle cx="355.26" cy="638.81" r="1" fill="#fff" fill-opacity="0.06"/><circle cx="356.34" cy="602.32" r="0.73" fill="#000" fill-opacity="0.06"/><circle cx="370.15" cy="604.18" r="0.63" fill="#000" fill-opacity="0.06"/><circle cx="358.79" cy="618.59" r="0.79" fill="#000" fill-opacity="0.06"/><circle cx="403.69" cy="644.46" r="0.97" fill="#000" fill-opacity="0.06"/><circle cx="357.7" cy="594.55" r="0.96" fill="#000" fill-opacity="0.06"/><circle cx="384.21" cy="633.86" r="0.91" fill="#000" fill-opacity="0.06"/><circle cx="396.31" cy="592.59" r="1.4" fill="#000" fill-opacity="0.06"/><circle cx="367.33" cy="630.37" r="1.22" fill="#000" fill-opacity="0.06"/><circle cx="365.22" cy="606.39" r="1.52" fill="#000" fill-opacity="0.06"/><circle cx="383.51" cy="628.59" r="1.49" fill="#000" fill-opacity="0.06"/><circle cx="387.76" cy="615.91" r="0.99" fill="#000" fill-opacity="0.06"/><circle cx="400.35" cy="642.33" r="1.2" fill="#000" fill-opacity="0.06"/><circle cx="400.52" cy="624.87" r="0.63" fill="#fff" fill-opacity="0.06"/><circle cx="381.28" cy="618.61" r="0.97" fill="#fff" fill-opacity="0.06"/><circle cx="352.86" cy="633.6" r="0.89" fill="#fff" fill-opacity="0.06"/><circle cx="365.77" cy="633.16" r="0.84" fill="#fff" fill-opacity="0.06"/><circle cx="353" cy="624.52" r="1.43" fill="#fff" fill-opacity="0.06"/><circle cx="368.66" cy="630.19" r="1.04" fill="#000" fill-opacity="0.06"/><circle cx="379.56" cy="600.47" r="1.03" fill="#fff" fill-opacity="0.06"/><circle cx="371.92" cy="642.51" r="1.19" fill="#fff" fill-opacity="0.06"/><circle cx="391.72" cy="592.89" r="1.17" fill="#fff" fill-opacity="0.06"/><circle cx="372.73" cy="593.97" r="0.78" fill="#000" fill-opacity="0.06"/><circle cx="386.57" cy="595.84" r="0.89" fill="#000" fill-opacity="0.06"/><circle cx="369.39" cy="643.74" r="1.22" fill="#fff" fill-opacity="0.06"/><circle cx="392.7" cy="612.35" r="0.74" fill="#000" fill-opacity="0.06"/><circle cx="377.78" cy="612.52" r="0.73" fill="#fff" fill-opacity="0.06"/><circle cx="368.15" cy="621.4" r="0.66" fill="#fff" fill-opacity="0.06"/><circle cx="364.23" cy="604.59" r="1.13" fill="#000" fill-opacity="0.06"/><circle cx="359.37" cy="608.71" r="0.64" fill="#fff" fill-opacity="0.06"/><circle cx="358.76" cy="636.86" r="0.78" fill="#fff" fill-opacity="0.06"/><circle cx="387.55" cy="596.38" r="0.82" fill="#000" fill-opacity="0.06"/><circle cx="395.27" cy="638.01" r="0.65" fill="#000" fill-opacity="0.06"/><circle cx="363.26" cy="613.66" r="0.96" fill="#fff" fill-opacity="0.06"/><circle cx="387.05" cy="599.93" r="1.14" fill="#000" fill-opacity="0.06"/><circle cx="355.46" cy="635.04" r="1.03" fill="#000" fill-opacity="0.06"/><circle cx="368.97" cy="624.42" r="1.14" fill="#000" fill-opacity="0.06"/><circle cx="376.89" cy="602.3" r="0.9" fill="#000" fill-opacity="0.06"/><circle cx="399.01" cy="641.62" r="0.9" fill="#fff" fill-opacity="0.06"/><circle cx="358.8" cy="609.6" r="0.85" fill="#fff" fill-opacity="0.06"/><circle cx="401.33" cy="612.32" r="0.65" fill="#fff" fill-opacity="0.06"/><circle cx="389.01" cy="644.23" r="0.78" fill="#000" fill-opacity="0.06"/><circle cx="361.21" cy="621.72" r="1.45" fill="#fff" fill-opacity="0.06"/><circle cx="403.51" cy="604.36" r="1.03" fill="#000" fill-opacity="0.06"/><circle cx="354.66" cy="636.55" r="1.42" fill="#000" fill-opacity="0.06"/><circle cx="371.22" cy="628.33" r="1.44" fill="#fff" fill-opacity="0.06"/><circle cx="402.07" cy="595.64" r="0.77" fill="#fff" fill-opacity="0.06"/><circle cx="377.12" cy="614.25" r="1.19" fill="#fff" fill-opacity="0.06"/><circle cx="364.83" cy="639.99" r="1.4" fill="#000" fill-opacity="0.06"/><circle cx="367" cy="626.33" r="1.12" fill="#000" fill-opacity="0.06"/><circle cx="382.08" cy="634.14" r="1.48" fill="#fff" fill-opacity="0.06"/><circle cx="353.36" cy="595.1" r="1.35" fill="#000" fill-opacity="0.06"/><circle cx="393.19" cy="603.17" r="1.24" fill="#000" fill-opacity="0.06"/>
<circle cx="377.7" cy="619.6" r="25.7" fill="#eae1cf" stroke="#edece7" stroke-width="1.5"/>
<circle cx="356.08" cy="611.66" r="0.76" fill="#ffffff" fill-opacity="0.18"/><circle cx="363.07" cy="614.19" r="0.81" fill="#ffffff" fill-opacity="0.18"/><circle cx="382.5" cy="615.42" r="0.95" fill="#ffffff" fill-opacity="0.18"/><circle cx="383.5" cy="607.77" r="0.97" fill="#b09070" fill-opacity="0.18"/><circle cx="372.25" cy="629.75" r="0.52" fill="#ffffff" fill-opacity="0.18"/><circle cx="366.14" cy="614.31" r="0.77" fill="#b09070" fill-opacity="0.18"/><circle cx="377.37" cy="639.89" r="1.26" fill="#b09070" fill-opacity="0.18"/><circle cx="376.54" cy="634.64" r="0.8" fill="#b09070" fill-opacity="0.18"/><circle cx="367.75" cy="637.29" r="0.58" fill="#b09070" fill-opacity="0.18"/><circle cx="375.95" cy="602.59" r="1" fill="#ffffff" fill-opacity="0.18"/><circle cx="366.82" cy="626.12" r="1.25" fill="#b09070" fill-opacity="0.18"/><circle cx="376.35" cy="615.54" r="0.52" fill="#b09070" fill-opacity="0.18"/><circle cx="376.39" cy="641.81" r="0.67" fill="#b09070" fill-opacity="0.18"/><circle cx="372.08" cy="633.48" r="0.97" fill="#b09070" fill-opacity="0.18"/><circle cx="362.58" cy="618.83" r="0.66" fill="#ffffff" fill-opacity="0.18"/><circle cx="377.71" cy="606.95" r="1.18" fill="#ffffff" fill-opacity="0.18"/><circle cx="380.99" cy="607.17" r="0.82" fill="#b09070" fill-opacity="0.18"/><circle cx="373.67" cy="605.67" r="0.66" fill="#b09070" fill-opacity="0.18"/><circle cx="399.46" cy="610.51" r="1.27" fill="#b09070" fill-opacity="0.18"/><circle cx="377.11" cy="635.19" r="0.87" fill="#ffffff" fill-opacity="0.18"/><circle cx="396.82" cy="629.56" r="0.97" fill="#ffffff" fill-opacity="0.18"/><circle cx="394.91" cy="619.33" r="1.28" fill="#b09070" fill-opacity="0.18"/><circle cx="393.5" cy="621.34" r="0.62" fill="#b09070" fill-opacity="0.18"/><circle cx="392.51" cy="617.04" r="0.63" fill="#b09070" fill-opacity="0.18"/><circle cx="392.31" cy="620.91" r="0.56" fill="#ffffff" fill-opacity="0.18"/><circle cx="370.15" cy="630.75" r="0.85" fill="#b09070" fill-opacity="0.18"/><circle cx="379.69" cy="642.26" r="0.61" fill="#ffffff" fill-opacity="0.18"/><circle cx="388.92" cy="628.57" r="1.24" fill="#b09070" fill-opacity="0.18"/><circle cx="398" cy="611.01" r="0.94" fill="#b09070" fill-opacity="0.18"/><circle cx="391.82" cy="633.54" r="1.28" fill="#b09070" fill-opacity="0.18"/><circle cx="370.23" cy="638.32" r="0.51" fill="#ffffff" fill-opacity="0.18"/><circle cx="394.5" cy="622.04" r="0.63" fill="#b09070" fill-opacity="0.18"/><circle cx="367.97" cy="640.69" r="0.71" fill="#b09070" fill-opacity="0.18"/><circle cx="400.2" cy="620.77" r="1" fill="#b09070" fill-opacity="0.18"/><circle cx="376.96" cy="641.91" r="0.76" fill="#ffffff" fill-opacity="0.18"/><circle cx="369.62" cy="621.94" r="1.24" fill="#ffffff" fill-opacity="0.18"/><circle cx="384.69" cy="613.95" r="0.67" fill="#ffffff" fill-opacity="0.18"/><circle cx="367.74" cy="618.25" r="1.15" fill="#b09070" fill-opacity="0.18"/><circle cx="373.56" cy="604.99" r="0.51" fill="#b09070" fill-opacity="0.18"/><circle cx="379.38" cy="613.81" r="0.62" fill="#ffffff" fill-opacity="0.18"/><circle cx="372.85" cy="632.33" r="0.83" fill="#ffffff" fill-opacity="0.18"/><circle cx="394.88" cy="629.89" r="1.25" fill="#ffffff" fill-opacity="0.18"/><circle cx="373.29" cy="602.86" r="1.03" fill="#ffffff" fill-opacity="0.18"/><circle cx="400.63" cy="613.74" r="0.57" fill="#ffffff" fill-opacity="0.18"/><circle cx="386.85" cy="631.46" r="0.57" fill="#b09070" fill-opacity="0.18"/><circle cx="371.18" cy="621.06" r="0.82" fill="#b09070" fill-opacity="0.18"/><circle cx="366.88" cy="607.44" r="0.83" fill="#ffffff" fill-opacity="0.18"/><circle cx="384.42" cy="612.43" r="0.86" fill="#ffffff" fill-opacity="0.18"/><circle cx="391.24" cy="627.13" r="0.58" fill="#b09070" fill-opacity="0.18"/><circle cx="362.55" cy="611.9" r="0.56" fill="#b09070" fill-opacity="0.18"/><circle cx="375.14" cy="639.65" r="0.96" fill="#b09070" fill-opacity="0.18"/><circle cx="388.05" cy="622.13" r="0.66" fill="#ffffff" fill-opacity="0.18"/><circle cx="398.74" cy="613.36" r="0.55" fill="#ffffff" fill-opacity="0.18"/><circle cx="391.6" cy="613.53" r="0.53" fill="#b09070" fill-opacity="0.18"/><circle cx="391.83" cy="617.43" r="1.08" fill="#b09070" fill-opacity="0.18"/><circle cx="391.75" cy="632.57" r="1.09" fill="#b09070" fill-opacity="0.18"/><circle cx="388.12" cy="605.73" r="0.52" fill="#ffffff" fill-opacity="0.18"/><circle cx="369.04" cy="610.62" r="1.21" fill="#b09070" fill-opacity="0.18"/><circle cx="395.33" cy="623.62" r="0.56" fill="#ffffff" fill-opacity="0.18"/><circle cx="381.41" cy="639.11" r="0.68" fill="#ffffff" fill-opacity="0.18"/><circle cx="398.7" cy="630.11" r="1.2" fill="#ffffff" fill-opacity="0.18"/><circle cx="394.14" cy="613.56" r="1.1" fill="#ffffff" fill-opacity="0.18"/><circle cx="358.44" cy="623.41" r="0.86" fill="#ffffff" fill-opacity="0.18"/><circle cx="375.59" cy="621.09" r="0.78" fill="#ffffff" fill-opacity="0.18"/><circle cx="388.67" cy="629.64" r="1.12" fill="#ffffff" fill-opacity="0.18"/><circle cx="397.86" cy="630.87" r="1.22" fill="#ffffff" fill-opacity="0.18"/><circle cx="381.79" cy="637.41" r="1.08" fill="#b09070" fill-opacity="0.18"/><circle cx="356.77" cy="624.86" r="0.56" fill="#b09070" fill-opacity="0.18"/><circle cx="364.21" cy="612.89" r="1.2" fill="#b09070" fill-opacity="0.18"/><circle cx="373.17" cy="612.44" r="0.95" fill="#ffffff" fill-opacity="0.18"/><circle cx="396.87" cy="630.23" r="0.83" fill="#b09070" fill-opacity="0.18"/><circle cx="379.99" cy="618.58" r="0.57" fill="#b09070" fill-opacity="0.18"/><circle cx="364.04" cy="622.77" r="1.05" fill="#b09070" fill-opacity="0.18"/><circle cx="363.14" cy="617.67" r="0.58" fill="#b09070" fill-opacity="0.18"/><circle cx="400.53" cy="618.8" r="0.7" fill="#b09070" fill-opacity="0.18"/><circle cx="382.04" cy="608.56" r="0.55" fill="#ffffff" fill-opacity="0.18"/><circle cx="393.18" cy="612.31" r="0.6" fill="#ffffff" fill-opacity="0.18"/><circle cx="386.42" cy="623.24" r="0.76" fill="#b09070" fill-opacity="0.18"/><circle cx="400.41" cy="624.13" r="0.62" fill="#b09070" fill-opacity="0.18"/><circle cx="388.51" cy="615.56" r="0.69" fill="#ffffff" fill-opacity="0.18"/><circle cx="359.85" cy="604.12" r="0.67" fill="#b09070" fill-opacity="0.18"/><circle cx="394.61" cy="633.81" r="0.82" fill="#b09070" fill-opacity="0.18"/><circle cx="388.94" cy="607.86" r="0.51" fill="#ffffff" fill-opacity="0.18"/><circle cx="383.35" cy="599.03" r="0.74" fill="#ffffff" fill-opacity="0.18"/><circle cx="378.15" cy="620.02" r="1.01" fill="#ffffff" fill-opacity="0.18"/><circle cx="374.12" cy="610.46" r="0.68" fill="#ffffff" fill-opacity="0.18"/><circle cx="361.15" cy="626.36" r="0.95" fill="#b09070" fill-opacity="0.18"/><circle cx="394.61" cy="623.5" r="0.98" fill="#b09070" fill-opacity="0.18"/><circle cx="393.83" cy="631.4" r="0.58" fill="#ffffff" fill-opacity="0.18"/><circle cx="382.47" cy="634.18" r="0.87" fill="#b09070" fill-opacity="0.18"/><circle cx="380.38" cy="603.65" r="1.22" fill="#ffffff" fill-opacity="0.18"/><circle cx="371.51" cy="640.55" r="0.86" fill="#ffffff" fill-opacity="0.18"/><circle cx="391.66" cy="612.8" r="0.57" fill="#b09070" fill-opacity="0.18"/><circle cx="389.86" cy="606.35" r="1.11" fill="#ffffff" fill-opacity="0.18"/><circle cx="371.3" cy="622.24" r="0.63" fill="#ffffff" fill-opacity="0.18"/><circle cx="361.62" cy="615.82" r="0.76" fill="#ffffff" fill-opacity="0.18"/><circle cx="388.28" cy="623.91" r="0.76" fill="#ffffff" fill-opacity="0.18"/><circle cx="391.55" cy="623.75" r="0.93" fill="#ffffff" fill-opacity="0.18"/><circle cx="391.04" cy="610.74" r="0.55" fill="#b09070" fill-opacity="0.18"/><circle cx="390.02" cy="616.2" r="1.1" fill="#b09070" fill-opacity="0.18"/><circle cx="371.22" cy="629.08" r="1.07" fill="#b09070" fill-opacity="0.18"/>
<g fill="#4e3028"><circle cx="364.68" cy="623.32" r="0.32" fill-opacity="0.8"/><circle cx="401.08" cy="616.36" r="0.56" fill-opacity="0.35"/><circle cx="385.96" cy="626.66" r="0.32" fill-opacity="0.35" fill="#94504a"/><circle cx="356.67" cy="615.91" r="0.4" fill-opacity="0.8"/><circle cx="395.03" cy="636.03" r="0.66" fill-opacity="0.8"/><circle cx="386.34" cy="629.54" r="0.56" fill-opacity="0.5"/><circle cx="374.02" cy="641.3" r="0.4" fill-opacity="0.8"/><circle cx="358.51" cy="606.03" r="0.66" fill-opacity="0.35"/><circle cx="362.23" cy="608" r="0.48" fill-opacity="0.8" fill="#94504a"/><circle cx="394.51" cy="611.6" r="0.4" fill-opacity="0.8" fill="#94504a"/><circle cx="375.59" cy="631.96" r="0.56" fill-opacity="0.8" fill="#94504a"/><circle cx="377.08" cy="640.37" r="0.4" fill-opacity="0.8"/><circle cx="395.87" cy="615.4" r="0.32" fill-opacity="0.5" fill="#94504a"/><circle cx="382.18" cy="603.58" r="0.32" fill-opacity="0.35"/><circle cx="360.01" cy="629.25" r="0.4" fill-opacity="0.5" fill="#94504a"/><circle cx="356.89" cy="618.26" r="0.66" fill-opacity="0.5"/><circle cx="360.68" cy="631.68" r="0.48" fill-opacity="0.35" fill="#94504a"/><circle cx="357.27" cy="624.72" r="0.66" fill-opacity="0.5" fill="#94504a"/><circle cx="369.99" cy="641.49" r="0.48" fill-opacity="0.5" fill="#94504a"/><circle cx="388.54" cy="599.81" r="0.32" fill-opacity="0.5"/><circle cx="364.26" cy="623.93" r="0.66" fill-opacity="0.65"/><circle cx="371.86" cy="598.08" r="0.66" fill-opacity="0.8"/><circle cx="375.45" cy="605.94" r="0.66" fill-opacity="0.8"/><circle cx="395.79" cy="631.49" r="0.32" fill-opacity="0.8" fill="#94504a"/><circle cx="385.07" cy="634.76" r="0.4" fill-opacity="0.35"/><circle cx="372.39" cy="636.36" r="0.48" fill-opacity="0.35"/><circle cx="390.01" cy="612.87" r="0.48" fill-opacity="0.5" fill="#94504a"/><circle cx="373.3" cy="611.65" r="0.4" fill-opacity="0.65"/><circle cx="367.31" cy="612.91" r="0.4" fill-opacity="0.65"/><circle cx="380.73" cy="596.47" r="0.32" fill-opacity="0.5"/><circle cx="363.65" cy="615.54" r="0.32" fill-opacity="0.5"/><circle cx="359.29" cy="623.03" r="0.48" fill-opacity="0.5"/><circle cx="361.85" cy="634.63" r="0.56" fill-opacity="0.8"/><circle cx="357.4" cy="611.27" r="0.4" fill-opacity="0.65"/><circle cx="386.57" cy="600.51" r="0.56" fill-opacity="0.35"/><circle cx="374.94" cy="622.05" r="0.56" fill-opacity="0.8"/><circle cx="386.88" cy="608.97" r="0.56" fill-opacity="0.65"/><circle cx="377.32" cy="612.32" r="0.32" fill-opacity="0.35"/><circle cx="373.64" cy="627.38" r="0.56" fill-opacity="0.65" fill="#94504a"/><circle cx="367.24" cy="630.79" r="0.32" fill-opacity="0.35"/><circle cx="362.6" cy="624.76" r="0.48" fill-opacity="0.65"/><circle cx="395.37" cy="634.7" r="0.66" fill-opacity="0.8" fill="#94504a"/><circle cx="366.6" cy="629.75" r="0.56" fill-opacity="0.8" fill="#94504a"/><circle cx="388.29" cy="629.01" r="0.32" fill-opacity="0.5"/><circle cx="395.52" cy="621.75" r="0.4" fill-opacity="0.8"/><circle cx="367.13" cy="607.81" r="0.66" fill-opacity="0.35"/><circle cx="362.1" cy="619.97" r="0.48" fill-opacity="0.35"/><circle cx="386.09" cy="601.5" r="0.66" fill-opacity="0.8"/><circle cx="392.67" cy="606.41" r="0.56" fill-opacity="0.65"/><circle cx="384.52" cy="630.23" r="0.66" fill-opacity="0.65"/><circle cx="365.06" cy="617.02" r="0.4" fill-opacity="0.35"/><circle cx="395" cy="624.94" r="0.66" fill-opacity="0.65"/><circle cx="373.74" cy="610.47" r="0.32" fill-opacity="0.65" fill="#94504a"/><circle cx="369.33" cy="600.58" r="0.66" fill-opacity="0.35" fill="#94504a"/><circle cx="399.05" cy="625.32" r="0.4" fill-opacity="0.65" fill="#94504a"/><circle cx="370.29" cy="617.39" r="0.66" fill-opacity="0.5"/><circle cx="395.06" cy="607.34" r="0.32" fill-opacity="0.35"/><circle cx="360.34" cy="622.8" r="0.48" fill-opacity="0.65" fill="#94504a"/><circle cx="360.74" cy="616.67" r="0.56" fill-opacity="0.65"/><circle cx="356.38" cy="618.65" r="0.48" fill-opacity="0.35" fill="#94504a"/><circle cx="378.17" cy="601.11" r="0.66" fill-opacity="0.8" fill="#94504a"/><circle cx="364.35" cy="632.15" r="0.4" fill-opacity="0.35"/><circle cx="360.83" cy="632.42" r="0.66" fill-opacity="0.5"/><circle cx="379.31" cy="608.02" r="0.48" fill-opacity="0.65"/><circle cx="379.42" cy="608.01" r="0.66" fill-opacity="0.5" fill="#94504a"/><circle cx="372.57" cy="639.34" r="0.48" fill-opacity="0.8"/><circle cx="364.07" cy="603.51" r="0.56" fill-opacity="0.5"/><circle cx="384.85" cy="639.91" r="0.32" fill-opacity="0.65"/><circle cx="382.71" cy="641.2" r="0.56" fill-opacity="0.35"/><circle cx="375.36" cy="621.5" r="0.66" fill-opacity="0.8" fill="#94504a"/><circle cx="368.14" cy="605.75" r="0.48" fill-opacity="0.35"/><circle cx="376.97" cy="622.32" r="0.32" fill-opacity="0.5" fill="#94504a"/><circle cx="376.58" cy="630.52" r="0.32" fill-opacity="0.5"/><circle cx="371.62" cy="618.38" r="0.4" fill-opacity="0.8"/><circle cx="390.35" cy="626.84" r="0.56" fill-opacity="0.35"/><circle cx="370.04" cy="638.5" r="0.32" fill-opacity="0.8"/><circle cx="401.06" cy="617.12" r="0.32" fill-opacity="0.8" fill="#94504a"/><circle cx="369.19" cy="624.41" r="0.32" fill-opacity="0.8" fill="#94504a"/><circle cx="393.15" cy="604.04" r="0.4" fill-opacity="0.5"/><circle cx="392.78" cy="604.53" r="0.32" fill-opacity="0.35"/><circle cx="374.97" cy="616.29" r="0.32" fill-opacity="0.65"/><circle cx="387.98" cy="631.49" r="0.56" fill-opacity="0.5" fill="#94504a"/><circle cx="367.21" cy="600.82" r="0.66" fill-opacity="0.8"/><circle cx="375.65" cy="618.6" r="0.4" fill-opacity="0.65" fill="#94504a"/><circle cx="377.14" cy="627.52" r="0.48" fill-opacity="0.5"/><circle cx="378.64" cy="629.19" r="0.48" fill-opacity="0.35"/><circle cx="388.88" cy="634.44" r="0.4" fill-opacity="0.65"/><circle cx="386.59" cy="620.25" r="0.32" fill-opacity="0.8" fill="#94504a"/><circle cx="380.28" cy="630.59" r="0.4" fill-opacity="0.35"/><circle cx="376.87" cy="610.46" r="0.66" fill-opacity="0.35"/><circle cx="390.33" cy="619.26" r="0.4" fill-opacity="0.65"/><circle cx="370.43" cy="639.84" r="0.48" fill-opacity="0.8"/><circle cx="375.34" cy="601.83" r="0.48" fill-opacity="0.65" fill="#94504a"/><circle cx="370.75" cy="636.28" r="0.4" fill-opacity="0.65"/><circle cx="358.81" cy="606.05" r="0.66" fill-opacity="0.35"/><circle cx="372.71" cy="632.56" r="0.56" fill-opacity="0.35"/><circle cx="396.31" cy="630.51" r="0.32" fill-opacity="0.8"/><circle cx="364.25" cy="632.32" r="0.32" fill-opacity="0.35"/><circle cx="370.4" cy="623.34" r="0.4" fill-opacity="0.8" fill="#94504a"/><circle cx="372.4" cy="618.25" r="0.32" fill-opacity="0.65" fill="#94504a"/><circle cx="372.06" cy="639.9" r="0.66" fill-opacity="0.65"/><circle cx="397.41" cy="610.69" r="0.4" fill-opacity="0.5"/><circle cx="376.01" cy="642.57" r="0.4" fill-opacity="0.65" fill="#94504a"/><circle cx="385.15" cy="610.99" r="0.32" fill-opacity="0.35"/><circle cx="379.11" cy="608.4" r="0.4" fill-opacity="0.65"/><circle cx="389.33" cy="606.05" r="0.32" fill-opacity="0.5"/><circle cx="355.84" cy="616.6" r="0.4" fill-opacity="0.8" fill="#94504a"/><circle cx="376.15" cy="609.32" r="0.4" fill-opacity="0.5"/><circle cx="380.6" cy="620.03" r="0.66" fill-opacity="0.8" fill="#94504a"/><circle cx="390.32" cy="633.59" r="0.56" fill-opacity="0.35" fill="#94504a"/><circle cx="381.43" cy="635.26" r="0.4" fill-opacity="0.8"/><circle cx="391.55" cy="621.42" r="0.48" fill-opacity="0.65"/><circle cx="360.86" cy="629.18" r="0.66" fill-opacity="0.5" fill="#94504a"/><circle cx="381.63" cy="597.21" r="0.4" fill-opacity="0.5" fill="#94504a"/><circle cx="389.94" cy="604.04" r="0.4" fill-opacity="0.65"/><circle cx="387.24" cy="614.8" r="0.56" fill-opacity="0.65" fill="#94504a"/><circle cx="379.68" cy="634.34" r="0.48" fill-opacity="0.35"/><circle cx="368.89" cy="636.28" r="0.48" fill-opacity="0.65"/><circle cx="381.65" cy="612.27" r="0.56" fill-opacity="0.5"/><circle cx="382.17" cy="608.85" r="0.4" fill-opacity="0.8"/><circle cx="366.52" cy="639.88" r="0.4" fill-opacity="0.65"/><circle cx="365.99" cy="603.91" r="0.48" fill-opacity="0.8"/><circle cx="383.91" cy="624.55" r="0.56" fill-opacity="0.35"/><circle cx="381.47" cy="631.06" r="0.66" fill-opacity="0.35"/><circle cx="373.35" cy="610.37" r="0.56" fill-opacity="0.5" fill="#94504a"/><circle cx="394.04" cy="615.18" r="0.48" fill-opacity="0.8"/><circle cx="369.32" cy="638.19" r="0.66" fill-opacity="0.5" fill="#94504a"/><circle cx="391.98" cy="620.57" r="0.66" fill-opacity="0.35"/><circle cx="391.35" cy="636.09" r="0.48" fill-opacity="0.8" fill="#94504a"/><circle cx="375.94" cy="596.27" r="0.66" fill-opacity="0.8"/><circle cx="384.88" cy="601.73" r="0.4" fill-opacity="0.8"/><circle cx="382.47" cy="631.06" r="0.4" fill-opacity="0.35"/><circle cx="356.65" cy="629.09" r="0.4" fill-opacity="0.65" fill="#94504a"/><circle cx="368.54" cy="629.15" r="0.66" fill-opacity="0.65"/><circle cx="386.07" cy="636.57" r="0.48" fill-opacity="0.5"/></g>
<rect x="404.8" y="592.3" width="52.7" height="54.2" fill="#d8c7ab"/>
<circle cx="408.25" cy="608.88" r="0.87" fill="#000" fill-opacity="0.06"/><circle cx="408.62" cy="623.24" r="1.03" fill="#fff" fill-opacity="0.06"/><circle cx="421.88" cy="612.36" r="0.92" fill="#fff" fill-opacity="0.06"/><circle cx="445.39" cy="638.47" r="0.63" fill="#fff" fill-opacity="0.06"/><circle cx="419.26" cy="612.59" r="0.62" fill="#000" fill-opacity="0.06"/><circle cx="433.43" cy="645.17" r="1.27" fill="#fff" fill-opacity="0.06"/><circle cx="446.42" cy="618.48" r="0.62" fill="#fff" fill-opacity="0.06"/><circle cx="449.21" cy="604.63" r="1.18" fill="#fff" fill-opacity="0.06"/><circle cx="406.97" cy="621.9" r="0.79" fill="#fff" fill-opacity="0.06"/><circle cx="416.13" cy="621.08" r="0.96" fill="#000" fill-opacity="0.06"/><circle cx="431.76" cy="628.48" r="0.93" fill="#000" fill-opacity="0.06"/><circle cx="430.7" cy="616.19" r="0.83" fill="#000" fill-opacity="0.06"/><circle cx="430.58" cy="633.72" r="1.16" fill="#000" fill-opacity="0.06"/><circle cx="407.93" cy="609.13" r="1.59" fill="#fff" fill-opacity="0.06"/><circle cx="448.65" cy="641.92" r="0.66" fill="#000" fill-opacity="0.06"/><circle cx="423.6" cy="632.79" r="0.99" fill="#fff" fill-opacity="0.06"/><circle cx="454.49" cy="639.92" r="0.88" fill="#000" fill-opacity="0.06"/><circle cx="407.32" cy="636.27" r="0.83" fill="#fff" fill-opacity="0.06"/><circle cx="414.66" cy="625.68" r="1.31" fill="#000" fill-opacity="0.06"/><circle cx="423.42" cy="644.44" r="0.99" fill="#fff" fill-opacity="0.06"/><circle cx="445.89" cy="625.79" r="0.86" fill="#fff" fill-opacity="0.06"/><circle cx="433.72" cy="627.27" r="1.34" fill="#fff" fill-opacity="0.06"/><circle cx="431.63" cy="598.48" r="1.04" fill="#fff" fill-opacity="0.06"/><circle cx="456.9" cy="604.61" r="1.59" fill="#fff" fill-opacity="0.06"/><circle cx="453.77" cy="625.37" r="0.71" fill="#fff" fill-opacity="0.06"/><circle cx="414.09" cy="618.01" r="0.82" fill="#000" fill-opacity="0.06"/><circle cx="444.3" cy="644.4" r="1.03" fill="#fff" fill-opacity="0.06"/><circle cx="411.88" cy="593.85" r="1.5" fill="#fff" fill-opacity="0.06"/><circle cx="453.63" cy="600.37" r="0.96" fill="#fff" fill-opacity="0.06"/><circle cx="407.78" cy="638.29" r="1.31" fill="#fff" fill-opacity="0.06"/><circle cx="424.61" cy="616.95" r="1.44" fill="#000" fill-opacity="0.06"/><circle cx="446.48" cy="624.08" r="1.23" fill="#000" fill-opacity="0.06"/><circle cx="408.78" cy="606.98" r="0.92" fill="#000" fill-opacity="0.06"/><circle cx="447.75" cy="620.46" r="0.86" fill="#fff" fill-opacity="0.06"/><circle cx="449.56" cy="614.79" r="0.92" fill="#fff" fill-opacity="0.06"/><circle cx="433.47" cy="629.7" r="1.1" fill="#fff" fill-opacity="0.06"/><circle cx="431.31" cy="614.4" r="1.12" fill="#000" fill-opacity="0.06"/><circle cx="444.83" cy="601.56" r="1.44" fill="#fff" fill-opacity="0.06"/><circle cx="413.32" cy="605.72" r="1.1" fill="#fff" fill-opacity="0.06"/><circle cx="425.05" cy="611.71" r="1.21" fill="#000" fill-opacity="0.06"/><circle cx="419.56" cy="626.87" r="0.6" fill="#000" fill-opacity="0.06"/><circle cx="427.97" cy="630.36" r="1.57" fill="#000" fill-opacity="0.06"/><circle cx="405.69" cy="620.15" r="0.64" fill="#000" fill-opacity="0.06"/><circle cx="409.47" cy="643.82" r="1.47" fill="#fff" fill-opacity="0.06"/><circle cx="435.56" cy="620.88" r="1.05" fill="#fff" fill-opacity="0.06"/><circle cx="428.24" cy="593.71" r="1.27" fill="#fff" fill-opacity="0.06"/><circle cx="411.97" cy="623.7" r="0.98" fill="#000" fill-opacity="0.06"/><circle cx="424.11" cy="621.06" r="1.43" fill="#000" fill-opacity="0.06"/><circle cx="442.98" cy="592.68" r="1.6" fill="#fff" fill-opacity="0.06"/><circle cx="410.36" cy="643.59" r="1.22" fill="#000" fill-opacity="0.06"/><circle cx="454.41" cy="606.62" r="0.81" fill="#fff" fill-opacity="0.06"/><circle cx="456.18" cy="602.22" r="0.69" fill="#fff" fill-opacity="0.06"/><circle cx="412.85" cy="646.27" r="1.04" fill="#000" fill-opacity="0.06"/><circle cx="454.62" cy="607.93" r="0.82" fill="#fff" fill-opacity="0.06"/><circle cx="440.05" cy="640.68" r="0.76" fill="#000" fill-opacity="0.06"/><circle cx="450.25" cy="640.78" r="0.99" fill="#000" fill-opacity="0.06"/><circle cx="405.03" cy="609.85" r="0.79" fill="#fff" fill-opacity="0.06"/><circle cx="437.94" cy="600.99" r="1.55" fill="#fff" fill-opacity="0.06"/><circle cx="448.81" cy="634.17" r="0.97" fill="#fff" fill-opacity="0.06"/><circle cx="431.68" cy="616.81" r="1.59" fill="#000" fill-opacity="0.06"/>
<circle cx="431.45" cy="619.6" r="25.75" fill="#e4d8c3" stroke="#ebeae4" stroke-width="1.5"/>
<circle cx="447.68" cy="613.91" r="0.84" fill="#ffffff" fill-opacity="0.18"/><circle cx="437.86" cy="634.04" r="1.13" fill="#b09070" fill-opacity="0.18"/><circle cx="416.72" cy="606.41" r="0.98" fill="#ffffff" fill-opacity="0.18"/><circle cx="440.61" cy="601.54" r="1.16" fill="#b09070" fill-opacity="0.18"/><circle cx="451.62" cy="608.44" r="0.76" fill="#b09070" fill-opacity="0.18"/><circle cx="450.57" cy="632.01" r="0.65" fill="#ffffff" fill-opacity="0.18"/><circle cx="414.34" cy="611.69" r="0.76" fill="#b09070" fill-opacity="0.18"/><circle cx="435.05" cy="624.54" r="0.74" fill="#b09070" fill-opacity="0.18"/><circle cx="435.44" cy="642.47" r="0.73" fill="#b09070" fill-opacity="0.18"/><circle cx="420.89" cy="620.5" r="0.95" fill="#b09070" fill-opacity="0.18"/><circle cx="419.13" cy="638.87" r="1.14" fill="#ffffff" fill-opacity="0.18"/><circle cx="420.53" cy="627.62" r="1.09" fill="#b09070" fill-opacity="0.18"/><circle cx="436.95" cy="600.09" r="0.81" fill="#b09070" fill-opacity="0.18"/><circle cx="422.54" cy="609.28" r="1.03" fill="#ffffff" fill-opacity="0.18"/><circle cx="432.45" cy="608.48" r="0.93" fill="#b09070" fill-opacity="0.18"/><circle cx="418.01" cy="634.66" r="0.91" fill="#b09070" fill-opacity="0.18"/><circle cx="433.48" cy="639.41" r="1.1" fill="#ffffff" fill-opacity="0.18"/><circle cx="408.41" cy="615.56" r="0.95" fill="#b09070" fill-opacity="0.18"/><circle cx="419.86" cy="601.64" r="1.09" fill="#b09070" fill-opacity="0.18"/><circle cx="421.54" cy="605.77" r="0.91" fill="#b09070" fill-opacity="0.18"/><circle cx="452.71" cy="629.42" r="1.16" fill="#b09070" fill-opacity="0.18"/><circle cx="413.51" cy="619.4" r="0.89" fill="#b09070" fill-opacity="0.18"/><circle cx="445.57" cy="623.77" r="0.88" fill="#b09070" fill-opacity="0.18"/><circle cx="424.07" cy="634.99" r="0.58" fill="#b09070" fill-opacity="0.18"/><circle cx="429.19" cy="616.48" r="0.59" fill="#ffffff" fill-opacity="0.18"/><circle cx="437.87" cy="636.99" r="0.76" fill="#ffffff" fill-opacity="0.18"/><circle cx="434.29" cy="624.01" r="0.78" fill="#b09070" fill-opacity="0.18"/><circle cx="445.02" cy="615.19" r="1.26" fill="#b09070" fill-opacity="0.18"/><circle cx="448.42" cy="624.69" r="0.62" fill="#b09070" fill-opacity="0.18"/><circle cx="410.46" cy="611.88" r="0.7" fill="#b09070" fill-opacity="0.18"/><circle cx="449.94" cy="613.23" r="0.62" fill="#b09070" fill-opacity="0.18"/><circle cx="422.82" cy="609.46" r="0.79" fill="#b09070" fill-opacity="0.18"/><circle cx="424.5" cy="609.45" r="0.9" fill="#b09070" fill-opacity="0.18"/><circle cx="453.11" cy="619.53" r="0.78" fill="#b09070" fill-opacity="0.18"/><circle cx="422.29" cy="625.7" r="1.27" fill="#ffffff" fill-opacity="0.18"/><circle cx="426.73" cy="610.58" r="1.05" fill="#b09070" fill-opacity="0.18"/><circle cx="433.86" cy="610.24" r="1.15" fill="#ffffff" fill-opacity="0.18"/><circle cx="437.35" cy="606.89" r="1.17" fill="#b09070" fill-opacity="0.18"/><circle cx="442.58" cy="607.1" r="0.74" fill="#b09070" fill-opacity="0.18"/><circle cx="433.38" cy="598.17" r="0.93" fill="#b09070" fill-opacity="0.18"/><circle cx="420.49" cy="612.92" r="0.74" fill="#ffffff" fill-opacity="0.18"/><circle cx="436.44" cy="640.26" r="0.87" fill="#b09070" fill-opacity="0.18"/><circle cx="418.25" cy="632.09" r="0.67" fill="#b09070" fill-opacity="0.18"/><circle cx="425.46" cy="604.14" r="0.99" fill="#b09070" fill-opacity="0.18"/><circle cx="422.25" cy="611.55" r="1.16" fill="#ffffff" fill-opacity="0.18"/><circle cx="433.86" cy="617.36" r="0.91" fill="#b09070" fill-opacity="0.18"/><circle cx="435.53" cy="597.56" r="1.21" fill="#b09070" fill-opacity="0.18"/><circle cx="423.93" cy="629.87" r="1.06" fill="#b09070" fill-opacity="0.18"/><circle cx="414.34" cy="635.11" r="0.79" fill="#b09070" fill-opacity="0.18"/><circle cx="449.17" cy="628.65" r="0.51" fill="#b09070" fill-opacity="0.18"/><circle cx="411.62" cy="631.65" r="0.67" fill="#ffffff" fill-opacity="0.18"/><circle cx="431.71" cy="602.12" r="0.57" fill="#ffffff" fill-opacity="0.18"/><circle cx="452.83" cy="627.27" r="0.68" fill="#ffffff" fill-opacity="0.18"/><circle cx="432.76" cy="598.55" r="1.29" fill="#ffffff" fill-opacity="0.18"/><circle cx="427.62" cy="604.75" r="0.69" fill="#ffffff" fill-opacity="0.18"/><circle cx="434.88" cy="633.7" r="0.74" fill="#ffffff" fill-opacity="0.18"/><circle cx="429.3" cy="601.73" r="0.89" fill="#b09070" fill-opacity="0.18"/><circle cx="438.14" cy="615.75" r="1.21" fill="#b09070" fill-opacity="0.18"/><circle cx="420.02" cy="633.99" r="0.9" fill="#b09070" fill-opacity="0.18"/><circle cx="413.07" cy="633.11" r="1.27" fill="#ffffff" fill-opacity="0.18"/><circle cx="431.04" cy="619.09" r="0.57" fill="#ffffff" fill-opacity="0.18"/><circle cx="448.92" cy="605.76" r="0.9" fill="#ffffff" fill-opacity="0.18"/><circle cx="423.58" cy="618.6" r="1.08" fill="#ffffff" fill-opacity="0.18"/><circle cx="432.44" cy="619.52" r="1.11" fill="#ffffff" fill-opacity="0.18"/><circle cx="411.84" cy="619.17" r="1.26" fill="#b09070" fill-opacity="0.18"/><circle cx="424.71" cy="629.69" r="0.53" fill="#b09070" fill-opacity="0.18"/><circle cx="432.75" cy="598.32" r="0.72" fill="#b09070" fill-opacity="0.18"/><circle cx="454.03" cy="621.8" r="0.94" fill="#ffffff" fill-opacity="0.18"/><circle cx="422.8" cy="621.42" r="0.81" fill="#ffffff" fill-opacity="0.18"/><circle cx="435.23" cy="607.59" r="0.94" fill="#ffffff" fill-opacity="0.18"/><circle cx="445.92" cy="614.43" r="0.7" fill="#ffffff" fill-opacity="0.18"/><circle cx="427.99" cy="610.92" r="1.24" fill="#ffffff" fill-opacity="0.18"/><circle cx="441.04" cy="616.98" r="0.89" fill="#ffffff" fill-opacity="0.18"/><circle cx="443.84" cy="616" r="1.22" fill="#b09070" fill-opacity="0.18"/><circle cx="424.47" cy="629.84" r="1.14" fill="#b09070" fill-opacity="0.18"/><circle cx="422.8" cy="617.95" r="1.24" fill="#b09070" fill-opacity="0.18"/><circle cx="421.09" cy="629.48" r="0.74" fill="#ffffff" fill-opacity="0.18"/><circle cx="425.96" cy="614.23" r="1.28" fill="#b09070" fill-opacity="0.18"/><circle cx="422.99" cy="626.15" r="0.77" fill="#ffffff" fill-opacity="0.18"/><circle cx="408.57" cy="617.95" r="1.03" fill="#ffffff" fill-opacity="0.18"/><circle cx="428.01" cy="606.19" r="0.6" fill="#b09070" fill-opacity="0.18"/><circle cx="427.89" cy="613.38" r="0.7" fill="#b09070" fill-opacity="0.18"/><circle cx="411.58" cy="614.07" r="0.94" fill="#ffffff" fill-opacity="0.18"/><circle cx="433.3" cy="618.76" r="1.13" fill="#ffffff" fill-opacity="0.18"/><circle cx="418.01" cy="625.57" r="1.28" fill="#ffffff" fill-opacity="0.18"/><circle cx="422.88" cy="599.56" r="0.85" fill="#b09070" fill-opacity="0.18"/><circle cx="421.9" cy="622.8" r="1.02" fill="#b09070" fill-opacity="0.18"/><circle cx="451.95" cy="627.67" r="0.75" fill="#b09070" fill-opacity="0.18"/><circle cx="441.23" cy="640.81" r="1.17" fill="#ffffff" fill-opacity="0.18"/><circle cx="416.21" cy="614.63" r="1.29" fill="#ffffff" fill-opacity="0.18"/><circle cx="434.65" cy="639.2" r="0.79" fill="#b09070" fill-opacity="0.18"/><circle cx="434.76" cy="629.09" r="1.29" fill="#ffffff" fill-opacity="0.18"/><circle cx="444.68" cy="612.94" r="0.63" fill="#ffffff" fill-opacity="0.18"/><circle cx="411.46" cy="626.58" r="0.86" fill="#b09070" fill-opacity="0.18"/><circle cx="434.39" cy="606.74" r="1.23" fill="#b09070" fill-opacity="0.18"/><circle cx="412.4" cy="619.78" r="0.83" fill="#b09070" fill-opacity="0.18"/><circle cx="444.04" cy="628.78" r="1.19" fill="#b09070" fill-opacity="0.18"/><circle cx="435.2" cy="621.77" r="0.59" fill="#ffffff" fill-opacity="0.18"/><circle cx="421.82" cy="636.42" r="0.84" fill="#b09070" fill-opacity="0.18"/><circle cx="437.54" cy="601.71" r="1.21" fill="#b09070" fill-opacity="0.18"/><circle cx="416.11" cy="615" r="1.17" fill="#b09070" fill-opacity="0.18"/><circle cx="415.17" cy="619.11" r="0.5" fill="#b09070" fill-opacity="0.18"/><circle cx="430.07" cy="595.95" r="1.16" fill="#ffffff" fill-opacity="0.18"/><circle cx="437.29" cy="631.52" r="1.13" fill="#b09070" fill-opacity="0.18"/><circle cx="437.36" cy="636.7" r="0.96" fill="#ffffff" fill-opacity="0.18"/><circle cx="440.09" cy="622.82" r="1.23" fill="#ffffff" fill-opacity="0.18"/><circle cx="422.64" cy="609.24" r="1.04" fill="#ffffff" fill-opacity="0.18"/><circle cx="422.31" cy="620.81" r="0.85" fill="#ffffff" fill-opacity="0.18"/><circle cx="452.78" cy="626.05" r="0.94" fill="#b09070" fill-opacity="0.18"/><circle cx="446.69" cy="622.78" r="0.68" fill="#b09070" fill-opacity="0.18"/><circle cx="412.21" cy="618.22" r="0.83" fill="#ffffff" fill-opacity="0.18"/><circle cx="414.84" cy="613.01" r="0.77" fill="#b09070" fill-opacity="0.18"/><circle cx="441.86" cy="608.63" r="1" fill="#ffffff" fill-opacity="0.18"/><circle cx="415.49" cy="617.46" r="0.55" fill="#ffffff" fill-opacity="0.18"/><circle cx="431.27" cy="615.03" r="1.16" fill="#ffffff" fill-opacity="0.18"/><circle cx="435.18" cy="623.11" r="0.96" fill="#b09070" fill-opacity="0.18"/><circle cx="434.18" cy="635.72" r="1.26" fill="#b09070" fill-opacity="0.18"/><circle cx="433.71" cy="606.03" r="0.53" fill="#b09070" fill-opacity="0.18"/><circle cx="419.56" cy="625.28" r="0.79" fill="#ffffff" fill-opacity="0.18"/><circle cx="413.37" cy="626.64" r="1.17" fill="#ffffff" fill-opacity="0.18"/><circle cx="418.34" cy="620.07" r="0.78" fill="#b09070" fill-opacity="0.18"/><circle cx="411.36" cy="628.1" r="0.53" fill="#ffffff" fill-opacity="0.18"/><circle cx="414.18" cy="617.43" r="1.24" fill="#ffffff" fill-opacity="0.18"/><circle cx="431.15" cy="602.5" r="1.15" fill="#b09070" fill-opacity="0.18"/><circle cx="445.99" cy="608.2" r="0.92" fill="#b09070" fill-opacity="0.18"/><circle cx="444.53" cy="620.62" r="0.8" fill="#ffffff" fill-opacity="0.18"/><circle cx="437.66" cy="597.64" r="0.66" fill="#b09070" fill-opacity="0.18"/><circle cx="443.73" cy="611.19" r="0.87" fill="#ffffff" fill-opacity="0.18"/><circle cx="438.24" cy="628.52" r="0.65" fill="#b09070" fill-opacity="0.18"/><circle cx="421.82" cy="617.68" r="0.52" fill="#ffffff" fill-opacity="0.18"/><circle cx="436.35" cy="616.18" r="0.94" fill="#b09070" fill-opacity="0.18"/><circle cx="415.09" cy="622.89" r="0.54" fill="#ffffff" fill-opacity="0.18"/><circle cx="434.72" cy="626.93" r="1.13" fill="#b09070" fill-opacity="0.18"/><circle cx="452.54" cy="613.86" r="1" fill="#ffffff" fill-opacity="0.18"/><circle cx="411.55" cy="628.56" r="0.52" fill="#b09070" fill-opacity="0.18"/><circle cx="446.43" cy="615.29" r="1.06" fill="#ffffff" fill-opacity="0.18"/><circle cx="425.05" cy="634.37" r="1.22" fill="#ffffff" fill-opacity="0.18"/><circle cx="436.23" cy="619.31" r="0.71" fill="#b09070" fill-opacity="0.18"/><circle cx="416.59" cy="629.26" r="0.89" fill="#ffffff" fill-opacity="0.18"/><circle cx="448.66" cy="606.2" r="1.11" fill="#b09070" fill-opacity="0.18"/><circle cx="438.25" cy="630.74" r="1.2" fill="#b09070" fill-opacity="0.18"/><circle cx="446.04" cy="610.19" r="0.67" fill="#b09070" fill-opacity="0.18"/><circle cx="432.6" cy="611.09" r="0.64" fill="#ffffff" fill-opacity="0.18"/><circle cx="432.74" cy="619.28" r="1.24" fill="#ffffff" fill-opacity="0.18"/><circle cx="443.86" cy="639.05" r="0.83" fill="#b09070" fill-opacity="0.18"/><circle cx="432.3" cy="611.96" r="0.72" fill="#b09070" fill-opacity="0.18"/><circle cx="451.86" cy="615.26" r="0.52" fill="#b09070" fill-opacity="0.18"/><circle cx="415.73" cy="631.45" r="0.59" fill="#ffffff" fill-opacity="0.18"/><circle cx="431.62" cy="601.41" r="1.17" fill="#b09070" fill-opacity="0.18"/><circle cx="427.82" cy="612.21" r="0.75" fill="#ffffff" fill-opacity="0.18"/><circle cx="442.3" cy="614.68" r="0.6" fill="#b09070" fill-opacity="0.18"/><circle cx="415.3" cy="630.14" r="1.21" fill="#b09070" fill-opacity="0.18"/><circle cx="447.38" cy="635.95" r="0.9" fill="#ffffff" fill-opacity="0.18"/><circle cx="440.91" cy="605.68" r="1.17" fill="#ffffff" fill-opacity="0.18"/><circle cx="446.31" cy="637.32" r="0.69" fill="#ffffff" fill-opacity="0.18"/><circle cx="433.05" cy="604.9" r="0.94" fill="#ffffff" fill-opacity="0.18"/><circle cx="429.7" cy="605.01" r="0.54" fill="#ffffff" fill-opacity="0.18"/><circle cx="416.67" cy="611.71" r="0.57" fill="#b09070" fill-opacity="0.18"/><circle cx="436.26" cy="624.82" r="0.74" fill="#b09070" fill-opacity="0.18"/><circle cx="441.2" cy="602.47" r="1.17" fill="#b09070" fill-opacity="0.18"/><circle cx="432.47" cy="621.81" r="0.68" fill="#ffffff" fill-opacity="0.18"/><circle cx="417.8" cy="635.26" r="1.26" fill="#ffffff" fill-opacity="0.18"/><circle cx="434.86" cy="610.29" r="0.97" fill="#b09070" fill-opacity="0.18"/><circle cx="427.05" cy="629.63" r="0.9" fill="#ffffff" fill-opacity="0.18"/><circle cx="431.65" cy="615.87" r="1.14" fill="#ffffff" fill-opacity="0.18"/><circle cx="452.99" cy="610.97" r="0.7" fill="#b09070" fill-opacity="0.18"/><circle cx="417.59" cy="605.66" r="1.16" fill="#ffffff" fill-opacity="0.18"/><circle cx="449.01" cy="635.38" r="1.22" fill="#ffffff" fill-opacity="0.18"/><circle cx="447.25" cy="612.06" r="0.79" fill="#ffffff" fill-opacity="0.18"/><circle cx="414.93" cy="619.47" r="0.86" fill="#ffffff" fill-opacity="0.18"/><circle cx="448.74" cy="632.89" r="1.01" fill="#b09070" fill-opacity="0.18"/><circle cx="416.49" cy="615.06" r="0.54" fill="#ffffff" fill-opacity="0.18"/><circle cx="419.43" cy="629.79" r="0.69" fill="#ffffff" fill-opacity="0.18"/><circle cx="420.21" cy="640.31" r="0.7" fill="#b09070" fill-opacity="0.18"/><circle cx="441.07" cy="624" r="1.28" fill="#b09070" fill-opacity="0.18"/><circle cx="443.89" cy="633.44" r="0.63" fill="#ffffff" fill-opacity="0.18"/><circle cx="422.74" cy="612.07" r="0.73" fill="#ffffff" fill-opacity="0.18"/><circle cx="438.56" cy="608.04" r="0.75" fill="#ffffff" fill-opacity="0.18"/><circle cx="431.94" cy="613.33" r="1.26" fill="#b09070" fill-opacity="0.18"/><circle cx="433.79" cy="605.07" r="0.95" fill="#b09070" fill-opacity="0.18"/><circle cx="413.3" cy="623.79" r="1.13" fill="#b09070" fill-opacity="0.18"/><circle cx="419.66" cy="609.94" r="0.77" fill="#b09070" fill-opacity="0.18"/><circle cx="417.81" cy="630.92" r="0.97" fill="#ffffff" fill-opacity="0.18"/><circle cx="429.66" cy="629.77" r="1.05" fill="#ffffff" fill-opacity="0.18"/><circle cx="424.14" cy="602.89" r="1" fill="#b09070" fill-opacity="0.18"/><circle cx="421.69" cy="639.44" r="0.5" fill="#b09070" fill-opacity="0.18"/><circle cx="436.92" cy="606.54" r="1.11" fill="#b09070" fill-opacity="0.18"/><circle cx="427.64" cy="618.85" r="1.18" fill="#ffffff" fill-opacity="0.18"/><circle cx="409.58" cy="612.19" r="0.57" fill="#b09070" fill-opacity="0.18"/><circle cx="409.52" cy="627.03" r="1.25" fill="#b09070" fill-opacity="0.18"/><circle cx="423.56" cy="624.4" r="1.11" fill="#b09070" fill-opacity="0.18"/><circle cx="431.3" cy="639.44" r="0.93" fill="#ffffff" fill-opacity="0.18"/><circle cx="436.43" cy="605.18" r="1.04" fill="#b09070" fill-opacity="0.18"/><circle cx="445.86" cy="606.42" r="0.94" fill="#b09070" fill-opacity="0.18"/>
<g fill="#4e3028"><circle cx="414.59" cy="616.61" r="0.32" fill-opacity="0.65"/><circle cx="419.82" cy="603.93" r="0.48" fill-opacity="0.65"/><circle cx="449" cy="620.2" r="0.66" fill-opacity="0.5"/><circle cx="430.82" cy="640.92" r="0.4" fill-opacity="0.5" fill="#94504a"/><circle cx="412.1" cy="618.63" r="0.48" fill-opacity="0.65" fill="#94504a"/><circle cx="418.09" cy="605.7" r="0.32" fill-opacity="0.5"/><circle cx="443.1" cy="600.56" r="0.56" fill-opacity="0.35"/><circle cx="439.1" cy="641.8" r="0.4" fill-opacity="0.35"/><circle cx="415.82" cy="627.88" r="0.56" fill-opacity="0.5" fill="#94504a"/><circle cx="437.61" cy="636.9" r="0.56" fill-opacity="0.35" fill="#94504a"/><circle cx="420.54" cy="620.77" r="0.48" fill-opacity="0.35"/><circle cx="427.68" cy="630.43" r="0.4" fill-opacity="0.5" fill="#94504a"/><circle cx="415.72" cy="606.46" r="0.56" fill-opacity="0.35"/><circle cx="420.26" cy="610.93" r="0.4" fill-opacity="0.8"/><circle cx="425.45" cy="641.47" r="0.66" fill-opacity="0.5"/><circle cx="412.45" cy="615.06" r="0.56" fill-opacity="0.35" fill="#94504a"/><circle cx="420.94" cy="637.2" r="0.48" fill-opacity="0.5"/><circle cx="448.94" cy="635.58" r="0.48" fill-opacity="0.5"/><circle cx="413.12" cy="628.5" r="0.4" fill-opacity="0.8"/><circle cx="429.67" cy="597.61" r="0.32" fill-opacity="0.8"/><circle cx="435.81" cy="619.95" r="0.66" fill-opacity="0.35"/><circle cx="447.24" cy="629.46" r="0.48" fill-opacity="0.8" fill="#94504a"/><circle cx="420.16" cy="620.24" r="0.4" fill-opacity="0.35"/><circle cx="446.95" cy="607.75" r="0.32" fill-opacity="0.5" fill="#94504a"/><circle cx="440.38" cy="637" r="0.4" fill-opacity="0.65" fill="#94504a"/><circle cx="426.97" cy="634.99" r="0.32" fill-opacity="0.5"/><circle cx="422.72" cy="603.5" r="0.48" fill-opacity="0.5"/><circle cx="408.59" cy="613.77" r="0.66" fill-opacity="0.5"/><circle cx="439.18" cy="618.51" r="0.66" fill-opacity="0.35"/><circle cx="426.64" cy="635.61" r="0.56" fill-opacity="0.5"/><circle cx="412.46" cy="618.14" r="0.32" fill-opacity="0.65"/><circle cx="417.86" cy="625.34" r="0.48" fill-opacity="0.65"/><circle cx="440.87" cy="620.45" r="0.66" fill-opacity="0.65"/><circle cx="431.85" cy="621.39" r="0.4" fill-opacity="0.65" fill="#94504a"/><circle cx="435.98" cy="616.09" r="0.56" fill-opacity="0.65"/><circle cx="442.53" cy="635.07" r="0.32" fill-opacity="0.5" fill="#94504a"/><circle cx="426.66" cy="638" r="0.32" fill-opacity="0.8" fill="#94504a"/><circle cx="419.77" cy="620.5" r="0.48" fill-opacity="0.8"/><circle cx="451.37" cy="607.3" r="0.56" fill-opacity="0.5"/><circle cx="440.95" cy="609.84" r="0.48" fill-opacity="0.8"/><circle cx="430.37" cy="608.02" r="0.66" fill-opacity="0.35"/><circle cx="431.28" cy="636.8" r="0.4" fill-opacity="0.8"/><circle cx="449.41" cy="631.59" r="0.56" fill-opacity="0.65"/><circle cx="440.04" cy="638.77" r="0.66" fill-opacity="0.65"/><circle cx="443.01" cy="598.95" r="0.32" fill-opacity="0.65"/><circle cx="414.45" cy="611.97" r="0.66" fill-opacity="0.8"/><circle cx="447.68" cy="627.12" r="0.4" fill-opacity="0.35"/><circle cx="432.83" cy="630.06" r="0.48" fill-opacity="0.5"/><circle cx="453.72" cy="623.07" r="0.66" fill-opacity="0.35"/><circle cx="453.86" cy="626.31" r="0.48" fill-opacity="0.5"/><circle cx="438.05" cy="638.01" r="0.48" fill-opacity="0.35"/><circle cx="430.68" cy="608.71" r="0.66" fill-opacity="0.8"/><circle cx="435.66" cy="601.04" r="0.4" fill-opacity="0.65"/><circle cx="434" cy="600.49" r="0.32" fill-opacity="0.35" fill="#94504a"/><circle cx="447.88" cy="625.38" r="0.56" fill-opacity="0.5"/><circle cx="446.45" cy="634.09" r="0.32" fill-opacity="0.65"/><circle cx="433.5" cy="623.56" r="0.4" fill-opacity="0.8" fill="#94504a"/><circle cx="426.97" cy="621.53" r="0.32" fill-opacity="0.8" fill="#94504a"/><circle cx="435.28" cy="608.27" r="0.48" fill-opacity="0.35"/><circle cx="418.08" cy="604.83" r="0.66" fill-opacity="0.35" fill="#94504a"/><circle cx="444.36" cy="636.02" r="0.4" fill-opacity="0.8" fill="#94504a"/><circle cx="445.68" cy="604.21" r="0.56" fill-opacity="0.35"/><circle cx="429.1" cy="598.35" r="0.4" fill-opacity="0.5"/><circle cx="436.33" cy="642.83" r="0.56" fill-opacity="0.8"/><circle cx="432.75" cy="601.74" r="0.32" fill-opacity="0.65" fill="#94504a"/><circle cx="432.99" cy="628.92" r="0.48" fill-opacity="0.8"/><circle cx="434.06" cy="643.16" r="0.48" fill-opacity="0.5" fill="#94504a"/><circle cx="452.72" cy="626.46" r="0.56" fill-opacity="0.65" fill="#94504a"/><circle cx="448.3" cy="635.73" r="0.66" fill-opacity="0.65"/><circle cx="452.4" cy="620.33" r="0.4" fill-opacity="0.8"/><circle cx="446.03" cy="633.24" r="0.48" fill-opacity="0.5" fill="#94504a"/><circle cx="418.02" cy="603.05" r="0.48" fill-opacity="0.8"/><circle cx="419.51" cy="616.86" r="0.32" fill-opacity="0.5" fill="#94504a"/><circle cx="448.16" cy="609.51" r="0.48" fill-opacity="0.65"/><circle cx="448.15" cy="611.14" r="0.32" fill-opacity="0.35"/><circle cx="421.37" cy="619.7" r="0.48" fill-opacity="0.35"/><circle cx="443.22" cy="639.64" r="0.4" fill-opacity="0.5"/><circle cx="424.57" cy="633.3" r="0.56" fill-opacity="0.35"/><circle cx="447.78" cy="623.62" r="0.48" fill-opacity="0.65"/><circle cx="431.89" cy="600.11" r="0.32" fill-opacity="0.5"/><circle cx="435.56" cy="601.9" r="0.48" fill-opacity="0.5"/><circle cx="414.5" cy="629.98" r="0.32" fill-opacity="0.8"/><circle cx="442.72" cy="639.25" r="0.66" fill-opacity="0.65" fill="#94504a"/><circle cx="432.91" cy="602.03" r="0.48" fill-opacity="0.8" fill="#94504a"/><circle cx="447.39" cy="617.92" r="0.32" fill-opacity="0.65" fill="#94504a"/><circle cx="420.43" cy="621.51" r="0.66" fill-opacity="0.5"/><circle cx="420.36" cy="617.3" r="0.48" fill-opacity="0.65"/><circle cx="431.02" cy="638.43" r="0.66" fill-opacity="0.8"/><circle cx="437.58" cy="632.17" r="0.66" fill-opacity="0.35"/><circle cx="441.23" cy="614.3" r="0.56" fill-opacity="0.35"/><circle cx="420.77" cy="617.88" r="0.56" fill-opacity="0.8" fill="#94504a"/><circle cx="420.01" cy="621.19" r="0.4" fill-opacity="0.35" fill="#94504a"/><circle cx="453.48" cy="621.21" r="0.66" fill-opacity="0.65"/><circle cx="449.55" cy="620.61" r="0.48" fill-opacity="0.8"/><circle cx="448.39" cy="629.72" r="0.56" fill-opacity="0.8"/><circle cx="444.5" cy="604.35" r="0.48" fill-opacity="0.8" fill="#94504a"/><circle cx="426.33" cy="627.23" r="0.32" fill-opacity="0.35"/><circle cx="440.08" cy="623.02" r="0.48" fill-opacity="0.65"/><circle cx="429.65" cy="606.88" r="0.66" fill-opacity="0.8"/><circle cx="432.9" cy="612.57" r="0.32" fill-opacity="0.5" fill="#94504a"/><circle cx="409.18" cy="620.5" r="0.4" fill-opacity="0.35" fill="#94504a"/><circle cx="449.38" cy="604.9" r="0.32" fill-opacity="0.8"/><circle cx="419.3" cy="607.32" r="0.66" fill-opacity="0.35"/><circle cx="446.01" cy="626.53" r="0.56" fill-opacity="0.65" fill="#94504a"/><circle cx="452.8" cy="611.35" r="0.4" fill-opacity="0.65" fill="#94504a"/><circle cx="441" cy="601.94" r="0.48" fill-opacity="0.35"/><circle cx="423.38" cy="619.29" r="0.48" fill-opacity="0.65"/><circle cx="454.34" cy="617.21" r="0.66" fill-opacity="0.65"/><circle cx="430.85" cy="614.57" r="0.56" fill-opacity="0.8" fill="#94504a"/><circle cx="433.42" cy="597.43" r="0.66" fill-opacity="0.65" fill="#94504a"/><circle cx="449.94" cy="628.18" r="0.32" fill-opacity="0.8" fill="#94504a"/><circle cx="422.24" cy="640.19" r="0.48" fill-opacity="0.65" fill="#94504a"/><circle cx="410.44" cy="615.22" r="0.66" fill-opacity="0.5"/><circle cx="440.25" cy="600.14" r="0.4" fill-opacity="0.35" fill="#94504a"/><circle cx="441.34" cy="630.98" r="0.48" fill-opacity="0.65"/><circle cx="451.05" cy="615.3" r="0.56" fill-opacity="0.5" fill="#94504a"/><circle cx="436.33" cy="596.18" r="0.56" fill-opacity="0.8"/><circle cx="451.26" cy="619.6" r="0.56" fill-opacity="0.65"/><circle cx="443.99" cy="606.89" r="0.48" fill-opacity="0.65"/><circle cx="434.87" cy="635" r="0.48" fill-opacity="0.8"/><circle cx="434.17" cy="626.43" r="0.66" fill-opacity="0.35" fill="#94504a"/><circle cx="439.18" cy="616.48" r="0.32" fill-opacity="0.65"/><circle cx="419.48" cy="616.98" r="0.48" fill-opacity="0.5"/><circle cx="441.33" cy="625.37" r="0.66" fill-opacity="0.8"/><circle cx="451.07" cy="617.97" r="0.66" fill-opacity="0.35" fill="#94504a"/><circle cx="424.59" cy="608.46" r="0.4" fill-opacity="0.8"/><circle cx="429.34" cy="642" r="0.32" fill-opacity="0.65"/><circle cx="423.33" cy="611.42" r="0.32" fill-opacity="0.65"/><circle cx="451.32" cy="607" r="0.66" fill-opacity="0.5" fill="#94504a"/><circle cx="412.6" cy="616.41" r="0.4" fill-opacity="0.65" fill="#94504a"/><circle cx="416.51" cy="634.44" r="0.48" fill-opacity="0.5"/><circle cx="422.86" cy="631.62" r="0.66" fill-opacity="0.65" fill="#94504a"/><circle cx="418.61" cy="623.39" r="0.48" fill-opacity="0.8"/><circle cx="415.01" cy="613.61" r="0.66" fill-opacity="0.65" fill="#94504a"/><circle cx="419.49" cy="613.22" r="0.4" fill-opacity="0.35"/><circle cx="415.18" cy="616.43" r="0.48" fill-opacity="0.5" fill="#94504a"/><circle cx="442.24" cy="621.93" r="0.4" fill-opacity="0.65"/><circle cx="440.43" cy="608.93" r="0.48" fill-opacity="0.65" fill="#94504a"/><circle cx="441.6" cy="610.64" r="0.4" fill-opacity="0.35"/><circle cx="415.02" cy="631.5" r="0.56" fill-opacity="0.8"/><circle cx="420.41" cy="621.21" r="0.56" fill-opacity="0.5" fill="#94504a"/><circle cx="421.7" cy="629.44" r="0.56" fill-opacity="0.8"/><circle cx="437.08" cy="599.04" r="0.56" fill-opacity="0.5"/><circle cx="449.52" cy="623.57" r="0.48" fill-opacity="0.65"/><circle cx="425.87" cy="619.03" r="0.4" fill-opacity="0.8"/><circle cx="446.73" cy="633.36" r="0.48" fill-opacity="0.8"/><circle cx="434.74" cy="627.17" r="0.66" fill-opacity="0.65" fill="#94504a"/><circle cx="417.28" cy="612.06" r="0.4" fill-opacity="0.5"/><circle cx="451.92" cy="614.95" r="0.56" fill-opacity="0.35"/><circle cx="429.98" cy="629.02" r="0.32" fill-opacity="0.65"/><circle cx="428.33" cy="603.11" r="0.66" fill-opacity="0.5"/><circle cx="409.32" cy="628.03" r="0.4" fill-opacity="0.35" fill="#94504a"/><circle cx="441.59" cy="610.08" r="0.48" fill-opacity="0.65" fill="#94504a"/><circle cx="444.91" cy="634.08" r="0.48" fill-opacity="0.65"/><circle cx="443.04" cy="624.13" r="0.4" fill-opacity="0.35"/><circle cx="426.76" cy="603.51" r="0.56" fill-opacity="0.5"/><circle cx="442.92" cy="638.08" r="0.4" fill-opacity="0.65" fill="#94504a"/><circle cx="432.16" cy="635.82" r="0.66" fill-opacity="0.35" fill="#94504a"/><circle cx="449.67" cy="633.28" r="0.48" fill-opacity="0.8" fill="#94504a"/><circle cx="426.74" cy="642.72" r="0.66" fill-opacity="0.8" fill="#94504a"/><circle cx="443.35" cy="625.57" r="0.4" fill-opacity="0.35"/><circle cx="409.88" cy="625.19" r="0.48" fill-opacity="0.35"/><circle cx="445.66" cy="617.33" r="0.32" fill-opacity="0.5"/><circle cx="445.27" cy="638.98" r="0.32" fill-opacity="0.65"/><circle cx="417.98" cy="626.58" r="0.66" fill-opacity="0.65"/><circle cx="428.93" cy="609.24" r="0.32" fill-opacity="0.5" fill="#94504a"/><circle cx="433.84" cy="609.83" r="0.4" fill-opacity="0.8"/><circle cx="429.76" cy="602.66" r="0.66" fill-opacity="0.8" fill="#94504a"/><circle cx="408.25" cy="621.99" r="0.4" fill-opacity="0.65"/><circle cx="445.62" cy="629.3" r="0.32" fill-opacity="0.65"/><circle cx="418.52" cy="635.22" r="0.48" fill-opacity="0.65"/><circle cx="441.15" cy="638.89" r="0.56" fill-opacity="0.8" fill="#94504a"/><circle cx="427.08" cy="624.61" r="0.48" fill-opacity="0.8"/><circle cx="444.24" cy="607.74" r="0.32" fill-opacity="0.8"/><circle cx="438.97" cy="623.61" r="0.56" fill-opacity="0.8"/><circle cx="453.01" cy="619.27" r="0.32" fill-opacity="0.5"/><circle cx="449.58" cy="604.19" r="0.66" fill-opacity="0.35"/><circle cx="416.18" cy="634.63" r="0.4" fill-opacity="0.65"/><circle cx="441.8" cy="614.15" r="0.32" fill-opacity="0.5" fill="#94504a"/><circle cx="419.04" cy="618.77" r="0.32" fill-opacity="0.5"/><circle cx="432.48" cy="619.12" r="0.4" fill-opacity="0.65"/><circle cx="411.04" cy="631.51" r="0.48" fill-opacity="0.8" fill="#94504a"/><circle cx="427.15" cy="620.97" r="0.32" fill-opacity="0.35" fill="#94504a"/><circle cx="435.82" cy="607.17" r="0.48" fill-opacity="0.8" fill="#94504a"/><circle cx="436.13" cy="608.25" r="0.56" fill-opacity="0.35"/><circle cx="437.47" cy="600.83" r="0.66" fill-opacity="0.65" fill="#94504a"/><circle cx="432.47" cy="639.07" r="0.56" fill-opacity="0.35"/><circle cx="443.27" cy="603.66" r="0.66" fill-opacity="0.65" fill="#94504a"/><circle cx="443.51" cy="621.13" r="0.4" fill-opacity="0.65"/><circle cx="434.47" cy="626.27" r="0.4" fill-opacity="0.65" fill="#94504a"/><circle cx="450.28" cy="607.63" r="0.48" fill-opacity="0.35"/><circle cx="425.34" cy="602.52" r="0.32" fill-opacity="0.65" fill="#94504a"/><circle cx="430.07" cy="611.64" r="0.48" fill-opacity="0.8"/><circle cx="412.01" cy="622.25" r="0.56" fill-opacity="0.35"/><circle cx="429.22" cy="627.07" r="0.32" fill-opacity="0.35" fill="#94504a"/><circle cx="423.26" cy="636.78" r="0.32" fill-opacity="0.5"/><circle cx="410.01" cy="612.86" r="0.4" fill-opacity="0.8" fill="#94504a"/><circle cx="411.35" cy="624.7" r="0.32" fill-opacity="0.35" fill="#94504a"/><circle cx="448.05" cy="610.56" r="0.32" fill-opacity="0.35" fill="#94504a"/><circle cx="435.94" cy="610.34" r="0.4" fill-opacity="0.5" fill="#94504a"/><circle cx="430.53" cy="607.83" r="0.48" fill-opacity="0.5"/><circle cx="448.18" cy="603.76" r="0.4" fill-opacity="0.5"/><circle cx="441.25" cy="598.4" r="0.66" fill-opacity="0.8" fill="#94504a"/><circle cx="432.92" cy="628.01" r="0.4" fill-opacity="0.35"/><circle cx="413.12" cy="614.13" r="0.66" fill-opacity="0.5" fill="#94504a"/><circle cx="434.15" cy="642.34" r="0.4" fill-opacity="0.5"/><circle cx="425.35" cy="642.34" r="0.32" fill-opacity="0.65"/><circle cx="433.79" cy="635.65" r="0.66" fill-opacity="0.5" fill="#94504a"/><circle cx="414.86" cy="623.89" r="0.56" fill-opacity="0.5"/><circle cx="436.13" cy="638.8" r="0.56" fill-opacity="0.35"/><circle cx="422.06" cy="603.83" r="0.48" fill-opacity="0.8"/><circle cx="418.33" cy="636.48" r="0.66" fill-opacity="0.65" fill="#94504a"/><circle cx="433.95" cy="614.22" r="0.32" fill-opacity="0.65"/><circle cx="427.39" cy="633.07" r="0.48" fill-opacity="0.5"/><circle cx="440.41" cy="619.03" r="0.48" fill-opacity="0.5"/><circle cx="415.32" cy="611.85" r="0.32" fill-opacity="0.35"/><circle cx="409" cy="616.37" r="0.32" fill-opacity="0.35" fill="#94504a"/><circle cx="452.73" cy="614.22" r="0.56" fill-opacity="0.65"/><circle cx="412.48" cy="630.41" r="0.32" fill-opacity="0.5"/><circle cx="414.22" cy="615.61" r="0.66" fill-opacity="0.65" fill="#94504a"/><circle cx="446.81" cy="614.36" r="0.48" fill-opacity="0.65" fill="#94504a"/><circle cx="447.09" cy="603.23" r="0.56" fill-opacity="0.65"/><circle cx="437.7" cy="608.06" r="0.4" fill-opacity="0.5"/><circle cx="422.83" cy="612.45" r="0.32" fill-opacity="0.8"/><circle cx="438.67" cy="623.92" r="0.56" fill-opacity="0.35"/><circle cx="421.87" cy="631.57" r="0.48" fill-opacity="0.5"/><circle cx="447.41" cy="632.97" r="0.48" fill-opacity="0.5"/><circle cx="435.73" cy="627.19" r="0.48" fill-opacity="0.5"/><circle cx="444.61" cy="605.41" r="0.32" fill-opacity="0.8" fill="#94504a"/><circle cx="426.64" cy="618.24" r="0.56" fill-opacity="0.65" fill="#94504a"/><circle cx="431.29" cy="633.72" r="0.66" fill-opacity="0.35" fill="#94504a"/><circle cx="425.16" cy="606.12" r="0.4" fill-opacity="0.5"/><circle cx="410.41" cy="621.52" r="0.32" fill-opacity="0.5" fill="#94504a"/><circle cx="446.94" cy="617.54" r="0.56" fill-opacity="0.5"/><circle cx="446.81" cy="611.07" r="0.4" fill-opacity="0.5"/><circle cx="417.18" cy="616.74" r="0.66" fill-opacity="0.35" fill="#94504a"/><circle cx="423.69" cy="606.51" r="0.66" fill-opacity="0.35"/><circle cx="441.09" cy="619.14" r="0.32" fill-opacity="0.5" fill="#94504a"/><circle cx="419.82" cy="604.56" r="0.56" fill-opacity="0.65"/><circle cx="426.24" cy="631.95" r="0.56" fill-opacity="0.35" fill="#94504a"/><circle cx="444.9" cy="637.21" r="0.56" fill-opacity="0.65"/><circle cx="434.96" cy="609.9" r="0.32" fill-opacity="0.5"/><circle cx="434" cy="627.43" r="0.4" fill-opacity="0.8"/><circle cx="429.38" cy="606.94" r="0.32" fill-opacity="0.65"/><circle cx="443.26" cy="630.27" r="0.48" fill-opacity="0.8"/><circle cx="440.83" cy="630.31" r="0.4" fill-opacity="0.8"/><circle cx="445.92" cy="604.5" r="0.32" fill-opacity="0.8"/><circle cx="430.23" cy="624.59" r="0.32" fill-opacity="0.5"/><circle cx="447.77" cy="626.43" r="0.32" fill-opacity="0.35"/><circle cx="412.59" cy="605.03" r="0.48" fill-opacity="0.35"/><circle cx="430.36" cy="615.27" r="0.56" fill-opacity="0.65"/><circle cx="439.39" cy="616.88" r="0.56" fill-opacity="0.65"/><circle cx="415.45" cy="611.38" r="0.4" fill-opacity="0.35"/><circle cx="435.34" cy="603.05" r="0.66" fill-opacity="0.65" fill="#94504a"/><circle cx="452.23" cy="630.78" r="0.4" fill-opacity="0.65"/><circle cx="445.05" cy="635.12" r="0.4" fill-opacity="0.8"/><circle cx="425.97" cy="615.93" r="0.66" fill-opacity="0.5" fill="#94504a"/><circle cx="421.3" cy="607.5" r="0.66" fill-opacity="0.8" fill="#94504a"/><circle cx="422.14" cy="604.46" r="0.66" fill-opacity="0.65" fill="#94504a"/><circle cx="416.9" cy="620.47" r="0.56" fill-opacity="0.35" fill="#94504a"/><circle cx="429.8" cy="640.44" r="0.56" fill-opacity="0.8"/><circle cx="439.31" cy="613.8" r="0.4" fill-opacity="0.35"/><circle cx="423.75" cy="640.18" r="0.48" fill-opacity="0.5" fill="#94504a"/><circle cx="425.63" cy="606.31" r="0.4" fill-opacity="0.8"/><circle cx="429.6" cy="626.03" r="0.56" fill-opacity="0.65"/><circle cx="449.55" cy="633.1" r="0.4" fill-opacity="0.5"/><circle cx="426.17" cy="610.68" r="0.32" fill-opacity="0.35" fill="#94504a"/><circle cx="419.11" cy="616.29" r="0.48" fill-opacity="0.35" fill="#94504a"/><circle cx="422.97" cy="612.71" r="0.32" fill-opacity="0.5" fill="#94504a"/><circle cx="413.13" cy="612.9" r="0.48" fill-opacity="0.65" fill="#94504a"/><circle cx="421.31" cy="618.87" r="0.4" fill-opacity="0.65"/><circle cx="420.18" cy="635.1" r="0.4" fill-opacity="0.5"/><circle cx="434.16" cy="608.58" r="0.48" fill-opacity="0.5"/><circle cx="433.35" cy="608.48" r="0.48" fill-opacity="0.65"/><circle cx="428.39" cy="602.48" r="0.66" fill-opacity="0.35"/><circle cx="414.68" cy="625.98" r="0.32" fill-opacity="0.5" fill="#94504a"/><circle cx="420.26" cy="635.55" r="0.56" fill-opacity="0.35"/><circle cx="429.84" cy="641.63" r="0.66" fill-opacity="0.35" fill="#94504a"/><circle cx="444.1" cy="638.47" r="0.32" fill-opacity="0.5" fill="#94504a"/><circle cx="441.94" cy="638.88" r="0.48" fill-opacity="0.65" fill="#94504a"/><circle cx="425.01" cy="634.77" r="0.48" fill-opacity="0.5" fill="#94504a"/><circle cx="417.89" cy="625.31" r="0.4" fill-opacity="0.8" fill="#94504a"/><circle cx="451.93" cy="614.82" r="0.56" fill-opacity="0.5"/><circle cx="424.97" cy="640.49" r="0.56" fill-opacity="0.8"/><circle cx="424.24" cy="639.51" r="0.32" fill-opacity="0.8"/><circle cx="442.55" cy="609.07" r="0.4" fill-opacity="0.65"/><circle cx="441.23" cy="636.46" r="0.32" fill-opacity="0.5" fill="#94504a"/><circle cx="448.63" cy="623.72" r="0.4" fill-opacity="0.5"/><circle cx="425.62" cy="606.12" r="0.4" fill-opacity="0.35"/><circle cx="436.66" cy="634.26" r="0.4" fill-opacity="0.5" fill="#94504a"/></g>
<rect x="458.6" y="592.3" width="53.2" height="54.2" fill="#ddceb4"/>
<circle cx="459.9" cy="630.09" r="0.88" fill="#000" fill-opacity="0.06"/><circle cx="461.57" cy="642.07" r="1.19" fill="#fff" fill-opacity="0.06"/><circle cx="496.42" cy="620.55" r="1.34" fill="#fff" fill-opacity="0.06"/><circle cx="459.17" cy="618.41" r="0.94" fill="#000" fill-opacity="0.06"/><circle cx="466.3" cy="627.85" r="0.81" fill="#fff" fill-opacity="0.06"/><circle cx="468.24" cy="596.77" r="1.57" fill="#fff" fill-opacity="0.06"/><circle cx="493.62" cy="596.34" r="0.86" fill="#000" fill-opacity="0.06"/><circle cx="502.6" cy="616.79" r="0.91" fill="#000" fill-opacity="0.06"/><circle cx="490.55" cy="635.6" r="0.64" fill="#000" fill-opacity="0.06"/><circle cx="510.08" cy="607.95" r="1.07" fill="#000" fill-opacity="0.06"/><circle cx="500.22" cy="606.28" r="1.47" fill="#000" fill-opacity="0.06"/><circle cx="479.85" cy="627.44" r="1.2" fill="#000" fill-opacity="0.06"/><circle cx="470.07" cy="606.12" r="1.14" fill="#fff" fill-opacity="0.06"/><circle cx="493.88" cy="631.86" r="0.79" fill="#fff" fill-opacity="0.06"/><circle cx="468.39" cy="615.99" r="1.35" fill="#fff" fill-opacity="0.06"/><circle cx="492.77" cy="635.61" r="1.49" fill="#fff" fill-opacity="0.06"/><circle cx="465.86" cy="635.6" r="1.37" fill="#fff" fill-opacity="0.06"/><circle cx="460.94" cy="606.56" r="1.31" fill="#fff" fill-opacity="0.06"/><circle cx="490.36" cy="611.83" r="1.3" fill="#000" fill-opacity="0.06"/><circle cx="471.99" cy="629.27" r="1.29" fill="#000" fill-opacity="0.06"/><circle cx="486.05" cy="612.61" r="0.84" fill="#fff" fill-opacity="0.06"/><circle cx="484.25" cy="610.36" r="1.46" fill="#fff" fill-opacity="0.06"/><circle cx="493.75" cy="633.56" r="1.45" fill="#000" fill-opacity="0.06"/><circle cx="471.3" cy="643.55" r="0.98" fill="#fff" fill-opacity="0.06"/><circle cx="503.47" cy="626.56" r="1.59" fill="#fff" fill-opacity="0.06"/><circle cx="469.1" cy="644.39" r="0.61" fill="#000" fill-opacity="0.06"/><circle cx="469.75" cy="630.17" r="1.27" fill="#000" fill-opacity="0.06"/><circle cx="461.94" cy="639.35" r="0.88" fill="#000" fill-opacity="0.06"/><circle cx="483.98" cy="600.92" r="0.95" fill="#000" fill-opacity="0.06"/><circle cx="507.24" cy="626.27" r="1.53" fill="#fff" fill-opacity="0.06"/><circle cx="500.88" cy="597.56" r="0.86" fill="#fff" fill-opacity="0.06"/><circle cx="474.77" cy="592.95" r="1.12" fill="#fff" fill-opacity="0.06"/><circle cx="494.79" cy="637.63" r="1.53" fill="#000" fill-opacity="0.06"/><circle cx="503.39" cy="625.63" r="1.22" fill="#fff" fill-opacity="0.06"/><circle cx="503.15" cy="640.27" r="0.96" fill="#fff" fill-opacity="0.06"/><circle cx="466.58" cy="645.36" r="1.17" fill="#fff" fill-opacity="0.06"/><circle cx="473.21" cy="611.78" r="1.59" fill="#000" fill-opacity="0.06"/><circle cx="486.8" cy="617.41" r="1.38" fill="#000" fill-opacity="0.06"/><circle cx="482.34" cy="615.04" r="0.9" fill="#fff" fill-opacity="0.06"/><circle cx="500.31" cy="609.49" r="0.74" fill="#000" fill-opacity="0.06"/><circle cx="467.9" cy="630.04" r="0.62" fill="#000" fill-opacity="0.06"/><circle cx="493.2" cy="638.17" r="1.6" fill="#fff" fill-opacity="0.06"/><circle cx="479.33" cy="613.54" r="0.82" fill="#fff" fill-opacity="0.06"/><circle cx="492.39" cy="627.77" r="1.46" fill="#fff" fill-opacity="0.06"/><circle cx="476.47" cy="626.64" r="1.39" fill="#000" fill-opacity="0.06"/><circle cx="475" cy="641.04" r="1.31" fill="#000" fill-opacity="0.06"/><circle cx="480.43" cy="611.02" r="0.83" fill="#fff" fill-opacity="0.06"/><circle cx="486.22" cy="609.5" r="1.52" fill="#000" fill-opacity="0.06"/><circle cx="476.4" cy="596.76" r="0.96" fill="#000" fill-opacity="0.06"/><circle cx="494.99" cy="597.28" r="1.25" fill="#fff" fill-opacity="0.06"/><circle cx="480.5" cy="618.73" r="1.6" fill="#fff" fill-opacity="0.06"/><circle cx="496.13" cy="622.65" r="1.21" fill="#000" fill-opacity="0.06"/><circle cx="496.2" cy="609.86" r="1.5" fill="#fff" fill-opacity="0.06"/><circle cx="461.52" cy="630.47" r="0.65" fill="#fff" fill-opacity="0.06"/><circle cx="459.76" cy="631.35" r="1.54" fill="#fff" fill-opacity="0.06"/><circle cx="499.37" cy="599.84" r="0.81" fill="#000" fill-opacity="0.06"/><circle cx="496.48" cy="595" r="0.95" fill="#fff" fill-opacity="0.06"/><circle cx="495.22" cy="596.09" r="0.96" fill="#000" fill-opacity="0.06"/><circle cx="495.99" cy="603.03" r="1.57" fill="#000" fill-opacity="0.06"/><circle cx="460.5" cy="644.41" r="0.93" fill="#000" fill-opacity="0.06"/>
<circle cx="485.5" cy="619.6" r="26" fill="#ebe2d0" stroke="#edece7" stroke-width="1.5"/>
<circle cx="484.24" cy="597.9" r="0.86" fill="#b09070" fill-opacity="0.18"/><circle cx="464.05" cy="621.93" r="0.9" fill="#b09070" fill-opacity="0.18"/><circle cx="475.31" cy="607.59" r="1.09" fill="#b09070" fill-opacity="0.18"/><circle cx="493.19" cy="613.12" r="0.76" fill="#ffffff" fill-opacity="0.18"/><circle cx="475.3" cy="618.61" r="1.23" fill="#b09070" fill-opacity="0.18"/><circle cx="482.94" cy="599.73" r="0.92" fill="#b09070" fill-opacity="0.18"/><circle cx="475.65" cy="634.27" r="1.22" fill="#ffffff" fill-opacity="0.18"/><circle cx="501.06" cy="617.34" r="1.24" fill="#ffffff" fill-opacity="0.18"/><circle cx="486.59" cy="627.73" r="1.04" fill="#b09070" fill-opacity="0.18"/><circle cx="507.15" cy="616.07" r="0.76" fill="#b09070" fill-opacity="0.18"/><circle cx="502.47" cy="632.44" r="1.05" fill="#b09070" fill-opacity="0.18"/><circle cx="476.49" cy="614.89" r="0.87" fill="#b09070" fill-opacity="0.18"/><circle cx="502.79" cy="611.74" r="0.83" fill="#b09070" fill-opacity="0.18"/><circle cx="475.57" cy="621.76" r="0.7" fill="#b09070" fill-opacity="0.18"/><circle cx="466.97" cy="625.62" r="1.03" fill="#ffffff" fill-opacity="0.18"/><circle cx="462.94" cy="620.57" r="0.51" fill="#b09070" fill-opacity="0.18"/><circle cx="480.6" cy="619.21" r="1.02" fill="#b09070" fill-opacity="0.18"/><circle cx="502.91" cy="610.91" r="1.16" fill="#ffffff" fill-opacity="0.18"/><circle cx="475.65" cy="617.89" r="0.97" fill="#ffffff" fill-opacity="0.18"/><circle cx="463.08" cy="625.01" r="0.96" fill="#b09070" fill-opacity="0.18"/><circle cx="462.57" cy="616.91" r="0.52" fill="#b09070" fill-opacity="0.18"/><circle cx="500.62" cy="602.94" r="0.71" fill="#ffffff" fill-opacity="0.18"/><circle cx="496.53" cy="634.85" r="1.04" fill="#b09070" fill-opacity="0.18"/><circle cx="493" cy="615.89" r="0.66" fill="#ffffff" fill-opacity="0.18"/><circle cx="470.86" cy="602.59" r="0.66" fill="#ffffff" fill-opacity="0.18"/><circle cx="503.14" cy="625.31" r="1.28" fill="#ffffff" fill-opacity="0.18"/><circle cx="482.18" cy="600.52" r="0.58" fill="#ffffff" fill-opacity="0.18"/><circle cx="468.94" cy="631.51" r="1.07" fill="#ffffff" fill-opacity="0.18"/><circle cx="476.01" cy="617.53" r="1.27" fill="#ffffff" fill-opacity="0.18"/><circle cx="489.03" cy="616.39" r="0.81" fill="#b09070" fill-opacity="0.18"/><circle cx="484.53" cy="614.97" r="1.06" fill="#ffffff" fill-opacity="0.18"/><circle cx="480.83" cy="621.61" r="0.64" fill="#ffffff" fill-opacity="0.18"/><circle cx="501.53" cy="614.93" r="1.01" fill="#ffffff" fill-opacity="0.18"/><circle cx="477.51" cy="619.87" r="0.65" fill="#b09070" fill-opacity="0.18"/><circle cx="478.05" cy="610.08" r="1.27" fill="#b09070" fill-opacity="0.18"/><circle cx="488.16" cy="629.09" r="0.6" fill="#ffffff" fill-opacity="0.18"/><circle cx="482.1" cy="622.33" r="1.03" fill="#ffffff" fill-opacity="0.18"/><circle cx="504.83" cy="608.37" r="0.68" fill="#ffffff" fill-opacity="0.18"/><circle cx="477.35" cy="621.16" r="1.16" fill="#b09070" fill-opacity="0.18"/><circle cx="477.43" cy="617.41" r="1.19" fill="#b09070" fill-opacity="0.18"/><circle cx="490.95" cy="622.38" r="0.61" fill="#ffffff" fill-opacity="0.18"/><circle cx="504.53" cy="630.54" r="0.69" fill="#b09070" fill-opacity="0.18"/><circle cx="472.86" cy="631.93" r="0.85" fill="#ffffff" fill-opacity="0.18"/><circle cx="501.69" cy="630.27" r="0.88" fill="#b09070" fill-opacity="0.18"/><circle cx="493.98" cy="609.87" r="0.52" fill="#ffffff" fill-opacity="0.18"/><circle cx="467.1" cy="633.85" r="1.29" fill="#b09070" fill-opacity="0.18"/><circle cx="471.55" cy="636.55" r="1.22" fill="#b09070" fill-opacity="0.18"/><circle cx="502.52" cy="611.89" r="0.99" fill="#b09070" fill-opacity="0.18"/><circle cx="495.06" cy="639.45" r="0.62" fill="#ffffff" fill-opacity="0.18"/><circle cx="497.29" cy="609.47" r="1.16" fill="#ffffff" fill-opacity="0.18"/><circle cx="498.48" cy="614.25" r="1.03" fill="#b09070" fill-opacity="0.18"/><circle cx="488.14" cy="600.08" r="0.81" fill="#b09070" fill-opacity="0.18"/><circle cx="472.59" cy="609.77" r="0.63" fill="#b09070" fill-opacity="0.18"/><circle cx="492.61" cy="607.59" r="0.82" fill="#ffffff" fill-opacity="0.18"/><circle cx="476.2" cy="637.13" r="1.04" fill="#ffffff" fill-opacity="0.18"/><circle cx="481.5" cy="618.16" r="0.53" fill="#b09070" fill-opacity="0.18"/><circle cx="462.11" cy="619.17" r="0.79" fill="#ffffff" fill-opacity="0.18"/><circle cx="474.48" cy="640.74" r="0.54" fill="#ffffff" fill-opacity="0.18"/><circle cx="467.84" cy="618.73" r="1.06" fill="#ffffff" fill-opacity="0.18"/><circle cx="473.57" cy="609.02" r="0.81" fill="#ffffff" fill-opacity="0.18"/><circle cx="463.54" cy="615.54" r="0.66" fill="#ffffff" fill-opacity="0.18"/><circle cx="480.83" cy="630.47" r="0.78" fill="#b09070" fill-opacity="0.18"/><circle cx="476.62" cy="629.45" r="0.79" fill="#ffffff" fill-opacity="0.18"/><circle cx="476.71" cy="630.36" r="0.96" fill="#b09070" fill-opacity="0.18"/><circle cx="475.27" cy="636.91" r="0.69" fill="#b09070" fill-opacity="0.18"/><circle cx="484.42" cy="619.52" r="0.75" fill="#b09070" fill-opacity="0.18"/><circle cx="473.32" cy="604.44" r="1.29" fill="#b09070" fill-opacity="0.18"/><circle cx="483.65" cy="604.8" r="1.23" fill="#ffffff" fill-opacity="0.18"/><circle cx="462.37" cy="620.08" r="0.55" fill="#ffffff" fill-opacity="0.18"/><circle cx="461.82" cy="620.6" r="1.23" fill="#ffffff" fill-opacity="0.18"/><circle cx="468.45" cy="626.51" r="0.56" fill="#b09070" fill-opacity="0.18"/><circle cx="471" cy="625.77" r="1.23" fill="#b09070" fill-opacity="0.18"/><circle cx="465.63" cy="615.48" r="0.77" fill="#b09070" fill-opacity="0.18"/><circle cx="488.29" cy="607.2" r="0.95" fill="#b09070" fill-opacity="0.18"/><circle cx="472.4" cy="608.08" r="0.89" fill="#b09070" fill-opacity="0.18"/><circle cx="504" cy="618.39" r="0.8" fill="#b09070" fill-opacity="0.18"/><circle cx="481.85" cy="625.04" r="0.64" fill="#b09070" fill-opacity="0.18"/><circle cx="472.69" cy="609.97" r="1.05" fill="#ffffff" fill-opacity="0.18"/><circle cx="495.57" cy="637.18" r="1.29" fill="#ffffff" fill-opacity="0.18"/><circle cx="492.24" cy="608.99" r="0.62" fill="#b09070" fill-opacity="0.18"/><circle cx="466.44" cy="621.44" r="0.93" fill="#b09070" fill-opacity="0.18"/><circle cx="503.51" cy="610.22" r="1.12" fill="#ffffff" fill-opacity="0.18"/><circle cx="478.21" cy="616.1" r="1.18" fill="#b09070" fill-opacity="0.18"/><circle cx="487.58" cy="599.07" r="0.91" fill="#b09070" fill-opacity="0.18"/><circle cx="485.07" cy="626.6" r="0.95" fill="#ffffff" fill-opacity="0.18"/><circle cx="487.17" cy="627.49" r="1.2" fill="#b09070" fill-opacity="0.18"/><circle cx="478.75" cy="610.78" r="0.93" fill="#b09070" fill-opacity="0.18"/><circle cx="475.59" cy="638.9" r="1.02" fill="#ffffff" fill-opacity="0.18"/><circle cx="485.35" cy="641.96" r="1.25" fill="#b09070" fill-opacity="0.18"/><circle cx="469.75" cy="623.92" r="0.92" fill="#ffffff" fill-opacity="0.18"/><circle cx="474.79" cy="635.5" r="0.96" fill="#ffffff" fill-opacity="0.18"/><circle cx="474.69" cy="633.33" r="1.28" fill="#b09070" fill-opacity="0.18"/><circle cx="484.82" cy="626.68" r="0.61" fill="#ffffff" fill-opacity="0.18"/><circle cx="470.41" cy="622.4" r="0.54" fill="#ffffff" fill-opacity="0.18"/><circle cx="482.79" cy="614.47" r="0.84" fill="#ffffff" fill-opacity="0.18"/><circle cx="493.29" cy="625.04" r="0.87" fill="#ffffff" fill-opacity="0.18"/><circle cx="467.08" cy="618.67" r="1.15" fill="#b09070" fill-opacity="0.18"/><circle cx="501.59" cy="634.01" r="0.83" fill="#ffffff" fill-opacity="0.18"/><circle cx="474.26" cy="619.2" r="0.7" fill="#ffffff" fill-opacity="0.18"/><circle cx="462.11" cy="617.05" r="0.73" fill="#b09070" fill-opacity="0.18"/><circle cx="485.54" cy="614.04" r="0.6" fill="#b09070" fill-opacity="0.18"/><circle cx="479.67" cy="617.5" r="1.19" fill="#ffffff" fill-opacity="0.18"/><circle cx="475.04" cy="627.9" r="1.12" fill="#b09070" fill-opacity="0.18"/><circle cx="488.04" cy="623.95" r="1.16" fill="#b09070" fill-opacity="0.18"/><circle cx="486.81" cy="618.66" r="1.17" fill="#b09070" fill-opacity="0.18"/><circle cx="488.08" cy="615.61" r="1.06" fill="#b09070" fill-opacity="0.18"/><circle cx="495.93" cy="634.84" r="1.17" fill="#ffffff" fill-opacity="0.18"/>
<g fill="#4e3028"><circle cx="488.88" cy="629.04" r="0.32" fill-opacity="0.35" fill="#94504a"/><circle cx="467.15" cy="614.85" r="0.48" fill-opacity="0.65"/><circle cx="479.49" cy="625.96" r="0.56" fill-opacity="0.8"/><circle cx="486.13" cy="625.15" r="0.48" fill-opacity="0.65"/><circle cx="496.76" cy="599.26" r="0.48" fill-opacity="0.35" fill="#94504a"/><circle cx="472.57" cy="606.63" r="0.56" fill-opacity="0.35" fill="#94504a"/><circle cx="485.79" cy="626.52" r="0.66" fill-opacity="0.65" fill="#94504a"/><circle cx="464.08" cy="630.18" r="0.4" fill-opacity="0.8" fill="#94504a"/><circle cx="501.3" cy="626.78" r="0.48" fill-opacity="0.65"/><circle cx="473.84" cy="618.62" r="0.66" fill-opacity="0.8"/><circle cx="464.94" cy="622.27" r="0.56" fill-opacity="0.8"/><circle cx="493.1" cy="636.79" r="0.48" fill-opacity="0.35" fill="#94504a"/><circle cx="506.6" cy="623.67" r="0.66" fill-opacity="0.5" fill="#94504a"/><circle cx="463.06" cy="623.77" r="0.66" fill-opacity="0.8"/><circle cx="474.95" cy="622.57" r="0.66" fill-opacity="0.5"/><circle cx="478.6" cy="616.09" r="0.66" fill-opacity="0.5" fill="#94504a"/><circle cx="496.79" cy="612.33" r="0.56" fill-opacity="0.8" fill="#94504a"/><circle cx="473.89" cy="613.94" r="0.4" fill-opacity="0.8"/><circle cx="476.86" cy="605.16" r="0.48" fill-opacity="0.5"/><circle cx="492.68" cy="613.04" r="0.56" fill-opacity="0.8"/><circle cx="485.62" cy="608.43" r="0.56" fill-opacity="0.65" fill="#94504a"/><circle cx="486.11" cy="596.39" r="0.4" fill-opacity="0.35"/><circle cx="465.67" cy="626.47" r="0.48" fill-opacity="0.5" fill="#94504a"/><circle cx="467.76" cy="622.23" r="0.56" fill-opacity="0.65" fill="#94504a"/><circle cx="488.57" cy="632.22" r="0.4" fill-opacity="0.35" fill="#94504a"/><circle cx="490.27" cy="599.68" r="0.4" fill-opacity="0.5"/><circle cx="477.61" cy="609.1" r="0.66" fill-opacity="0.35" fill="#94504a"/><circle cx="505.54" cy="614.15" r="0.32" fill-opacity="0.5"/><circle cx="504.62" cy="612.1" r="0.32" fill-opacity="0.65"/><circle cx="495.2" cy="641.35" r="0.48" fill-opacity="0.8"/><circle cx="509.54" cy="620.55" r="0.48" fill-opacity="0.8" fill="#94504a"/><circle cx="504.26" cy="631.1" r="0.56" fill-opacity="0.5"/><circle cx="475.16" cy="618.39" r="0.4" fill-opacity="0.35" fill="#94504a"/><circle cx="500.76" cy="608.4" r="0.56" fill-opacity="0.5"/><circle cx="479.53" cy="607.16" r="0.56" fill-opacity="0.5" fill="#94504a"/><circle cx="469.12" cy="609.87" r="0.48" fill-opacity="0.5" fill="#94504a"/><circle cx="501.4" cy="608.17" r="0.56" fill-opacity="0.65"/><circle cx="489.94" cy="601.59" r="0.56" fill-opacity="0.65" fill="#94504a"/><circle cx="509.56" cy="621.3" r="0.4" fill-opacity="0.35"/><circle cx="493.64" cy="624.77" r="0.56" fill-opacity="0.8"/><circle cx="508.27" cy="613.18" r="0.48" fill-opacity="0.5" fill="#94504a"/><circle cx="481.3" cy="623.97" r="0.56" fill-opacity="0.35"/><circle cx="493.88" cy="613.33" r="0.56" fill-opacity="0.65" fill="#94504a"/><circle cx="472.06" cy="621.4" r="0.4" fill-opacity="0.8" fill="#94504a"/><circle cx="471.39" cy="625.53" r="0.4" fill-opacity="0.5"/><circle cx="479.21" cy="642.29" r="0.4" fill-opacity="0.65" fill="#94504a"/><circle cx="499.57" cy="611.17" r="0.56" fill-opacity="0.8"/><circle cx="495.55" cy="621.34" r="0.32" fill-opacity="0.65" fill="#94504a"/><circle cx="500.14" cy="625.7" r="0.4" fill-opacity="0.35" fill="#94504a"/><circle cx="495.53" cy="613.09" r="0.66" fill-opacity="0.65"/><circle cx="479.23" cy="600.34" r="0.56" fill-opacity="0.65" fill="#94504a"/><circle cx="494.73" cy="624.83" r="0.32" fill-opacity="0.65" fill="#94504a"/><circle cx="501.75" cy="627.32" r="0.66" fill-opacity="0.8"/><circle cx="497.26" cy="625.94" r="0.56" fill-opacity="0.5"/><circle cx="480.33" cy="599.45" r="0.48" fill-opacity="0.8" fill="#94504a"/><circle cx="503.74" cy="630.48" r="0.56" fill-opacity="0.65"/><circle cx="489.2" cy="617.08" r="0.66" fill-opacity="0.65"/><circle cx="471.43" cy="602.9" r="0.4" fill-opacity="0.65"/><circle cx="495.29" cy="627.87" r="0.66" fill-opacity="0.8"/><circle cx="461.94" cy="622.71" r="0.56" fill-opacity="0.5"/><circle cx="502.11" cy="611.02" r="0.48" fill-opacity="0.5"/><circle cx="474.64" cy="612.38" r="0.56" fill-opacity="0.5" fill="#94504a"/><circle cx="499.85" cy="615.33" r="0.48" fill-opacity="0.5" fill="#94504a"/><circle cx="465.74" cy="623.03" r="0.66" fill-opacity="0.5" fill="#94504a"/><circle cx="468.9" cy="625.18" r="0.66" fill-opacity="0.8"/><circle cx="503.45" cy="618.38" r="0.32" fill-opacity="0.35"/><circle cx="477.96" cy="638.2" r="0.4" fill-opacity="0.5"/><circle cx="486.21" cy="621.29" r="0.4" fill-opacity="0.8" fill="#94504a"/><circle cx="490.31" cy="620.33" r="0.66" fill-opacity="0.5"/><circle cx="487.36" cy="607.41" r="0.32" fill-opacity="0.5"/><circle cx="494.66" cy="630.19" r="0.32" fill-opacity="0.5"/><circle cx="479.15" cy="598.96" r="0.66" fill-opacity="0.8"/><circle cx="492.08" cy="624.77" r="0.56" fill-opacity="0.65"/><circle cx="465.3" cy="617.65" r="0.32" fill-opacity="0.5"/><circle cx="484.98" cy="610.16" r="0.56" fill-opacity="0.5" fill="#94504a"/><circle cx="499.65" cy="609.99" r="0.32" fill-opacity="0.8"/><circle cx="480.46" cy="623.24" r="0.56" fill-opacity="0.8"/><circle cx="482.46" cy="631.22" r="0.32" fill-opacity="0.65"/><circle cx="501.83" cy="617.83" r="0.56" fill-opacity="0.5"/><circle cx="506.74" cy="628.12" r="0.66" fill-opacity="0.65"/><circle cx="482.16" cy="636.04" r="0.56" fill-opacity="0.65"/><circle cx="488.92" cy="609.98" r="0.32" fill-opacity="0.65" fill="#94504a"/><circle cx="472.49" cy="639.16" r="0.66" fill-opacity="0.35" fill="#94504a"/><circle cx="486.12" cy="611.62" r="0.48" fill-opacity="0.35"/><circle cx="498.1" cy="633.85" r="0.48" fill-opacity="0.35" fill="#94504a"/><circle cx="471.76" cy="630.15" r="0.56" fill-opacity="0.5"/><circle cx="473.23" cy="619.26" r="0.66" fill-opacity="0.5" fill="#94504a"/><circle cx="500.94" cy="621.61" r="0.4" fill-opacity="0.5" fill="#94504a"/><circle cx="468.09" cy="609.84" r="0.32" fill-opacity="0.5" fill="#94504a"/><circle cx="500.74" cy="637.24" r="0.4" fill-opacity="0.8"/><circle cx="496.96" cy="607.83" r="0.4" fill-opacity="0.8"/><circle cx="501.57" cy="618.29" r="0.32" fill-opacity="0.8"/><circle cx="486" cy="603.99" r="0.48" fill-opacity="0.5" fill="#94504a"/><circle cx="484.94" cy="616.24" r="0.48" fill-opacity="0.5"/><circle cx="464.49" cy="615.67" r="0.32" fill-opacity="0.5" fill="#94504a"/><circle cx="486.81" cy="600.19" r="0.48" fill-opacity="0.35"/><circle cx="471.15" cy="623.59" r="0.4" fill-opacity="0.35"/><circle cx="471.16" cy="604.29" r="0.66" fill-opacity="0.5"/><circle cx="473.03" cy="605.31" r="0.4" fill-opacity="0.35"/><circle cx="477.69" cy="630.02" r="0.4" fill-opacity="0.5"/><circle cx="489.57" cy="620.13" r="0.32" fill-opacity="0.35"/><circle cx="478.27" cy="613.2" r="0.48" fill-opacity="0.5" fill="#94504a"/><circle cx="499.65" cy="610.73" r="0.32" fill-opacity="0.5" fill="#94504a"/><circle cx="478.78" cy="606.41" r="0.66" fill-opacity="0.8"/><circle cx="466.92" cy="628.31" r="0.48" fill-opacity="0.35"/><circle cx="483.98" cy="613.17" r="0.48" fill-opacity="0.35"/><circle cx="492.71" cy="607.23" r="0.48" fill-opacity="0.35"/><circle cx="491.85" cy="637.64" r="0.66" fill-opacity="0.5" fill="#94504a"/><circle cx="500.64" cy="633.23" r="0.32" fill-opacity="0.5" fill="#94504a"/><circle cx="479.66" cy="597.46" r="0.66" fill-opacity="0.35"/><circle cx="492.08" cy="602.14" r="0.56" fill-opacity="0.65" fill="#94504a"/><circle cx="493.31" cy="635.48" r="0.32" fill-opacity="0.35"/><circle cx="483.03" cy="641.52" r="0.56" fill-opacity="0.35" fill="#94504a"/><circle cx="488.3" cy="633.95" r="0.56" fill-opacity="0.5" fill="#94504a"/><circle cx="478.39" cy="596.69" r="0.66" fill-opacity="0.35"/><circle cx="477.07" cy="605.67" r="0.66" fill-opacity="0.65" fill="#94504a"/><circle cx="485.04" cy="600.67" r="0.32" fill-opacity="0.65"/><circle cx="470.95" cy="633.07" r="0.66" fill-opacity="0.35" fill="#94504a"/><circle cx="490.75" cy="608.71" r="0.32" fill-opacity="0.8"/><circle cx="503.79" cy="608.99" r="0.4" fill-opacity="0.8" fill="#94504a"/><circle cx="473.45" cy="637.66" r="0.56" fill-opacity="0.35"/><circle cx="503.07" cy="625.78" r="0.48" fill-opacity="0.35"/><circle cx="498.15" cy="630.14" r="0.4" fill-opacity="0.8" fill="#94504a"/><circle cx="503.57" cy="619.84" r="0.48" fill-opacity="0.65" fill="#94504a"/><circle cx="484.23" cy="611.66" r="0.56" fill-opacity="0.65"/><circle cx="500.34" cy="634.19" r="0.4" fill-opacity="0.8" fill="#94504a"/><circle cx="498.89" cy="637.58" r="0.66" fill-opacity="0.35"/><circle cx="483.91" cy="606.94" r="0.32" fill-opacity="0.5" fill="#94504a"/><circle cx="490.8" cy="638" r="0.56" fill-opacity="0.35"/><circle cx="482.46" cy="597.67" r="0.56" fill-opacity="0.65"/><circle cx="487.41" cy="602.86" r="0.66" fill-opacity="0.35" fill="#94504a"/><circle cx="498.81" cy="602.73" r="0.4" fill-opacity="0.5" fill="#94504a"/><circle cx="482.19" cy="632.85" r="0.4" fill-opacity="0.35" fill="#94504a"/><circle cx="483.77" cy="628.1" r="0.48" fill-opacity="0.65"/><circle cx="488.47" cy="605.08" r="0.4" fill-opacity="0.8"/><circle cx="481.54" cy="620.62" r="0.66" fill-opacity="0.8"/><circle cx="493.32" cy="601.17" r="0.48" fill-opacity="0.5"/><circle cx="504.9" cy="606.31" r="0.56" fill-opacity="0.65"/><circle cx="484.03" cy="641.6" r="0.56" fill-opacity="0.35"/><circle cx="493.7" cy="604.98" r="0.32" fill-opacity="0.65"/><circle cx="491.46" cy="615.77" r="0.66" fill-opacity="0.35" fill="#94504a"/><circle cx="481.01" cy="629.88" r="0.4" fill-opacity="0.65"/><circle cx="489.11" cy="617.48" r="0.56" fill-opacity="0.65" fill="#94504a"/><circle cx="504.71" cy="619.1" r="0.66" fill-opacity="0.65" fill="#94504a"/><circle cx="506.73" cy="623.32" r="0.32" fill-opacity="0.65" fill="#94504a"/></g>
</g>
<line x1="350.5" y1="536.3" x2="350.5" y2="647.3" stroke="#7d7d7d" stroke-width="0.8"/>
<line x1="404.2" y1="536.3" x2="404.2" y2="647.3" stroke="#7d7d7d" stroke-width="0.8"/>
<line x1="458" y1="536.3" x2="458" y2="647.3" stroke="#7d7d7d" stroke-width="0.8"/>
<line x1="296.3" y1="590.6" x2="512.6" y2="590.6" stroke="#ffffff" stroke-width="0.9"/>
<line x1="296.3" y1="591.6" x2="512.6" y2="591.6" stroke="#d0404a" stroke-width="1.3"/>
<rect x="0.5" y="0.5" width="519" height="682" fill="none" stroke="#000" stroke-width="1.2"/></svg>
</body></html>
